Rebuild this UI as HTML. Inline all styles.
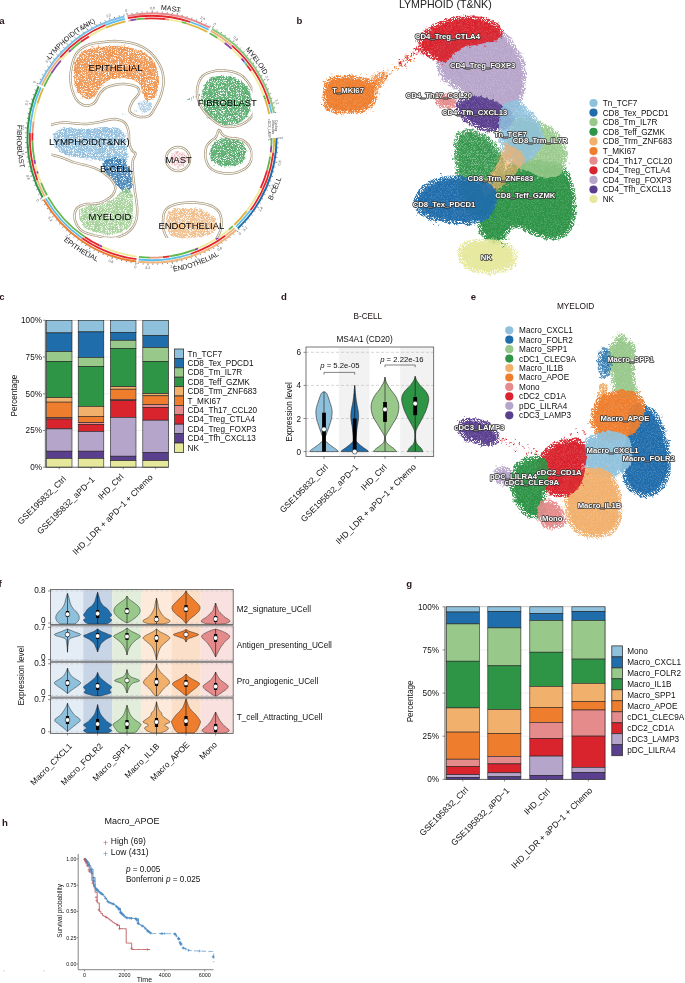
<!DOCTYPE html><html><head><meta charset="utf-8"><style>html,body{margin:0;padding:0;background:#fff;}svg{display:block;font-family:"Liberation Sans",sans-serif;will-change:transform;}</style></head><body><svg width="685" height="983" viewBox="0 0 685 983" font-family="Liberation Sans, sans-serif">
<rect width="685" height="983" fill="#fff"/>
<defs><filter id="scat" x="-3%" y="-3%" width="106%" height="106%" color-interpolation-filters="sRGB"><feTurbulence type="fractalNoise" baseFrequency="0.25" numOctaves="2" seed="2" result="t1"/><feDisplacementMap in="SourceGraphic" in2="t1" scale="4" xChannelSelector="R" yChannelSelector="G" result="disp"/><feTurbulence type="fractalNoise" baseFrequency="1.3" numOctaves="1" seed="5" result="t2"/><feColorMatrix in="t2" type="matrix" values="0 0 0 0 0 0 0 0 0 0 0 0 0 0 0 9 0 0 0 -3.4" result="mask"/><feComposite in="disp" in2="mask" operator="in" result="speck"/><feColorMatrix in="disp" type="matrix" values="0 0 0 0 0 0 0 0 0 0 0 0 0 0 0 0 0 0 1 0" result="a"/><feMorphology in="a" operator="erode" radius="2.5" result="ea"/><feComposite in="disp" in2="ea" operator="in" result="core"/><feMerge><feMergeNode in="speck"/><feMergeNode in="core"/></feMerge></filter><filter id="scat2" x="-3%" y="-3%" width="106%" height="106%" color-interpolation-filters="sRGB"><feTurbulence type="fractalNoise" baseFrequency="0.3" numOctaves="2" seed="4" result="t1"/><feDisplacementMap in="SourceGraphic" in2="t1" scale="3.5" xChannelSelector="R" yChannelSelector="G" result="disp"/><feTurbulence type="fractalNoise" baseFrequency="1.4" numOctaves="1" seed="9" result="t2"/><feColorMatrix in="t2" type="matrix" values="0 0 0 0 0 0 0 0 0 0 0 0 0 0 0 8 0 0 0 -2.75" result="mask"/><feComposite in="disp" in2="mask" operator="in"/></filter></defs>
<text x="-0.8" y="24.2" font-size="9.6" font-weight="bold" fill="#2a1818">a</text>
<path d="M127.4 15.9A124.6 124.6 0 0 1 209.7 27.6" fill="none" stroke="#E8898B" stroke-width="2.0"/>
<path d="M127.2 14.9L126.8 12.9M132.1 14L131.9 12.8M137.1 13.3L137 12.1M142.1 12.8L142 11.6M147.1 12.5L147.1 11.3M152.2 12.4L152.2 10.4M157.2 12.5L157.2 11.3M162.2 12.8L162.3 11.6M167.2 13.3L167.3 12.1M172.2 14L172.4 12.8M177.1 14.9L177.5 13M182 16L182.3 14.9M186.9 17.3L187.2 16.2M191.7 18.8L192.1 17.7M196.4 20.5L196.9 19.4M201.1 22.4L201.9 20.6M205.7 24.5L206.2 23.4M210.2 26.7L210.7 25.6" stroke="#333" stroke-width="0.6"/>
<path d="M127.8 18.2A122.2 122.2 0 0 1 190.3 22" fill="none" stroke="#E4262C" stroke-width="1.8"/>
<path d="M190.3 22A122.2 122.2 0 0 1 208.6 29.7" fill="none" stroke="#5BBDEB" stroke-width="1.8"/>
<path d="M128.4 20.8A119.6 119.6 0 0 1 130.4 20.4" fill="none" stroke="#EBB27D" stroke-width="1.8"/>
<path d="M130.4 20.4A119.6 119.6 0 0 1 136.3 19.4" fill="none" stroke="#8B45A6" stroke-width="1.8"/>
<path d="M136.3 19.4A119.6 119.6 0 0 1 144.4 18.6" fill="none" stroke="#66B74E" stroke-width="1.8"/>
<path d="M144.4 18.6A119.6 119.6 0 0 1 165.6 19.2" fill="none" stroke="#E4262C" stroke-width="1.8"/>
<path d="M165.6 19.2A119.6 119.6 0 0 1 169.1 19.6" fill="none" stroke="#EA9A7D" stroke-width="1.8"/>
<path d="M169.1 19.6A119.6 119.6 0 0 1 182 22.2" fill="none" stroke="#EEEA9A" stroke-width="1.8"/>
<path d="M182 22.2A119.6 119.6 0 0 1 186.7 23.5" fill="none" stroke="#66B74E" stroke-width="1.8"/>
<path d="M186.7 23.5A119.6 119.6 0 0 1 207.4 32" fill="none" stroke="#DDB33A" stroke-width="1.8"/>
<text transform="translate(126.3,10.6) rotate(348.6)" font-size="3.6" fill="#555" text-anchor="middle" dy="1.2">0</text>
<text transform="translate(152.2,8) rotate(360.1)" font-size="3.6" fill="#555" text-anchor="middle" dy="1.2">0.8</text>
<text transform="translate(178,10.6) rotate(371.5)" font-size="3.6" fill="#555" text-anchor="middle" dy="1.2">1.6</text>
<text transform="translate(202.8,18.3) rotate(383)" font-size="3.6" fill="#555" text-anchor="middle" dy="1.2">2.4</text>
<path d="M212 28.8A124.6 124.6 0 0 1 274.1 112.9" fill="none" stroke="#8DC67D" stroke-width="2.0"/>
<path d="M212.5 27.9L213.5 26.2M216.8 30.4L217.4 29.4M221 33L221.6 32M225 35.8L225.7 34.9M229 38.8L229.7 37.8M232.9 41.9L234.1 40.4M236.6 45.1L237.4 44.3M240.2 48.5L241 47.7M243.6 52.1L244.5 51.3M246.9 55.7L247.8 55M250.1 59.5L251.6 58.3M253.1 63.5L254.1 62.8M255.9 67.5L256.9 66.8M258.6 71.6L259.7 71M261.2 75.9L262.2 75.3M263.5 80.2L265.3 79.3M265.7 84.7L266.8 84.2M267.7 89.2L268.8 88.7M269.6 93.8L270.7 93.3M271.2 98.4L272.3 98.1M272.7 103.2L274.6 102.6M273.9 107.9L275.1 107.6M275 112.7L276.2 112.5" stroke="#333" stroke-width="0.6"/>
<path d="M210.9 30.9A122.2 122.2 0 0 1 231.9 45.6" fill="none" stroke="#EBB27D" stroke-width="1.8"/>
<path d="M231.9 45.6A122.2 122.2 0 0 1 269.4 104.2" fill="none" stroke="#E4262C" stroke-width="1.8"/>
<path d="M269.4 104.2A122.2 122.2 0 0 1 271.7 113.4" fill="none" stroke="#5BBDEB" stroke-width="1.8"/>
<path d="M209.6 33.2A119.6 119.6 0 0 1 217.5 37.9" fill="none" stroke="#66B74E" stroke-width="1.8"/>
<path d="M217.5 37.9A119.6 119.6 0 0 1 224.7 43" fill="none" stroke="#EEEA9A" stroke-width="1.8"/>
<path d="M224.7 43A119.6 119.6 0 0 1 231.7 48.8" fill="none" stroke="#8B45A6" stroke-width="1.8"/>
<path d="M231.7 48.8A119.6 119.6 0 0 1 241.5 58.7" fill="none" stroke="#EEEA9A" stroke-width="1.8"/>
<path d="M241.5 58.7A119.6 119.6 0 0 1 244.3 61.9" fill="none" stroke="#8B45A6" stroke-width="1.8"/>
<path d="M244.3 61.9A119.6 119.6 0 0 1 245.5 63.4" fill="none" stroke="#5BBDEB" stroke-width="1.8"/>
<path d="M245.5 63.4A119.6 119.6 0 0 1 247.3 65.8" fill="none" stroke="#66B74E" stroke-width="1.8"/>
<path d="M247.3 65.8A119.6 119.6 0 0 1 251.1 71.1" fill="none" stroke="#E4262C" stroke-width="1.8"/>
<path d="M251.1 71.1A119.6 119.6 0 0 1 263.8 95.6" fill="none" stroke="#EEEA9A" stroke-width="1.8"/>
<path d="M263.8 95.6A119.6 119.6 0 0 1 265.2 99.3" fill="none" stroke="#66B74E" stroke-width="1.8"/>
<path d="M265.2 99.3A119.6 119.6 0 0 1 269.2 114" fill="none" stroke="#DDB33A" stroke-width="1.8"/>
<text transform="translate(214.6,24.1) rotate(28.8)" font-size="3.6" fill="#555" text-anchor="middle" dy="1.2">0</text>
<text transform="translate(235.7,38.5) rotate(40.1)" font-size="3.6" fill="#555" text-anchor="middle" dy="1.2">0.8</text>
<text transform="translate(253.5,56.8) rotate(51.3)" font-size="3.6" fill="#555" text-anchor="middle" dy="1.2">1.6</text>
<text transform="translate(267.4,78.2) rotate(62.6)" font-size="3.6" fill="#555" text-anchor="middle" dy="1.2">2.4</text>
<text transform="translate(276.9,101.9) rotate(73.9)" font-size="3.6" fill="#555" text-anchor="middle" dy="1.2">3.2</text>
<path d="M276.6 138A124.6 124.6 0 0 1 237.8 228.4" fill="none" stroke="#1F6DAB" stroke-width="2.0"/>
<path d="M277.6 138L279.6 138M277.5 142.9L278.7 142.9M277.2 147.7L278.4 147.8M276.8 152.5L277.9 152.7M276.1 157.3L277.3 157.5M275.3 162.1L277.2 162.5M274.2 166.9L275.4 167.1M273 171.6L274.2 171.9M271.6 176.2L272.8 176.6M270.1 180.8L271.2 181.2M268.3 185.3L270.2 186.1M266.4 189.8L267.5 190.3M264.3 194.2L265.4 194.7M262.1 198.5L263.1 199.1M259.7 202.7L260.7 203.3M257.1 206.8L258.8 207.9M254.3 210.8L255.3 211.5M251.5 214.7L252.4 215.4M248.4 218.5L249.3 219.3M245.2 222.2L246.1 223M241.9 225.7L243.3 227.1M238.5 229.1L239.3 230" stroke="#333" stroke-width="0.6"/>
<path d="M274.2 138A122.2 122.2 0 0 1 273.3 152.6" fill="none" stroke="#DDB33A" stroke-width="1.8"/>
<path d="M273.3 152.6A122.2 122.2 0 0 1 250.5 210.3" fill="none" stroke="#E4262C" stroke-width="1.8"/>
<path d="M250.5 210.3A122.2 122.2 0 0 1 236.1 226.6" fill="none" stroke="#5BBDEB" stroke-width="1.8"/>
<path d="M271.6 138A119.6 119.6 0 0 1 271.3 146" fill="none" stroke="#66B74E" stroke-width="1.8"/>
<path d="M271.3 146A119.6 119.6 0 0 1 270.7 152.6" fill="none" stroke="#8B45A6" stroke-width="1.8"/>
<path d="M270.7 152.6A119.6 119.6 0 0 1 270.1 156.7" fill="none" stroke="#EEEA9A" stroke-width="1.8"/>
<path d="M270.1 156.7A119.6 119.6 0 0 1 267.1 170.6" fill="none" stroke="#66B74E" stroke-width="1.8"/>
<path d="M267.1 170.6A119.6 119.6 0 0 1 260.6 188.2" fill="none" stroke="#E4262C" stroke-width="1.8"/>
<path d="M260.6 188.2A119.6 119.6 0 0 1 246.6 211.1" fill="none" stroke="#EEEA9A" stroke-width="1.8"/>
<path d="M246.6 211.1A119.6 119.6 0 0 1 234.3 224.8" fill="none" stroke="#DDB33A" stroke-width="1.8"/>
<text transform="translate(282,138) rotate(270)" font-size="3.6" fill="#555" text-anchor="middle" dy="1.2">0</text>
<text transform="translate(279.6,163) rotate(281.1)" font-size="3.6" fill="#555" text-anchor="middle" dy="1.2">0.8</text>
<text transform="translate(272.4,187) rotate(292.1)" font-size="3.6" fill="#555" text-anchor="middle" dy="1.2">1.6</text>
<text transform="translate(260.8,209.2) rotate(303.2)" font-size="3.6" fill="#555" text-anchor="middle" dy="1.2">2.4</text>
<text transform="translate(245.1,228.8) rotate(314.3)" font-size="3.6" fill="#555" text-anchor="middle" dy="1.2">3.2</text>
<path d="M236.2 229.9A124.6 124.6 0 0 1 138.3 261.8" fill="none" stroke="#F0B57A" stroke-width="2.0"/>
<path d="M236.9 230.6L238.2 232.1M233.2 233.8L234 234.7M229.4 236.9L230.2 237.8M225.6 239.8L226.3 240.8M221.6 242.6L222.2 243.6M217.5 245.2L218.5 246.9M213.3 247.6L213.8 248.7M209 249.9L209.5 251M204.6 252.1L205.1 253.1M200.1 254L200.6 255.1M195.6 255.8L196.3 257.7M191 257.4L191.4 258.5M186.4 258.8L186.7 260M181.7 260L182 261.2M176.9 261.1L177.2 262.3M172.1 262L172.5 263.9M167.3 262.7L167.5 263.9M162.5 263.2L162.6 264.4M157.6 263.5L157.7 264.7M152.8 263.6L152.8 264.8M147.9 263.5L147.9 265.5M143.1 263.3L143 264.5M138.2 262.8L138.1 264" stroke="#333" stroke-width="0.6"/>
<path d="M234.6 228.1A122.2 122.2 0 0 1 225.2 235.8" fill="none" stroke="#EBB27D" stroke-width="1.8"/>
<path d="M225.2 235.8A122.2 122.2 0 0 1 190.5 254" fill="none" stroke="#E4262C" stroke-width="1.8"/>
<path d="M190.5 254A122.2 122.2 0 0 1 138.6 259.5" fill="none" stroke="#5BBDEB" stroke-width="1.8"/>
<path d="M232.8 226.2A119.6 119.6 0 0 1 228.9 229.6" fill="none" stroke="#66B74E" stroke-width="1.8"/>
<path d="M228.9 229.6A119.6 119.6 0 0 1 218.4 237.5" fill="none" stroke="#EEEA9A" stroke-width="1.8"/>
<path d="M218.4 237.5A119.6 119.6 0 0 1 215.6 239.3" fill="none" stroke="#8B45A6" stroke-width="1.8"/>
<path d="M215.6 239.3A119.6 119.6 0 0 1 198 248.4" fill="none" stroke="#EEEA9A" stroke-width="1.8"/>
<path d="M198 248.4A119.6 119.6 0 0 1 194.9 249.7" fill="none" stroke="#8B45A6" stroke-width="1.8"/>
<path d="M194.9 249.7A119.6 119.6 0 0 1 169.2 256.4" fill="none" stroke="#66B74E" stroke-width="1.8"/>
<path d="M169.2 256.4A119.6 119.6 0 0 1 162.7 257.1" fill="none" stroke="#E4262C" stroke-width="1.8"/>
<path d="M162.7 257.1A119.6 119.6 0 0 1 150 257.6" fill="none" stroke="#EA9A7D" stroke-width="1.8"/>
<path d="M150 257.6A119.6 119.6 0 0 1 138.9 256.9" fill="none" stroke="#66B74E" stroke-width="1.8"/>
<text transform="translate(239.8,233.8) rotate(317.5)" font-size="3.6" fill="#555" text-anchor="middle" dy="1.2">0</text>
<text transform="translate(219.7,249) rotate(328.6)" font-size="3.6" fill="#555" text-anchor="middle" dy="1.2">0.8</text>
<text transform="translate(197.1,259.9) rotate(339.7)" font-size="3.6" fill="#555" text-anchor="middle" dy="1.2">1.6</text>
<text transform="translate(172.8,266.3) rotate(350.8)" font-size="3.6" fill="#555" text-anchor="middle" dy="1.2">2.4</text>
<text transform="translate(147.8,267.9) rotate(361.9)" font-size="3.6" fill="#555" text-anchor="middle" dy="1.2">3.2</text>
<path d="M136.2 261.6A124.6 124.6 0 0 1 43.7 199.5" fill="none" stroke="#EE7E2E" stroke-width="2.0"/>
<path d="M136 262.6L135.8 264.6M131.2 261.9L131 263.1M126.5 261L126.2 262.2M121.7 259.9L121.5 261.1M117.1 258.6L116.7 259.8M112.4 257.2L111.8 259.1M107.9 255.6L107.4 256.7M103.4 253.8L102.9 254.9M98.9 251.8L98.4 252.9M94.6 249.7L94 250.8M90.3 247.4L89.3 249.1M86.1 244.9L85.5 246M82 242.3L81.4 243.3M78.1 239.5L77.4 240.5M74.2 236.6L73.5 237.5M70.5 233.5L69.2 235M66.8 230.3L66 231.2M63.3 226.9L62.5 227.8M60 223.5L59.1 224.3M56.7 219.8L55.8 220.6M53.6 216.1L52.1 217.3M50.7 212.2L49.7 213M47.9 208.3L46.9 209M45.3 204.2L44.2 204.8M42.8 200L41.7 200.6" stroke="#333" stroke-width="0.6"/>
<path d="M136.5 259.2A122.2 122.2 0 0 1 82.2 238.3" fill="none" stroke="#E4262C" stroke-width="1.8"/>
<path d="M82.2 238.3A122.2 122.2 0 0 1 45.7 198.4" fill="none" stroke="#5BBDEB" stroke-width="1.8"/>
<path d="M136.8 256.6A119.6 119.6 0 0 1 102 246.6" fill="none" stroke="#EEEA9A" stroke-width="1.8"/>
<path d="M102 246.6A119.6 119.6 0 0 1 99.3 245.4" fill="none" stroke="#8B45A6" stroke-width="1.8"/>
<path d="M99.3 245.4A119.6 119.6 0 0 1 84.8 236.9" fill="none" stroke="#E4262C" stroke-width="1.8"/>
<path d="M84.8 236.9A119.6 119.6 0 0 1 48 197.1" fill="none" stroke="#66B74E" stroke-width="1.8"/>
<text transform="translate(135.5,266.9) rotate(367.3)" font-size="3.6" fill="#555" text-anchor="middle" dy="1.2">0</text>
<text transform="translate(111,261.4) rotate(378.4)" font-size="3.6" fill="#555" text-anchor="middle" dy="1.2">0.8</text>
<text transform="translate(88.1,251.2) rotate(389.4)" font-size="3.6" fill="#555" text-anchor="middle" dy="1.2">1.6</text>
<text transform="translate(67.6,236.9) rotate(400.5)" font-size="3.6" fill="#555" text-anchor="middle" dy="1.2">2.4</text>
<text transform="translate(50.2,218.8) rotate(411.6)" font-size="3.6" fill="#555" text-anchor="middle" dy="1.2">3.2</text>
<path d="M42.6 197.6A124.6 124.6 0 0 1 38.6 86.3" fill="none" stroke="#2E9446" stroke-width="2.0"/>
<path d="M41.7 198.1L40 199.1M39.5 193.8L38.4 194.4M37.4 189.4L36.3 189.9M35.5 185L34.4 185.4M33.8 180.4L32.7 180.8M32.2 175.8L30.3 176.4M30.9 171.2L29.7 171.5M29.7 166.5L28.5 166.8M28.7 161.8L27.5 162M27.8 157L26.7 157.2M27.2 152.2L25.2 152.4M26.7 147.3L25.6 147.4M26.5 142.5L25.3 142.5M26.4 137.6L25.2 137.6M26.5 132.8L25.3 132.7M26.8 128L24.8 127.8M27.3 123.1L26.1 123M28 118.3L26.8 118.1M28.8 113.6L27.6 113.3M29.8 108.8L28.7 108.5M31.1 104.1L29.1 103.6M32.5 99.5L31.3 99.1M34 94.9L32.9 94.5M35.8 90.4L34.7 89.9M37.7 85.9L36.6 85.4" stroke="#333" stroke-width="0.6"/>
<path d="M44.7 196.5A122.2 122.2 0 0 1 37.3 180.1" fill="none" stroke="#EBB27D" stroke-width="1.8"/>
<path d="M37.3 180.1A122.2 122.2 0 0 1 29.9 133" fill="none" stroke="#E4262C" stroke-width="1.8"/>
<path d="M29.9 133A122.2 122.2 0 0 1 40.8 87.3" fill="none" stroke="#5BBDEB" stroke-width="1.8"/>
<path d="M47 195.3A119.6 119.6 0 0 1 41.1 182.8" fill="none" stroke="#66B74E" stroke-width="1.8"/>
<path d="M41.1 182.8A119.6 119.6 0 0 1 37.8 173.5" fill="none" stroke="#EEEA9A" stroke-width="1.8"/>
<path d="M37.8 173.5A119.6 119.6 0 0 1 37.1 171.2" fill="none" stroke="#8B45A6" stroke-width="1.8"/>
<path d="M37.1 171.2A119.6 119.6 0 0 1 35.2 163.7" fill="none" stroke="#EEEA9A" stroke-width="1.8"/>
<path d="M35.2 163.7A119.6 119.6 0 0 1 34.4 159.9" fill="none" stroke="#8B45A6" stroke-width="1.8"/>
<path d="M34.4 159.9A119.6 119.6 0 0 1 32.4 140.7" fill="none" stroke="#66B74E" stroke-width="1.8"/>
<path d="M32.4 140.7A119.6 119.6 0 0 1 32.5 133" fill="none" stroke="#E4262C" stroke-width="1.8"/>
<path d="M32.5 133A119.6 119.6 0 0 1 33.6 121.4" fill="none" stroke="#EA9A7D" stroke-width="1.8"/>
<path d="M33.6 121.4A119.6 119.6 0 0 1 37.5 103.5" fill="none" stroke="#EEEA9A" stroke-width="1.8"/>
<path d="M37.5 103.5A119.6 119.6 0 0 1 43.2 88.4" fill="none" stroke="#DDB33A" stroke-width="1.8"/>
<text transform="translate(37.9,200.2) rotate(421.4)" font-size="3.6" fill="#555" text-anchor="middle" dy="1.2">0</text>
<text transform="translate(28,177.2) rotate(432.5)" font-size="3.6" fill="#555" text-anchor="middle" dy="1.2">0.8</text>
<text transform="translate(22.8,152.7) rotate(443.5)" font-size="3.6" fill="#555" text-anchor="middle" dy="1.2">1.6</text>
<text transform="translate(22.4,127.6) rotate(274.6)" font-size="3.6" fill="#555" text-anchor="middle" dy="1.2">2.4</text>
<text transform="translate(26.8,102.9) rotate(285.6)" font-size="3.6" fill="#555" text-anchor="middle" dy="1.2">3.2</text>
<path d="M39.5 84.4A124.6 124.6 0 0 1 124.4 16.5" fill="none" stroke="#7EC0E6" stroke-width="2.0"/>
<path d="M38.6 83.9L36.8 83.1M40.8 79.5L39.8 79M43.2 75.2L42.2 74.6M45.8 71L44.8 70.3M48.5 66.9L47.5 66.2M51.3 62.9L49.7 61.7M54.4 59L53.4 58.2M57.5 55.2L56.6 54.4M60.9 51.6L60 50.7M64.3 48.1L63.5 47.2M67.9 44.7L66.6 43.2M71.6 41.5L70.9 40.5M75.5 38.4L74.8 37.4M79.5 35.5L78.8 34.5M83.5 32.7L82.9 31.7M87.7 30.1L86.7 28.4M92 27.7L91.4 26.6M96.4 25.4L95.8 24.3M100.8 23.3L100.3 22.2M105.4 21.4L104.9 20.3M110 19.6L109.3 17.8M114.7 18.1L114.3 16.9M119.4 16.7L119.1 15.5M124.2 15.5L123.9 14.4" stroke="#333" stroke-width="0.6"/>
<path d="M41.7 85.4A122.2 122.2 0 0 1 60.3 57.3" fill="none" stroke="#EBB27D" stroke-width="1.8"/>
<path d="M60.3 57.3A122.2 122.2 0 0 1 105.5 25" fill="none" stroke="#E4262C" stroke-width="1.8"/>
<path d="M105.5 25A122.2 122.2 0 0 1 124.9 18.8" fill="none" stroke="#5BBDEB" stroke-width="1.8"/>
<path d="M44.1 86.5A119.6 119.6 0 0 1 51.5 73.1" fill="none" stroke="#66B74E" stroke-width="1.8"/>
<path d="M51.5 73.1A119.6 119.6 0 0 1 60.9 60.5" fill="none" stroke="#8B45A6" stroke-width="1.8"/>
<path d="M60.9 60.5A119.6 119.6 0 0 1 68.9 51.9" fill="none" stroke="#EEEA9A" stroke-width="1.8"/>
<path d="M68.9 51.9A119.6 119.6 0 0 1 71 50" fill="none" stroke="#8B45A6" stroke-width="1.8"/>
<path d="M71 50A119.6 119.6 0 0 1 80.9 41.8" fill="none" stroke="#66B74E" stroke-width="1.8"/>
<path d="M80.9 41.8A119.6 119.6 0 0 1 89 36.4" fill="none" stroke="#E4262C" stroke-width="1.8"/>
<path d="M89 36.4A119.6 119.6 0 0 1 105.9 27.7" fill="none" stroke="#EEEA9A" stroke-width="1.8"/>
<path d="M105.9 27.7A119.6 119.6 0 0 1 125.5 21.4" fill="none" stroke="#DDB33A" stroke-width="1.8"/>
<text transform="translate(34.7,82) rotate(295.5)" font-size="3.6" fill="#555" text-anchor="middle" dy="1.2">0</text>
<text transform="translate(47.8,60.2) rotate(306.7)" font-size="3.6" fill="#555" text-anchor="middle" dy="1.2">0.8</text>
<text transform="translate(65,41.4) rotate(318)" font-size="3.6" fill="#555" text-anchor="middle" dy="1.2">1.6</text>
<text transform="translate(85.5,26.3) rotate(329.2)" font-size="3.6" fill="#555" text-anchor="middle" dy="1.2">2.4</text>
<text transform="translate(108.5,15.5) rotate(340.5)" font-size="3.6" fill="#555" text-anchor="middle" dy="1.2">3.2</text>
<text transform="translate(268.3,119) rotate(90)" font-size="3.4" fill="#555">cDC3_LAMP3</text>
<text transform="translate(275.3,120) rotate(90)" font-size="3.4" fill="#555">Cycling</text>
<text transform="translate(272.3,120) rotate(90)" font-size="3.4" fill="#555">Unknown</text>
<defs><path id="cw" d="M152 9.5A128.5 128.5 0 1 1 151.9 9.5"/><path id="ccw" d="M152 2.7A135.3 135.3 0 1 0 152.1 2.7"/></defs>
<text font-size="7" fill="#111"><textPath href="#cw" startOffset="2.3%" text-anchor="middle">MAST</textPath></text>
<text font-size="7" fill="#111"><textPath href="#cw" startOffset="14.9%" text-anchor="middle">MYELOID</textPath></text>
<text font-size="7" fill="#111"><textPath href="#cw" startOffset="89.1%" text-anchor="middle">LYMPHOID(T&amp;NK)</textPath></text>
<text font-size="7" fill="#111"><textPath href="#ccw" startOffset="68.8%" text-anchor="middle">B-CELL</textPath></text>
<text font-size="7" fill="#111"><textPath href="#ccw" startOffset="55.4%" text-anchor="middle">ENDOTHELIAL</textPath></text>
<text font-size="7" fill="#111"><textPath href="#ccw" startOffset="41%" text-anchor="middle">EPITHELIAL</textPath></text>
<text font-size="7" fill="#111"><textPath href="#ccw" startOffset="26%" text-anchor="middle">FIBROBLAST</textPath></text>
<g filter="url(#scat2)">
<path d="M76 60 L77.3 57.8 L78.8 55.5 L80.6 53.4 L82.7 51.5 L85 50 L87.6 48.9 L90.4 48.2 L93.5 47.7 L96.7 47.4 L100 47 L103.4 46.6 L107 46.3 L110.7 46 L114.4 45.9 L118 46 L121.5 46.3 L125.1 46.8 L128.5 47.4 L131.9 48.1 L135 49 L137.9 49.9 L140.7 50.9 L143.4 52.1 L145.8 53.4 L148 55 L150 56.8 L151.8 58.9 L153.4 61.1 L154.8 63.5 L156 66 L157 68.6 L157.8 71.5 L158.4 74.4 L158.8 77.3 L159 80 L159 82.6 L158.7 85.1 L158.3 87.6 L157.7 89.9 L157 92 L156.2 94 L155.3 95.9 L154.2 97.6 L153.1 99 L152 100 L150.8 100.6 L149.6 101 L148.3 101 L147.1 100.6 L146 100 L145 98.9 L144.2 97.3 L143.4 95.5 L142.6 93.7 L142 92 L141.6 90.5 L141.3 89 L141.1 87.6 L140.7 86.3 L140 85 L139 83.8 L137.8 82.7 L136.5 81.7 L134.9 80.8 L133 80 L130.8 79.3 L128.2 78.7 L125.5 78.3 L122.7 78 L120 78 L117.3 78.2 L114.5 78.6 L111.8 79.3 L109.2 80.1 L107 81 L105.2 82.1 L103.7 83.5 L102.4 84.9 L101.2 86.5 L100 88 L98.9 89.6 L98 91.4 L97 93.1 L96.1 94.7 L95 96 L93.7 97 L92.4 97.9 L91 98.5 L89.5 98.9 L88 99 L86.4 98.7 L84.7 98.2 L83 97.4 L81.4 96.3 L80 95 L78.7 93.4 L77.6 91.6 L76.6 89.5 L75.7 87.3 L75 85 L74.5 82.6 L74.2 80 L74 77.3 L73.9 74.6 L74 72 L74.1 69.5 L74.2 67 L74.6 64.6 L75.1 62.3Z" fill="#EC8638" fill-opacity="0.8"/>
<path d="M101 53.2h0M119.6 65.6h0M75.7 69.6h0M85.1 51.2h0M88.4 78.2h0M120.7 48.1h0M132.4 69.2h0M112.3 61.8h0M93.9 77.8h0M136.7 61.1h0M75.9 83.2h0M149.5 62.6h0M123.5 70.9h0M87.2 51.2h0M83.8 58.8h0M79.5 70.5h0M144.6 94.6h0M88 57.9h0M124.3 59.7h0M105 77.3h0M151.7 89.7h0M107 67.6h0M102.4 47.5h0M81.4 65.5h0M126.5 53h0M104.5 51.5h0M113.5 72.5h0M102.6 59.8h0M148.5 84.8h0M87.2 89.2h0M101.5 57.4h0M147.5 91.2h0M92.4 74.5h0M89.8 56.3h0M146.4 72.2h0M79.9 82.8h0M138.5 72.2h0M83.6 53.2h0M85.3 92.4h0M103.3 76.3h0M157.9 82.1h0M94.6 61.4h0M95.3 68.7h0M103.6 71h0M136.3 76.7h0M94.3 60.5h0M126.4 73.8h0M112.3 75.4h0M83.2 70.1h0M78.9 83.3h0M86 86h0M107.5 72.7h0M86.7 69.5h0M89.7 62.9h0M121.2 70h0M127.4 74.1h0M85.6 97.8h0M79.8 94.1h0M112.4 64.1h0M96 51.9h0M82.1 53.8h0M99.9 62.1h0M116.5 54.7h0M89.1 72h0M144.6 69.5h0M107.1 73.8h0M108.1 64.6h0M78.7 87.4h0M79.9 93.2h0M97.3 58.5h0M86.3 70.3h0M158.1 76.2h0M99.7 65.1h0M114.2 73.6h0M124 75.1h0M76.3 92.9h0M81.7 92.9h0M79 59.8h0M129 48.9h0M137.9 62.1h0M131.9 61.3h0M113.5 51.3h0M84.9 74.8h0M144.7 73.9h0M92.8 96.5h0M84.8 64.4h0M154 85.8h0M105.2 67.2h0M104.2 69.3h0M94.4 59.8h0M138.7 81.8h0M98.7 87.3h0M130.2 61.9h0M87.2 53.8h0M116.2 57.2h0M112.1 52.5h0M102.6 49.7h0M108.9 74.8h0M77.9 60.5h0M96.3 58.8h0M75.3 85.6h0M124.1 44.4h0M145.1 94.1h0M155.3 86.3h0M112.7 76.4h0M92.9 97.8h0M83.7 59h0M106.6 57.4h0M99 71.2h0M150.3 72h0M157 85.3h0M102.2 68.8h0M142.6 87.3h0M91.9 88.6h0M116.1 55.3h0M77.7 67.2h0M88.8 98.7h0M131 66.4h0M76.8 71.9h0M89.4 65.6h0M156.8 80.2h0M100.3 60.4h0M153.1 81.2h0M93 72h0M106.5 59h0M144.9 89.3h0M100.6 65.4h0M89.8 88.1h0M80.9 73.3h0M93.1 68.6h0M146.5 61.5h0M137.4 56h0M85.9 95.7h0M143.6 82.3h0M76 61.5h0M148.7 70.5h0M91.6 65.8h0M94.9 79.2h0M99.9 56.2h0M128.7 49.7h0M108.5 60.9h0M99.9 77.3h0M136.6 56.2h0M113 53.8h0M105.1 73.7h0M154 66.9h0M91.7 67.6h0M83.3 58.8h0M76.1 77.1h0M127.7 62.2h0M114.1 50.6h0M80.5 70.1h0M117.5 47.6h0M139 53.6h0M144.3 52.7h0M90.8 59.7h0M75.7 55h0M82.6 75.2h0M149.3 76.6h0M142.7 59.8h0M126.7 69.5h0M84.1 57.6h0M92.2 78.3h0M127.4 72h0M93.9 53.1h0M149.2 89.8h0M129.3 70.2h0M108.2 58.2h0M73.5 76.4h0M90 79.7h0M144.1 54.5h0M137.8 70.7h0M92.9 46.7h0M121.2 69.7h0M95.8 81.7h0M149.9 63.5h0M91.1 80.6h0M102.8 52.6h0M133.4 81.2h0M78.2 78.7h0M144.6 96.1h0M100.5 69h0M97.3 86h0M103 85.3h0M88.7 73.1h0M134 73.3h0M79.6 90.1h0M127.7 65.1h0M90.6 59.7h0M103.1 63.4h0M140.5 78h0M150.4 58.2h0M94.2 63.4h0M101.3 55.4h0M89.7 81.4h0M106.6 46.4h0M133.5 73.5h0M84.9 79.5h0M152.4 69.4h0M109.5 57.7h0M140.6 85.1h0M128.9 70.8h0M81.1 68.8h0M127.9 58.9h0M127.2 68.2h0M88.6 82.4h0M86.6 89.8h0M81.3 77.8h0M103.7 47.7h0M103.5 59.8h0M155.2 75h0M107 56.7h0M143.7 81.2h0M144.5 91.8h0M120.7 51.7h0M147.4 59.9h0M110 55.2h0M97.2 58.6h0M152.2 89.9h0M130.2 58.9h0M93 89.5h0M152.1 90.4h0M121.3 59.8h0M115.9 47.8h0M115.7 73.3h0M109.6 76.6h0M145.3 67.8h0M101.6 62.8h0M150.4 76.1h0M132.4 56.7h0M139.6 50.3h0M144.9 90.1h0M99 68.9h0M153.3 70.3h0M108.8 50.3h0M137 55.3h0M115.3 47.9h0M104.4 81.8h0M122.4 61.4h0M144.3 95.9h0M147.4 91.3h0M103 49.3h0M90.1 88h0M94.9 88h0M80.2 91.2h0M88.4 85.1h0M107.9 74.4h0M141.8 53.5h0M118.2 45.6h0M148.7 72.6h0M141.1 69.1h0M90.1 54.9h0M111.9 53.7h0M92 46.7h0M151.9 96.9h0M141.7 85.6h0M132 61.8h0M81.7 63.2h0M114.8 54.2h0M148.8 96h0M81 98.3h0M112.3 64.1h0M127.8 52.7h0M135.3 76.5h0M95.9 68.3h0M146.4 63.8h0M114.5 61h0M81 61.2h0M136.4 61.5h0M143.5 64.2h0M145.7 75h0M88.3 89.1h0M96.6 56.4h0M143.9 78.3h0M137 68.1h0M143.8 63.9h0M149.2 59.9h0M104.8 53.9h0M83.1 85.9h0M100.7 85.7h0M117.6 75.2h0M94.5 91.8h0M134 55.7h0M123.2 74.8h0M149 86h0M115.9 73.5h0M108.2 52.4h0M85.4 77.7h0M146.4 74.9h0M140.9 64.1h0M144.2 93.6h0M128.2 65.6h0M110.6 73.7h0M143.7 95.7h0M128.9 59.8h0M118.3 69.6h0M99.3 82h0M156.6 74.2h0M119.5 53h0M98.3 68h0M80.2 76.1h0M113 76.2h0M99.8 58.5h0M106.2 78.4h0M148.3 58.3h0M77.9 66.9h0M82.1 57.5h0M86.1 64h0M141.6 85.5h0M112.3 71h0M106.8 76.6h0M88.7 62.1h0M123.7 49.5h0M146.7 93.1h0M122.2 73.3h0M132.8 67h0M81.2 66.1h0M151.2 84.5h0M150.7 68.8h0M117.5 73.7h0M128.5 46.9h0M99.5 84.5h0M146.6 78.4h0M83.1 53.5h0M140.3 63.2h0M87.4 59.9h0M123.7 64.7h0M154.4 94h0M144.3 62h0M135.7 57.3h0M104 55.2h0M121.9 51.1h0M107.9 48.2h0M103.4 58.6h0M86.2 85.4h0M146 51.8h0M143.3 53.7h0M116.9 57.6h0M134.7 59.5h0M104.8 58.7h0M96.3 89.2h0M122.4 62.5h0M88 93.8h0M82 77h0M98.6 48.2h0M83.6 86h0M152.5 89.4h0M84.1 60.5h0M130.9 64.8h0M134 58.8h0M127.8 55h0M86.7 55.9h0M146.4 77.5h0M145.9 89.5h0M147.7 79.7h0M82.2 90.4h0M77.2 84.9h0M157.8 81.4h0M77.7 65.2h0M99.8 52.3h0M93.4 58.4h0M154.9 64.8h0M84.9 77.1h0M125.2 71.2h0M82.5 61.2h0M77.8 60.7h0M111.9 51h0M104.4 54.2h0M110.7 55.4h0M153.4 81.8h0M129.9 59h0M88.8 81.5h0M87.3 90h0M101.2 55.1h0M104.9 76.4h0M144.6 85.4h0M116 73.4h0M123.6 49.1h0M111.1 55.5h0M146.5 94.1h0M97.4 82.8h0M102.3 69.9h0M122.1 64.6h0M100.9 71.1h0M148.6 101h0M98.6 77.6h0M129.4 61.8h0M79.9 82.8h0M109.1 75.2h0M82.5 54.9h0M82.3 94.5h0M119.2 59h0M92.4 77.7h0M124.3 49.1h0M81.4 92.6h0M157 77.1h0M134.7 69.1h0M149.2 77.1h0M87.2 87.7h0M125.6 50.2h0M89.5 70.3h0M88.8 76.6h0M106 52.8h0M102.6 53.2h0M132.3 67.2h0M146.9 67.2h0M79.1 63.5h0M124.3 46.9h0M113.6 77.9h0M131.5 60.2h0M95.5 77.4h0M149.3 89.4h0M104.4 60.8h0M155.1 84h0M137.6 74h0M120.9 68h0M93.9 58h0M122.5 62h0M99 62.3h0M78.4 72.5h0M134.5 57.1h0M89 75.6h0M129.6 67.9h0M77.5 68.5h0M101.9 73.1h0M101.4 49.8h0M119.9 78.6h0M125.4 63.6h0M121.3 55h0M85.6 54.7h0M142.9 71.1h0M81.9 87h0M92.2 59h0M92.8 56.2h0M86.2 94.5h0M125.1 70.7h0M90.9 95.7h0M98.6 45.8h0M81 54.2h0M110.4 50.5h0M84.4 69.3h0M85.5 87.3h0M103.6 73.2h0M96.5 54.7h0M76.2 73.9h0M120.3 76.3h0M149.4 86.1h0M108.5 52.7h0M105.6 58.4h0M146.7 89.9h0M133.6 63.2h0M147.6 74h0M93.1 81h0M135.2 67.3h0M132.1 63.1h0M92.1 80h0M91.9 52.7h0M118.6 75h0M87.6 92.1h0M145.3 96.3h0M86 59h0M143.2 74.7h0M132.3 65.7h0M105.1 64.2h0M90.1 77.5h0M135.7 60.4h0M90.2 69h0M105.2 47h0M135.2 61.6h0M143.8 64.9h0M139 66.4h0M151.8 88.4h0M113.2 71.2h0M79.2 91.9h0M138.8 77.2h0M135.1 72.4h0M109.2 78.3h0M100 59.2h0M117.4 68.8h0M148.8 91h0M113.3 72.8h0M143 56h0M76.9 62.7h0M122.2 63.2h0M98.1 85.7h0M77.5 69.6h0M153.7 77h0M132.8 53.4h0M123.7 62.9h0M152.7 63.2h0M80.7 71.4h0M132.2 51.1h0M98 64.6h0M125.1 75.8h0M101.8 70.5h0M88.2 90.1h0M121.7 50h0M124.9 71.2h0M81 82h0M103.5 66.2h0" stroke="#EC8638" stroke-width="0.9" stroke-linecap="round" fill="none"/>
<path d="M138 104 L138.9 103 L140.4 102.2 L142.4 101.5 L144.3 101.1 L146 101 L147.5 101.2 L148.9 101.6 L150.3 102.2 L151.3 103 L152 104 L152.2 105.2 L152.1 106.8 L151.6 108.4 L150.9 109.9 L150 111 L148.7 111.7 L147 112.3 L145.2 112.5 L143.4 112.5 L142 112 L140.8 110.9 L139.5 109.2 L138.5 107.3 L138 105.4Z" fill="#9CC3E0" fill-opacity="0.6"/>
<path d="M151.5 106.5h0M138.5 106.3h0M145.2 104.8h0M140 101.3h0M144.9 111h0M146.7 110.9h0M140.7 108.2h0M147.1 109.6h0M150.4 106.2h0M152.7 105.5h0M140.7 110.2h0M142.4 101.5h0M144.7 106.7h0M149.4 108.8h0M142.5 101.9h0M146.6 105.8h0M144.4 102.9h0M148.3 109.8h0M142.3 108.1h0M150.5 105.6h0M142.3 102.6h0M147.1 103.7h0M148.6 105.9h0M138.5 109.4h0M139.6 103.4h0M143.3 106.8h0M145.6 99.5h0M138.2 107.5h0M143 113h0M142.7 109.1h0M145.5 109.3h0M148.3 107.6h0M143.2 110.4h0M149.6 103.7h0M143 113.5h0M150.2 104.5h0M144.2 111.7h0M146.1 109.2h0M147.3 103.3h0M150.7 107.7h0" stroke="#9CC3E0" stroke-width="0.9" stroke-linecap="round" fill="none"/>
<path d="M55 133 L56.3 131.6 L57.9 130.4 L59.8 129.4 L62.2 128.6 L65 128 L68.4 127.9 L72.3 128.1 L76.5 128.5 L80.8 128.9 L85 129 L89.1 128.7 L93.3 128.3 L97.5 127.7 L101.4 127.3 L105 127 L108.2 126.9 L111 126.9 L113.6 127.1 L116 127.4 L118 128 L119.7 128.8 L121.1 129.8 L122.2 131 L123.2 132.4 L124 134 L124.7 135.9 L125.1 138.1 L125.4 140.4 L125.7 142.8 L126 145 L126.5 147.1 L127 149.2 L127.6 151.3 L127.9 153.2 L128 155 L127.8 156.7 L127.4 158.2 L126.7 159.6 L125.9 160.9 L125 162 L123.9 163 L122.6 163.8 L121.2 164.4 L119.7 164.8 L118 165 L116.2 164.8 L114.2 164.2 L112.1 163.4 L110 162.6 L108 162 L106 161.5 L104.1 161.1 L102.2 160.8 L100.2 160.4 L98 160 L95.6 159.6 L93.1 159.2 L90.5 158.8 L87.8 158.4 L85 158 L82.1 157.7 L79 157.4 L75.9 157.1 L72.8 156.7 L70 156 L67.3 155.1 L64.6 154 L62.1 152.7 L59.8 151.4 L58 150 L56.6 148.5 L55.6 147 L54.9 145.4 L54.4 143.7 L54 142 L53.7 140.2 L53.6 138.3 L53.7 136.4 L54.1 134.6Z" fill="#82B6DA" fill-opacity="0.8"/>
<path d="M72.7 135.4h0M110.4 153.3h0M60.7 138h0M101.2 153.9h0M124.9 155.9h0M114.5 139.8h0M93.3 146.8h0M62.4 139.3h0M91 160.4h0M83.3 149h0M113.1 159.9h0M110.5 146h0M109.6 159.1h0M62.3 154.3h0M73.2 134.2h0M106.2 128.4h0M100.8 139.4h0M114.7 147.5h0M100.9 155.2h0M91.7 149.6h0M87.2 153.5h0M78.6 133.2h0M95.5 154.2h0M125.5 163.2h0M57 133.9h0M108 151.3h0M64.8 151.4h0M114.4 144.1h0M122.7 158.1h0M62 129.9h0M68.3 135.8h0M108.8 141.2h0M57.6 138.7h0M89.6 151.7h0M122.2 141.1h0M61.9 133.6h0M101.4 154.5h0M108.2 127.6h0M104.2 154.7h0M105.7 144.8h0M98.5 128h0M69.8 141.5h0M101.2 155.9h0M124.1 151.7h0M64.7 146.5h0M95.1 159.2h0M98.1 158.3h0M94.3 137.4h0M87.6 130.4h0M85.3 130h0M117.8 129.6h0M111.1 131.5h0M105.7 150h0M83.6 150.5h0M108.8 158.1h0M86.3 154.4h0M79.1 138.8h0M71.4 142.4h0M112.1 162h0M80.5 147.5h0M93.2 152.1h0M59 134.2h0M65.8 143.4h0M109.8 156.4h0M126.7 151.8h0M98.4 154h0M60.8 145.7h0M75.6 142.2h0M108.5 129.3h0M118.3 158.4h0M103.1 149.5h0M63.2 129.4h0M102.6 148.8h0M80.3 155.1h0M71.6 140.5h0M111.3 134.6h0M81.8 140.4h0M87.7 154.7h0M89.2 132.6h0M61.3 128.2h0M124.6 148.2h0M109.7 148.5h0M118.5 129.9h0M70.7 132.4h0M58.5 136.3h0M108.7 128.5h0M68 152.7h0M102.6 146.6h0M109.4 147.5h0M98.9 152.2h0M125.3 155.8h0M122 132.9h0M86.1 131.2h0M100.2 134.3h0M77 142.1h0M53.9 140.8h0M95.6 154.7h0M92.5 149.3h0M70.2 132.3h0M74.5 137.3h0M84.6 147.2h0M102.7 146.5h0M103 149.5h0M96.2 132.9h0M70.4 140.5h0M104.1 158.3h0M104.6 154.6h0M126.3 157.7h0M126.2 133.9h0M121.8 135h0M103.4 156.9h0M68.7 136.4h0M83.5 142.7h0M125 149.1h0M85.9 132.6h0M104.4 132h0M111.5 159.7h0M75.4 135.9h0M117.9 161.4h0M76.9 142.6h0M100.4 154h0M108.5 139.5h0M124 148.4h0M105.7 141.3h0M113.8 158.4h0M66.9 154.5h0M62.8 133.3h0M101.2 135.3h0M93.4 155.2h0M69.2 137.4h0M103.4 136.1h0M111.8 159.4h0M113.6 138.1h0M91.9 131.6h0M87.8 133.5h0M92.5 140.3h0M112.1 129.8h0M89.5 135.8h0M76.7 145h0M80.9 143.8h0M100 129.7h0M62.1 144.6h0M58.7 141.6h0M56.1 137.3h0M60.4 128.3h0M116.6 132.4h0M85.1 139.3h0M121.1 162.6h0M98.9 137.3h0M108.9 130.8h0M71.9 144.7h0M118.2 138.6h0M78.5 133.1h0M118.9 149h0M117.8 159.1h0M81.1 139.9h0M120.8 156.5h0M114.3 166.1h0M115 135.8h0M117.1 130.9h0M115.6 139.6h0M104.5 152.2h0M94.5 144.1h0M112.6 161.2h0M71.4 129.6h0M113.8 134.8h0M109.5 133.6h0M121.4 144.8h0M97.6 159.5h0M80.2 140.3h0M85.6 154.9h0M92.6 159.1h0M69.3 156h0M77.6 155.5h0M90.8 152.9h0M122.5 148.1h0M100.9 158.4h0M72.2 136.8h0M88.3 129.2h0M107.6 156.2h0M92.1 132.6h0M67.7 149.5h0M107.2 154.6h0M63.1 144.3h0M64.6 142.3h0M64.6 134.4h0M76.5 146.2h0M88.6 133.6h0M83.3 140h0M105.6 141.5h0M79.5 151.3h0M85.6 137.7h0M118 157.9h0M66.2 130.2h0M124 151.7h0M82.1 150.4h0M80.8 141.4h0M93.8 136.8h0M64.5 153.8h0M56.6 136.3h0M122.6 164.3h0M110 160.7h0M119.7 156.4h0M106.9 151.3h0M66.1 150.5h0M71.7 135h0M106.7 132.6h0M79.3 155.7h0M104.8 126.8h0M96.7 144h0M78.2 141.7h0M122.9 148.5h0M81.8 153.8h0M112.9 146.6h0M84.2 152.9h0M99.7 138.4h0M122.1 158h0M128.8 153.7h0M72.4 150.5h0M89.9 136.7h0M124.1 156.5h0M73.5 130.1h0M108.3 136h0M59.7 145.7h0M102.7 136.8h0M114.7 156.6h0M110.1 131.4h0M101.4 140.9h0M54.7 145.1h0M107.7 155.4h0M66.4 131h0M66.5 146h0M124.1 144.9h0M127.3 157.1h0M118.3 143.6h0M114.5 153.4h0M88 159.2h0M64.5 153.5h0M65.1 131.1h0M72.8 140.5h0M97.7 132.1h0M54.3 133.8h0M100.8 148.6h0M118.9 152.9h0M91.4 130.3h0M53.1 133.8h0M92 138.7h0M80.3 152.6h0M108.3 148.1h0M71.8 131.2h0M97.7 158.3h0M96.6 148.4h0M110.7 135.4h0M59.3 145h0M111.3 134.6h0M87.1 146.1h0M66.1 128.3h0M75.7 138.7h0M85.3 132.2h0M117.7 152h0M56.6 146.2h0M109.6 154.9h0M103.9 143.2h0M78 136.4h0M83.1 153.7h0M57.6 147.7h0M59.8 146.1h0M103.9 145.8h0M124.4 158.9h0M114.1 130.1h0M97.2 155.1h0M119 151.6h0M107.6 130.2h0M119.1 149.6h0M125.5 148.7h0M89.5 139.3h0M97.6 134.6h0M91.1 142.6h0M93.3 136.8h0M112.6 146.7h0M91.6 140.8h0M107 159h0M68.6 144h0M79.9 156.4h0M101.3 153.9h0M89.8 140.6h0M107.2 162.2h0M86.1 142.7h0M66.3 131.9h0M118.1 139h0M85.2 133.3h0M98.2 135.9h0M77.9 153.3h0M97.5 149h0M77.3 151.9h0M61.6 134.2h0M56.3 141h0M112.3 160h0M114 129.7h0M80.7 143.2h0M106.4 146.6h0M91.6 145.7h0M99.7 148.6h0M93.3 138.9h0M78.3 142.6h0M83.2 132.1h0M86.7 142.1h0M54.3 134.5h0M104.4 145.8h0M65.5 151.9h0M102 131h0M91.5 138.3h0M89.5 150.8h0M104.6 147.9h0M96.3 134.6h0M96 156.4h0M127.2 159.2h0M108.5 136.4h0M116.2 146.8h0M86.2 159.5h0M118.9 133.8h0M54.1 139.3h0M100.4 130.4h0M123.8 158.7h0M118.8 131.3h0M112.9 144.2h0M73.9 156h0M105.9 141.7h0M125.9 140.6h0M79.7 134h0M103 142.1h0M123.2 144.8h0M59.4 136.8h0M81.3 149.2h0M94.8 150.1h0M112.3 137.4h0M104.6 158.9h0M91.5 131.6h0M82.1 131.5h0M66.8 144.9h0M93.7 134.4h0M108.4 134.8h0M80.9 145.1h0M105.6 131.7h0M71.3 128.9h0M90 135.7h0M80.9 157.8h0M106.1 157.5h0M82.5 138.3h0M91.7 143.5h0M116.4 145h0M121.1 142.2h0M87.8 149h0M119 128.7h0M117.4 144.7h0M107.3 155.3h0M102.9 152.4h0M77.3 150h0M104 137.2h0M80.6 132.8h0M84.2 130.5h0M82.5 156.5h0M55.4 143.9h0M86.2 156.8h0M92.3 142.9h0M70.5 148.5h0M107.1 128h0M75.4 154.8h0M61.9 144.9h0M69.3 128.8h0M92.2 131.1h0M71.6 135.3h0M109.5 129.4h0M105.8 149.6h0M90.6 133.1h0M97.4 137.7h0M61 146.3h0M81 142.4h0M99.8 133.4h0M102.4 153.7h0M126.4 141.5h0M106 155.8h0M96.2 146.6h0M117 135.3h0M124.7 159.7h0M113 144.9h0M113.9 160h0M65.3 131.8h0M78.2 129.6h0M75.5 136.4h0M85.8 141h0M97.2 146.1h0M114.8 154h0M64.1 147.6h0M66.9 154.5h0M100.7 150h0M96 138.8h0M60 139.1h0M102.1 152.6h0M86.6 144.4h0M60.6 150.9h0M90.3 139.2h0M86.6 158h0M70.5 137.9h0M102.1 146.2h0M100.1 128.1h0M90.2 142h0M114 150h0M120.1 152.7h0M116 162.2h0M81.4 137.6h0M77.8 147.7h0M122.8 148.7h0M87.7 148.1h0M100.3 145.1h0M102.3 158.3h0M69.6 154.4h0M77.3 149.5h0M125.8 135.6h0M82.8 147.9h0M77.6 131.8h0M106.3 149.3h0M91.4 131.3h0M111.4 157.2h0M76.4 153.5h0M96 136.7h0M106.1 153.1h0M111.4 138h0M111.8 144.6h0M60.4 139.8h0M58.6 135.6h0M83.8 143.9h0M70.8 157.8h0M93.3 154.2h0M74.8 137h0M77.3 137h0M89.3 141h0M86.9 148.7h0M72.1 129.7h0M64.2 143.2h0M61.7 151.6h0M103.2 138.1h0M86.6 144.7h0M123.8 145.1h0M123.4 151.7h0M88.4 142.3h0M108.7 129.1h0M81.1 142.5h0M125.3 151.4h0M57.4 146.7h0" stroke="#82B6DA" stroke-width="0.9" stroke-linecap="round" fill="none"/>
<path d="M103 162 L104.2 160.6 L106.1 159.3 L108.4 158.2 L110.8 157.4 L113 157 L115 157 L117.1 157.3 L119.2 157.9 L121.2 158.8 L123 160 L124.7 161.5 L126.3 163.3 L127.7 165.4 L129 167.6 L130 170 L130.8 172.6 L131.4 175.6 L131.8 178.6 L132 181.5 L132 184 L131.8 186.3 L131.4 188.5 L130.8 190.5 L130 192 L129 193 L127.7 193.3 L126.2 193 L124.4 192.2 L122.7 191.2 L121 190 L119.4 188.6 L117.8 186.9 L116.2 185 L114.6 183 L113 181 L111.3 179 L109.5 177 L107.8 175 L106.2 173 L105 171 L104 169.1 L103.2 167.1 L102.6 165.3 L102.5 163.5Z" fill="#2F76B0" fill-opacity="0.8"/>
<path d="M114.9 165.3h0M118.5 176.4h0M122.7 182.5h0M122.3 164.3h0M115.5 164.6h0M127.5 173.3h0M127.2 178.9h0M119.3 163h0M118.3 180.6h0M129.2 186.2h0M126 167.9h0M118.9 185.2h0M126.1 164h0M118.4 179h0M111.1 169h0M124.7 178.2h0M119.3 165.5h0M107.9 160.1h0M106.9 165.3h0M110.9 176.1h0M116.5 168.4h0M128.1 169.2h0M104.9 161.3h0M105.1 164h0M131.3 168.8h0M126.2 184.9h0M123 172.2h0M120.4 187.5h0M130.2 181.6h0M128.3 184.2h0M117 174.8h0M109.7 164.9h0M111.2 160.3h0M124.7 185.3h0M106.5 169h0M124.5 184.8h0M117.8 177.6h0M122.3 178.6h0M119.6 160.5h0M115.1 177.5h0M114.9 170.1h0M120.2 169.9h0M108.9 165.5h0M116.3 170.7h0M129.1 189.2h0M122.6 174.1h0M121.1 159.4h0M108.5 168.9h0M120.7 159.8h0M121.8 168.9h0M119.2 162.2h0M130.3 175.7h0M105.3 163.9h0M125.7 171.3h0M113.4 166.1h0M107.8 162.4h0M103.3 165.7h0M118.9 168.3h0M110.1 169.1h0M123.7 190.2h0M127.7 178.5h0M122.2 169.5h0M121.9 182.3h0M112.4 162.8h0M109.1 161.9h0M117.6 162.5h0M106.7 165h0M119 184h0M123.3 186.7h0M122.4 168h0M114.1 160.5h0M119 171.3h0M125.9 176.5h0M104.9 165.5h0M111.5 171.5h0M123.9 186.7h0M111.3 161.2h0M113.1 169h0M117.7 184.8h0M123.5 171.3h0M119.1 169.7h0M127 167.5h0M119 176.7h0M122.9 180.7h0M126.3 161.5h0M106.1 176.2h0M114 174.3h0M126.4 182.2h0M123.3 173.2h0M124.2 174.7h0M119.2 172.9h0M105.1 172.1h0M122.9 177.5h0M124.9 182.6h0M116.1 166.7h0M121 162.8h0M128.7 187.5h0M111.7 167.5h0M120.2 187.9h0M119.2 169.6h0M113 178.3h0M123.6 169.2h0M133.4 186.9h0M128.4 171.5h0M119.7 161.2h0M107 171.6h0M123.6 159.7h0M106.3 171.3h0M122.8 170h0M125.7 174h0M120.8 172.1h0M111.7 164.2h0M131.5 172.6h0M107.6 169.1h0M111 174.2h0M131.2 181.8h0M121.6 163.4h0M126.3 170.8h0M124.9 183h0M128 181.9h0M112.1 169.2h0M128.4 188.1h0M111.6 168.9h0M115.2 160.5h0M123.8 175.9h0M114.3 177.8h0M111.1 160.3h0M124.8 179.7h0M127.8 179.8h0M113.9 166h0M117.6 157.8h0M120 186.3h0M111.6 171.8h0M117.3 177.5h0M121.1 181.9h0M113.3 158.2h0M106.6 169.1h0M127.6 188.2h0M113.4 159.4h0M105.5 166.4h0M118.4 162.1h0M103.5 169.2h0M118.2 168.8h0M114.8 176.7h0M126 176.6h0M119.5 172.7h0M124 184h0M127 165.8h0M116.3 176.4h0M116.7 158.2h0" stroke="#2F76B0" stroke-width="0.9" stroke-linecap="round" fill="none"/>
<path d="M80 210 L81.3 208.6 L83 207.5 L85.2 206.5 L87.5 205.7 L90 205 L92.8 204.5 L95.9 204.1 L99.1 203.9 L102.2 203.5 L105 203 L107.4 202.2 L109.5 201.4 L111.5 200.4 L113.3 199.2 L115 198 L116.6 196.5 L118.1 194.7 L119.4 192.9 L120.7 191.3 L122 190 L123.3 189.1 L124.6 188.3 L125.8 187.9 L126.9 187.7 L128 188 L129 188.7 L129.9 189.8 L130.7 191.2 L131.4 192.9 L132 195 L132.4 197.5 L132.7 200.6 L132.9 203.8 L133 207.1 L133 210 L133 212.7 L133 215.2 L132.9 217.6 L132.6 219.9 L132 222 L131.2 223.9 L130.3 225.7 L129.1 227.3 L127.7 228.7 L126 230 L123.9 231.1 L121.4 232.1 L118.7 233 L115.8 233.6 L113 234 L110.1 234.2 L107 234.2 L103.9 233.9 L100.8 233.5 L98 233 L95.3 232.3 L92.7 231.4 L90.2 230.4 L88 229.3 L86 228 L84.3 226.6 L82.9 225.1 L81.7 223.5 L80.7 221.8 L80 220 L79.5 218 L79.1 215.9 L79 213.7 L79.3 211.7Z" fill="#94C886" fill-opacity="0.75"/>
<path d="M97.3 211h0M93.5 203.6h0M105.6 225.6h0M132.6 208h0M114.1 215.6h0M128.5 197.2h0M122.7 192h0M123.9 209.6h0M86.1 210h0M92.5 231.8h0M112.2 228.8h0M85.3 211.6h0M95.1 227.5h0M92.1 223h0M106.4 234.1h0M130.3 197.3h0M132.9 203.8h0M106.9 212.9h0M84.6 225.4h0M84.9 216.4h0M92.6 229.1h0M128.6 214h0M112.1 216.6h0M109.7 228.5h0M110.7 202.1h0M124.3 209.3h0M92.1 211.5h0M121.1 210.9h0M81.6 217.5h0M116.2 202.9h0M109.1 231.6h0M93.5 209.2h0M106.5 209.8h0M114.7 211h0M125.1 216h0M129.1 213.2h0M130.2 229h0M82.5 209.1h0M81.1 213.8h0M127.4 191.4h0M114.9 218.2h0M96.1 219h0M93.2 207h0M86.5 210.2h0M105 219.1h0M109.9 211.5h0M99.4 213.5h0M114.6 216.1h0M125.1 213.1h0M92 206.5h0M127.4 220.1h0M127.7 189.7h0M108 210.8h0M115.7 203.1h0M132.8 199.9h0M121 204.2h0M131.7 218.2h0M112.2 212.3h0M98.2 209.6h0M86.5 223.8h0M122.6 233.1h0M124.5 226.1h0M122 200.6h0M97.9 205.4h0M113.4 208h0M93.3 212.2h0M85.8 211.3h0M80.1 218.4h0M101.5 223.6h0M100.4 212h0M130.4 201.1h0M117.9 200.6h0M118.5 218.5h0M115.2 203.1h0M101.9 216.3h0M98.8 204.6h0M125.3 187.4h0M127.3 216.7h0M94.3 214.8h0M89.4 218.3h0M90.7 217.6h0M117.9 210.8h0M131.1 205.6h0M125.4 204.9h0M114.8 216.5h0M89.9 206.3h0M90 220.9h0M112.7 221.4h0M116.4 205.9h0M121 215.9h0M116.2 227.8h0M100 225.6h0M100.9 215.7h0M106.4 212.9h0M120.9 213.1h0M82.8 212.9h0M87.9 223.3h0M126.4 195.5h0M118.9 208.4h0M99.8 207h0M117.8 204.1h0M93 211.5h0M129.1 208.2h0M83.9 211.9h0M129.3 216.3h0M117.6 226.3h0M93.6 209.3h0M119.9 224.1h0M98.9 209.7h0M87.1 227.7h0M120.9 194.2h0M97.2 222.8h0M125.6 194.7h0M109.7 212.3h0M121.3 214.6h0M125.8 211.3h0M117.2 206.3h0M113.5 213.2h0M104.7 209.8h0M127.7 222.6h0M107.1 210.7h0M129.4 217h0M127.9 201.3h0M127.8 189.7h0M123.2 220.2h0M119.4 219.4h0M125.7 220.7h0M110.2 219.2h0M132.8 196.4h0M92 227h0M98.7 208.5h0M110.6 220.4h0M96 222.8h0M91.2 209.7h0M120.2 225.5h0M134.1 216.7h0M95.5 218.5h0M125.9 191.5h0M121.8 219.5h0M92.8 216.3h0M108.2 215.3h0M129.9 192.5h0M92 209.6h0M83.4 225.8h0M123.4 227.9h0M124.2 190.3h0M82.9 218.2h0M127.2 217.4h0M111.2 210.6h0M93.3 211.8h0M107.2 229.3h0M106.5 215.1h0M106.5 220.3h0M122.2 219.9h0M130.2 194.1h0M98.9 229.6h0M103.9 222.2h0M121.2 194.9h0M85 218.5h0M116.6 202.5h0M120.5 229.7h0M122.5 200.4h0M122.5 213.1h0M121 196.1h0M126 221h0M79.7 209.3h0M118.5 220h0M114 220.6h0M128.7 204.1h0M130.3 218.4h0M96.6 205.7h0M120.1 230h0M84.6 211.7h0M114.7 203.3h0M100.6 230.2h0M110 223.5h0M110.6 215.8h0M117.7 222.1h0M105.3 224.2h0M82.6 224.6h0M126.9 190h0M117.8 232.6h0M101.8 218.7h0M94.6 212.2h0M83.8 219.7h0M104.8 204.6h0M133.2 221.2h0M102.4 212.3h0M106.3 223.5h0M99.2 221.4h0M131.1 208.4h0M122 218.3h0M82.2 212.1h0M87.7 214.3h0M101.3 209.4h0M127.4 214.1h0M118 208.4h0M95.3 227.2h0M96.8 207h0M107.5 214.1h0M105.2 223.9h0M117.1 213.4h0M85.2 207.7h0M123.7 225.5h0M125.6 192h0M105.5 208.7h0M100.6 210.8h0M88.5 209.8h0M92.7 225.4h0M83.3 219.6h0M120.5 209.6h0M111.4 211.9h0M95.4 219.3h0M125.3 219.3h0M111.5 234.4h0M130.7 218.9h0M120 215.7h0M119.9 208.6h0M120.2 226.6h0M94.5 221.4h0M116.6 224.6h0M118.5 202.1h0M99 212.4h0M80.9 217.4h0M100.1 228.6h0M128 189.7h0M108.2 227.8h0M95.7 231.8h0M120.6 205.6h0M97 216.2h0M116.4 230.9h0M105.1 227.7h0M99.9 218.5h0M106.2 222.4h0M99.5 214.5h0M111 208.9h0M96.7 218.4h0M92.9 214.2h0M120.3 217h0M105.1 223.8h0M126 197.6h0M124.5 208.3h0M94.2 214.8h0M85.1 207.6h0M85 216.4h0M119.5 225.5h0M96.2 226.4h0M95.2 222.1h0M126.2 206h0M132.8 223.6h0M98 225h0M104.7 214h0M104.6 210.2h0M96.6 224.6h0M99 230.7h0M99.2 203.6h0M79.4 213.2h0M128.3 214.5h0M118.5 223.5h0M126.2 229.6h0M106 211.7h0M103.6 234.7h0M129.3 195h0M111.6 214.1h0M116.1 204.5h0M128.6 212.2h0M128.3 205.3h0M118.9 227.4h0M98.4 203.1h0M99.3 210.9h0M126.1 218h0M88 213h0M119.7 204.1h0M110.6 220.1h0M113 206.6h0M131.1 194.7h0M114 203.7h0M80 214.9h0M80.2 219.3h0M120.4 217.8h0M114.9 210.8h0M97.1 207.6h0M97.7 225.3h0M93.7 214.8h0M82.7 205.7h0M94.7 210.3h0M106.8 225.8h0M130.9 221.9h0M81.9 213.6h0M83.1 220.1h0M108.1 215.3h0M117.7 226.7h0M108.5 215.1h0M119.7 222.8h0M108.3 208.7h0M86.1 206.1h0M86.8 222.6h0M120.6 210.1h0M118.6 231.1h0M102.4 211.5h0M130.5 201.5h0M116.9 207.7h0M122.4 215.7h0M130.5 204.8h0M119.3 207.4h0M112.1 228.8h0M123.3 226.4h0M87.1 217.9h0M93.4 210.3h0M94.8 230.3h0M114.2 203.4h0M125.4 223.2h0M88.7 223.5h0M123.2 209.6h0M130.8 191.5h0M88.8 217.2h0M88 209.8h0M104.7 211.6h0M120.8 196h0M95.6 212h0M85.2 219.5h0M109.1 215.7h0M98.5 222.7h0M87.8 209h0M97.4 216.7h0M116.9 209h0M83 215.8h0M118.2 206.8h0M117.5 214.1h0M91.4 220.3h0M129 201.7h0M103.6 215.3h0M128.7 196.9h0M112.9 205.8h0M99 219.5h0M121 200h0M125.7 191.1h0M111.3 206.4h0M118.3 208.1h0M123.9 206.2h0M101.9 215.9h0M93.9 229.8h0M100.5 206.8h0M97.7 211.1h0M120.1 211.2h0M129.2 190.9h0M100.8 217.2h0M120.5 205.5h0M109.9 231.4h0M116.9 231.1h0" stroke="#94C886" stroke-width="0.9" stroke-linecap="round" fill="none"/>
<path d="M202 92 L202.7 89.3 L203.6 86.7 L204.8 84.1 L206.3 81.9 L208 80 L210 78.6 L212.2 77.5 L214.6 76.8 L217.2 76.3 L220 76 L223 75.9 L226.3 76 L229.7 76.3 L233 77 L236 78 L238.8 79.4 L241.5 81.2 L244 83.3 L246.2 85.6 L248 88 L249.3 90.5 L250.2 93.3 L250.7 96.2 L251 99.1 L251 102 L250.8 104.9 L250.2 107.9 L249.4 110.8 L248.4 113.6 L247 116 L245.3 118.1 L243.2 120 L241 121.7 L238.5 123 L236 124 L233.4 124.6 L230.5 124.9 L227.6 124.8 L224.7 124.5 L222 124 L219.4 123.3 L216.8 122.3 L214.3 121.1 L212 119.7 L210 118 L208.2 116 L206.6 113.7 L205.1 111.2 L203.9 108.6 L203 106 L202.3 103.3 L201.8 100.4 L201.6 97.6 L201.7 94.7Z" fill="#45A25C" fill-opacity="0.8"/>
<path d="M205.8 107.6h0M215.7 84.1h0M237.4 121.8h0M242.5 87.7h0M223.4 76h0M224.2 120.2h0M214.3 94.2h0M209.1 109.1h0M219.2 99.9h0M230.2 106.8h0M223.4 120.5h0M203.7 93h0M220.6 107.6h0M236 80.2h0M213.9 101.9h0M220.6 92.3h0M245.5 93.5h0M228.5 88.4h0M250 103.8h0M248.9 110.4h0M232.5 81.7h0M234.1 90.2h0M244.1 110.6h0M247.6 109.3h0M224.5 116.2h0M213.2 106h0M247.1 95.7h0M243.9 98.7h0M217 99h0M233.9 107.6h0M215.6 79.7h0M242.7 115.8h0M244.7 107.3h0M243.2 102.1h0M224.8 84.1h0M207 100.7h0M231.6 101.6h0M237.8 94.1h0M237.6 82.3h0M212.7 97.3h0M238.7 110.1h0M230.6 78.6h0M249 116.9h0M226.7 89.5h0M235 107.3h0M248.3 94h0M240 121h0M208.3 100h0M241.3 87.4h0M215 117.5h0M214.5 95.7h0M221.2 77.8h0M216.7 84h0M233.9 80.1h0M242.6 96.1h0M215.7 97.7h0M228.4 108.1h0M222.2 117.6h0M230.1 110.6h0M219.2 91.3h0M227.6 99.3h0M206.7 111.7h0M226.7 124.6h0M218.1 96.9h0M239 100.1h0M205.5 103.8h0M240.7 87.6h0M231.3 114.7h0M227.5 87.1h0M238.9 83.6h0M233.3 95.3h0M219.4 105h0M234 86.7h0M211.4 112.5h0M236.4 113.9h0M225.8 81.9h0M213.7 99.3h0M245.4 93.4h0M219.5 102.5h0M246 117.2h0M212.2 77.1h0M228.7 93.6h0M232 96.1h0M209.8 116h0M223.9 85h0M219.5 103.6h0M208.6 114h0M229.4 114.8h0M236.9 117.6h0M205 88h0M222.3 117.7h0M213.7 107.3h0M245.8 96.2h0M215.6 79.8h0M214.3 87.2h0M218.5 104.8h0M230.5 90.2h0M228.7 105.2h0M232 114.5h0M248.8 105.1h0M222.9 82.7h0M241.7 120.8h0M240.6 86.5h0M227.4 114.5h0M231.7 122.4h0M228.3 92.7h0M246.3 89.2h0M210.2 110.8h0M206.3 105.3h0M243.7 90.4h0M211.3 94.7h0M248.2 96.9h0M242.2 104h0M206.3 117.4h0M205.7 83.9h0M230 90.7h0M201.7 103.4h0M232.5 102.5h0M219.4 102.6h0M208.9 86.2h0M244.1 91.4h0M251.1 103.8h0M238.4 109.7h0M237.6 92.7h0M229.1 83.2h0M219.6 96h0M228.9 95.2h0M227.5 101h0M211.3 79h0M221.9 104.2h0M223.8 106.8h0M235.7 80.7h0M239.2 93.6h0M230.9 95.2h0M211.5 106.4h0M232.1 112.6h0M217.8 106.9h0M227.8 104.8h0M225.9 108.9h0M216.1 100.1h0M229.1 90.2h0M222.4 96.9h0M230.2 79.7h0M210.3 87.3h0M235.5 95.8h0M237.1 97.6h0M234 114.1h0M214.6 111.1h0M246.6 94.6h0M246.7 111.1h0M220.8 99.4h0M227.9 88.1h0M235 77.4h0M221.9 85.7h0M235.1 89.9h0M207.7 107.1h0M217 92.6h0M247.7 96.8h0M215 93.1h0M213.5 84.5h0M236.1 97.3h0M212.8 92.3h0M212.8 86.7h0M243.8 116.3h0M231 75h0M235 97.6h0M218.2 78.8h0M222.9 114.4h0M223.8 114.8h0M230.8 79h0M219.8 88.6h0M215.7 112.9h0M231.8 114.2h0M236.5 98.5h0M215.1 90.3h0M250.7 110.1h0M237.1 108.1h0M220.2 88.9h0M222.5 94.9h0M234.7 105.4h0M230.7 124.6h0M247.6 106.8h0M208.1 84.2h0M242.1 85.5h0M242.1 105.4h0M211.2 85.3h0M220.3 95.3h0M224.1 95.1h0M224.9 107.7h0M209.2 105.7h0M241.1 95.4h0M211.2 106.7h0M235.3 91.5h0M225.5 97.1h0M224.8 89.7h0M236.9 101.7h0M229.9 110.5h0M218.1 87h0M214.7 103.7h0M238.5 102h0M205.8 110.1h0M223.7 124.9h0M237.1 94.4h0M212 90.1h0M245.9 94.1h0M235.6 82.5h0M244.1 91.5h0M218.1 121.6h0M204.7 100.4h0M233.5 115.3h0M240.5 101.9h0M249.6 88.7h0M246.6 116.5h0M230.4 108.5h0M217.5 104.5h0M210 97.5h0M240.9 118.3h0M228.9 92.7h0M231.4 88.2h0M216.4 97.7h0M222.8 104.9h0M226.6 113.3h0M235.8 81h0M214.1 82.9h0M238.5 105.9h0M203.4 94.1h0M220.8 122.2h0M248.2 111.9h0M238.6 82.1h0M215.4 116h0M236.1 95.9h0M237.7 87.1h0M219.6 87.8h0M209.7 99.8h0M238.7 105.6h0M224.4 116.6h0M244.5 108.1h0M240.1 96h0M207.3 118.1h0M235.4 82.8h0M214.5 106.6h0M222.6 83.4h0M218.4 100.4h0M226.6 78.8h0M231 81.1h0M214.7 80.7h0M235.4 116.3h0M217.6 116.9h0M237 81.7h0M225.5 108.4h0M203 97.8h0M232.6 114.2h0M214 111.3h0M240.7 91.6h0M205.9 100.1h0M234.4 107.3h0M246.9 111h0M234 120.6h0M220.4 85.3h0M239.7 81.2h0M239.2 87.4h0M210.2 96h0M229.8 101h0M223.3 118.5h0M234.5 122.2h0M233.3 103.1h0M212.7 118.2h0M210.4 92.1h0M230.6 88.7h0M235.6 87.8h0M220.1 84.8h0M218.4 78.1h0M212.6 76.9h0M238.7 107.8h0M204.6 87.7h0M214.8 101.7h0M240.9 90.4h0M242.5 114.1h0M241.2 97.9h0M213.5 112h0M238 117.4h0M211.2 114.3h0M242.4 86.5h0M218.6 105.6h0M211.2 97.4h0M234.9 95.2h0M234.3 117.1h0M235 114.9h0M228 82.8h0M205.9 94.7h0M243.5 88.4h0M210.2 105h0M211.6 85h0M242.4 119.4h0M236.8 102h0M206.1 111.4h0M211.8 101.7h0M226.4 88.1h0M242.6 81.6h0M230 92.4h0M244.1 106.6h0M246.8 92.7h0M212.9 79.4h0M241.9 98h0M246.8 96.2h0M243.4 96.5h0M216.1 87.8h0M232.9 90.1h0M240.7 111h0M226.4 117.7h0M233.2 83.3h0M236.6 119.4h0M213.1 80.7h0M250.5 104.3h0M214.3 81.5h0M230.1 111.6h0M227.1 95.2h0M236.1 107.6h0M248 102.1h0M206.6 105.5h0M216 95h0M241.6 94.9h0M233.5 111.9h0M215.7 120.3h0M222.9 95.9h0M208.8 83.3h0M220.2 98.3h0M226.7 77.2h0M234.3 123.6h0M217.5 81.2h0M224.6 81h0M216.9 96h0M223.2 78.1h0M220.4 77h0M234.8 89.8h0M211 83.9h0M210.8 86.8h0M211.9 96.1h0M212.7 88.2h0M202.7 99.3h0M216.2 95.3h0M217.4 79.7h0M226.8 110.4h0M241 97.7h0M236.4 93.5h0M244.3 87.3h0M212.5 105.5h0M222.4 124.2h0M237.1 86h0M225.4 117.2h0M219.1 86.5h0M232.2 119.7h0M248.2 104.1h0M223.3 110.2h0M227.4 116.5h0M219.4 109.5h0M212.7 98.7h0M231.1 114.7h0M230.8 106.3h0M218.3 86.5h0M237.5 102.9h0M235.2 119.3h0M213.7 79.5h0M237.7 122h0M219.8 81.9h0M226.4 83.3h0M233.1 105.7h0M209.8 96.3h0M215.2 109.8h0M220.9 110h0M235.4 85.3h0M249.7 89.7h0M225.7 93.7h0M223.9 123.8h0M205.2 97.4h0M203.5 85.1h0M241.7 83.7h0M209.1 97.1h0M225.5 102.6h0M218.7 78.1h0M231.8 84.9h0M234.4 118.6h0M226.3 85h0M201.5 96.6h0M231 123.6h0M236.7 119h0M207.8 115.4h0M206.5 93.2h0M249.2 96.7h0M220.2 88.2h0M238 115.9h0M221.6 84.2h0M230.9 95.4h0M215.5 96.1h0M246.8 89.4h0M224.2 98.3h0M226.3 99h0M217.1 92.5h0M211.6 102h0M226.2 107.5h0M244 108.8h0M239.7 99.7h0M247.7 93h0M208.9 100.2h0M248.9 100.7h0M224.4 87.2h0M230.1 104.8h0M244.5 87.2h0M230 108h0M247.2 90.8h0M235.9 82.6h0M224.2 80.4h0M233.4 102.6h0M230.2 106.5h0M217.2 76.2h0M220.6 113.9h0M227.5 110.1h0M206.7 93.3h0M212.7 92.1h0M215 98.3h0M246.5 111.4h0M215.5 77.7h0M224 118.7h0M211.2 103.4h0M209.1 98.6h0M209.9 94.3h0M216.9 101.8h0M206.2 99h0M238.6 107.2h0M227.6 105.8h0M218.1 111.7h0M212.1 107.1h0M239.6 116.1h0M236.9 98.6h0M222.1 91.2h0M237.3 114.4h0M233.5 81.1h0M233.2 88h0M218.2 108.1h0M240.8 109.2h0M231.7 110.2h0M229.3 85.9h0M247 91.7h0M216.4 80.2h0M216.7 109.4h0M235.7 87.8h0M246.7 114.2h0M209.9 102h0M235.2 82.3h0M205.6 92.5h0" stroke="#45A25C" stroke-width="0.9" stroke-linecap="round" fill="none"/>
<path d="M211 148 L211.9 146.2 L213.1 144.4 L214.5 142.7 L216.2 141.2 L218 140 L220.1 139.1 L222.4 138.5 L225 138.1 L227.5 137.9 L230 138 L232.5 138.3 L235.2 138.9 L237.8 139.7 L240.1 140.7 L242 142 L243.4 143.6 L244.6 145.6 L245.4 147.7 L245.8 149.9 L246 152 L245.8 154.1 L245.3 156.3 L244.4 158.4 L243.3 160.4 L242 162 L240.4 163.3 L238.6 164.3 L236.6 165 L234.4 165.6 L232 166 L229.3 166.2 L226.4 166.2 L223.3 166.1 L220.4 165.7 L218 165 L216 164 L214.4 162.8 L213 161.3 L211.8 159.7 L211 158 L210.4 156.2 L210.2 154.1 L210.2 152 L210.4 149.9Z" fill="#45A25C" fill-opacity="0.8"/>
<path d="M221.3 161.8h0M227.2 164.5h0M226.5 147.6h0M215.9 139.3h0M241.7 148.3h0M220.3 152.9h0M236.9 161.1h0M222.3 151.1h0M226 137.3h0M227.6 138.1h0M225.2 154.3h0M232.4 142.4h0M243.3 155.7h0M226.3 158.6h0M237.2 154.8h0M222.3 156.9h0M223.4 145.5h0M216.2 156.8h0M234.4 149h0M228.9 156.1h0M234 147.4h0M243 151.8h0M231.8 143.5h0M229.2 145.6h0M218.5 140.6h0M222.6 139.8h0M225.8 150.1h0M221.6 161.7h0M231 147.7h0M212.7 145.8h0M235.6 142.9h0M242.8 146.2h0M216.6 140.6h0M223.2 148.8h0M215.8 159.7h0M236.3 150.9h0M221.8 144.3h0M223.7 159.4h0M232.5 156.9h0M228.6 159.9h0M213.5 148.3h0M229.4 145.8h0M236.9 152.5h0M226.9 153.6h0M220.5 138.8h0M238.4 159.4h0M236.9 152.7h0M239.6 154.3h0M238.5 153.7h0M221.7 140.2h0M211.2 157h0M216.5 158.2h0M226.6 149.7h0M211.1 158.6h0M224.2 152.5h0M235.5 139.7h0M241.1 142.4h0M225.4 141.7h0M227.1 144.2h0M235.4 145.6h0M236.6 151.2h0M230.4 167.4h0M238.3 160.5h0M218.8 159.5h0M221.2 154.6h0M229.3 141.2h0M238.9 139.3h0M240 155.8h0M217.5 151.3h0M239 146.6h0M209.5 152.4h0M241.7 156.4h0M225.2 142.6h0M234.5 157h0M221.4 144.3h0M217 158.7h0M237.4 154.2h0M229.5 149.7h0M232.7 139h0M229.5 162.1h0M223.4 145h0M228.8 149.9h0M233.3 159.8h0M231.3 144.4h0M231.6 144.1h0M219.3 151.6h0M239.7 154.8h0M212.4 160.5h0M245.3 145.6h0M230.2 154.3h0M229 139.5h0M225.4 159h0M232.3 144.2h0M221.2 142.4h0M233.2 140.9h0M234.6 157.8h0M231.8 148.3h0M226.3 140.8h0M238.5 154.9h0M240 142.9h0M231.9 164.3h0M236.8 141.1h0M231 154.5h0M228 165.1h0M211 151.8h0M216 148.5h0M220.3 146h0M239.1 153.5h0M233.7 149.8h0M215.7 156.1h0M234 149.6h0M220.3 147.5h0M244.2 151.7h0M227.5 151h0M220.5 140.7h0M229.1 159.3h0M212.9 156.7h0M225.3 156.6h0M228.2 137.6h0M235.5 140.6h0M230.4 155.4h0M223.5 143.9h0M235.2 157h0M231 162.3h0M228.5 162h0M246.8 150.6h0M241.7 150.7h0M224.2 155.7h0M227.5 137.9h0M226.2 140.9h0M229.6 144.9h0M227.8 163h0M243.6 141.8h0M232 138.5h0M233.3 142.6h0M239 160.8h0M223.4 159h0M225.9 167.3h0M236.1 154.8h0M217.4 144.5h0M233.1 160.2h0M218.6 154.6h0M235.7 146.9h0M224.7 154.6h0M240.4 157.3h0M235.1 146.7h0M230.8 137.9h0M212.2 152.9h0M237.8 159.5h0M217.2 146.7h0M218.6 152.1h0M220.5 161.4h0M217.8 140.8h0M221.1 138h0M218 152.4h0M236.9 153.4h0M233.3 143.1h0M236.4 142.1h0M220.6 147.2h0M213.2 158.3h0M245.7 151.3h0M220.4 145.8h0M213.1 158.1h0M231.4 137.2h0M237.1 148.2h0M235.6 142.8h0M239.7 166.1h0M220.2 145h0M231.8 145.1h0M229 142h0M237.5 141.4h0M227 164.1h0M241 160.1h0M242.5 142.4h0M235.7 156.7h0M216.7 151.9h0M220 138.2h0M235.4 144.5h0M233.3 150.4h0M227.3 137.2h0M216.5 162.3h0M239.8 145.9h0M244 152.6h0M229 151.8h0M231 145.8h0M231.3 152.4h0M211.4 161.7h0M245.7 148.4h0M239.6 158.9h0M239.5 155.1h0M232.7 163.4h0M219.4 153.6h0M217.2 150.5h0M223.6 163.8h0M222.8 156.1h0M227.1 139.2h0M220.6 158.4h0M216.6 150.9h0M235.7 150.1h0M232 143h0M217.3 148h0M217.1 162.3h0M230.6 144h0M225.6 153.4h0M232.4 141.9h0M224.6 137.4h0M220.8 146.4h0M224.8 137.8h0M225.5 138.3h0M222.3 146.4h0M239.3 142h0M234.9 143.4h0M226.8 159.2h0M233.8 155.7h0M214.1 150.8h0M234.6 149.8h0M219.9 153.3h0M210.5 159h0M224.3 159.6h0M230.3 148.7h0M234.5 140h0M232.7 155h0M226.1 160.7h0M228.7 154.9h0M245.3 153.8h0M215.1 153.7h0M217.7 158.5h0M221.4 144h0M229.8 145.2h0M224.7 149.2h0M229.8 157.3h0M218.7 151.3h0M224.4 154.6h0M241.5 145.6h0M213.2 154.4h0M234.7 145.9h0M216.1 160.1h0M244.3 152.8h0M214 165.5h0M240.7 153.5h0M233.7 147.5h0M237.6 148.1h0M213.5 150.7h0M229 154.4h0M228.9 150.4h0M235.9 141.2h0M244.5 149.3h0M242.5 162.2h0M214.3 155.6h0M211.7 151h0" stroke="#45A25C" stroke-width="0.9" stroke-linecap="round" fill="none"/>
<path d="M167 215 L168 213.3 L169.3 211.9 L170.9 210.7 L172.8 209.8 L175 209 L177.6 208.4 L180.5 208 L183.7 207.9 L186.9 207.9 L190 208 L193.1 208.3 L196.2 208.7 L199.4 209.3 L202.3 210.1 L205 211 L207.4 212.1 L209.7 213.5 L211.8 214.9 L213.6 216.5 L215 218 L216 219.6 L216.7 221.2 L217 222.8 L217.1 224.4 L217 226 L216.7 227.5 L216.3 229 L215.5 230.5 L214.5 231.8 L213 233 L211 234 L208.5 235 L205.8 235.8 L202.9 236.4 L200 237 L197.1 237.4 L194 237.8 L191 238 L187.9 238 L185 238 L182.1 237.9 L179.3 237.7 L176.5 237.4 L174.1 236.8 L172 236 L170.4 234.9 L169.2 233.5 L168.3 231.8 L167.6 230 L167 228 L166.6 225.6 L166.3 222.8 L166.2 219.9 L166.4 217.2Z" fill="#EFB77E" fill-opacity="0.8"/>
<path d="M190.1 227.4h0M187.1 212.1h0M175.8 212.7h0M170.1 223.4h0M168.7 230.5h0M171.4 234.3h0M192.4 210h0M170 233.1h0M207.5 218.1h0M185.2 226.5h0M172.6 231.9h0M189 212.9h0M180.2 213.9h0M200 232.1h0M175.2 219h0M203.5 233.9h0M206.5 227.6h0M195.1 234.7h0M191 233.6h0M169.4 218h0M192.9 234.5h0M192.8 219.3h0M174.4 214.5h0M201.7 214.5h0M201.8 237h0M173.1 214.2h0M176.6 217.8h0M176.2 235.2h0M186.6 222h0M193.8 235.9h0M208.9 232.7h0M188.3 230.9h0M205.8 229.4h0M178.8 223h0M187.3 209.3h0M182.3 223.2h0M180.6 210.8h0M205.7 230.9h0M173.9 209.4h0M169.3 220.9h0M194.5 227.9h0M177.2 208.4h0M213.6 222.5h0M183.3 220.9h0M193.1 214.1h0M175.2 221.2h0M202 221.1h0M174.9 221.7h0M216.8 226.2h0M200 226.3h0M197.4 237.2h0M180.6 225.9h0M190.6 226.6h0M171.6 222.4h0M185.2 229.9h0M201.5 231.7h0M193.4 214.7h0M191.5 234.5h0M197.2 221.8h0M190.9 222.8h0M196.7 223h0M174.3 227.7h0M167.7 224.3h0M182.4 211.2h0M208.5 222.2h0M176.7 215.2h0M176.5 211.6h0M196.7 224.6h0M190.1 234.7h0M210.1 225h0M182.6 215.6h0M189.9 218.4h0M215.2 230.7h0M199.6 229.3h0M189.2 214.8h0M179.7 214.7h0M203.2 220.6h0M208.4 230.5h0M183.6 210.2h0M214.5 217.7h0M174.7 218.4h0M192.6 228.4h0M198.2 220.5h0M209.7 224.5h0M202.2 235.8h0M212.4 222.5h0M173.3 234.6h0M197 214.9h0M178.3 211.8h0M182.2 237h0M169.6 216.6h0M202.5 229.4h0M169.9 220.6h0M183.3 210.1h0M181.3 223.6h0M183.5 234.4h0M197 231.4h0M203.5 211.6h0M211.3 232.4h0M193.9 228.1h0M206.7 214.9h0M173.6 230.5h0M183.7 232.2h0M201.5 233.3h0M192.8 227.5h0M189.9 229.9h0M193.9 221.3h0M170.8 230.2h0M189.6 210.6h0M188.7 210.9h0M188.6 226.4h0M210.4 218.7h0M198.2 218.3h0M187.3 224h0M196.4 210.3h0M199.6 236.7h0M190.1 232.8h0M205.5 220.7h0M188.7 231.6h0M177.1 217.6h0M179.7 229.2h0M205.6 226.6h0M194.5 234h0M169.8 218.4h0M167 226h0M182 214.5h0M183.2 226h0M176 219.9h0M171 220.5h0M167.5 224.3h0M206.6 216.1h0M199 233.5h0M171.6 223h0M192.8 214.2h0M178.8 232h0M166.7 227h0M190.3 223.5h0M184.5 226.2h0M206.6 231.1h0M201.7 234.8h0M178.3 226.3h0M175.5 217h0M196.7 211.5h0M194.6 236.4h0M215.2 221.5h0M203.7 221.9h0M178.4 213h0M175.2 229.2h0M194.2 231.4h0M181.8 225.4h0M188.7 212.6h0M182.4 238.1h0M190.8 227.9h0M193.8 215.3h0M174.2 216.5h0M193 222.7h0M184.7 221h0M195.5 226.4h0M195.5 211.5h0M210.6 227.2h0M184.9 220.9h0M192.1 225.5h0M207.9 214.3h0M194.9 218.2h0M188.3 230.8h0M188.1 211.2h0M195 208.3h0M193.6 213h0M183.9 231.1h0M175.1 229.2h0M177.1 212.6h0M206.7 226.9h0M197 214.5h0M182.2 228.2h0M179.7 210.7h0M187.8 210.8h0M202.6 227.8h0M167.1 220.2h0M172.7 222.3h0M210 232.6h0M194.7 223h0M208.6 223.6h0M206.6 222.9h0M201.9 212.4h0M187.3 223.6h0M174.6 222.6h0M171.6 213h0M197.7 215.7h0M188.7 233.6h0M205.6 235.2h0M170.1 218.8h0M200.9 210.9h0M210.4 218.9h0M187.2 238.7h0M178.8 226.3h0M209.2 233.1h0M172.2 232.8h0M200.8 236h0M204.8 227h0M182.1 229.7h0M206.2 217.9h0M201.6 226.5h0M192.2 221.4h0M177.7 218.6h0M174.8 233.5h0M207.2 229.4h0M210.8 234.8h0M182 236.9h0M211.4 224.5h0M187.8 228.1h0M180 213h0M191 230.2h0M182.2 219.6h0M204 232.7h0M192.9 234.5h0M190.3 237.7h0M187 221.7h0M181.6 213.5h0M204.4 231.3h0M197.9 223.9h0M181.4 217.4h0M194.2 228.6h0M189 221.6h0M187.1 228.3h0M192.7 215.6h0M202.7 234h0M174.1 219.5h0M215.8 218.6h0M205.9 218.2h0M181.4 222.9h0M177.4 232.2h0M207.3 235.1h0M208.9 215h0M185.9 216.5h0M193.4 224.2h0M167.2 230.3h0M189.7 225.8h0M176.2 222.5h0M181.2 210.4h0M192 235.9h0M178.7 209.3h0M201.1 229.6h0M184.3 234.9h0M175.9 224.3h0M208.9 225.1h0M207.2 231.6h0M187.1 234.9h0M192.6 222.4h0M198.9 223.5h0M213.8 220.4h0M186.2 234.7h0M171.2 215.4h0M212.9 232.7h0M192.7 236.2h0M203.2 227.1h0M182.2 211.6h0M194.7 215.4h0M177.1 227.1h0M185.6 215.7h0M199.2 228.8h0M193.5 210h0M183.3 217.7h0M189.9 228h0M199.9 228h0M210.3 226.1h0M175.6 219.5h0M196.3 235.4h0M203 215.3h0M206.6 214.5h0M198.5 209.5h0M198.7 232.6h0M198.3 224.9h0M201.7 217.9h0M176.8 229.7h0M167.9 222.4h0M178.6 234h0M171 224.8h0M182.9 215.2h0M198.3 216.5h0M199.4 222.9h0M204.6 215.7h0M167.7 220.3h0M182.6 217.2h0M177.1 235.8h0M181.9 238h0M176.2 220.6h0M207.1 225.6h0M195.9 211.4h0M214.2 217.2h0M204.6 220.7h0M180.2 210.2h0M177 228.2h0M187.1 225.2h0M184.5 211.8h0M177 225.9h0M179.9 223.3h0M190.2 213.8h0M195.5 207.6h0M194.9 214.3h0M179 221.5h0" stroke="#EFB77E" stroke-width="0.9" stroke-linecap="round" fill="none"/>
<path d="M171 155 L171.9 153.9 L173.2 153.1 L174.7 152.5 L176.4 152.1 L178 152 L179.6 152.2 L181.5 152.6 L183.3 153.2 L184.8 154 L186 155 L186.8 156.2 L187.3 157.6 L187.5 159.2 L187.4 160.7 L187 162 L186.1 163.3 L184.8 164.5 L183.3 165.7 L181.6 166.5 L180 167 L178.4 167 L176.5 166.7 L174.7 166 L173.2 165.1 L172 164 L171.2 162.5 L170.7 160.5 L170.5 158.5 L170.6 156.5Z" fill="#EBA3A8" fill-opacity="0.45"/>
<path d="M183.9 164.5h0M184 164.8h0M184.9 163h0M174.8 162.9h0M186.2 160.5h0M180.3 164.7h0M177.6 152.5h0M183.1 158.8h0M177.6 155.7h0M177.1 161.2h0M178.7 165.7h0M184.2 155.9h0M171.8 164.3h0M178.5 167.3h0M172.8 157.4h0M182.2 157.8h0M179 165.7h0M173.9 158.3h0M173.7 157.5h0M171.1 157h0M173.6 155.9h0M177.7 167.3h0M171.6 160.4h0M182.7 161.8h0M185.9 158.5h0M177.8 157.5h0M175.9 151.5h0M185.4 157.2h0M183.4 163h0M178.3 158.2h0M185.9 156.5h0M172.4 163.2h0M175 159.3h0M183.7 165h0M182.6 154.3h0M176.2 157.7h0M187.8 153.2h0M177.7 154h0M175.7 158.1h0M184.9 162.5h0M174.5 164.2h0M179.9 154.7h0M183.6 166.1h0M181.3 160.3h0M173.2 158h0M183.1 152.3h0M184.5 155.5h0M184.8 163.5h0M181.7 165.8h0M182.4 161.3h0M174.7 158.1h0M173.4 159.3h0M176.2 153.5h0M183.6 161.1h0M181.6 159.7h0M176.6 158.4h0M176.4 152.2h0M179.3 156.8h0M177.3 153h0M181.9 158.5h0" stroke="#EBA3A8" stroke-width="0.9" stroke-linecap="round" fill="none"/>
<path d="M191.1 97.6h0M189 99.2h0M187.6 99.3h0M199.7 95.4h0M199.4 94.6h0M196 96.3h0M188 99.6h0M193.3 97.7h0M193.2 96.3h0M196.6 96.7h0M189.1 99.5h0M191.4 99h0M186.2 100.7h0M197.3 95.3h0M196.4 97.2h0" stroke="#3FA05A" stroke-width="1.0" stroke-linecap="round" fill="none"/>
<path d="M125.1 114.2h0M113 120h0M130.6 115.6h0M105.1 122.1h0M115 117.8h0M135.6 110.4h0M101.8 121.6h0M109 120.4h0M140.4 109.1h0M122.8 113.7h0M134.7 111.8h0M111.1 119h0M99.9 122.2h0M136.2 111.5h0M106.3 120.3h0M115.4 117.2h0M101.5 122.5h0M109.8 119.7h0M122.5 115.1h0M111.1 118.5h0M118.5 117.5h0M113.5 118.5h0M97.1 123.2h0M136.5 110.6h0M103.9 120h0M112.7 118.7h0M113.8 118.4h0M106.3 120.8h0M103.1 122.3h0M139.1 108.3h0" stroke="#9CC3E0" stroke-width="0.8" stroke-linecap="round" fill="none"/>
</g>
<clipPath id="cc"><rect x="51" y="30" width="201.5" height="208"/></clipPath>
<g clip-path="url(#cc)" fill="none"><path d="M70.7 72.9 L71.2 69.3 L72 65.3 L73 61.4 L74.3 57.6 L75.8 54.5 L77.6 52 L79.7 49.9 L82 48.1 L84.5 46.6 L87 45.3 L89.6 44.3 L92.4 43.6 L95.3 43.1 L98.3 42.7 L101.3 42.3 L104.4 41.9 L107.6 41.5 L110.9 41.2 L114.3 41.1 L117.7 41.2 L121.3 41.5 L125.1 41.9 L128.9 42.5 L132.6 43.3 L136 44.3 L139.2 45.5 L142.2 46.9 L145.1 48.5 L147.9 50.4 L150.4 52.5 L152.8 55 L155.1 57.8 L157.2 60.8 L159.1 63.8 L160.6 66.8 L161.8 69.7 L162.6 72.5 L163.1 75.4 L163.5 78.3 L163.6 81.1 L163.5 84 L163.1 86.8 L162.5 89.7 L161.8 92.4 L161 95 L160.2 97.4 L159.3 99.7 L158.3 101.8 L157.2 103.9 L156 106 L154.8 108.2 L153.5 110.4 L152.2 112.6 L150.7 114.4 L149 115.8 L147 116.6 L144.8 117 L142.4 117.1 L140.1 116.9 L138 116.5 L135.9 115.9 L133.8 115 L131.9 113.8 L130.4 112.5 L129.5 111 L129.4 109.3 L129.9 107.2 L130.8 105.1 L131.9 102.9 L133 101 L134.2 99.2 L135.7 97.6 L137.1 96 L138.3 94.5 L139 93 L139.2 91.5 L139 90.1 L138.4 88.7 L137.5 87.5 L136 86.5 L133.9 85.7 L131.1 84.9 L128 84.4 L124.7 84.1 L121.7 84 L118.7 84.2 L115.6 84.7 L112.6 85.5 L109.8 86.3 L107.4 87.2 L105.5 88.1 L104 89.1 L102.7 90.3 L101.5 91.5 L100.3 93 L99.1 94.9 L97.9 97.1 L96.8 99.3 L95.6 101.4 L94.2 103 L92.5 104.1 L90.7 104.9 L88.8 105.4 L86.8 105.6 L85 105.5 L83.2 105 L81.5 104.2 L79.8 103.1 L78.2 101.6 L76.8 100 L75.5 98.1 L74.3 95.8 L73.3 93.3 L72.4 90.7 L71.7 88 L71.1 85.2 L70.7 82.3 L70.5 79.3 L70.4 76.2Z" stroke="#AB9D80" stroke-width="2.5"/><path d="M70.7 72.9 L71.2 69.3 L72 65.3 L73 61.4 L74.3 57.6 L75.8 54.5 L77.6 52 L79.7 49.9 L82 48.1 L84.5 46.6 L87 45.3 L89.6 44.3 L92.4 43.6 L95.3 43.1 L98.3 42.7 L101.3 42.3 L104.4 41.9 L107.6 41.5 L110.9 41.2 L114.3 41.1 L117.7 41.2 L121.3 41.5 L125.1 41.9 L128.9 42.5 L132.6 43.3 L136 44.3 L139.2 45.5 L142.2 46.9 L145.1 48.5 L147.9 50.4 L150.4 52.5 L152.8 55 L155.1 57.8 L157.2 60.8 L159.1 63.8 L160.6 66.8 L161.8 69.7 L162.6 72.5 L163.1 75.4 L163.5 78.3 L163.6 81.1 L163.5 84 L163.1 86.8 L162.5 89.7 L161.8 92.4 L161 95 L160.2 97.4 L159.3 99.7 L158.3 101.8 L157.2 103.9 L156 106 L154.8 108.2 L153.5 110.4 L152.2 112.6 L150.7 114.4 L149 115.8 L147 116.6 L144.8 117 L142.4 117.1 L140.1 116.9 L138 116.5 L135.9 115.9 L133.8 115 L131.9 113.8 L130.4 112.5 L129.5 111 L129.4 109.3 L129.9 107.2 L130.8 105.1 L131.9 102.9 L133 101 L134.2 99.2 L135.7 97.6 L137.1 96 L138.3 94.5 L139 93 L139.2 91.5 L139 90.1 L138.4 88.7 L137.5 87.5 L136 86.5 L133.9 85.7 L131.1 84.9 L128 84.4 L124.7 84.1 L121.7 84 L118.7 84.2 L115.6 84.7 L112.6 85.5 L109.8 86.3 L107.4 87.2 L105.5 88.1 L104 89.1 L102.7 90.3 L101.5 91.5 L100.3 93 L99.1 94.9 L97.9 97.1 L96.8 99.3 L95.6 101.4 L94.2 103 L92.5 104.1 L90.7 104.9 L88.8 105.4 L86.8 105.6 L85 105.5 L83.2 105 L81.5 104.2 L79.8 103.1 L78.2 101.6 L76.8 100 L75.5 98.1 L74.3 95.8 L73.3 93.3 L72.4 90.7 L71.7 88 L71.1 85.2 L70.7 82.3 L70.5 79.3 L70.4 76.2Z" stroke="#fff" stroke-width="1.0"/><path d="M45 127.5 L48 125.9 L51.4 124.7 L55.1 123.7 L58.9 123.1 L62.8 122.6 L66.9 122.5 L71.3 122.9 L75.8 123.4 L80 123.8 L83.8 124 L87 123.9 L89.8 123.6 L92.4 123.2 L95 122.8 L97.8 122.3 L100.9 121.7 L104.2 120.8 L107.6 120 L110.8 119.4 L113.6 119.1 L116.1 119.2 L118.5 119.7 L120.6 120.3 L122.5 121.2 L124.1 122.3 L125.4 123.6 L126.5 125.2 L127.3 127 L127.9 128.9 L128.5 131 L128.9 133.3 L129 135.9 L129 138.6 L129.1 141.1 L129.3 143.3 L129.7 145.1 L130.2 146.6 L130.8 148 L131.4 149.2 L132 150.3 L132.7 151.2 L133.6 151.8 L134.5 152.3 L135.2 152.9 L135.5 153.8 L135.3 154.9 L134.7 156.2 L134 157.6 L133.3 159.1 L132.8 160.8 L132.6 162.6 L132.5 164.4 L132.5 166.4 L132.6 168.7 L132.8 171.3 L133 174.3 L133.4 177.7 L133.7 181.3 L134.2 185.1 L134.6 188.8 L135.1 192.6 L135.8 196.6 L136.4 200.7 L136.9 204.6 L137.2 208.1 L137.2 211.3 L137.1 214.2 L136.8 217 L136.3 219.6 L135.5 222.1 L134.4 224.5 L133.1 226.8 L131.5 228.9 L129.7 230.9 L127.6 232.6 L125.2 234.1 L122.5 235.4 L119.6 236.5 L116.6 237.4 L113.6 237.9 L110.6 238 L107.4 237.9 L104.2 237.4 L101 236.8 L97.8 236.1 L94.5 235.4 L91.1 234.5 L87.7 233.5 L84.6 232.3 L82 230.9 L79.9 229.1 L78.2 227.1 L76.8 224.9 L75.8 222.6 L75 220.4 L74.6 218.2 L74.5 216 L74.7 213.7 L75.1 211.7 L75.9 209.9 L76.9 208.4 L78.2 207.2 L79.7 206.2 L81.6 205.3 L83.8 204.6 L86.5 204.1 L89.7 203.9 L93.2 203.8 L96.5 203.5 L99.6 202.9 L102.4 201.9 L105.2 200.5 L107.7 199 L110 197.4 L111.8 195.8 L113.2 194.2 L114.2 192.4 L114.9 190.7 L115.3 188.9 L115.3 187.1 L114.9 185.3 L114.1 183.5 L113 181.8 L111.6 180 L110.1 178.3 L108.3 176.6 L106.3 174.9 L104.1 173.3 L101.8 171.7 L99.6 170.4 L97.5 169.3 L95.5 168.4 L93.5 167.6 L91.3 166.9 L89 166.1 L86.4 165.4 L83.6 164.7 L80.8 164.1 L77.9 163.4 L75 162.6 L72.2 161.7 L69.5 160.6 L66.7 159.5 L63.9 158.4 L61 157.3 L57.8 156.3 L54.5 155.5 L51.1 154.6 L47.8 153.5 L45 152 L42.3 150 L39.6 147.7 L37.3 145.2 L35.6 142.5 L35 140 L35.6 137.4 L37.2 134.7 L39.5 132 L42.2 129.5Z" stroke="#AB9D80" stroke-width="2.5"/><path d="M45 127.5 L48 125.9 L51.4 124.7 L55.1 123.7 L58.9 123.1 L62.8 122.6 L66.9 122.5 L71.3 122.9 L75.8 123.4 L80 123.8 L83.8 124 L87 123.9 L89.8 123.6 L92.4 123.2 L95 122.8 L97.8 122.3 L100.9 121.7 L104.2 120.8 L107.6 120 L110.8 119.4 L113.6 119.1 L116.1 119.2 L118.5 119.7 L120.6 120.3 L122.5 121.2 L124.1 122.3 L125.4 123.6 L126.5 125.2 L127.3 127 L127.9 128.9 L128.5 131 L128.9 133.3 L129 135.9 L129 138.6 L129.1 141.1 L129.3 143.3 L129.7 145.1 L130.2 146.6 L130.8 148 L131.4 149.2 L132 150.3 L132.7 151.2 L133.6 151.8 L134.5 152.3 L135.2 152.9 L135.5 153.8 L135.3 154.9 L134.7 156.2 L134 157.6 L133.3 159.1 L132.8 160.8 L132.6 162.6 L132.5 164.4 L132.5 166.4 L132.6 168.7 L132.8 171.3 L133 174.3 L133.4 177.7 L133.7 181.3 L134.2 185.1 L134.6 188.8 L135.1 192.6 L135.8 196.6 L136.4 200.7 L136.9 204.6 L137.2 208.1 L137.2 211.3 L137.1 214.2 L136.8 217 L136.3 219.6 L135.5 222.1 L134.4 224.5 L133.1 226.8 L131.5 228.9 L129.7 230.9 L127.6 232.6 L125.2 234.1 L122.5 235.4 L119.6 236.5 L116.6 237.4 L113.6 237.9 L110.6 238 L107.4 237.9 L104.2 237.4 L101 236.8 L97.8 236.1 L94.5 235.4 L91.1 234.5 L87.7 233.5 L84.6 232.3 L82 230.9 L79.9 229.1 L78.2 227.1 L76.8 224.9 L75.8 222.6 L75 220.4 L74.6 218.2 L74.5 216 L74.7 213.7 L75.1 211.7 L75.9 209.9 L76.9 208.4 L78.2 207.2 L79.7 206.2 L81.6 205.3 L83.8 204.6 L86.5 204.1 L89.7 203.9 L93.2 203.8 L96.5 203.5 L99.6 202.9 L102.4 201.9 L105.2 200.5 L107.7 199 L110 197.4 L111.8 195.8 L113.2 194.2 L114.2 192.4 L114.9 190.7 L115.3 188.9 L115.3 187.1 L114.9 185.3 L114.1 183.5 L113 181.8 L111.6 180 L110.1 178.3 L108.3 176.6 L106.3 174.9 L104.1 173.3 L101.8 171.7 L99.6 170.4 L97.5 169.3 L95.5 168.4 L93.5 167.6 L91.3 166.9 L89 166.1 L86.4 165.4 L83.6 164.7 L80.8 164.1 L77.9 163.4 L75 162.6 L72.2 161.7 L69.5 160.6 L66.7 159.5 L63.9 158.4 L61 157.3 L57.8 156.3 L54.5 155.5 L51.1 154.6 L47.8 153.5 L45 152 L42.3 150 L39.6 147.7 L37.3 145.2 L35.6 142.5 L35 140 L35.6 137.4 L37.2 134.7 L39.5 132 L42.2 129.5Z" stroke="#fff" stroke-width="1.0"/><path d="M198.2 84.1 L199 81.9 L199.9 79.8 L201.1 77.8 L202.6 76 L204.6 74.5 L207.1 73.2 L210.2 72.1 L213.6 71.2 L217.1 70.6 L220.7 70.4 L224.5 70.6 L228.6 71 L232.7 71.8 L236.6 73 L240 74.5 L242.9 76.5 L245.4 79 L247.6 81.8 L249.5 84.6 L251.2 87.3 L252.7 89.8 L254 92.2 L255 94.7 L255.7 97.2 L256 100 L255.9 103.1 L255.4 106.6 L254.6 110.1 L253.5 113.4 L252 116.2 L250.2 118.5 L247.9 120.6 L245.4 122.4 L242.7 123.8 L240 125 L237.2 125.9 L234.2 126.5 L231.2 126.8 L228.2 126.9 L225.5 126.6 L223 126 L220.7 125.1 L218.6 124 L216.4 122.6 L214.2 121 L211.9 119.1 L209.4 117 L207.1 114.7 L204.9 112.2 L203 109.8 L201.4 107.3 L200 104.8 L198.9 102.1 L198 99.5 L197.4 96.9 L197.1 94.3 L197 91.6 L197.2 89 L197.6 86.5Z" stroke="#AB9D80" stroke-width="2.5"/><path d="M198.2 84.1 L199 81.9 L199.9 79.8 L201.1 77.8 L202.6 76 L204.6 74.5 L207.1 73.2 L210.2 72.1 L213.6 71.2 L217.1 70.6 L220.7 70.4 L224.5 70.6 L228.6 71 L232.7 71.8 L236.6 73 L240 74.5 L242.9 76.5 L245.4 79 L247.6 81.8 L249.5 84.6 L251.2 87.3 L252.7 89.8 L254 92.2 L255 94.7 L255.7 97.2 L256 100 L255.9 103.1 L255.4 106.6 L254.6 110.1 L253.5 113.4 L252 116.2 L250.2 118.5 L247.9 120.6 L245.4 122.4 L242.7 123.8 L240 125 L237.2 125.9 L234.2 126.5 L231.2 126.8 L228.2 126.9 L225.5 126.6 L223 126 L220.7 125.1 L218.6 124 L216.4 122.6 L214.2 121 L211.9 119.1 L209.4 117 L207.1 114.7 L204.9 112.2 L203 109.8 L201.4 107.3 L200 104.8 L198.9 102.1 L198 99.5 L197.4 96.9 L197.1 94.3 L197 91.6 L197.2 89 L197.6 86.5Z" stroke="#fff" stroke-width="1.0"/><path d="M219 130 L219.7 130.3 L220.4 131.2 L221.1 132.6 L222 133.9 L223 135 L224.1 135.8 L225.4 136.4 L226.8 137 L228.3 137.5 L230 138 L232 138.3 L234.3 138.5 L236.6 138.6 L238.9 138.9 L241 139.5 L242.9 140.4 L244.7 141.6 L246.3 142.9 L247.8 144.4 L249 146 L250 147.8 L250.9 149.7 L251.5 151.8 L251.9 153.9 L252 156 L251.7 158.1 L251.2 160.2 L250.4 162.3 L249.3 164.3 L248 166 L246.4 167.5 L244.6 168.9 L242.5 170.1 L240.3 171.2 L238 172 L235.6 172.7 L233 173.2 L230.3 173.5 L227.6 173.6 L225 173.5 L222.3 173.1 L219.5 172.6 L216.7 171.8 L214.2 170.7 L212 169.5 L210.3 168 L208.8 166.2 L207.6 164.2 L206.7 162.1 L206 160 L205.5 157.7 L205.3 155.1 L205.4 152.6 L205.6 150.1 L206 148 L206.7 146.2 L207.6 144.7 L208.8 143.3 L209.9 142.1 L211 141 L212 140.1 L213.1 139.3 L214.1 138.7 L215.1 137.9 L216 137 L216.7 135.6 L217.3 133.8 L217.8 132.1 L218.4 130.7Z" stroke="#AB9D80" stroke-width="2.5"/><path d="M219 130 L219.7 130.3 L220.4 131.2 L221.1 132.6 L222 133.9 L223 135 L224.1 135.8 L225.4 136.4 L226.8 137 L228.3 137.5 L230 138 L232 138.3 L234.3 138.5 L236.6 138.6 L238.9 138.9 L241 139.5 L242.9 140.4 L244.7 141.6 L246.3 142.9 L247.8 144.4 L249 146 L250 147.8 L250.9 149.7 L251.5 151.8 L251.9 153.9 L252 156 L251.7 158.1 L251.2 160.2 L250.4 162.3 L249.3 164.3 L248 166 L246.4 167.5 L244.6 168.9 L242.5 170.1 L240.3 171.2 L238 172 L235.6 172.7 L233 173.2 L230.3 173.5 L227.6 173.6 L225 173.5 L222.3 173.1 L219.5 172.6 L216.7 171.8 L214.2 170.7 L212 169.5 L210.3 168 L208.8 166.2 L207.6 164.2 L206.7 162.1 L206 160 L205.5 157.7 L205.3 155.1 L205.4 152.6 L205.6 150.1 L206 148 L206.7 146.2 L207.6 144.7 L208.8 143.3 L209.9 142.1 L211 141 L212 140.1 L213.1 139.3 L214.1 138.7 L215.1 137.9 L216 137 L216.7 135.6 L217.3 133.8 L217.8 132.1 L218.4 130.7Z" stroke="#fff" stroke-width="1.0"/><path d="M163 225 L163 222.3 L163.1 219.3 L163.4 216.2 L164 213.4 L165 211 L166.4 209.1 L168.1 207.6 L170.1 206.4 L172.4 205.4 L175 204.5 L178 203.7 L181.3 203.2 L184.9 202.8 L188.5 202.5 L192 202.5 L195.5 202.6 L199.1 203 L202.7 203.5 L206 204.1 L209 205 L211.6 206 L213.9 207.2 L215.9 208.6 L217.6 210.2 L219 212 L220.1 214.1 L220.8 216.4 L221.3 219 L221.5 221.5 L221.5 224 L221.3 226.5 L220.7 229 L220 231.5 L219.1 233.9 L218 236 L216.8 237.9 L215.6 239.7 L214.1 241.4 L212.3 242.8 L210 244 L207 245 L203.5 245.8 L199.7 246.5 L195.8 246.9 L192 247 L188.2 246.9 L184.3 246.5 L180.5 245.8 L177 245 L174 244 L171.7 242.8 L169.8 241.3 L168.4 239.7 L167.1 237.9 L166 236 L165 234 L164.2 232 L163.6 229.8 L163.2 227.4Z" stroke="#AB9D80" stroke-width="2.5"/><path d="M163 225 L163 222.3 L163.1 219.3 L163.4 216.2 L164 213.4 L165 211 L166.4 209.1 L168.1 207.6 L170.1 206.4 L172.4 205.4 L175 204.5 L178 203.7 L181.3 203.2 L184.9 202.8 L188.5 202.5 L192 202.5 L195.5 202.6 L199.1 203 L202.7 203.5 L206 204.1 L209 205 L211.6 206 L213.9 207.2 L215.9 208.6 L217.6 210.2 L219 212 L220.1 214.1 L220.8 216.4 L221.3 219 L221.5 221.5 L221.5 224 L221.3 226.5 L220.7 229 L220 231.5 L219.1 233.9 L218 236 L216.8 237.9 L215.6 239.7 L214.1 241.4 L212.3 242.8 L210 244 L207 245 L203.5 245.8 L199.7 246.5 L195.8 246.9 L192 247 L188.2 246.9 L184.3 246.5 L180.5 245.8 L177 245 L174 244 L171.7 242.8 L169.8 241.3 L168.4 239.7 L167.1 237.9 L166 236 L165 234 L164.2 232 L163.6 229.8 L163.2 227.4Z" stroke="#fff" stroke-width="1.0"/><circle cx="178" cy="159" r="12" stroke="#AB9D80" stroke-width="2.5"/><circle cx="178" cy="159" r="12" stroke="#fff" stroke-width="1.0"/></g>
<text x="88.6" y="71.1" font-size="9.5" text-anchor="start" fill="#000" >EPITHELIAL</text>
<text x="49" y="145.4" font-size="9.5" text-anchor="start" fill="#000" >LYMPHOID(T&amp;NK)</text>
<text x="99.9" y="172.4" font-size="9.5" text-anchor="start" fill="#000" >B-CELL</text>
<text x="165.4" y="162.9" font-size="9.5" text-anchor="start" fill="#000" >MAST</text>
<text x="88.6" y="220" font-size="9.5" text-anchor="start" fill="#000" >MYELOID</text>
<text x="158.4" y="228.6" font-size="9.5" text-anchor="start" fill="#000" >ENDOTHELIAL</text>
<text x="197.8" y="105.7" font-size="9.5" text-anchor="start" fill="#000" >FIBROBLAST</text>
<text x="296.4" y="24" font-size="9.6" font-weight="bold" fill="#2a1818">b</text>
<text x="445.3" y="8.3" font-size="10.6" text-anchor="middle" fill="#222" >LYMPHOID (T&amp;NK)</text>
<g filter="url(#scat)">
<path d="M440 45 L442.2 43.4 L444.9 41.8 L448.1 40.3 L451.5 39 L455 38 L458.7 37.3 L462.6 36.9 L466.8 36.6 L470.9 36.4 L475 36 L479.2 35.4 L483.5 34.8 L487.7 34.1 L491.6 33.5 L495 33 L497.6 32.4 L499.7 31.8 L501.5 31.3 L503.2 31.3 L505 32 L507 33.7 L509 36.1 L511.1 39 L513.1 42 L515 45 L517 47.9 L519 50.9 L521 53.9 L522.7 57 L524 60 L524.9 62.9 L525.5 65.8 L525.8 68.6 L526 71.7 L526 75 L525.9 78.8 L525.7 83 L525.3 87.3 L524.7 91.4 L524 95 L523.1 98.2 L522.1 101 L520.9 103.6 L519.5 106 L518 108 L516.3 109.8 L514.4 111.3 L512.4 112.5 L510.3 113.4 L508 114 L505.6 114.3 L503.1 114.3 L500.5 113.9 L497.8 113.2 L495 112 L492.1 110.1 L489.1 107.6 L486.1 104.8 L483 102.1 L480 100 L477 98.6 L473.9 97.6 L470.8 96.8 L467.8 96 L465 95 L462.4 93.8 L460 92.5 L457.7 91.1 L455.4 89.6 L453 88 L450.5 86.2 L447.9 84.4 L445.3 82.4 L443 80.2 L441 78 L439.5 75.6 L438.2 72.9 L437.2 70.2 L436.5 67.5 L436 65 L435.8 62.6 L435.9 60.4 L436.2 58.2 L436.6 56 L437 54 L437.3 52 L437.5 50.2 L437.8 48.4 L438.6 46.6Z" fill="#B6A5CA" fill-opacity="0.92"/>
<path d="M486.5 95.8h0M468.2 40.3h0M474.6 42.4h0M446.6 61.5h0M499.6 66.7h0M499.4 39.3h0M508.7 85.2h0M480.9 51.8h0M489.8 89h0M504.9 60.4h0M464.5 71.8h0M436.9 54.1h0M500 83.3h0M499.5 79.4h0M455.1 69.3h0M487.8 53.9h0M464.6 44h0M435.8 55.5h0M508.1 78.2h0M484 94.7h0M465.7 44.4h0M442.1 70.3h0M462.2 49.3h0M477.3 71.1h0M462.9 63.9h0M439 54.3h0M460.7 92.8h0M516.8 86.6h0M480.3 92.9h0M524.9 80.2h0M520.3 71.2h0M512.2 104.9h0M444.1 73.3h0M517.1 52.1h0M510.6 111.6h0M505.6 98.8h0M515.5 96h0M502.2 34.9h0M505.8 80.5h0M481.2 40.7h0M450.1 53.1h0M472.3 43.6h0M474.6 47.7h0M493.8 70.2h0M496.6 87.7h0M509 103.9h0M515.6 51.8h0M451.7 72.3h0M515.2 67.2h0M510.1 99.9h0M461.7 87h0M498.7 68.9h0M461.4 58.4h0M476.2 59.6h0M523.3 62.3h0M523.1 75.7h0M463 68.7h0M503.5 102.5h0M442.9 57h0M439.6 74.2h0M497.8 49.1h0M470.5 47.8h0M515.3 53.2h0M489.4 56.5h0M467.8 59.9h0M471.1 47.5h0M479.7 71.9h0M471.4 96.4h0M512.1 106.6h0M482.4 46.6h0M483.2 100.6h0M465.3 68.3h0M481.1 74.6h0M495.8 110.3h0M481.8 64.8h0M517.1 85.6h0M497.9 58.9h0M455.6 74.3h0M455.7 32.2h0M492.3 93.3h0M474.1 75h0M522.9 85h0M456.4 76.7h0M510 83.1h0M445.3 56h0M517.6 73.6h0M462.6 71.8h0M485.3 58.5h0M481.4 93.4h0M523.6 71.3h0M482.2 37.2h0M501.5 60.5h0M502.5 98.7h0M472.2 62h0M506 96.7h0M469.3 65.4h0M519.7 83h0M516.2 88.2h0M502.7 59.3h0M511.5 56.3h0M510.6 70.8h0M509.4 76.4h0M498.7 103.7h0M511.9 51.1h0M505 77.8h0M450.6 40h0M519.9 59.6h0M499.5 36.3h0M486.5 71.1h0M471.9 96.1h0M443.4 54.8h0M485 68.9h0M487.4 66.9h0M451.9 63.4h0M501.9 72.7h0M485.8 63.7h0M455.3 46.2h0M499.8 69.1h0M454.6 75.1h0M434.3 59.8h0M444.8 71.1h0M509.2 60h0M455.8 47.3h0M521.9 107.5h0M502.4 107.7h0M507.4 87.6h0M464.9 52.4h0M471.4 56.4h0M496.7 53.5h0M477 54.8h0M511.1 47.4h0M523 53.3h0M461 92.3h0M505.2 38.5h0M498.4 65.8h0M466.5 72.1h0M499.1 77.7h0M515.7 49.2h0M495.5 99.4h0M498.1 93.8h0M501.9 68.4h0M513.2 109.4h0M466.3 61.2h0M472.7 61.3h0M436.2 49.3h0M494.9 97.9h0M494.7 63.1h0M463.1 56.4h0M501.3 43.6h0M510.7 100.7h0M517 68.7h0M480.3 50.2h0M505.9 105.5h0M485.9 68.1h0M515.7 52.4h0M493.6 35.5h0M470.4 55.3h0M501 96.8h0M499 111.3h0M524.3 76.5h0M451 63.2h0M486.7 59.2h0M450.1 59.5h0M440.5 81h0M456.5 47.5h0M521.8 66.6h0M503.6 87.8h0M466.7 83.8h0M479.3 76.6h0M457.3 53.2h0M468.2 89h0M440.7 54.7h0M462.4 53.7h0M510 108.7h0M455.5 78.5h0M516.7 58.7h0M467.6 74.9h0M491.2 38.7h0M499 42.7h0M482.9 69.9h0M507.2 60.5h0M500 70.9h0M501.2 63.1h0M463.8 48.2h0M445.4 41.7h0M485.5 85.7h0M509.9 94.6h0M456.4 43h0M481 64.5h0M515.8 80.6h0M466.5 96.6h0M461.6 68.6h0M487.9 55.8h0M491.8 87h0M480.8 61.9h0M482.4 65.9h0M499.7 108.1h0M510 77.4h0M482.9 100.9h0M499.2 75.5h0M460.2 43.4h0M451.5 53.9h0M500.8 51.3h0M480.6 60.9h0M471.3 85.8h0M502.8 79.1h0M450.8 67.2h0M507.4 101.5h0M488.9 90.1h0M490.1 60.5h0M476.4 38.6h0M482.4 61.7h0M496.2 95.8h0M489.1 77h0M493.5 77.5h0M474.7 93.4h0M462.6 75.5h0M520.3 83.9h0M468.9 46.1h0M480.1 42.2h0M512.9 67.1h0M489.4 75.2h0M459.5 45.4h0M459.4 60.4h0M512.4 96.4h0M447 44.2h0M492 49.4h0M493.8 86.4h0M466.2 45h0M500.7 109.5h0M495.1 65h0M500.6 57.3h0M466.5 89.3h0M470.1 41.6h0M510.8 80h0M502.8 108.6h0M449.8 62.1h0M490.8 61.3h0M508.1 37.8h0M514.9 80.3h0M522 61.7h0M446.1 50.3h0M493.8 77.9h0M464.2 80.7h0M477.3 64.6h0M505.4 51.6h0M484.6 75h0M521.5 80.6h0M502.5 100.8h0M491 55h0M502.1 64h0M509.4 112.1h0M517.3 84h0M501.6 75.9h0M519.3 85.1h0M485.9 76.1h0M462 50.5h0M470.6 77.8h0M491.3 101.3h0M521.9 64.8h0M468 38.3h0M521.6 71.1h0M484.3 67.5h0M460.6 76.4h0M481.7 72.8h0M513.5 44.5h0M496.5 88.1h0M475.2 80.9h0M467 83.8h0M471.4 88.9h0M499.6 56.9h0M523.7 73h0M486.4 67h0M481.6 79.8h0M515.7 75.3h0M511.4 49h0M462.3 61h0M465.2 60.4h0M505.8 95.7h0M482 91h0M452.1 85.3h0M470.1 93h0M489.2 67.4h0M501.3 75.6h0M483.6 82.9h0M500.1 93.2h0M475.7 81.8h0M443.1 45.7h0M484.3 55.4h0M459.3 75.5h0M484.2 91.8h0M492.1 96.5h0M458.2 72.7h0M482.5 100.4h0M492.5 100h0M462.6 88.3h0M453.9 89.2h0M484.9 100.7h0M510.4 88.5h0M477.4 69h0M510.1 91h0M446.3 64.8h0M487.3 43.3h0M478 82.8h0M472.3 48.1h0M502.3 104.2h0M444.8 82.9h0M470.7 51.6h0M477.2 64.9h0M512.7 87.3h0M467.6 85.9h0M484 80.5h0M460.2 74.4h0M480.5 78.4h0M487.8 83.8h0M444.8 60h0M519.6 93.1h0M458.9 79.4h0M514.4 49.3h0M490 108.5h0M470.5 63.6h0M509.4 59.8h0M506.8 104.3h0M507.1 111.7h0M491.8 82.6h0M520.9 76.3h0M519.8 65.7h0M487.8 43.2h0M496.5 53.2h0M450.6 78h0M450.9 75.4h0M446.2 78h0M498 35.4h0M458 43.7h0M494.3 56h0M480 39.9h0M508.3 42.4h0M461.4 50.6h0M495 40.4h0M522.1 82h0M478.3 82.5h0M463.3 88.1h0M441.6 66.2h0M482.7 47.1h0M518.9 64.9h0M497.9 105.2h0M460.1 63.7h0M460.8 63.9h0M488.2 80.5h0M510.8 74.4h0" stroke="#B6A5CA" stroke-width="1.2" stroke-linecap="round" fill="none"/>
<path d="M418 42 L418.7 39.7 L419.8 37.2 L421.3 34.6 L423.1 32.2 L425 30 L427.1 28.1 L429.4 26.4 L432 24.9 L434.9 23.4 L438 22 L441.5 20.6 L445.3 19.1 L449.4 17.8 L453.6 16.7 L458 16 L462.7 15.7 L467.7 15.7 L472.9 15.9 L477.7 16.4 L482 17 L485.7 17.9 L489.1 19 L492.1 20.3 L494.7 21.7 L497 23 L498.9 24.3 L500.5 25.7 L501.7 27.1 L502.5 28.5 L503 30 L503.1 31.6 L502.8 33.3 L502.1 35 L501.2 36.6 L500 38 L498.5 39.1 L496.7 39.9 L494.7 40.7 L492.4 41.3 L490 42 L487.3 42.7 L484.3 43.3 L481.1 43.8 L478 44.4 L475 45 L472.2 45.5 L469.5 46 L466.9 46.4 L464.4 47.1 L462 48 L459.8 49.3 L457.7 50.9 L455.7 52.7 L453.8 54.4 L452 56 L450.3 57.5 L448.8 59 L447.4 60.3 L445.8 61.4 L444 62 L441.8 62 L439.4 61.6 L436.9 60.9 L434.4 60 L432 59 L429.6 57.9 L427.1 56.6 L424.8 55.2 L422.7 53.7 L421 52 L419.7 50.2 L418.7 48.3 L418.1 46.3 L417.8 44.2Z" fill="#D9232D" fill-opacity="0.92"/>
<path d="M443.9 35.4h0M457.5 26.3h0M478.8 19.1h0M429.9 57.9h0M478.5 35.4h0M421.7 42.1h0M422.4 33.9h0M479.4 28.7h0M423.1 36.9h0M442.7 31.2h0M460.5 33.1h0M468.9 36.4h0M458 44.5h0M455.8 42.6h0M433.5 30.5h0M416.8 47.4h0M469.8 34.2h0M429.1 51.2h0M426.3 38.8h0M450.8 32.1h0M468.7 21.1h0M467.1 38.3h0M469.7 28.8h0M446 36.5h0M439.3 41.6h0M451.1 58.3h0M438.6 39.1h0M476.7 43h0M465.5 36.8h0M468 36.3h0M425.4 38h0M424 54.9h0M446.6 52.4h0M468.9 25.7h0M438.7 46.9h0M441.5 31.3h0M473.9 41.4h0M460.2 19.4h0M476.9 24.3h0M495.9 33.7h0M446.9 56h0M471.5 19.3h0M454.3 46h0M426.8 49.6h0M463.6 22.3h0M443 31.9h0M456.8 48.7h0M420.1 52.1h0M421.9 40.7h0M449.7 55.2h0M437.9 55.4h0M425.3 50.4h0M485.9 46.1h0M432.1 36.3h0M448.6 26.7h0M491.8 27.5h0M427.4 50.6h0M440.8 55.2h0M480.6 25.3h0M450 39.1h0M434.7 29.4h0M424.1 43.3h0M438.2 44.6h0M504.4 26.5h0M458.5 19.6h0M459.8 29.8h0M423.1 38.4h0M435.6 25.1h0M487 27.2h0M470.7 28h0M445 61.3h0M479.6 31.8h0M445.5 55.2h0M452.1 49h0M432.7 46.8h0M490.1 37.2h0M499.6 29.3h0M452.1 30.9h0M497.5 33.9h0M469 47.7h0M438.1 52.9h0M424.3 33.8h0M446.5 36.7h0M481.7 16.8h0M471.3 42.1h0M425.8 42.5h0M440.4 40.5h0M440.9 45.5h0M437 62.3h0M459.3 23.3h0M486.1 24.3h0M421.1 33.4h0M462.2 36.3h0M457.6 48.9h0M482.1 25.8h0M455.4 30.7h0M493.7 28h0M440.8 48h0M424.2 42h0M499.3 26.4h0M497 26.4h0M464.2 39.7h0M486.6 28.4h0M475.7 21.7h0M470.3 31.8h0M468.4 18.6h0M430.1 43.8h0M427.6 49h0M444.6 45.6h0M476.7 17.5h0M444.3 57.3h0M463.1 35.7h0M443.9 61.7h0M498.7 22.6h0M425.4 51.3h0M447.2 41.2h0M457.9 24.3h0M467.6 25.7h0M432.1 48.1h0M497.3 41.2h0M438.5 24.6h0M481.9 19.4h0M454.2 29.9h0M436.4 37.7h0M429 32.9h0M488.8 22.4h0M444.8 54.7h0M477 25.2h0M468.4 41.3h0M487.7 42.5h0M486.5 28.1h0M472.1 24.3h0M446.2 46.4h0M487.6 25.1h0M472.9 38.7h0M453.2 19.2h0M453.1 29.8h0M420.3 33.2h0M465.5 42.5h0M457.5 40.9h0M462.3 28.3h0M425.4 43.3h0M468.3 25.4h0M464.9 23.6h0M426.5 54.6h0M454.2 32.3h0M456.9 21.7h0M482.3 34.6h0M426.4 45.3h0M420.2 39h0M468.8 15.1h0M451.5 29.6h0M431.5 34h0M474.3 37.8h0M427.6 55.9h0M431.5 41.9h0M422.3 39.8h0M458.9 30.4h0M497.6 35.3h0M429.3 28.4h0M497.8 34.9h0M432.6 55.1h0M424 38.8h0M466.6 36.4h0M422.4 46.6h0M427 33.6h0M476.6 29.1h0M497.4 36.3h0M448.8 19.9h0M442.2 37.6h0M458.7 23.7h0M452.9 42.4h0M501.4 31.6h0M451.8 25h0M487.6 34.2h0M459.1 17h0M438.4 59.3h0M495.9 34.8h0M442.9 29.4h0M444.6 27.6h0M445.6 53.9h0M471.5 34.2h0M451.1 39.5h0M457.5 37.5h0M468.9 22.2h0M452 39.2h0M433.9 38h0M468 42h0M483.8 17.6h0M429.7 31.1h0M477.9 30.4h0M461.4 40.8h0M421 54h0M464.3 43.3h0M463.3 23.7h0M448.4 21h0M455.3 20.4h0M438.3 48.8h0M432.8 38.3h0M464.4 40.9h0M461.7 38.5h0M465.9 34.8h0M460.7 44.4h0M436.9 50.5h0M458.6 44.4h0M456.6 34.8h0M481.7 39.3h0M442.6 64.5h0M476.9 35.7h0M447.6 45.4h0M478.8 43.8h0M421.3 32.4h0M450 36.2h0M446.7 38.9h0M427.6 28.3h0M433.8 40.1h0M445.1 22.5h0M427.5 37.6h0M462.4 29.8h0M492.4 38.9h0M456.3 29.5h0M443 32.1h0M491.6 30h0M462.8 29.4h0M433.2 34.1h0M485.3 26.1h0M474.8 35.1h0M431.7 27.6h0M426.4 55.6h0M439.6 32.9h0M463.6 24.1h0M484.1 23.9h0M486.4 24.6h0M488.6 35.6h0M423.9 39.3h0M428.7 39.8h0M487.7 17.6h0M450.2 48.9h0M475.2 24.8h0M429.2 37h0M469.3 26.6h0M453.6 44.8h0M469.7 31.7h0M497.2 37h0M459.1 30h0M481.1 27.8h0M440 42.9h0M469.6 36.1h0M435 24.7h0M473.5 15.4h0M450.6 51.1h0M455.2 50.8h0M433.6 34.3h0M453.3 43.1h0M428.1 48.2h0M437.7 29.5h0M428.5 46.3h0M439.7 33h0M428.8 55.5h0M488.1 31.2h0M432.6 28.1h0M475.8 32.9h0M471 37.3h0M453.1 53.3h0M434.2 46.6h0M471.4 16.1h0M480.4 41.3h0M482.9 37.3h0M464.5 44.5h0M482.8 22.1h0M485.8 23.9h0M440.5 60.7h0M480.2 41.9h0M501 38.7h0M445.6 49.3h0M443.6 33.4h0M441.5 60.2h0M434.1 38.6h0M428.5 37.1h0M427.1 38.4h0M451.5 19.3h0M449.5 34.1h0M463.1 18.7h0M477.3 29.8h0M496.5 36h0M472.8 43h0M472.5 44.2h0M459.7 44.7h0M429.6 43.7h0M447.3 35.2h0M416 40.7h0M440.9 46h0M468.7 28.1h0M475.4 18.6h0M478 31h0M446.5 32.4h0M474.2 25.7h0M466.4 39.8h0M499.3 37.8h0M477.9 40.8h0" stroke="#D9232D" stroke-width="1.2" stroke-linecap="round" fill="none"/>
<path d="M400.6 61.8h0M398.5 65.9h0M421.2 51.7h0M416.5 56.1h0M406.8 56.3h0M400.2 65.7h0M422.1 42.8h0M417.5 47.8h0M400.2 64h0M401 66.1h0M407.8 57.8h0M417.9 46.2h0M425.8 48.2h0M415.7 50.1h0M425.1 39.4h0M398.9 63.2h0M401.2 60.5h0M415.3 48.6h0M399.4 62.3h0M420.8 49.6h0M402.8 60h0M406.4 58.1h0M414.6 55.1h0M413.1 53.3h0M413.6 53.7h0M407.3 56.1h0M417.2 49.5h0M400.1 62.5h0M416.9 54.2h0M413.5 50.7h0M416.7 51.1h0M410.7 56.8h0M406.9 62.5h0M420.6 54.6h0M411.3 55.4h0M418.9 50.5h0M407.3 59.3h0M406.2 57.8h0M419.8 47.7h0M406.5 53.8h0M399.4 59.7h0M392.8 64.5h0M417.9 51.3h0M406.2 58.5h0M400.6 63.9h0M426.1 48.1h0M405.6 64.2h0M410.6 53.7h0M403.1 60.7h0M414.4 52.2h0M408.7 61.2h0M417.7 52.3h0M414.3 58.4h0M412.6 52.6h0M419 49.5h0M410.6 59.2h0M420.3 48h0M415 53.4h0M418.8 50.9h0M400.4 62.9h0" stroke="#D9232D" stroke-width="1.6" stroke-linecap="round" fill="none"/>
<path d="M413.4 60.9h0M406 56.3h0M393.8 66.7h0M381.2 75.2h0M392.4 71.4h0M385.2 76h0M383.9 77.8h0M406.7 66.8h0M406.8 61h0M400.8 66h0M398.4 68.7h0M399.6 61.4h0M395.6 68.7h0M387.3 75h0M404.8 61.2h0M409.4 61.3h0M393.8 67.4h0M411.6 54.6h0M404.1 60.6h0M410.6 56.4h0M399.3 65.1h0M404.1 61.4h0M383.9 76.4h0M411.1 59.8h0M387.7 75.2h0M395.2 68.3h0M411.2 57.9h0M396.4 67h0M390.8 74.3h0M405.3 60.9h0M386.3 76.7h0M385.7 77.8h0M396.8 69.3h0M410.6 60.7h0M388.2 70.7h0" stroke="#EE7E2E" stroke-width="1.6" stroke-linecap="round" fill="none"/>
<path d="M436 95 L437.3 94.2 L439 93.6 L440.9 93.1 L443 92.9 L445 93 L447.1 93.4 L449.3 94 L451.5 94.8 L453.5 95.8 L455 97 L456.1 98.4 L456.8 100.1 L457.2 101.9 L457.3 103.6 L457 105 L456.2 106.1 L455 107.1 L453.4 108 L451.7 108.6 L450 109 L448.1 109.2 L446 109.2 L443.8 109 L441.7 108.6 L440 108 L438.6 107.1 L437.4 106 L436.3 104.7 L435.5 103.3 L435 102 L434.7 100.6 L434.6 99 L434.7 97.5 L435.2 96.1Z" fill="#E58B8B" fill-opacity="0.92"/>
<path d="M435.5 102.7h0M448 103.1h0M443.7 95.3h0M443.4 98.4h0M452.6 102.9h0M448.2 91.6h0M443.2 99h0M446.3 100.7h0M454.4 101.5h0M447.2 104h0M441.4 101.4h0M456.8 100.4h0M441.8 96.5h0M449 104.6h0M449.2 103.2h0M440.9 98.9h0M437.4 99.2h0M433.8 96.2h0M447 103.2h0M448 103.1h0M444.8 95.8h0M442.9 101.3h0M436.2 101.5h0M447.3 98.7h0M447.6 99.4h0M454.6 100.8h0M455.4 96.5h0M446.9 102.3h0M434.3 99.6h0M453.6 98h0M451.1 106h0M450.1 97.5h0M438.8 99.3h0M458.6 98.3h0M436.4 97.5h0M441.9 99.5h0M448.7 102.3h0M455 101.5h0M440.3 98.6h0M449 97.7h0" stroke="#E58B8B" stroke-width="1.2" stroke-linecap="round" fill="none"/>
<path d="M458 100 L459.7 98.7 L461.9 97.7 L464.5 96.9 L467.2 96.3 L470 96 L472.8 96 L475.8 96.2 L478.9 96.6 L482 97.2 L485 98 L488 98.9 L491.1 100 L494.2 101.3 L497.2 102.6 L500 104 L502.8 105.4 L505.5 107 L508.1 108.6 L510.3 110.2 L512 112 L513.2 113.9 L514 116 L514.5 118 L514.5 120.1 L514 122 L513 123.8 L511.5 125.6 L509.6 127.3 L507.4 128.8 L505 130 L502.4 130.9 L499.4 131.5 L496.3 131.9 L493.1 132.1 L490 132 L487 131.6 L483.9 131 L480.8 130.2 L477.8 129.2 L475 128 L472.3 126.7 L469.7 125.2 L467.3 123.5 L465 121.8 L463 120 L461.1 118.1 L459.4 116.1 L457.9 114.1 L456.7 112 L456 110 L455.7 107.9 L455.7 105.7 L456 103.6 L456.8 101.6Z" fill="#5B3F8F" fill-opacity="0.92"/>
<path d="M503 124h0M471.5 123.4h0M473.3 117.6h0M480.6 119h0M470.5 117h0M504.9 117h0M474.1 109.4h0M486.1 129.4h0M508.3 120.9h0M463.1 105.7h0M503.4 113h0M483.8 103.6h0M470.5 107.7h0M476.4 118.9h0M485.8 106.1h0M495 116.8h0M482.3 96.8h0M456.6 102h0M501.6 129.6h0M505.3 124.9h0M493.8 106.2h0M461.4 104.9h0M495.1 128.5h0M487.4 120.7h0M483.1 118h0M470.9 105.8h0M509.8 114.7h0M479.2 116h0M483.6 115.7h0M511.9 115.3h0M463.6 101.6h0M459.8 114.9h0M508.1 127.6h0M508.4 124.1h0M475 123.5h0M464.1 114.6h0M497.8 122h0M487.2 110.1h0M499.8 123.8h0M499.8 110h0M453.7 110.5h0M487.2 97.8h0M486.2 110.5h0M499.3 120.5h0M500 123.1h0M471.4 115.2h0M471.3 114.7h0M479.2 119.6h0M470 117.5h0M475.1 110.9h0M489.4 117.1h0M488 103.9h0M464.3 104.3h0M491.4 128.1h0M504.3 124.4h0M480.3 106.5h0M469.9 96.4h0M484.3 104.8h0M477.7 113.7h0M486.4 125.6h0M487.7 131.8h0M493.1 97h0M488.2 103h0M498.8 125.8h0M497.3 112.6h0M487 121.8h0M496 125.3h0M465.9 102.3h0M493.6 127.1h0M463.9 122h0M474.2 113.3h0M475.9 107.9h0M479.6 108h0M490.2 129.8h0M467.8 119.3h0M493.9 104.9h0M505.6 108.8h0M481 109.7h0M488.9 108.8h0M483.5 127.6h0M468.5 114.2h0M480.5 128.2h0M507.9 113.8h0M501.9 120.1h0M466.6 124.9h0M462.8 116.3h0M491.8 100.5h0M495 131h0M472.9 104.8h0M498 109.6h0M469.7 109.1h0M486.7 133.5h0M486.7 99.5h0M474.2 119.3h0M488.4 99.5h0M507.9 119.5h0M489.8 111.9h0M510.5 115.6h0M495.1 115.7h0M509 121.9h0M506.5 124.7h0M468.7 98.9h0M490.2 120.1h0M504.6 108.5h0M474.7 98.3h0M505.4 109h0M500 111.9h0M471.7 94.2h0M500.8 129.6h0M467 115.4h0M507 122.5h0M510.8 119.6h0M492.2 127.9h0M494.6 108.6h0M505.1 118.8h0M485 99.8h0M473.9 125.5h0M506.6 117.9h0M473.5 113.6h0M483.8 104.3h0M481.1 104.7h0M481.1 112h0M480.9 110.4h0M483 101.3h0M471.2 111.4h0M482.3 123.2h0M495.5 107.2h0M506.4 121.6h0M475.6 100.9h0M488.1 124.7h0M475 131.8h0M482.3 116.7h0M481.8 118.5h0M487.2 128.6h0M509.2 109.9h0M502.2 127.4h0M463.2 115.6h0M494.4 123.2h0M510.1 121.3h0M485 105.6h0M460.7 99.7h0M500.8 107.4h0M458.8 104.1h0M485.7 110.3h0M481 99.8h0M469.5 106.5h0M500.6 110.3h0M501.8 128h0M492.3 119.7h0M468.8 105.6h0M468.1 102.5h0M479.4 103.4h0M488 131h0M474 114.9h0M496.1 106h0M470 105.5h0M465.2 121.2h0M458.5 99.9h0M464 111.6h0M479 104.4h0M511.4 122.8h0M476 119.4h0M473 120.8h0M467.1 113.8h0M465.8 120.5h0M495.1 116.2h0M474.4 112.2h0M505.9 121.6h0M483.4 124.9h0M473.3 129h0M477.3 97.9h0M486 131.6h0M492.8 121.3h0M494.4 111.9h0M490.7 106.9h0M461.2 101.5h0M463.9 97.7h0M493.4 113h0M471 111.7h0M489.9 122.6h0M485.3 116.5h0M457.7 102h0M505.7 126.2h0M502.8 134.4h0M499 120.8h0M488 110.4h0M491.6 128h0M475.1 116.6h0M493.5 100.3h0M477.4 127.2h0M488.1 106.2h0M492.6 104.2h0M476 102.1h0M484.6 107.6h0M493.9 122.4h0M463 100h0M468.5 118h0M500.8 115.9h0M467.9 98.1h0M481.2 125.8h0" stroke="#5B3F8F" stroke-width="1.2" stroke-linecap="round" fill="none"/>
<path d="M456 135 L457.8 133.1 L460.1 131.5 L462.7 130.3 L465.4 129.5 L468 129 L470.4 128.9 L472.8 129.3 L475.2 130 L477.6 130.9 L480 132 L482.5 133.2 L485 134.7 L487.5 136.4 L489.9 138.2 L492 140 L493.9 141.8 L495.6 143.6 L497.2 145.5 L498.7 147.6 L500 150 L501.4 152.6 L502.7 155.4 L503.9 158.4 L504.7 161.6 L505 165 L504.7 168.8 L503.9 172.9 L502.7 177.1 L501.4 181.2 L500 185 L498.7 188.3 L497.2 191.4 L495.6 194.2 L493.9 197.1 L492 200 L489.8 203.2 L487.4 206.7 L484.8 210.1 L482.3 213 L480 215 L477.8 216.2 L475.8 216.8 L473.8 216.8 L471.8 216.2 L470 215 L468.2 213 L466.5 210.1 L464.8 206.7 L463.3 203.2 L462 200 L460.9 197.1 L460.1 194.2 L459.3 191.4 L458.7 188.3 L458 185 L457.3 181.2 L456.6 177.1 L456 172.9 L455.5 168.8 L455 165 L454.6 161.7 L454.3 158.6 L454.1 155.8 L454 152.9 L454 150 L454 146.9 L454.1 143.6 L454.3 140.4 L454.9 137.4Z" fill="#2E9446" fill-opacity="0.8"/>
<path d="M455 146.9h0M474.7 151.9h0M487.9 176.5h0M463.4 178.6h0M478.2 205.6h0M493 176.3h0M483.7 156.3h0M483.5 181.5h0M461.9 179.4h0M470.8 145.5h0M487.7 150.7h0M464.5 211.5h0M497.6 200.9h0M480.3 209.6h0M489.5 158.3h0M459.2 142.3h0M460.3 179.5h0M471.4 162h0M476 144.9h0M479.8 205.5h0M489.7 182.6h0M502 175h0M466.9 181.4h0M493.7 160.6h0M469.2 154.1h0M457.6 147.2h0M467.9 172.9h0M479.8 203.1h0M470 135h0M470.1 129h0M488.2 210h0M463.6 142.2h0M476 198.1h0M466.5 168h0M476.8 178h0M457.9 167.2h0M473.5 161.1h0M459.1 161.2h0M482.3 187.6h0M467.8 175.3h0M490.4 171.1h0M470.4 167.9h0M466.8 193.9h0M490.4 156.9h0M463.5 145.1h0M461.8 177.4h0M478.1 211.7h0M472.9 204.4h0M463.8 138.2h0M467.1 162.8h0M465 203.2h0M474.5 195.1h0M486.2 170.9h0M488.8 148.2h0M503.2 180.7h0M474.3 202.9h0M496.3 143.8h0M468.4 156.9h0M467 205.5h0M482.9 164.4h0M479 170.7h0M484.1 168.4h0M489.6 161.4h0M492 156.6h0M489.6 184.1h0M470.1 148.1h0M466.1 142.7h0M467.8 141.7h0M475.5 185.6h0M491 179.2h0M501 150.7h0M475.3 182.3h0M472 147.7h0M483.2 162h0M465.4 172.1h0M484.9 196h0M491.6 157.1h0M464.1 185h0M481.3 170.4h0M499.3 170.3h0M478 176.2h0M459.7 167.7h0M461 147.7h0M493.3 182.7h0M477.2 158.5h0M493.3 177.9h0M495.2 170.5h0M489.3 147.8h0M490.3 185.9h0M468.2 146.7h0M486.9 208h0M494.1 177.1h0M471.3 134.1h0M476.5 158.7h0M483.8 169.1h0M485.9 149.9h0M481 168.3h0M474.1 145.2h0M475 197.2h0M474.2 181.9h0M453 142.1h0M468.7 168.5h0M497.9 183.5h0M479.2 218.1h0M477.9 195.6h0M467.1 191h0M480.1 200.6h0M464.7 158.1h0M472.4 166.1h0M459.5 175.3h0M467 198.5h0M490.7 202.3h0M480.2 157.7h0M482.4 157.7h0M460.5 174.2h0M470.9 173.2h0M460 140.7h0M503.8 152.4h0M484.3 159.9h0M455.1 135.8h0M460.3 165.8h0M490 194.2h0M488.1 178.4h0M491.3 145.6h0M479.6 134.7h0M457.3 184.6h0M471.2 137h0M481.3 190h0M466.8 160.5h0M488.7 151.3h0M464.3 201.9h0M466.2 198.1h0M475.3 182.4h0M480 197.1h0M470.5 175.4h0M478.7 205.1h0M478.2 189.4h0M476 141.8h0M483.3 208.5h0M490.2 176.6h0M492.9 145.5h0M489.5 155.7h0M461.3 158.6h0M474.9 179.4h0M482.8 156.3h0M491.8 185.1h0M474.2 196.4h0M503.5 162.3h0M477.6 204.4h0M463.9 200.8h0M453.1 144.3h0M467.9 186.4h0M455.9 186.7h0M489.5 196.7h0M462.2 202.5h0M472.7 155.6h0M495.4 172.3h0M473.1 159.6h0M466.6 177.5h0M478.3 169.2h0M476.8 208.4h0M462.3 167h0M494.9 188.1h0M478.7 181.5h0M489 145.3h0M457 143.4h0M476.8 213.2h0M485.9 200h0M478 134.7h0M467.8 144.4h0M458.9 161.9h0M496.3 168.5h0M452 155.2h0M474.5 137.2h0M495.8 183.9h0M452.3 150.2h0M475 184.6h0M474.8 163.2h0M461.8 187.6h0M480.3 180.9h0M474.6 154.7h0M458.1 149.7h0M456.5 159h0M490.3 180.9h0M472.1 215.2h0M496.1 177.9h0M484.5 140h0M484.3 164.6h0M479.2 159.7h0M490.4 191h0M464.1 146.7h0M488.1 149.6h0M457.9 136.5h0M499.7 170.3h0M495.8 165.5h0M473.1 214.2h0M473.1 156.4h0M481.4 205.2h0M460.6 172.1h0M482.5 194.9h0M487.3 203.7h0M455.3 158h0M471.9 166h0M460 136h0M452.8 159.5h0M494.3 161.3h0M477.7 171.6h0M475 139.9h0M486.9 133.7h0M484 205.8h0M475.2 204.1h0M487.4 157.2h0M484 193.1h0M480.3 150.8h0M470.1 143.1h0M469.4 191.5h0M486.3 186.9h0M480.6 155.1h0M477.7 180.8h0M490.8 185.6h0M466.3 149.8h0M468.6 160.3h0M493.2 153.5h0M466.7 144.5h0M482 168.3h0M477.6 138.4h0M478.6 129.6h0M486.5 160.2h0M496 156.2h0M482.6 170.6h0M471.8 179.5h0M472.7 196.2h0M457.7 150.3h0M481.8 157.9h0M458.8 174.6h0M472.9 183.4h0M493.7 158.7h0M487.1 138.8h0M495.6 190.2h0M468.4 136.4h0M454.3 140.3h0M483.3 159.4h0M464.1 198.1h0M462.4 186.5h0M474.5 197.2h0M503.1 153.3h0M480.3 186.9h0M479.9 139.6h0M488 211.9h0M484 164.4h0M495.9 175.4h0M461.2 176.2h0M452.9 159.5h0M479.9 167.9h0M491.7 162.9h0M487.1 138.7h0M483.6 183.4h0M489.7 152.2h0M466.7 156.5h0M488.7 201.4h0M463.1 200.2h0M469.9 200.8h0M496.2 175.5h0M478.7 150.9h0M468.8 144.9h0M470.9 172.9h0M459.2 155h0M478.7 191.2h0M505.1 160.4h0M484.3 166.8h0M478.6 217.8h0M476.5 149.9h0M493.6 146.7h0M463.6 181.6h0M494.4 172.4h0M482.9 147.9h0M481.1 189.9h0M494.3 160.4h0M471.6 170.1h0M479.7 191.5h0M465.1 135.1h0M492.7 170h0M469.4 161.4h0M471.1 214.3h0M472.1 205.1h0M494.2 180.8h0M478.4 166.9h0M458.5 185.3h0M477.4 156.7h0M496 185.8h0M456.1 150.7h0M488.1 175.9h0M498.3 167.1h0M470.4 159.6h0M484.1 185.2h0M483.6 147.8h0M475.6 195.7h0M478 139.5h0M464.4 172.5h0M483.5 164.2h0" stroke="#2E9446" stroke-width="1.2" stroke-linecap="round" fill="none"/>
<path d="M490 190 L492.8 185.7 L495.9 181.4 L499.1 177.2 L502.2 173.3 L505 170 L507.2 167.2 L509.1 164.8 L510.9 162.8 L512.8 161.2 L515 160 L517.6 159.3 L520.5 159.2 L523.5 159.4 L526.7 159.7 L530 160 L533.5 160.3 L537.2 160.6 L540.9 161 L544.6 161.5 L548 162 L551.1 162.3 L554.1 162.6 L556.9 162.9 L559.5 163.6 L562 165 L564.4 167.2 L566.6 169.9 L568.6 173.1 L570.4 176.5 L572 180 L573.3 183.7 L574.3 187.6 L575 191.8 L575.6 195.9 L576 200 L576.2 204.1 L576.2 208.2 L576.1 212.4 L575.7 216.3 L575 220 L574.1 223.5 L572.9 226.8 L571.5 230 L569.9 232.7 L568 235 L565.8 236.8 L563.3 238.1 L560.6 239 L557.8 239.6 L555 240 L552.1 240.1 L549.1 239.9 L546.1 239.4 L543 238.8 L540 238 L536.9 237 L533.8 235.8 L530.6 234.4 L527.7 233.1 L525 232 L522.7 230.8 L520.6 229.6 L518.8 228.5 L516.9 227.9 L515 228 L513 229.2 L510.9 231.1 L508.8 233.5 L506.8 236 L505 238 L503.5 239.8 L502.3 241.6 L501.1 243.2 L499.7 244.4 L498 245 L495.7 244.8 L492.9 244.1 L490.1 242.9 L487.3 241.5 L485 240 L483.1 238.4 L481.3 236.7 L479.9 234.8 L478.7 232.6 L478 230 L477.7 227 L477.8 223.6 L478.2 219.9 L478.9 216 L480 212 L481.4 207.8 L483.2 203.4 L485.3 198.8 L487.6 194.3Z" fill="#2E9446" fill-opacity="0.92"/>
<path d="M532.2 220.6h0M519.3 173.3h0M567.9 192h0M544.9 208.5h0M529.6 171h0M556.6 192.6h0M530.6 210h0M551.2 198.5h0M482.9 231.2h0M528.9 217.3h0M548.9 208.2h0M568.9 221.7h0M517.4 157.7h0M547 183.9h0M526.2 205.4h0M557 206.4h0M517.4 211.3h0M496.7 213.3h0M516.8 227.3h0M561.7 234h0M543.3 189.3h0M485.8 201.7h0M562.7 198.3h0M503.1 193.8h0M564.1 183.1h0M484.9 241.1h0M488.3 199.5h0M543.5 224.1h0M563.8 190.9h0M539.2 204.7h0M572 224.6h0M497.2 205.8h0M548.8 171.3h0M511.9 213.5h0M544.2 180.8h0M554.9 198.1h0M539.4 209.7h0M555.5 201.8h0M556.7 210.5h0M538 190.4h0M546.3 170.2h0M530.7 202.4h0M530.2 218.3h0M499.7 239.1h0M513.7 222.8h0M485 190.1h0M543 168.9h0M563 189.9h0M520.6 221.2h0M553.6 209.2h0M491 229h0M557.9 175.5h0M575 189.5h0M507 191.8h0M495 197.2h0M550.6 200.6h0M542 175.9h0M513.5 223.5h0M495.3 200.9h0M514.1 218.8h0M532.5 165.1h0M530.1 166.5h0M487.7 228h0M507.8 230h0M536.1 186.3h0M536.8 217h0M554.2 212.6h0M509.5 230.7h0M541.1 202.5h0M531.7 173.1h0M530.5 181.4h0M546.9 232.3h0M526.8 161.9h0M541.5 170.7h0M522.1 166.7h0M570 194h0M537 232.2h0M560 205.4h0M516 176.4h0M536.2 209.5h0M517.9 200.8h0M493.6 212.5h0M557.2 167h0M520.1 222.5h0M525.2 214.8h0M522.7 187h0M491.9 188.9h0M549.8 223.2h0M525.5 188.9h0M508.3 224.9h0M534.1 166h0M516.4 184.4h0M491.2 232.7h0M540.4 171.2h0M529 204.9h0M548.6 204.6h0M562.2 214.6h0M553.4 172.7h0M566.5 214.4h0M559.8 219.4h0M572.1 201.1h0M523.6 196h0M547.7 169.2h0M495.5 210.3h0M490.6 224.6h0M508.9 210.4h0M506.8 171.3h0M526 175.7h0M573 181h0M562.5 218.5h0M515.8 229.8h0M499.2 200h0M526.3 218.3h0M501.2 233.2h0M528.8 183.3h0M564.6 180.9h0M492.2 245.5h0M477.6 225.1h0M509.2 212.6h0M508.5 215.3h0M530 227.8h0M490.8 208.9h0M483.1 228h0M548.8 223.4h0M527.3 221.2h0M555.1 173.7h0M526.6 199.1h0M527.7 165.4h0M533.8 204.1h0M542.3 220.2h0M503.2 173.3h0M500 236.8h0M550.9 210.5h0M547.2 161.8h0M529.4 158.2h0M501.4 188.6h0M522.6 223.1h0M530.9 215.7h0M521.8 162.6h0M536.5 232.6h0M555.5 199.4h0M551.5 213.7h0M570.7 206.7h0M521.9 216h0M573.4 201.9h0M493.3 235.3h0M525.1 194.1h0M528.3 198.6h0M553.4 225.3h0M528.5 218.5h0M547.9 169.3h0M552.4 219.9h0M539.7 223.9h0M546.4 186.6h0M562.2 232.4h0M572.1 225.9h0M539 159.9h0M501.3 197h0M553.9 172.2h0M490.4 212.7h0M536.7 225.2h0M548.6 166.4h0M512.9 173.6h0M542.8 204.3h0M509 171.5h0M528.3 179h0M494.5 202.7h0M502 206.8h0M559.2 172.7h0M528.1 172.6h0M549.2 167.5h0M523.1 193.7h0M529.7 208.2h0M562.7 193h0M540.3 163.4h0M524 180.8h0M518.5 178.1h0M528.2 194.7h0M537.3 184h0M515.2 171.9h0M489.7 228.4h0M560.7 221.7h0M512.9 189.7h0M544.5 216.2h0M490.4 217.5h0M506.6 207.5h0M488.6 200.7h0M553.4 205.9h0M507.1 206.9h0M513.8 199.7h0M547.6 167.9h0M540.4 194.5h0M555.7 219.7h0M567.5 219.2h0M568.9 191.9h0M540.6 160.2h0M492.3 230h0M539 209.8h0M505 206.9h0M547.7 192.4h0M527.4 197.2h0M521.4 191.5h0M525.4 176.3h0M556.9 185.1h0M565.9 196.8h0M539.7 200h0M533 189.3h0M520.5 169.2h0M553.8 238.7h0M562 189h0M540.7 234.2h0M555.3 203.5h0M500.7 216.7h0M553.2 240.3h0M507.9 204.8h0M495.4 237.5h0M547.5 193.8h0M566.3 220.7h0M509.1 195.3h0M508.8 194.4h0M528 195.8h0M507.4 210.6h0M512.6 167.4h0M493.9 239.3h0M569.2 162.9h0M507.3 233.8h0M514.5 213h0M500.2 170.1h0M562.2 170.6h0M541.6 226h0M503.1 178.2h0M565.5 226.5h0M567.6 207.7h0M507.6 228.8h0M498.9 179.6h0M530.6 198.4h0M540.1 182.6h0M503.2 187.5h0M571.6 197.8h0M572 202.9h0M509.3 207.1h0M551.2 171.9h0M578 224.4h0M548.6 164.2h0M494.1 225.8h0M547.3 224.3h0M551.2 212.2h0M518.5 188.2h0M506.7 172.5h0M530.7 209.2h0M517.7 173.5h0M543.3 213.3h0M564.1 189.8h0M512.1 179.9h0M524.1 215.5h0M529.9 227.5h0M564.7 234.1h0M487.1 216.5h0M538.9 163.6h0M554.5 192.3h0M541.9 217.2h0M531.1 178.3h0M524 196.1h0M512.9 188.2h0M502.5 233.9h0M556.9 210.3h0M482.5 218.4h0M526.7 201h0M487.9 199.6h0M503.4 209.5h0M572.6 198.9h0M527.5 182.8h0M504.6 211.9h0M554 169.9h0M519.6 200.2h0M502 240.6h0M486.4 226.4h0M547.2 208.5h0M508.4 165.3h0M502.5 220.6h0M532.5 227h0M499.2 190.3h0M561.7 192.6h0M535.6 218.9h0M548.1 179.6h0M561.8 182h0M562.2 204.2h0M513.4 204.1h0M528 210.1h0M511.7 174.8h0M546.3 232.5h0M561.6 202.9h0M508 236.2h0M559.5 202.8h0M493 222.7h0M572.6 183.4h0M573.8 200.7h0M486.4 234.2h0M561.2 168.2h0M493.6 206.8h0M483.4 208.9h0M564.8 169.2h0M537.2 183.9h0M554.8 166.2h0M520.3 167.9h0M507.4 192.2h0M500.9 237h0M568 185.6h0M552.6 229h0M492.7 213.8h0M515.4 215.5h0M553.1 218.6h0M534.2 172.4h0M528.9 231.1h0M492.5 235.2h0M481.5 231h0M527.5 205.6h0M550.7 193.3h0M531.7 226.5h0M524 212.6h0M528.3 222.3h0M530.4 174.8h0M523.9 207.6h0M549.2 237.4h0M496.5 242.3h0M557.4 179h0M489.8 236.3h0M557.6 199.8h0M483.3 219.1h0M508 217.7h0M555.8 193.4h0M561.6 187.6h0M519.8 219.7h0M492.2 232.9h0M528.3 229.5h0M532.5 167.8h0M484.3 213h0M536.3 187.2h0M489 200.2h0M545 188.5h0M560.8 190.5h0M486.5 216.2h0M508.6 165.1h0M567 205h0M531.8 191.4h0M529.9 178.3h0M561.6 187.2h0M488.5 197.5h0M498.3 229.3h0M512 222.9h0M560.8 220.8h0M509.3 197.8h0M545.6 196.1h0M562 163.5h0M560.2 210.4h0M548 222.7h0M554.3 192.4h0M545.5 221.2h0M525.5 203.9h0M514.2 162h0M549.1 204.8h0M524.5 199.1h0M488 208.5h0M556.6 233.8h0M513.1 187.7h0M489.9 191.4h0M575.1 218.6h0M515 202.3h0M545.8 173.4h0M505.6 210.3h0M508.6 204.2h0M492.5 203.7h0M507.5 214.7h0M511.9 169.1h0M560.7 223.6h0M554.4 215.7h0M496.9 231.7h0M548 182.9h0M502.3 178.7h0M528.5 180.7h0M558.3 195.3h0M565.6 222.1h0M552.1 182.6h0M484.5 226h0M554.6 168.8h0M493.5 242.9h0M559.2 212.3h0M562.6 222.5h0M478.1 220.3h0M555 194.6h0M575.2 209.9h0M502.5 179.4h0M505.5 194.1h0M555.1 169.2h0M490.4 203.9h0M483 222h0M487.4 236.2h0M528.9 204.6h0M525.3 207.4h0M480.6 227.1h0M573.9 224.5h0M489.3 224.6h0M536.3 224h0M522 175h0M520.4 179h0M555.1 170h0M538.4 235.8h0M567.2 215.5h0M513.9 175.4h0M514.1 163.9h0M540.6 232.8h0M571.6 226.7h0M492.1 220.3h0M495.3 243h0M504.2 183.6h0M497.3 186.5h0M492.1 232.5h0M522.8 203.9h0M521.6 226.4h0M510.2 166.8h0M556.7 188.4h0M572.3 209.8h0M511.8 201.6h0M506.3 228.5h0M547.1 235h0M493.8 192.4h0M530.4 218.6h0M564.2 171.1h0M563.4 196.9h0M544.5 232.2h0M554.3 203.8h0M547 228.9h0M489.2 237.2h0M500.8 179.6h0M521.1 215.7h0M496 240.8h0M537.1 235.2h0M553.3 226.7h0M536.7 175h0M536.3 225h0M547.1 192.3h0M525.1 181.7h0M542.2 212.8h0M539.2 217.8h0M544.6 196.6h0M516.4 199.6h0M549.5 228.8h0M523.9 177.3h0M521.3 174.4h0M507.6 193.1h0M566 228.2h0M505 190.5h0M556 188.7h0M533.8 179.5h0M529.9 212.3h0M499.4 216.8h0M521 212.6h0M514.6 220.3h0M567.2 214h0M548.7 205.6h0M527.2 184.5h0M484.3 213.3h0M553.1 206.9h0M512.6 203.9h0M484.6 207h0M537.3 228.2h0M535.6 198.9h0M560 220.4h0M561 175.3h0M535 212.9h0M511.4 220.1h0M530.9 190.9h0M507.6 205.9h0M498.2 203.1h0M504.9 229.7h0M562.7 203.2h0M509.4 201.6h0M508.8 204.6h0M520.9 163.6h0M494.4 214.4h0M521.8 176.9h0M556.2 183.2h0M510.3 176.7h0M484.2 235.3h0M560.9 170.2h0M496.9 175.6h0M527.4 160.4h0M539.6 175h0M532.7 227.7h0M537 204.2h0M575.1 189.1h0M543.6 234h0M515.6 175.4h0M506.5 185.8h0M549.8 199h0M497.9 229.5h0M493.7 216.2h0M518.8 225.2h0M483.9 210.3h0M520.6 195.2h0" stroke="#2E9446" stroke-width="1.2" stroke-linecap="round" fill="none"/>
<path d="M515 120 L517.3 118.8 L520.1 118 L523.3 117.7 L526.6 117.7 L530 118 L533.5 118.8 L537.3 120 L541.1 121.6 L544.7 123.3 L548 125 L550.9 126.8 L553.5 128.6 L555.8 130.6 L558 132.8 L560 135 L561.8 137.3 L563.5 139.8 L565 142.4 L566.2 145.1 L567 148 L567.4 151.2 L567.5 154.8 L567.3 158.4 L566.8 161.9 L566 165 L564.9 167.7 L563.5 170.3 L561.9 172.5 L560 174.5 L558 176 L555.8 177.1 L553.3 177.8 L550.6 178.2 L547.8 178.3 L545 178 L542.1 177.3 L539.1 176.2 L536.1 174.9 L533 173.4 L530 172 L526.9 170.8 L523.6 169.7 L520.4 168.4 L517.5 166.9 L515 165 L512.9 162.6 L511.2 159.7 L509.8 156.6 L508.7 153.3 L508 150 L507.8 146.5 L508 142.7 L508.6 138.9 L509.3 135.3 L510 132 L510.6 129.1 L511.3 126.3 L512.1 123.8 L513.3 121.7Z" fill="#98C98B" fill-opacity="0.85"/>
<path d="M552.8 140.6h0M558.1 163.9h0M513.5 148.8h0M540.7 166.9h0M540 149.6h0M551.3 165.4h0M517.7 168.5h0M539 147.8h0M526.4 126.3h0M517.8 167.8h0M549.5 173.7h0M517.1 124.8h0M554.7 136.9h0M515.6 152.7h0M525.6 122.1h0M507.1 156.6h0M558.8 166.5h0M553.1 169.2h0M535.8 154h0M519.7 117h0M561.4 155.8h0M509 129h0M544.4 136h0M564.6 158.5h0M554 151.9h0M517.1 121.9h0M509.4 144.2h0M530.5 130.8h0M521.3 154.4h0M511.9 135.3h0M511.5 156h0M538.2 152.6h0M550 152.1h0M519.2 123.9h0M540.4 159.9h0M512.4 160.7h0M517.4 137.4h0M524 159.8h0M538.5 128.9h0M530.5 165.9h0M544.2 149.9h0M530.6 162.2h0M564.4 156.4h0M532 125.3h0M509.4 153.6h0M527.9 154.3h0M512.4 121.1h0M540.3 130.7h0M552.1 175.6h0M516.3 152.7h0M529.5 120.5h0M534.2 161.7h0M540.9 130.8h0M531.9 129.4h0M534.8 145.3h0M530.6 166.7h0M521 145.5h0M531.1 149h0M523.7 138.8h0M556 139.1h0M521.5 123.9h0M535.1 122.4h0M554.7 167.8h0M557.8 168h0M526.4 151.4h0M538.6 130h0M530.4 162.9h0M525.5 132h0M527.4 136.8h0M520.4 141.8h0M524.6 155.2h0M520.8 156.4h0M555.8 167.2h0M520.1 145.7h0M524.8 154.7h0M542.3 123.4h0M518.1 136.1h0M533.6 169.1h0M534.4 164.1h0M558.3 167.4h0M556 162.7h0M546.9 142.8h0M548.1 146.4h0M529 116.8h0M542.2 175.5h0M562.2 143.1h0M555.5 174h0M561.7 133.6h0M568.6 156.2h0M522.2 165.5h0M518.3 124.1h0M525.6 123.3h0M552.2 142.3h0M509.5 145h0M541 152.4h0M512.5 148.5h0M524 149.7h0M542.8 128.1h0M541.9 155.6h0M536 129.8h0M538.3 141.8h0M521.5 127.7h0M513.9 147h0M558.5 131.2h0M514 137h0M539.2 161.9h0M511.2 148.2h0M517.1 164.8h0M522.3 155.7h0M527.3 124.1h0M525.6 137.2h0M542.8 168.2h0M535.5 156.4h0M533.4 133.1h0M562.8 162.8h0M569.3 163.2h0M537.6 151.2h0M557.3 155.8h0M509.3 150h0M534.7 129h0M547.3 129.6h0M527.2 158.3h0M539.1 177.1h0M560.7 145.5h0M524.2 127.1h0M542.5 127.4h0M551.4 132.6h0M521.4 153.3h0M512.1 156.1h0M526.2 168.1h0M531.5 167.7h0M547.3 130.6h0M511.7 125.5h0M510.7 127h0M533.6 155.7h0M525.2 129.5h0M509 134.1h0M514.2 133.8h0M543.9 167.5h0M536.3 157.6h0M526 166.5h0M542 127.1h0M515.3 140.9h0M513.1 116.9h0M527.3 162.9h0M522.5 122.7h0M564.7 154.7h0M545.2 154.7h0M511.8 148.1h0M540.1 150.3h0M551.1 172.6h0M547.5 132.6h0M527.9 166.4h0M542.1 153.7h0M524 156.9h0M539.4 141.8h0M538.7 157.1h0M522 136.1h0M510.9 140.2h0M520.2 158.2h0M533.8 157.5h0M546.6 142.1h0M551.4 128.3h0M537.8 144.6h0M529 124.8h0M525.2 139.4h0M544.9 178.1h0M530.3 121.9h0M516.3 145.4h0M554 155h0M563.5 166.2h0M524.9 142h0M550.4 152.2h0M521.2 141.5h0M519.5 129h0M511.5 160.4h0M551.9 129.4h0M523.2 146.6h0M543.6 144.3h0M548.1 156.5h0M549.9 143.9h0M551.8 139.3h0M551.8 177.4h0M521 158.8h0M540.1 129.7h0M542 128.4h0M537.5 177.4h0M520.1 128h0M525.8 166.2h0M536.8 168.2h0M551 169.5h0M554.8 145.9h0M557.6 165.1h0M532.1 144.3h0M518.4 137.5h0M519 126.1h0M552.4 173.9h0M548.4 167.2h0M532.7 123.8h0M558.2 160.5h0M513 151.2h0M530 134.4h0M539.9 159h0M541.6 165.8h0M518.4 145.5h0M543.9 163h0M508.1 137.3h0M528.1 123.9h0M512.8 152.2h0M541.2 159.5h0M560.9 155.9h0M550.3 129h0M529.4 144.5h0M551.7 128.4h0M544.1 129.7h0M559.9 144.6h0M558.8 144.8h0M512.5 147.9h0M513.6 124.1h0M536.5 136.2h0M557.7 139.1h0M547.5 159.5h0M522.6 162.5h0M533.4 157.8h0M561.9 173.8h0M534.5 150.5h0M518.1 140.6h0M552.2 137.2h0M558.5 138.3h0M543.4 169.7h0M539.1 131.5h0M555.2 148.2h0M557.1 173.4h0M520 157.2h0M517.9 156.1h0M559.7 144.1h0M550.5 142.9h0M509.6 150.3h0M522.9 117.5h0M522 121.2h0M536.7 122h0M545 140.9h0M511.5 132.3h0M528.7 128.5h0M526.6 142h0M523.4 129.3h0M540.1 137.7h0M511.2 146.8h0M549.8 153.8h0M554.5 136.9h0" stroke="#98C98B" stroke-width="1.2" stroke-linecap="round" fill="none"/>
<path d="M505 104 L507.1 102.6 L509.8 101.3 L512.6 100.4 L515.5 99.9 L518 100 L520.2 100.8 L522.2 102.1 L524.1 103.9 L526 106 L528 108 L530.1 110.1 L532.2 112.4 L534.4 114.8 L536.3 117.3 L538 120 L539.4 122.8 L540.7 125.8 L541.8 128.9 L542.6 132 L543 135 L543 138.1 L542.7 141.2 L542.1 144.4 L541.2 147.3 L540 150 L538.5 152.4 L536.6 154.6 L534.5 156.6 L532.2 158.4 L530 160 L527.7 161.5 L525.4 162.8 L523 164 L520.5 164.7 L518 165 L515.3 164.8 L512.5 164.2 L509.7 163.2 L507.1 161.8 L505 160 L503.4 157.6 L502.2 154.7 L501.3 151.5 L500.6 148.2 L500 145 L499.5 142 L499.2 139 L499.1 136 L499 133 L499 130 L499 126.9 L499.1 123.8 L499.2 120.7 L499.5 117.7 L500 115 L500.6 112.4 L501.3 110 L502.2 107.7 L503.4 105.7Z" fill="#8FC1DC" fill-opacity="0.85"/>
<path d="M528.6 117.7h0M537.8 138h0M509.5 135.3h0M528.8 156.4h0M517.1 136.4h0M508.9 123.6h0M528.9 113.1h0M510.6 156h0M524.2 142.8h0M516.9 131.6h0M514.8 116.8h0M513 135.8h0M510.4 133.4h0M521.3 113.8h0M509.9 153.3h0M527.2 115.3h0M517.5 125h0M518.3 146.3h0M508.7 132h0M529.5 120.8h0M504.7 143.3h0M539.4 142.9h0M534 149.8h0M510.7 153.1h0M507.9 153.4h0M517.3 128.4h0M506.9 161.6h0M510.1 140h0M517.7 166.4h0M536.2 127.6h0M520.9 102h0M530.1 122.1h0M525.4 125.1h0M531.5 120.6h0M511.1 126.4h0M538.1 126.4h0M498.2 117.5h0M535.8 126h0M506.5 105.2h0M500.6 160.5h0M510.9 109h0M522.4 125h0M521.9 100.2h0M512.5 136.4h0M531.8 112.6h0M530.7 139.9h0M524.7 108.7h0M516.3 124.2h0M531.9 154.9h0M519.2 115.4h0M511.1 144.5h0M527.3 147.1h0M505.4 162.2h0M504.3 110.9h0M509.2 130.1h0M513 115.9h0M530.4 123.5h0M536.1 124.6h0M535.6 123.4h0M511.7 106h0M506.8 144h0M526 118.3h0M536.6 131.9h0M533.5 121.3h0M510.7 133.3h0M506.9 115.7h0M506.9 139.9h0M524.3 139.3h0M502.4 132.2h0M526.4 140.3h0M520.9 145h0M508.6 109.5h0M522.1 117.5h0M523.3 153.7h0M530.1 125.4h0M518.5 146.4h0M514.9 112.9h0M519.1 118.1h0M516.5 129.2h0M528.8 148h0M527 120.9h0M532.7 154.3h0M516.9 132.3h0M513.4 151.1h0M530.1 112.9h0M519 110.9h0M524.5 149.3h0M533.8 137.2h0M519.5 129.3h0M509.7 145.9h0M533.8 133.5h0M507.4 145.9h0M514.7 140.7h0M511.9 105.5h0M532.7 135.5h0M538.5 151.2h0M504.5 142.6h0M523.6 143.5h0M516.2 108.9h0M534.1 128.4h0M526 147.7h0M517 139h0M527.3 137.4h0M520.1 137.6h0M536.4 133.4h0M500.2 151.8h0M496.9 136.1h0M539.2 144.1h0M523.2 115.5h0M507.7 107.3h0M499.7 141.9h0M526.8 116.4h0M502.3 125.5h0M498.2 135h0M538.6 142.3h0M527.9 118.1h0M514.9 123h0M525.9 113.7h0M528.7 130.5h0M514.7 115.2h0M527.1 139.2h0M522.9 139.7h0M527.3 121.3h0M530.7 142.1h0M506.3 147.8h0M500.5 146.6h0M524.7 111h0M525.7 116.9h0M499.6 118h0M510.9 146.4h0M520.8 155.4h0M518 138.7h0M519.7 111.5h0M504.3 143.3h0M518 116.3h0M504.5 141h0M504.9 119.2h0M517.6 156.6h0M512.5 152.6h0M515.5 161.5h0M540.9 135.7h0M512.2 116h0M509.7 156h0M525.5 116.5h0M513.6 123.1h0M516.6 147.4h0M512.6 99.7h0M513 108.2h0M536.9 147.8h0M539.9 130.9h0M523.2 156.5h0M508.2 109.2h0M511.5 157.5h0M533.6 144.5h0M511.4 119.9h0M500.8 147.1h0M503.8 120.2h0M542.7 137.9h0M533.4 113h0M517.6 102.2h0M531 119.4h0M509.9 147.1h0M520.7 134.9h0M517.4 147.8h0M510 144.7h0M519.1 144.1h0M524.9 148.4h0M505.9 129h0M511.3 117.3h0M515.1 154.6h0M529.9 123.4h0M524.5 131.8h0M506.3 104.8h0M508.6 143.7h0M534.7 149.5h0M507.6 128.4h0M537.2 130.2h0M529.1 128.5h0M507.9 160.1h0M518 138h0M534.2 128.7h0M522.2 134.5h0M508 127.2h0M506 136.8h0M534.1 133.3h0M541 148.8h0M514.6 137.5h0M500 111.9h0M528.8 152.7h0M521 143h0M523.1 140.4h0M537.7 143.9h0M528 138.9h0M542.2 133.7h0M524.1 140.7h0M530.6 145.1h0M520 138.8h0M535.9 124.9h0M519.6 101.7h0M525.8 112.8h0M528 117.3h0M509.6 117.1h0M507.9 146.8h0M512.5 119.5h0M514.3 131.4h0M544.8 136h0M503.5 132.8h0M524 149.7h0M501.7 125.1h0M531.5 110.9h0M523.8 114.4h0M518.8 132.1h0M507 107h0M523.5 152.1h0M506.4 136h0M523.7 103.1h0M523.7 152.2h0M498.9 136.4h0M523.2 133.8h0M536.8 148.6h0M537.2 147.4h0M523.9 141.7h0M515.2 105.4h0M506.2 114.3h0M529.6 131.7h0M532.7 140h0M502 137.5h0M528.6 155.6h0M512.7 108h0M537.2 147.2h0M505.7 137.9h0M508.7 149.7h0M520.6 154.8h0M516.1 107.6h0M507.5 111.1h0M517.2 159.4h0M520.9 161.5h0M513.6 146.4h0M524.1 135.3h0M520.7 115.5h0M518.9 106.1h0M523.4 138.5h0M519.3 154.8h0M533 157.8h0M501.6 123.7h0M507.9 102.4h0M520.2 117.4h0M514 145.8h0M502 133.6h0M536.2 133h0" stroke="#8FC1DC" stroke-width="1.2" stroke-linecap="round" fill="none"/>
<path d="M505 145 L506.9 144.5 L509.1 144.8 L511.5 145.7 L513.9 146.8 L516 148 L518 149.2 L520 150.6 L521.8 152.3 L523.2 154.1 L524 156 L524.1 158.2 L523.6 160.6 L522.6 163.2 L521.4 165.7 L520 168 L518.4 170.1 L516.4 172.1 L514.3 174.1 L512.1 176 L510 178 L508 180.1 L506 182.2 L504 184.3 L502 186.3 L500 188 L498 189.6 L495.9 191.1 L493.9 192.4 L491.9 193.4 L490 194 L488.1 194.2 L486.2 194.2 L484.4 193.8 L482.9 193 L482 192 L481.6 190.5 L481.7 188.7 L482.1 186.5 L482.9 184.3 L484 182 L485.6 179.7 L487.6 177.3 L489.9 174.9 L492.1 172.4 L494 170 L495.5 167.6 L496.7 165.2 L497.9 162.9 L498.9 160.5 L500 158 L501 155.2 L501.8 152.1 L502.6 149.1 L503.6 146.6Z" fill="#F1B06C" fill-opacity="0.65"/>
<path d="M496.6 169.4h0M497.6 184.7h0M520.3 162.4h0M491.8 184.8h0M500.7 181.3h0M508.1 166.1h0M508.9 158.4h0M508.3 177.1h0M517.4 156.1h0M500.6 169.8h0M484.9 182.3h0M519.8 156.8h0M510.1 153.1h0M492.7 186.8h0M496.2 176.1h0M493.8 188.6h0M510.6 166.1h0M505.1 143.4h0M501.1 169.3h0M484.5 182.2h0M512.6 150.8h0M494.3 175h0M510.6 148.8h0M500.6 164.2h0M513.2 169.5h0M489.2 191.5h0M503.4 173.7h0M515.8 153.9h0M497.3 167.1h0M505 162.4h0M518.7 163.3h0M499.7 147.3h0M496.2 169.6h0M519.4 153.4h0M486.9 179.2h0M501 164.5h0M521.2 169.1h0M509.2 150.6h0M511.3 166.2h0M511.5 152.5h0M496.5 181h0M487 192.7h0M503.6 164.8h0M509.9 167.5h0M503.7 172.6h0M508.4 148.5h0M515.3 148.8h0M503.3 163.7h0M507.7 148h0M497.9 159h0M506 178.2h0M518.5 158.2h0M506.3 166.8h0M500.6 166h0M505.1 171.5h0M493.2 175.2h0M510.3 167.7h0M501.5 174.3h0M492 194.3h0M501.1 157h0M487.8 185.1h0M503.8 170.7h0M484.2 188.8h0M504.3 154.1h0M505.8 144.2h0M513.1 158h0M517.6 171.1h0M489.6 186.8h0M503.2 157h0M523.8 153.2h0M507.1 169h0M493.5 168.2h0M493.7 177.7h0M490.9 177.1h0M487.9 181.6h0M499.2 162.8h0M493.6 175.4h0M510 173.1h0M506 175h0M499.7 156.2h0M500.9 180.7h0M487 184.7h0M512.6 162.4h0M499.9 174.9h0M497.4 169h0M490.8 192.9h0M514.5 160.4h0M513.9 151.6h0M524.6 163h0M495.1 191.2h0M495.4 186.6h0M489.3 186.4h0M503.9 177.9h0M483.3 189.9h0M501.2 190.7h0M521.2 170.5h0M502.4 156.5h0M496.7 187.5h0M513.3 168h0M511.5 164.7h0M511.4 169.9h0M517.2 168.3h0M498.6 187.7h0M483.8 191.9h0M506.1 157.1h0M506.4 179.4h0M481.4 191.8h0M517.4 161.1h0M491.9 179.8h0M514.5 150.3h0M512.4 154.2h0M486.2 185.6h0M499 165.8h0M507.2 159.4h0M510.3 156.1h0M513.9 157.2h0M514.5 169.8h0M492.1 175.3h0M506.5 164.2h0M517.7 152.4h0M506.8 154.8h0M498.3 182.1h0M505.5 175h0M515.6 149.3h0M500.2 181.6h0M515 161.5h0M503.1 157.2h0M499.5 180.6h0M495.1 173.6h0M507.3 143.7h0M520.2 151.5h0M508 185.5h0M511.7 168h0M496.6 176.8h0M519.9 150.8h0M505.3 165.2h0M509.7 155.7h0M489.1 189.9h0M504.4 154.4h0M498.4 190.9h0M510.5 154.4h0M494.8 177.3h0M486 181h0M512.8 152.4h0M487.8 181h0M487.5 186.8h0M505.9 168.2h0M504.2 146.3h0M511 142.3h0M521.3 157.4h0" stroke="#F1B06C" stroke-width="1.2" stroke-linecap="round" fill="none"/>
<path d="M414 200 L414.6 197.7 L415.5 195.2 L416.8 192.6 L418.3 190.2 L420 188 L422 186.1 L424.3 184.3 L426.8 182.7 L429.4 181.3 L432 180 L434.5 178.9 L436.9 177.9 L439.5 177.1 L442.1 176.5 L445 176 L448.2 175.7 L451.6 175.5 L455.1 175.5 L458.6 175.7 L462 176 L465.3 176.5 L468.6 177.3 L471.8 178.1 L474.9 179.1 L478 180 L481.1 180.9 L484.2 181.7 L487.1 182.6 L489.8 183.7 L492 185 L493.7 186.6 L495 188.4 L496 190.4 L496.7 192.6 L497 195 L497 197.8 L496.7 200.9 L496 204.1 L495.1 207.2 L494 210 L492.7 212.4 L491.1 214.6 L489.3 216.6 L487.3 218.4 L485 220 L482.4 221.4 L479.4 222.6 L476.3 223.7 L473.1 224.5 L470 225 L467 225.2 L464 225.1 L461 224.8 L458 224.4 L455 224 L452 223.7 L449 223.4 L446 223 L443 222.5 L440 222 L436.9 221.4 L433.7 220.7 L430.6 220 L427.6 219.1 L425 218 L422.7 216.7 L420.6 215.2 L418.8 213.5 L417.3 211.8 L416 210 L415 208.2 L414.3 206.2 L413.9 204.2 L413.8 202.2Z" fill="#1F6DAB" fill-opacity="0.92"/>
<path d="M453.2 181.2h0M476.7 189h0M432.1 212.9h0M490.5 187h0M424.8 207.4h0M441 211.6h0M458.5 213.7h0M488 205h0M474.3 199.7h0M444 202.3h0M438.9 225.2h0M426.9 194.2h0M464.3 202.6h0M489.2 206.8h0M460.3 190.2h0M443.7 186.7h0M460.1 199.8h0M479.6 210h0M492.2 190.6h0M495.1 197.9h0M493.8 209.4h0M477.8 194.9h0M439.4 179.9h0M492 201.4h0M446.2 192.4h0M424.8 185.3h0M448.2 183.5h0M438.9 200.2h0M485.9 208h0M484.9 220.8h0M458.3 214h0M450.8 177.7h0M460.4 191.8h0M487.2 200.9h0M463.4 214.8h0M426.8 205.6h0M485 181h0M432.9 206.2h0M491.8 215h0M432.9 203.9h0M486.8 190.9h0M444.9 180.6h0M464.4 214.6h0M488.3 196.4h0M485.9 183.7h0M459.1 209.5h0M470.9 199.2h0M464.4 201.8h0M478.6 189.8h0M470 195.6h0M451 212.2h0M455.8 182.5h0M427.5 183h0M459 183.3h0M441.6 174.3h0M474.1 191.8h0M474.6 202.4h0M437.3 209.7h0M450.9 211.3h0M446.8 213.9h0M445.5 208.2h0M468.5 196.1h0M477.9 211.2h0M461.1 186.1h0M461.3 196.5h0M441.2 215.5h0M440.7 204h0M481.1 200.5h0M469.4 206.7h0M491.2 203.2h0M453.3 191.2h0M423.2 216.3h0M439 218.3h0M427.4 196.2h0M493.5 199h0M453.7 178h0M494.7 217.4h0M459.9 188.9h0M425.4 214.6h0M417.6 193.6h0M455.3 216.2h0M427.2 198.9h0M462.2 185.4h0M436.1 218.3h0M435.4 200.8h0M490 206.9h0M430.2 201.3h0M420.9 187.8h0M482.1 192.1h0M447.9 192.7h0M478.4 198.2h0M423.4 214.6h0M448.3 183.4h0M456.1 174.2h0M443.4 191.7h0M450.3 199.3h0M456.1 199.7h0M479 205.7h0M445.7 176.7h0M476.2 220.1h0M471.2 205.2h0M463.7 222.6h0M465 224.1h0M473.1 222h0M456.3 218.9h0M469.8 210.7h0M460.5 199.7h0M422.3 202.1h0M478.3 190.8h0M433.2 186.1h0M439.6 178.7h0M450.8 189.5h0M443.8 189.6h0M448.6 183.7h0M451.6 185.9h0M473.3 212.4h0M451.8 220.8h0M481 181.3h0M456.3 219.8h0M462 192.3h0M451.4 201.8h0M450.3 195.5h0M488.1 185.5h0M485.9 188.5h0M461.7 189.5h0M473 192.4h0M469.9 181.6h0M475.7 185.8h0M426.8 206.4h0M421.2 200.6h0M440.8 185.5h0M454.2 202.9h0M469.9 198.7h0M431.7 189.7h0M454.4 188h0M488.4 208.1h0M481.6 213.5h0M464.7 190h0M461.8 191.9h0M422.7 200.8h0M467.4 197.4h0M445.7 218.1h0M495.9 189.8h0M465.8 183.6h0M462.6 204.9h0M443.1 178.4h0M444.7 184.1h0M467.7 191.2h0M485.7 192.8h0M444.3 180.9h0M458.5 190h0M472.1 212.7h0M469.3 200.2h0M473.5 215.7h0M471 195.6h0M449.6 211.1h0M463.3 203.8h0M451.8 187.8h0M437.4 188.1h0M437.5 202.6h0M424.9 205h0M477.7 200.9h0M485.3 200.9h0M478.5 206.2h0M479.6 216.5h0M492.8 196h0M423 212.7h0M433.3 213.1h0M417.8 209h0M468.1 201.9h0M453.8 175.7h0M476 182.9h0M459.1 186.1h0M457 207.2h0M428.5 206.5h0M481.2 196.5h0M482 198.6h0M433 187.2h0M437.7 184.8h0M493.3 197.2h0M434 182.4h0M456.3 179.6h0M480 192.1h0M451.8 218.5h0M463.3 210.2h0M488.4 189.5h0M489 189.3h0M488.8 198.6h0M458 191.6h0M461.5 198h0M440.7 185.4h0M451.7 204h0M439 182.1h0M491.2 185.3h0M479.3 212.6h0M442.2 215.1h0M424.2 216.6h0M420.5 202.1h0M465.7 193.8h0M431.4 210.1h0M421.3 204.2h0M436.4 182.1h0M419.2 195.3h0M479.9 217.6h0M460.4 204.8h0M489.7 197h0M478.1 197.2h0M479.9 207.2h0M479.1 215h0M476.9 198.3h0M446.3 213.2h0M467.5 197.1h0M417.3 204.7h0M450.3 177.8h0M469.3 180.4h0M448 210.8h0M471.3 198.6h0M478.1 197.7h0M461.1 195.6h0M434.4 211.5h0M442.9 208.8h0M472.7 195.2h0M433.7 188.5h0M430.9 216.2h0M442.1 200.4h0M432.5 191.2h0M464.7 207.3h0M486.9 208.5h0M466 203.9h0M465.9 195.5h0M433.7 186.3h0M454.2 177.2h0M460.3 220.9h0M489.6 206.4h0M454.7 195.6h0M442.6 201.4h0M477.5 205h0M465.1 182.5h0M447.3 211.9h0M462.5 198.9h0M460.5 183.3h0M426.2 191h0M445.1 211.3h0M416.2 205.6h0M419.2 194.4h0M445.8 190.2h0M464.4 182.4h0M436.6 187.3h0M432 199.4h0M441.4 177.3h0M418.7 191.6h0M436.2 213.8h0M421.5 206.4h0M486.3 210.3h0M457.1 191h0M482.4 193.5h0M451.6 193.7h0M452.2 214.4h0M441 186.6h0M418 197.2h0M461.1 209.5h0M454.3 185.3h0M463.5 188.4h0M460.8 220.6h0M461.5 214.9h0M461.4 190.5h0M439.4 210h0M452.6 183.4h0M446.5 207.3h0M435.1 197.4h0M453.8 189.7h0M424.4 207.3h0M493.6 193.1h0M448.6 180.8h0M456 213.1h0M442.8 183.7h0M472.4 192.6h0M482.1 200.4h0M465.9 191.1h0M468.6 194.6h0M441.8 188.1h0M431 204.6h0M459.9 175h0M492.5 186.9h0M417.8 210.5h0M446.6 219.6h0M425.2 206.6h0M466.1 213.1h0M481.8 196.9h0M493.8 198.6h0M465.4 213.5h0M446.5 185.8h0M453.6 211.4h0M454.6 179.5h0M417.6 214.9h0M485.7 210.7h0M461.7 187.8h0M483.6 218.1h0M441.4 217.2h0M481.8 220.2h0M477.5 194.6h0M458 203.8h0M453.3 212.2h0M479.8 195.2h0M433.4 224.5h0M476.7 189h0M446.4 189.9h0M487.4 186.3h0M474.5 198.5h0M435.3 202.4h0M495.2 197.1h0M481.9 201.7h0M455.5 192h0M475.2 221.8h0M470.7 183.4h0M457 179h0M466.4 200.6h0M449.6 205.9h0M481 201.3h0M475.4 189.6h0M422.4 203.6h0M481.3 214.7h0M433.7 196h0M447.6 208.7h0M450.3 189.9h0M477.1 178.7h0M435.2 199.5h0M474.7 202h0M487.3 210.4h0M491.8 197.3h0M447.1 191.4h0M497.4 196.6h0M429.3 195.9h0M466.3 184h0M485.8 214.5h0M478.5 218h0M479.9 194.1h0M442.3 180.6h0M431.8 203.1h0M463.5 222.5h0M492 182.4h0M434.4 200.2h0M475.9 201.1h0M459.3 201.7h0M438 208.7h0M480.6 182.6h0M448 188.1h0M422.6 198.4h0M426.9 205.9h0M465.1 191.4h0M470.5 222.9h0M479.7 220.2h0M463.2 214.8h0M433.8 196.3h0M447.4 220.8h0M459.2 215.3h0M455.5 208h0M440.7 205.3h0M484.1 181.9h0M454.2 193.4h0M459 205.6h0M465.6 221.3h0M478.5 185.8h0M452.3 198h0M487 212.1h0M439.5 191.3h0M472.3 202h0M428.3 186.4h0M450.6 185.1h0M468.8 205.8h0M448.7 197.6h0M480.1 196h0M484.5 201h0M456 197.4h0M434.6 196.2h0M459.5 188.4h0M482.9 197.8h0M487.9 185.1h0M472.5 200.8h0M430.7 206.9h0M462.7 214.2h0M440.8 216.8h0M490.2 205h0M457.2 201.7h0M473.2 199.9h0M442.4 207h0M454.1 190.4h0M415.3 206.8h0M468.7 178.4h0M447.7 177.4h0M458.1 225.7h0M463.2 191.7h0M436.5 220.9h0M480.2 193.3h0M434.5 195.5h0M467.6 209.4h0M440.1 202.9h0M461.9 187.6h0M427.1 197.9h0M478.5 215.4h0" stroke="#1F6DAB" stroke-width="1.2" stroke-linecap="round" fill="none"/>
<path d="M458 250 L458.7 248 L459.9 246.2 L461.3 244.6 L463.1 243.2 L465 242 L467.2 241 L469.6 240.2 L472.2 239.7 L475 239.3 L478 239 L481.2 238.9 L484.6 239 L488.2 239.2 L491.7 239.5 L495 240 L498.3 240.5 L501.5 241.1 L504.7 241.8 L507.5 242.8 L510 244 L512.1 245.6 L513.8 247.5 L515.2 249.6 L516.3 251.8 L517 254 L517.3 256.2 L517.2 258.5 L516.8 260.8 L516.1 263 L515 265 L513.6 266.7 L511.9 268.3 L509.9 269.8 L507.6 271 L505 272 L502.1 272.8 L498.8 273.4 L495.2 273.8 L491.6 274 L488 274 L484.3 273.8 L480.5 273.4 L476.7 272.8 L473.1 272 L470 271 L467.4 269.8 L465 268.4 L463 266.8 L461.4 265 L460 263 L458.9 260.6 L458.2 257.9 L457.8 255.1 L457.7 252.4Z" fill="#E6E89C" fill-opacity="0.92"/>
<path d="M456.3 250.6h0M506.6 250.5h0M498.6 266h0M501.9 262.3h0M480.6 260.4h0M500 266.8h0M486.1 240.8h0M470.3 242.7h0M515.1 257.8h0M489 244.9h0M474.8 241.3h0M467.2 259.7h0M497.7 273.3h0M503.1 254.6h0M469.6 266.3h0M484.9 256.8h0M480.7 269.7h0M501.3 259.4h0M499.2 244.5h0M499 247.1h0M476 249.5h0M496 243.5h0M481.8 253.1h0M504.7 243.8h0M459.1 249.7h0M496.7 243h0M482.2 257.1h0M492.3 240.2h0M494.6 262.6h0M511.6 266.7h0M476.3 244.3h0M470.1 262.2h0M487.7 252.5h0M499.6 249.9h0M476.2 237.5h0M463.4 245.4h0M484.3 263.1h0M518.2 251.8h0M478.2 267.2h0M497.3 260.9h0M471.6 252.9h0M483.7 258h0M500.5 272.6h0M508.3 251.8h0M514.6 253.8h0M501.2 265.5h0M505.3 254.9h0M479.9 260.6h0M486 261.7h0M505.6 253.1h0M503.2 250h0M494.1 271.8h0M501.9 241.4h0M483.1 259.8h0M491.6 259.8h0M492.8 246.4h0M484.7 257h0M466.1 263.3h0M494.1 240.7h0M489.8 273.1h0M507.7 239.2h0M466.2 254.7h0M494.1 238.6h0M510.4 267.1h0M480.3 251.6h0M491.7 238.5h0M496.1 260.6h0M472.8 256.7h0M480.8 243.9h0M497.2 270.5h0M476.8 266.6h0M490.8 264.7h0M485.8 260.5h0M469.8 266.5h0M484.8 255h0M469.3 257.2h0M512.1 250.2h0M465.3 263.3h0M501.7 264h0M470.5 268.4h0M474.8 246.7h0M499.3 269.7h0M481.9 243.8h0M513.4 260.2h0M515.7 265.7h0M474.7 253.9h0M498.5 251.8h0M502 244h0M489.6 271.1h0M501.3 251.3h0M465.3 261.6h0M488.9 246.5h0M514.6 265.1h0M504.4 244.9h0M517.4 252.5h0M480.4 258.4h0M501.8 242.1h0M485.8 238.6h0M500.9 271.6h0M468.9 261.7h0M495.5 272.8h0M502.9 261.3h0M470.7 267.1h0M499.5 268.8h0M464.8 250.9h0M511.7 252.3h0M499.4 260.4h0M480.4 268.4h0M477.7 260.4h0M481.5 255.3h0M508.1 248.2h0M472.3 244.6h0M494.8 243.5h0M494.3 251.4h0M461.6 264.1h0M480.8 240.4h0M484.9 247.8h0M475.9 269.8h0M479.9 253.4h0M491.1 257.3h0M513.9 254.5h0M482.1 266.2h0M487.5 260h0M487.4 257.3h0M484.7 269.2h0M467.5 256h0M493.2 258.5h0M468.8 257.5h0M500.6 247.2h0M507.6 256.4h0M495.2 263.1h0M499.6 268.2h0M495 265.2h0M489.1 268.7h0M490.1 274.7h0M498.9 267.5h0M496.1 239.3h0M502.7 261.6h0M473.3 250.7h0M488.5 249.1h0M511.6 268.1h0M476 256h0M482.2 270.2h0M489.8 239.4h0M489.2 243.9h0M488 245.2h0M494.3 251.5h0M493.9 252.8h0M484.3 262.1h0M465.3 257.5h0M469.1 257h0M491.6 254.4h0M507.3 265.6h0M482.7 249.1h0M495.6 253h0M465 247.9h0M503.5 266.2h0M486.8 274.3h0M494.9 272.9h0M503.8 245.4h0M484.9 266h0M466.2 247.4h0M495 264.2h0M470.7 266.2h0M472 255h0M474.9 269.7h0M480.5 260.8h0M499.8 246.5h0M489.7 276.5h0M476.5 271.2h0M463.3 253.3h0M482.6 244.6h0M492.4 247.1h0M467.3 267.6h0M473.2 258.6h0M477.2 273.2h0M467.9 259.9h0M476.7 251.7h0M491.8 248.6h0M475.7 254.5h0M483 261.8h0M473 240.1h0M498.9 254.4h0M463 250.5h0M460.8 258.3h0M503.2 250.9h0M501 248.3h0M496.6 253.4h0M507.7 251.9h0M472.1 260h0M508.1 248.9h0M518 257.9h0M484 256.2h0M504.3 272.5h0M505.4 272h0M497.5 253.7h0M511.9 268h0M498.6 266.3h0M485.5 266h0M491.5 258.8h0M488.3 270.1h0M497.6 269h0M492.6 254.3h0M475.8 240.8h0M502 259.5h0M482.8 247.9h0M461.4 244h0M468.6 253.3h0M502 268.5h0M490.8 242.1h0M506.2 267.2h0M506.6 261.4h0M501.3 268h0M463.7 240.2h0M480.2 262.8h0M490.9 258.2h0M471.7 261.8h0M495.8 266.6h0M506.7 257.5h0M499.4 246.9h0M465.1 263h0M485 272.1h0M512 265.8h0M501.4 245.7h0M490.2 245.9h0M473.5 253.7h0M503.8 244.9h0M469 252.5h0M488.9 244.6h0M467 267.8h0M494.4 273.5h0M512 259.2h0M479.7 240.9h0M472.3 261.1h0M501.1 268.3h0M471.6 243.3h0M493.7 255.9h0M482.8 240.1h0M480.7 266.7h0M491.4 259.1h0M491.5 264.2h0M488 264.4h0M510.8 255.7h0M509.8 242.8h0M491 260.2h0M481.7 239.9h0M484.8 265.1h0M511.4 255h0M483.7 254.6h0M471.3 249.7h0" stroke="#E6E89C" stroke-width="1.2" stroke-linecap="round" fill="none"/>
<path d="M323 90 L323.3 87.7 L323.7 85.5 L324.2 83.4 L325 81.6 L326 80 L327.3 78.8 L328.9 77.8 L330.7 77.1 L332.7 76.5 L335 76 L337.7 75.6 L340.7 75.2 L343.9 75 L347.1 75 L350 75 L352.6 75.2 L355.1 75.5 L357.5 76 L359.8 76.5 L362 77 L364.2 77.5 L366.4 77.9 L368.5 78.4 L370.4 79.1 L372 80 L373.2 81.2 L374.2 82.6 L375 84.3 L375.6 86.1 L376 88 L376.3 90.2 L376.5 92.7 L376.5 95.3 L376.3 97.8 L376 100 L375.6 101.9 L375.1 103.6 L374.4 105.2 L373.4 106.7 L372 108 L370.2 109.3 L367.9 110.4 L365.4 111.4 L362.7 112.3 L360 113 L357.2 113.5 L354.2 113.8 L351.1 114 L348 114.1 L345 114 L341.9 113.9 L338.6 113.8 L335.4 113.4 L332.5 112.9 L330 112 L328 110.7 L326.3 109.1 L324.9 107.2 L323.8 105.2 L323 103 L322.5 100.6 L322.4 97.9 L322.4 95.2 L322.7 92.5Z" fill="#EE7E2E" fill-opacity="0.92"/>
<path d="M336.3 86.4h0M324.5 90.8h0M350.6 74.7h0M357.8 96.6h0M343.2 80.7h0M321.5 97.1h0M344 99.3h0M354.8 91.2h0M332.1 98h0M350.5 113.1h0M335.8 89.3h0M367.8 93.7h0M344.5 78.3h0M375.7 92.6h0M352.2 83.5h0M364.7 82.1h0M331.9 92h0M357 107.9h0M353 101.9h0M358.3 82.1h0M325.3 97.3h0M362.7 93.9h0M342.7 77.7h0M328.9 89.6h0M343.6 94.5h0M341.3 76.3h0M342.8 89.1h0M340.4 85.8h0M330.3 104.8h0M328.8 101.8h0M358 87.9h0M324.9 89.5h0M372.1 100.7h0M353.2 88.8h0M375.6 101.6h0M352.3 99h0M371.2 110h0M356.7 106.2h0M338.6 90.6h0M353.7 106.1h0M338.3 78.8h0M341.1 88h0M324.5 105.6h0M342.2 80h0M346.4 91.7h0M368.8 109.3h0M360 81.6h0M355.7 111.7h0M336.8 75.7h0M343.3 84.9h0M370.6 91.3h0M352.9 109.2h0M357.5 81.9h0M361.6 102.1h0M367.7 83.4h0M341.2 115h0M367.8 94.5h0M324.9 99.6h0M325.8 106.5h0M340.9 100.7h0M345.1 76.8h0M333.7 100.9h0M356 97.1h0M351.8 104.4h0M343 88.2h0M346.8 87.4h0M356 79.5h0M341.9 114.6h0M366.5 83.7h0M344.8 94.7h0M343.4 85.9h0M365.4 99.1h0M330.7 108.9h0M375.8 80h0M336.6 84.9h0M329 96.6h0M349.8 108.2h0M349.9 81.7h0M349.8 76.8h0M326.9 77.9h0M372.6 110.8h0M329.5 94h0M321.5 105.4h0M353.7 97.5h0M373.8 106h0M357.6 107h0M333.8 82.1h0M328.2 85.9h0M358.7 109.9h0M340.9 107.3h0M352.4 97.3h0M329.5 102.1h0M327.4 98.5h0M372.5 91.3h0M342.9 92.8h0M327.8 110.2h0M361.5 99.3h0M343.7 109.8h0M351.4 109.6h0M356.1 95.6h0M356 77.4h0M323.2 82.9h0M344 114.6h0M359.2 81.6h0M367 74.6h0M332.5 98.1h0M361.5 84.3h0M358.7 101.9h0M367.3 113h0M336.6 94.4h0M338.1 108.5h0M335.1 88.4h0M369.6 103.2h0M356.5 95.1h0M358.5 104.3h0M347.8 87.3h0M360.4 90.4h0M344.6 82.2h0M358.6 79.2h0M378.9 101.5h0M356.3 78.9h0M364.9 110.6h0M347.6 95.1h0M352 81.7h0M370.8 91.5h0M348.8 92.8h0M325.8 99.3h0M364.5 101.6h0M354.3 82.3h0M329 95.2h0M363.1 97.4h0M371.5 87.5h0M367.6 80.1h0M342.4 91.5h0M340.1 109.6h0M351.8 111.5h0M339.6 89.5h0M342.8 85h0M349.5 110.1h0M365.6 90.9h0M326.3 83.8h0M325.7 84.6h0M375.1 81.8h0M342.8 75.8h0M335.3 111.1h0M330.4 77.5h0M329.6 100.5h0M327.2 99.7h0M322.9 92.5h0M346.5 107.2h0M374 93.9h0M372.9 83.7h0M332.4 98.5h0M370.4 93.5h0M346.6 76h0M352.6 79.7h0M354.6 113.5h0M355.8 104.2h0M328 107h0M375.7 83.2h0M368.2 103.1h0M342.3 109h0M346 81.5h0M352.2 109.4h0M332.1 74h0M370.8 95.9h0M362.2 81.7h0M347 96.6h0M332.7 81.6h0M368.2 81.7h0M329.2 94.5h0M350.1 102.6h0M345.2 87.8h0M360.5 74h0M348.9 80.2h0M355.7 106.5h0M343.4 82.6h0M376.6 96.6h0M329.1 83.8h0M354.4 78.9h0M329.5 87.7h0M337.8 102.7h0M336.8 105.9h0M352.4 104.9h0M347.7 110.3h0M328.1 86.4h0M326.1 86.1h0M370.1 86.9h0M346.6 111.6h0M345.6 86.1h0M352.1 109.7h0M339 86.4h0M361.2 105.3h0M338.5 109.9h0M370.8 87h0M334 81.3h0M370.4 96.6h0M357.2 111h0M375.1 91.8h0M339 92h0M365.4 100.3h0M329.4 99.9h0M337.1 99.3h0M323.9 101h0M364.3 91.7h0M338.8 96.3h0M372.6 91.9h0M360.5 108.4h0M348.5 83.4h0M365.7 93.8h0M341.2 79.6h0M323.1 105.5h0M364.8 102.6h0M353.5 93.3h0M365.8 101.4h0M339.7 103.6h0M361.6 88.3h0M358.2 89.6h0M351.3 94.5h0M336.6 107h0M343.7 95.1h0M350.4 103h0M342.7 89.4h0M369.8 91.8h0M368 86.6h0M367.8 104.4h0M369.7 84.3h0M352.5 74h0M334.7 106.1h0M328.3 106.3h0M357.4 107.3h0M373.8 97.2h0M337.4 91h0M343.7 86.3h0M320.9 102h0M355.7 108.5h0M358.9 110.3h0M356.2 110.4h0M337.9 106.4h0M337.9 98.5h0M351 95.9h0M324.1 81.5h0M355.8 77.5h0M361.7 82.5h0M374 81.4h0M325.9 92h0M350.1 103.1h0M360.7 96.6h0M364.1 102.8h0M366.8 79.7h0M329.8 81.2h0M341.4 110.3h0M351.5 88.7h0M328.7 84.9h0M361.7 87.3h0M342.7 93.9h0M370.7 101.1h0M370.6 98h0M364.6 104.4h0M325.4 100.2h0M354.1 94.8h0M335.8 88.5h0M366.4 88.2h0M335.8 100.8h0M325.8 97.1h0M323.9 82.4h0M344.9 77.8h0M366.3 108.1h0M348.1 80.6h0M323.6 105.5h0M359.8 112.5h0M330 100.8h0M372 103.6h0M348.6 91.5h0M341 110.7h0M350.1 108.3h0M343.3 76.6h0M336.3 83.8h0M365.6 107.2h0M361 78.3h0M350.6 84.2h0M365.9 102.1h0M345 111.6h0M364.4 92.6h0M333.1 87h0M362.4 100.9h0M360.1 107.9h0M347.9 83.5h0M336.8 108h0M343.6 76h0M364.3 88.8h0M342.7 93.5h0M338.5 102.6h0M346.7 94.5h0M329.6 87h0M334.2 111.2h0M344.1 107.8h0M351.6 101.4h0M359 90.6h0M347.2 108.5h0" stroke="#EE7E2E" stroke-width="1.2" stroke-linecap="round" fill="none"/>
<path d="M370 80 L371.2 77.8 L373.1 75.9 L375.5 74.3 L378 73 L380 72 L381.7 71.4 L383.4 71 L384.9 71 L386.2 71.4 L387 72 L387.4 73.1 L387.4 74.6 L387.1 76.4 L386.6 78.3 L386 80 L385.1 81.6 L384 83.2 L382.6 84.9 L381.3 86.5 L380 88 L378.8 89.8 L377.5 91.9 L376.3 93.8 L375.1 95 L374 95 L372.8 93.3 L371.6 90.2 L370.5 86.6 L369.9 82.9Z" fill="#EE7E2E" fill-opacity="0.7"/>
<path d="M374.7 73.1h0M376.7 79.3h0M372.5 87.4h0M382.8 69.3h0M377.4 83h0M384.8 85.6h0M376.8 86.6h0M375.8 84.5h0M382 77.4h0M384.3 90.4h0M387.6 74.6h0M383.5 71.8h0M375.3 74.7h0M384.4 76.4h0M387.1 75.1h0M381.9 74.8h0M378.9 92.8h0M382.6 73.1h0M371.6 86.7h0M378.3 87.7h0M387.1 72.8h0M384 74.1h0M378.1 84h0M384.5 81.1h0M375.6 81.3h0M377.7 93.7h0M373.4 81.7h0M376.3 75.1h0M379.6 82.7h0M367.7 84.3h0M383.8 82.9h0M379.7 81.4h0M371.9 80.3h0M382.3 85.6h0M384.6 71.5h0M382.7 71.9h0M385.8 79.9h0M374.7 91.3h0M375.1 80.4h0M384.6 78.4h0M387.8 80.1h0M378.6 75.1h0M379.5 83.2h0M372.1 75.1h0M377.5 71.6h0M377.9 84.1h0M379.5 73.1h0M381.2 76.4h0M375.6 76.6h0M384.2 75.9h0M378.5 83.8h0M373.2 87h0M380.5 74.3h0M382.6 79.4h0M389.1 73.7h0M373.3 74.2h0M386 80.9h0M380.5 77.7h0M374.8 87.1h0M375.3 81.1h0" stroke="#EE7E2E" stroke-width="1.2" stroke-linecap="round" fill="none"/>
<path d="M505.8 244.2h0M499.1 238.2h0M504.5 235.4h0M494.2 237.9h0M505.4 246.4h0M499.6 238.5h0M502.1 228.6h0M498.5 236.2h0M501.9 224.1h0M499.3 231.7h0M502 237.2h0M493 241h0M499.6 228.4h0M493.6 226h0M498.3 231.8h0M502.8 243.5h0M504.1 243.2h0M496 226.4h0M506.4 236.9h0M496.1 229.3h0M498 226.6h0M491.3 226.7h0M502.5 238.3h0M495.1 231.8h0M501.8 231.2h0M501.1 238.1h0M496.2 229h0M509.1 238.9h0M497.2 231.8h0M501.1 242.1h0M489.3 224.5h0M507.1 243.6h0M500.9 239h0M506.4 238.7h0M500.7 238.2h0M502.8 246h0M503.4 246.5h0M495.9 229.1h0M504.1 236.2h0M503.7 245.8h0" stroke="#2E9446" stroke-width="1.2" stroke-linecap="round" fill="none"/>
</g>
<text x="415" y="39.4" font-size="7.7" font-weight="bold" fill="#fff" stroke="#333" stroke-width="1.5" stroke-linejoin="round" paint-order="stroke">CD4_Treg_CTLA4</text>
<text x="450" y="67.7" font-size="7.7" font-weight="bold" fill="#fff" stroke="#333" stroke-width="1.5" stroke-linejoin="round" paint-order="stroke">CD4_Treg_FOXP3</text>
<text x="332.3" y="93.4" font-size="7.7" font-weight="bold" fill="#fff" stroke="#333" stroke-width="1.5" stroke-linejoin="round" paint-order="stroke">T_MKI67</text>
<text x="405.7" y="97.8" font-size="7.7" font-weight="bold" fill="#fff" stroke="#333" stroke-width="1.5" stroke-linejoin="round" paint-order="stroke">CD4_Th17_CCL20</text>
<text x="441.9" y="114.7" font-size="7.7" font-weight="bold" fill="#fff" stroke="#333" stroke-width="1.5" stroke-linejoin="round" paint-order="stroke">CD4_Tfh_CXCL13</text>
<text x="493.9" y="136.9" font-size="7.7" font-weight="bold" fill="#fff" stroke="#333" stroke-width="1.5" stroke-linejoin="round" paint-order="stroke">Tn_TCF7</text>
<text x="512.8" y="142.8" font-size="7.7" font-weight="bold" fill="#fff" stroke="#333" stroke-width="1.5" stroke-linejoin="round" paint-order="stroke">CD8_Trm_IL7R</text>
<text x="467.6" y="181.3" font-size="7.7" font-weight="bold" fill="#fff" stroke="#333" stroke-width="1.5" stroke-linejoin="round" paint-order="stroke">CD8_Trm_ZNF683</text>
<text x="495.3" y="198.2" font-size="7.7" font-weight="bold" fill="#fff" stroke="#333" stroke-width="1.5" stroke-linejoin="round" paint-order="stroke">CD8_Teff_GZMK</text>
<text x="412.7" y="206.7" font-size="7.7" font-weight="bold" fill="#fff" stroke="#333" stroke-width="1.5" stroke-linejoin="round" paint-order="stroke">CD8_Tex_PDCD1</text>
<text x="480.7" y="259.6" font-size="7.7" font-weight="bold" fill="#fff" stroke="#333" stroke-width="1.5" stroke-linejoin="round" paint-order="stroke">NK</text>
<circle cx="593.5" cy="103" r="4.1" fill="#8FC1DC"/>
<text x="602.7" y="105.9" font-size="8.2" text-anchor="start" fill="#111" >Tn_TCF7</text>
<circle cx="593.5" cy="112.6" r="4.1" fill="#1F6DAB"/>
<text x="602.7" y="115.5" font-size="8.2" text-anchor="start" fill="#111" >CD8_Tex_PDCD1</text>
<circle cx="593.5" cy="122.2" r="4.1" fill="#98C98B"/>
<text x="602.7" y="125.1" font-size="8.2" text-anchor="start" fill="#111" >CD8_Tm_IL7R</text>
<circle cx="593.5" cy="131.8" r="4.1" fill="#2E9446"/>
<text x="602.7" y="134.7" font-size="8.2" text-anchor="start" fill="#111" >CD8_Teff_GZMK</text>
<circle cx="593.5" cy="141.4" r="4.1" fill="#F1B06C"/>
<text x="602.7" y="144.3" font-size="8.2" text-anchor="start" fill="#111" >CD8_Trm_ZNF683</text>
<circle cx="593.5" cy="151.1" r="4.1" fill="#EE7E2E"/>
<text x="602.7" y="154" font-size="8.2" text-anchor="start" fill="#111" >T_MKI67</text>
<circle cx="593.5" cy="160.7" r="4.1" fill="#E58B8B"/>
<text x="602.7" y="163.6" font-size="8.2" text-anchor="start" fill="#111" >CD4_Th17_CCL20</text>
<circle cx="593.5" cy="170.3" r="4.1" fill="#D9232D"/>
<text x="602.7" y="173.2" font-size="8.2" text-anchor="start" fill="#111" >CD4_Treg_CTLA4</text>
<circle cx="593.5" cy="179.9" r="4.1" fill="#B6A5CA"/>
<text x="602.7" y="182.8" font-size="8.2" text-anchor="start" fill="#111" >CD4_Treg_FOXP3</text>
<circle cx="593.5" cy="189.5" r="4.1" fill="#5B3F8F"/>
<text x="602.7" y="192.4" font-size="8.2" text-anchor="start" fill="#111" >CD4_Tfh_CXCL13</text>
<circle cx="593.5" cy="199.1" r="4.1" fill="#E6E89C"/>
<text x="602.7" y="202" font-size="8.2" text-anchor="start" fill="#111" >NK</text>
<text x="-0.8" y="300" font-size="9.6" font-weight="bold" fill="#2a1818">c</text>
<rect x="45.3" y="320.3" width="123.3" height="146.9" fill="#fff" stroke="#aaa" stroke-width="0.6" />
<line x1="45.3" y1="430.5" x2="168.6" y2="430.5" stroke="#ddd" stroke-width="0.5" />
<line x1="45.3" y1="393.8" x2="168.6" y2="393.8" stroke="#ddd" stroke-width="0.5" />
<line x1="45.3" y1="357" x2="168.6" y2="357" stroke="#ddd" stroke-width="0.5" />
<rect x="46.4" y="320.3" width="25.6" height="12.6" fill="#8FC1DC" stroke="#222" stroke-width="0.6" />
<rect x="46.4" y="332.9" width="25.6" height="18.7" fill="#1F6DAB" stroke="#222" stroke-width="0.6" />
<rect x="46.4" y="351.6" width="25.6" height="9.8" fill="#98C98B" stroke="#222" stroke-width="0.6" />
<rect x="46.4" y="361.4" width="25.6" height="36.1" fill="#2E9446" stroke="#222" stroke-width="0.6" />
<rect x="46.4" y="397.6" width="25.6" height="4.6" fill="#F1B06C" stroke="#222" stroke-width="0.6" />
<rect x="46.4" y="402.1" width="25.6" height="15.6" fill="#EE7E2E" stroke="#222" stroke-width="0.6" />
<rect x="46.4" y="417.7" width="25.6" height="1.3" fill="#E58B8B" stroke="#222" stroke-width="0.6" />
<rect x="46.4" y="419" width="25.6" height="9.8" fill="#D9232D" stroke="#222" stroke-width="0.6" />
<rect x="46.4" y="428.9" width="25.6" height="22.3" fill="#B6A5CA" stroke="#222" stroke-width="0.6" />
<rect x="46.4" y="451.2" width="25.6" height="7.2" fill="#5B3F8F" stroke="#222" stroke-width="0.6" />
<rect x="46.4" y="458.4" width="25.6" height="8.8" fill="#E6E89C" stroke="#222" stroke-width="0.6" />
<rect x="78.2" y="320.3" width="25.6" height="11.6" fill="#8FC1DC" stroke="#222" stroke-width="0.6" />
<rect x="78.2" y="331.9" width="25.6" height="25.6" fill="#1F6DAB" stroke="#222" stroke-width="0.6" />
<rect x="78.2" y="357.5" width="25.6" height="9" fill="#98C98B" stroke="#222" stroke-width="0.6" />
<rect x="78.2" y="366.4" width="25.6" height="40" fill="#2E9446" stroke="#222" stroke-width="0.6" />
<rect x="78.2" y="406.4" width="25.6" height="10" fill="#F1B06C" stroke="#222" stroke-width="0.6" />
<rect x="78.2" y="416.4" width="25.6" height="6.3" fill="#EE7E2E" stroke="#222" stroke-width="0.6" />
<rect x="78.2" y="422.7" width="25.6" height="1.6" fill="#E58B8B" stroke="#222" stroke-width="0.6" />
<rect x="78.2" y="424.3" width="25.6" height="7.2" fill="#D9232D" stroke="#222" stroke-width="0.6" />
<rect x="78.2" y="431.5" width="25.6" height="19.7" fill="#B6A5CA" stroke="#222" stroke-width="0.6" />
<rect x="78.2" y="451.2" width="25.6" height="7.2" fill="#5B3F8F" stroke="#222" stroke-width="0.6" />
<rect x="78.2" y="458.4" width="25.6" height="8.8" fill="#E6E89C" stroke="#222" stroke-width="0.6" />
<rect x="110.4" y="320.3" width="25.6" height="12" fill="#8FC1DC" stroke="#222" stroke-width="0.6" />
<rect x="110.4" y="332.3" width="25.6" height="7.9" fill="#1F6DAB" stroke="#222" stroke-width="0.6" />
<rect x="110.4" y="340.3" width="25.6" height="8.1" fill="#98C98B" stroke="#222" stroke-width="0.6" />
<rect x="110.4" y="348.4" width="25.6" height="38.3" fill="#2E9446" stroke="#222" stroke-width="0.6" />
<rect x="110.4" y="386.7" width="25.6" height="2.5" fill="#F1B06C" stroke="#222" stroke-width="0.6" />
<rect x="110.4" y="389.2" width="25.6" height="10.1" fill="#EE7E2E" stroke="#222" stroke-width="0.6" />
<rect x="110.4" y="399.3" width="25.6" height="1.3" fill="#E58B8B" stroke="#222" stroke-width="0.6" />
<rect x="110.4" y="400.7" width="25.6" height="16.6" fill="#D9232D" stroke="#222" stroke-width="0.6" />
<rect x="110.4" y="417.3" width="25.6" height="38.9" fill="#B6A5CA" stroke="#222" stroke-width="0.6" />
<rect x="110.4" y="456.2" width="25.6" height="4.4" fill="#5B3F8F" stroke="#222" stroke-width="0.6" />
<rect x="110.4" y="460.6" width="25.6" height="6.6" fill="#E6E89C" stroke="#222" stroke-width="0.6" />
<rect x="142.8" y="320.3" width="25.6" height="15.3" fill="#8FC1DC" stroke="#222" stroke-width="0.6" />
<rect x="142.8" y="335.6" width="25.6" height="12" fill="#1F6DAB" stroke="#222" stroke-width="0.6" />
<rect x="142.8" y="347.6" width="25.6" height="13.8" fill="#98C98B" stroke="#222" stroke-width="0.6" />
<rect x="142.8" y="361.4" width="25.6" height="32.2" fill="#2E9446" stroke="#222" stroke-width="0.6" />
<rect x="142.8" y="393.6" width="25.6" height="2.2" fill="#F1B06C" stroke="#222" stroke-width="0.6" />
<rect x="142.8" y="395.8" width="25.6" height="8.8" fill="#EE7E2E" stroke="#222" stroke-width="0.6" />
<rect x="142.8" y="404.6" width="25.6" height="2.8" fill="#E58B8B" stroke="#222" stroke-width="0.6" />
<rect x="142.8" y="407.4" width="25.6" height="12.8" fill="#D9232D" stroke="#222" stroke-width="0.6" />
<rect x="142.8" y="420.2" width="25.6" height="32.2" fill="#B6A5CA" stroke="#222" stroke-width="0.6" />
<rect x="142.8" y="452.4" width="25.6" height="8.2" fill="#5B3F8F" stroke="#222" stroke-width="0.6" />
<rect x="142.8" y="460.6" width="25.6" height="6.6" fill="#E6E89C" stroke="#222" stroke-width="0.6" />
<line x1="45.3" y1="320.3" x2="45.3" y2="467.2" stroke="#444" stroke-width="0.7" />
<line x1="45.3" y1="467.2" x2="168.6" y2="467.2" stroke="#444" stroke-width="0.7" />
<text x="42" y="323.2" font-size="8.2" text-anchor="end" fill="#111" >100%</text>
<line x1="43" y1="320.3" x2="45.3" y2="320.3" stroke="#444" stroke-width="0.6" />
<text x="42" y="359.9" font-size="8.2" text-anchor="end" fill="#111" >75%</text>
<line x1="43" y1="357" x2="45.3" y2="357" stroke="#444" stroke-width="0.6" />
<text x="42" y="396.6" font-size="8.2" text-anchor="end" fill="#111" >50%</text>
<line x1="43" y1="393.8" x2="45.3" y2="393.8" stroke="#444" stroke-width="0.6" />
<text x="42" y="433.4" font-size="8.2" text-anchor="end" fill="#111" >25%</text>
<line x1="43" y1="430.5" x2="45.3" y2="430.5" stroke="#444" stroke-width="0.6" />
<text x="42" y="470.1" font-size="8.2" text-anchor="end" fill="#111" >0%</text>
<line x1="43" y1="467.2" x2="45.3" y2="467.2" stroke="#444" stroke-width="0.6" />
<line x1="59.2" y1="467.2" x2="59.2" y2="469.2" stroke="#444" stroke-width="0.6" />
<line x1="91" y1="467.2" x2="91" y2="469.2" stroke="#444" stroke-width="0.6" />
<line x1="123.3" y1="467.2" x2="123.3" y2="469.2" stroke="#444" stroke-width="0.6" />
<line x1="155.6" y1="467.2" x2="155.6" y2="469.2" stroke="#444" stroke-width="0.6" />
<text transform="translate(16.5,395.6) rotate(-90)" font-size="8.2" text-anchor="middle" fill="#111">Percentage</text>
<text transform="translate(66.5,479.6) rotate(-45)" font-size="8.5" text-anchor="end" fill="#111">GSE195832_Ctrl</text>
<text transform="translate(95.1,480.2) rotate(-45)" font-size="8.5" text-anchor="end" fill="#111">GSE195832_aPD−1</text>
<text transform="translate(124.2,477.3) rotate(-45)" font-size="8.5" text-anchor="end" fill="#111">IHD_Ctrl</text>
<text transform="translate(153.4,478) rotate(-45)" font-size="8.5" text-anchor="end" fill="#111">IHD_LDR + aPD−1 + Chemo</text>
<rect x="174.5" y="349" width="9.1" height="9.4" fill="#8FC1DC" stroke="#333" stroke-width="0.8" />
<text x="187.5" y="356.6" font-size="8.2" text-anchor="start" fill="#111" >Tn_TCF7</text>
<rect x="174.5" y="358.4" width="9.1" height="9.4" fill="#1F6DAB" stroke="#333" stroke-width="0.8" />
<text x="187.5" y="366" font-size="8.2" text-anchor="start" fill="#111" >CD8_Tex_PDCD1</text>
<rect x="174.5" y="367.8" width="9.1" height="9.4" fill="#98C98B" stroke="#333" stroke-width="0.8" />
<text x="187.5" y="375.4" font-size="8.2" text-anchor="start" fill="#111" >CD8_Tm_IL7R</text>
<rect x="174.5" y="377.2" width="9.1" height="9.4" fill="#2E9446" stroke="#333" stroke-width="0.8" />
<text x="187.5" y="384.8" font-size="8.2" text-anchor="start" fill="#111" >CD8_Teff_GZMK</text>
<rect x="174.5" y="386.6" width="9.1" height="9.4" fill="#F1B06C" stroke="#333" stroke-width="0.8" />
<text x="187.5" y="394.2" font-size="8.2" text-anchor="start" fill="#111" >CD8_Trm_ZNF683</text>
<rect x="174.5" y="396" width="9.1" height="9.4" fill="#EE7E2E" stroke="#333" stroke-width="0.8" />
<text x="187.5" y="403.6" font-size="8.2" text-anchor="start" fill="#111" >T_MKI67</text>
<rect x="174.5" y="405.4" width="9.1" height="9.4" fill="#E58B8B" stroke="#333" stroke-width="0.8" />
<text x="187.5" y="413" font-size="8.2" text-anchor="start" fill="#111" >CD4_Th17_CCL20</text>
<rect x="174.5" y="414.8" width="9.1" height="9.4" fill="#D9232D" stroke="#333" stroke-width="0.8" />
<text x="187.5" y="422.4" font-size="8.2" text-anchor="start" fill="#111" >CD4_Treg_CTLA4</text>
<rect x="174.5" y="424.2" width="9.1" height="9.4" fill="#B6A5CA" stroke="#333" stroke-width="0.8" />
<text x="187.5" y="431.8" font-size="8.2" text-anchor="start" fill="#111" >CD4_Treg_FOXP3</text>
<rect x="174.5" y="433.6" width="9.1" height="9.4" fill="#5B3F8F" stroke="#333" stroke-width="0.8" />
<text x="187.5" y="441.2" font-size="8.2" text-anchor="start" fill="#111" >CD4_Tfh_CXCL13</text>
<rect x="174.5" y="443" width="9.1" height="9.4" fill="#E6E89C" stroke="#333" stroke-width="0.8" />
<text x="187.5" y="450.6" font-size="8.2" text-anchor="start" fill="#111" >NK</text>
<text x="281" y="299.6" font-size="9.6" font-weight="bold" fill="#2a1818">d</text>
<text x="367.8" y="319" font-size="8.2" text-anchor="middle" fill="#1a0f0f" >B-CELL</text>
<text x="364.6" y="341.7" font-size="8.3" text-anchor="middle" fill="#111" >MS4A1 (CD20)</text>
<rect x="306" y="347" width="127.7" height="109.4" fill="#fff" stroke="none" stroke-width="0.6" />
<rect x="338.8" y="347" width="30.7" height="109.4" fill="#F2F2F2" stroke="none" stroke-width="0.6" />
<rect x="400.2" y="347" width="33.5" height="109.4" fill="#F2F2F2" stroke="none" stroke-width="0.6" />
<line x1="306" y1="451.6" x2="433.7" y2="451.6" stroke="#bbb" stroke-width="0.6" stroke-dasharray="3,2"/>
<line x1="306" y1="418.5" x2="433.7" y2="418.5" stroke="#bbb" stroke-width="0.6" stroke-dasharray="3,2"/>
<line x1="306" y1="385.4" x2="433.7" y2="385.4" stroke="#bbb" stroke-width="0.6" stroke-dasharray="3,2"/>
<line x1="306" y1="352.3" x2="433.7" y2="352.3" stroke="#bbb" stroke-width="0.6" stroke-dasharray="3,2"/>
<rect x="306" y="347" width="127.7" height="109.4" fill="none" stroke="#555" stroke-width="0.8" />
<text x="301" y="454.6" font-size="8.2" text-anchor="end" fill="#111" >0</text>
<line x1="303.5" y1="451.6" x2="306" y2="451.6" stroke="#444" stroke-width="0.6" />
<text x="301" y="421.5" font-size="8.2" text-anchor="end" fill="#111" >2</text>
<line x1="303.5" y1="418.5" x2="306" y2="418.5" stroke="#444" stroke-width="0.6" />
<text x="301" y="388.4" font-size="8.2" text-anchor="end" fill="#111" >4</text>
<line x1="303.5" y1="385.4" x2="306" y2="385.4" stroke="#444" stroke-width="0.6" />
<text x="301" y="355.3" font-size="8.2" text-anchor="end" fill="#111" >6</text>
<line x1="303.5" y1="352.3" x2="306" y2="352.3" stroke="#444" stroke-width="0.6" />
<text transform="translate(292,412) rotate(-90)" font-size="8.2" text-anchor="middle" fill="#111">Expression level</text>
<line x1="324" y1="456.4" x2="324" y2="458.9" stroke="#444" stroke-width="0.6" />
<line x1="354.7" y1="456.4" x2="354.7" y2="458.9" stroke="#444" stroke-width="0.6" />
<line x1="385" y1="456.4" x2="385" y2="458.9" stroke="#444" stroke-width="0.6" />
<line x1="415.2" y1="456.4" x2="415.2" y2="458.9" stroke="#444" stroke-width="0.6" />
<path d="M324 391.7 L324.2 391.7 L324.4 391.8 L324.7 391.9 L325 392 L325.3 392.1 L325.6 392.4 L325.9 392.6 L326.1 392.8 L326.3 393 L326.6 393.3 L326.9 393.8 L327.2 394.5 L327.6 395.4 L328 396.6 L328.5 397.8 L328.9 399.2 L329.4 400.6 L329.8 402 L330.2 403.3 L330.7 404.6 L331.1 406 L331.5 407.4 L331.8 408.8 L332 410.2 L332.1 411.6 L332.1 413 L332 414.4 L331.9 415.7 L331.7 417.1 L331.5 418.5 L331.2 419.9 L330.8 421.3 L330.4 422.6 L329.9 424 L329.5 425.4 L329 426.8 L328.5 428.2 L328 429.7 L327.4 431.2 L326.9 432.6 L326.4 433.9 L326 435.1 L325.6 436 L325.2 436.7 L324.8 437.4 L324.5 438 L324.3 438.5 L324.4 439.2 L324.7 439.9 L325.1 440.6 L325.8 441.3 L326.5 441.9 L327.2 442.6 L328 443.3 L328.8 444 L329.7 444.7 L330.7 445.4 L331.7 446.1 L332.6 446.8 L333.5 447.5 L334.4 448.1 L335.2 448.7 L336.1 449.3 L336.9 449.9 L337.5 450.4 L338 450.8 L338.3 451.1 L338.3 451.3 L338.3 451.4 L338.2 451.5 L338.1 451.5 L338 451.6 L310 451.6 L309.9 451.5 L309.8 451.5 L309.7 451.4 L309.7 451.3 L309.7 451.1 L310 450.8 L310.5 450.4 L311.1 449.9 L311.9 449.3 L312.8 448.7 L313.6 448.1 L314.5 447.5 L315.4 446.8 L316.3 446.1 L317.3 445.4 L318.3 444.7 L319.2 444 L320 443.3 L320.8 442.6 L321.5 441.9 L322.2 441.3 L322.9 440.6 L323.3 439.9 L323.6 439.2 L323.7 438.5 L323.5 438 L323.2 437.4 L322.8 436.7 L322.4 436 L322 435.1 L321.6 433.9 L321.1 432.6 L320.6 431.2 L320 429.7 L319.5 428.2 L319 426.8 L318.5 425.4 L318.1 424 L317.6 422.6 L317.2 421.3 L316.8 419.9 L316.5 418.5 L316.3 417.1 L316.1 415.7 L316 414.4 L315.9 413 L315.9 411.6 L316 410.2 L316.2 408.8 L316.5 407.4 L316.9 406 L317.3 404.6 L317.8 403.3 L318.2 402 L318.6 400.6 L319.1 399.2 L319.5 397.8 L320 396.6 L320.4 395.4 L320.8 394.5 L321.1 393.8 L321.4 393.3 L321.7 393 L321.9 392.8 L322.1 392.6 L322.4 392.4 L322.7 392.1 L323 392 L323.3 391.9 L323.6 391.8 L323.8 391.7 L324 391.7Z" fill="#8FC1DC" stroke="#222" stroke-width="0.6" stroke-linejoin="round"/>
<line x1="324" y1="391.7" x2="324" y2="451.6" stroke="#111" stroke-width="0.6" />
<rect x="322.1" y="412.7" width="3.8" height="38.9" fill="#000" stroke="none" stroke-width="0.6" />
<circle cx="324" cy="429.3" r="2.4" fill="#fff" stroke="#000" stroke-width="0.5"/>
<path d="M354.7 385.4 L354.8 386.3 L354.9 387.5 L355 389 L355.2 390.6 L355.3 392.2 L355.5 393.7 L355.6 395 L355.8 396.4 L355.9 397.7 L356.1 399.1 L356.3 400.5 L356.5 402 L356.8 403.5 L357.1 405.3 L357.4 407 L357.8 408.8 L358.1 410.4 L358.3 411.9 L358.4 413.2 L358.5 414.3 L358.6 415.3 L358.6 416.3 L358.6 417.3 L358.5 418.5 L358.4 419.8 L358.2 421.1 L357.9 422.5 L357.7 424 L357.4 425.4 L357.2 426.8 L357 428.2 L356.8 429.7 L356.7 431.1 L356.5 432.5 L356.3 433.9 L356.2 435.1 L356 436.1 L355.8 437 L355.6 437.8 L355.5 438.6 L355.4 439.3 L355.5 440 L355.7 440.7 L356.1 441.2 L356.5 441.7 L357 442.2 L357.6 442.7 L358.2 443.3 L358.9 444 L359.7 444.7 L360.6 445.4 L361.5 446.1 L362.4 446.8 L363.2 447.5 L364.1 448.1 L365 448.7 L365.9 449.3 L366.8 449.9 L367.5 450.4 L368 450.8 L368.3 451.1 L368.4 451.3 L368.3 451.4 L368.2 451.5 L368.1 451.5 L368 451.6 L341.4 451.6 L341.3 451.5 L341.2 451.5 L341.1 451.4 L341 451.3 L341.1 451.1 L341.4 450.8 L341.9 450.4 L342.6 449.9 L343.5 449.3 L344.4 448.7 L345.3 448.1 L346.2 447.5 L347 446.8 L347.9 446.1 L348.8 445.4 L349.7 444.7 L350.5 444 L351.2 443.3 L351.8 442.7 L352.4 442.2 L352.9 441.7 L353.3 441.2 L353.7 440.7 L353.9 440 L354 439.3 L353.9 438.6 L353.8 437.8 L353.6 437 L353.4 436.1 L353.2 435.1 L353.1 433.9 L352.9 432.5 L352.7 431.1 L352.6 429.7 L352.4 428.2 L352.2 426.8 L352 425.4 L351.7 424 L351.5 422.5 L351.2 421.1 L351 419.8 L350.9 418.5 L350.8 417.3 L350.8 416.3 L350.8 415.3 L350.9 414.3 L351 413.2 L351.1 411.9 L351.3 410.4 L351.6 408.8 L351.9 407 L352.3 405.3 L352.6 403.5 L352.9 402 L353.1 400.5 L353.3 399.1 L353.5 397.7 L353.6 396.4 L353.8 395 L353.9 393.7 L354.1 392.2 L354.2 390.6 L354.4 389 L354.5 387.5 L354.6 386.3 L354.7 385.4Z" fill="#1F6DAB" stroke="#222" stroke-width="0.6" stroke-linejoin="round"/>
<line x1="354.7" y1="385.4" x2="354.7" y2="451.6" stroke="#111" stroke-width="0.6" />
<rect x="352.8" y="418.5" width="3.8" height="33.1" fill="#000" stroke="none" stroke-width="0.6" />
<circle cx="354.7" cy="451.6" r="2.4" fill="#fff" stroke="#000" stroke-width="0.5"/>
<path d="M385 377.1 L385.1 377.6 L385.2 378.4 L385.4 379.2 L385.6 380.1 L385.8 381.1 L386.2 382.1 L386.7 383.1 L387.2 384.1 L387.8 385.2 L388.5 386.3 L389.2 387.5 L390 388.7 L390.9 390 L392 391.3 L393.1 392.7 L394.2 394.2 L395.2 395.6 L396 397 L396.7 398.3 L397.3 399.7 L397.9 401 L398.3 402.4 L398.6 403.8 L398.8 405.3 L398.9 406.8 L398.8 408.4 L398.7 410.1 L398.4 411.8 L398 413.5 L397.5 415.2 L396.8 416.9 L396 418.6 L395 420.3 L394 421.9 L392.9 423.6 L392 425.1 L391.1 426.7 L390.2 428.2 L389.2 429.7 L388.4 431.1 L387.6 432.3 L387 433.4 L386.5 434.2 L386.2 434.8 L386 435.3 L385.8 435.7 L385.7 436.1 L385.6 436.7 L385.5 437.5 L385.5 438.3 L385.5 439.2 L385.6 440.1 L385.8 440.9 L386 441.7 L386.3 442.3 L386.7 442.9 L387.2 443.4 L387.7 443.9 L388.3 444.4 L389 445 L389.8 445.6 L390.8 446.4 L391.8 447.1 L392.8 447.8 L393.8 448.5 L394.5 449.1 L395.1 449.7 L395.5 450.2 L395.9 450.6 L396.2 451 L396.4 451.3 L396.6 451.6 L373.4 451.6 L373.6 451.3 L373.8 451 L374.1 450.6 L374.5 450.2 L374.9 449.7 L375.5 449.1 L376.2 448.5 L377.2 447.8 L378.2 447.1 L379.2 446.4 L380.2 445.6 L381 445 L381.7 444.4 L382.3 443.9 L382.8 443.4 L383.3 442.9 L383.7 442.3 L384 441.7 L384.2 440.9 L384.4 440.1 L384.5 439.2 L384.5 438.3 L384.5 437.5 L384.4 436.7 L384.3 436.1 L384.2 435.7 L384 435.3 L383.8 434.8 L383.5 434.2 L383 433.4 L382.4 432.3 L381.6 431.1 L380.8 429.7 L379.8 428.2 L378.9 426.7 L378 425.1 L377.1 423.6 L376 421.9 L375 420.3 L374 418.6 L373.2 416.9 L372.5 415.2 L372 413.5 L371.6 411.8 L371.3 410.1 L371.2 408.4 L371.1 406.8 L371.2 405.3 L371.4 403.8 L371.7 402.4 L372.1 401 L372.7 399.7 L373.3 398.3 L374 397 L374.8 395.6 L375.8 394.2 L376.9 392.7 L378 391.3 L379.1 390 L380 388.7 L380.8 387.5 L381.5 386.3 L382.2 385.2 L382.8 384.1 L383.3 383.1 L383.8 382.1 L384.2 381.1 L384.4 380.1 L384.6 379.2 L384.8 378.4 L384.9 377.6 L385 377.1Z" fill="#98C98B" stroke="#222" stroke-width="0.6" stroke-linejoin="round"/>
<line x1="385" y1="377.1" x2="385" y2="451.6" stroke="#111" stroke-width="0.6" />
<rect x="383.1" y="402" width="3.8" height="19.9" fill="#000" stroke="none" stroke-width="0.6" />
<circle cx="385" cy="409.4" r="2.4" fill="#fff" stroke="#000" stroke-width="0.5"/>
<path d="M415.2 376.3 L415.3 376.7 L415.5 377.3 L415.7 378.1 L416 378.8 L416.3 379.6 L416.7 380.4 L417.1 381.2 L417.6 382 L418.2 382.8 L418.8 383.6 L419.4 384.5 L420.2 385.4 L421.1 386.4 L422.1 387.5 L423.3 388.6 L424.4 389.8 L425.4 390.9 L426.2 392 L426.9 393.1 L427.5 394.1 L427.9 395.1 L428.3 396.2 L428.6 397.3 L428.7 398.6 L428.7 400.1 L428.5 401.7 L428.1 403.4 L427.7 405.1 L427.2 406.9 L426.7 408.6 L426.1 410.2 L425.4 411.9 L424.6 413.6 L423.8 415.3 L423 416.9 L422.2 418.5 L421.4 420 L420.6 421.5 L419.8 422.9 L419 424.3 L418.3 425.6 L417.7 426.8 L417.2 427.8 L416.8 428.6 L416.5 429.3 L416.2 430 L416 430.8 L415.8 431.7 L415.7 433 L415.6 434.4 L415.6 435.9 L415.6 437.4 L415.7 438.8 L415.8 440 L415.9 440.9 L416.1 441.7 L416.2 442.3 L416.5 442.9 L416.8 443.5 L417.2 444.2 L417.7 444.9 L418.4 445.6 L419.2 446.3 L419.9 447 L420.6 447.6 L421.2 448.3 L421.6 448.9 L422 449.6 L422.3 450.2 L422.6 450.8 L422.8 451.2 L423 451.6 L407.4 451.6 L407.6 451.2 L407.8 450.8 L408.1 450.2 L408.4 449.6 L408.8 448.9 L409.2 448.3 L409.8 447.6 L410.5 447 L411.2 446.3 L412 445.6 L412.7 444.9 L413.2 444.2 L413.6 443.5 L413.9 442.9 L414.1 442.3 L414.3 441.7 L414.5 440.9 L414.6 440 L414.7 438.8 L414.8 437.4 L414.8 435.9 L414.8 434.4 L414.7 433 L414.6 431.7 L414.4 430.8 L414.2 430 L413.9 429.3 L413.6 428.6 L413.2 427.8 L412.7 426.8 L412.1 425.6 L411.4 424.3 L410.6 422.9 L409.8 421.5 L409 420 L408.2 418.5 L407.4 416.9 L406.6 415.3 L405.8 413.6 L405 411.9 L404.3 410.2 L403.7 408.6 L403.2 406.9 L402.7 405.1 L402.3 403.4 L401.9 401.7 L401.7 400.1 L401.7 398.6 L401.8 397.3 L402.1 396.2 L402.4 395.1 L402.9 394.1 L403.5 393.1 L404.2 392 L405 390.9 L406 389.8 L407.1 388.6 L408.3 387.5 L409.3 386.4 L410.2 385.4 L411 384.5 L411.6 383.6 L412.2 382.8 L412.8 382 L413.3 381.2 L413.7 380.4 L414.1 379.6 L414.4 378.8 L414.7 378.1 L414.9 377.3 L415.1 376.7 L415.2 376.3Z" fill="#2E9446" stroke="#222" stroke-width="0.6" stroke-linejoin="round"/>
<line x1="415.2" y1="376.3" x2="415.2" y2="451.6" stroke="#111" stroke-width="0.6" />
<rect x="413.3" y="397" width="3.8" height="18.2" fill="#000" stroke="none" stroke-width="0.6" />
<circle cx="415.2" cy="403.6" r="2.4" fill="#fff" stroke="#000" stroke-width="0.5"/>
<path d="M324 374.6V372.4H354.7V374.6" fill="none" stroke="#333" stroke-width="0.6"/>
<path d="M385 367.2V365H415.2V367.2" fill="none" stroke="#333" stroke-width="0.6"/>
<text x="339.9" y="367.5" font-size="7.7" text-anchor="middle" fill="#111"><tspan font-style="italic">p</tspan> = 5.2e-05</text>
<text x="401.9" y="361.6" font-size="7.7" text-anchor="middle" fill="#111"><tspan font-style="italic">p</tspan> = 2.22e-16</text>
<text transform="translate(328.6,467.9) rotate(-45)" font-size="8.5" text-anchor="end" fill="#111">GSE195832_Ctrl</text>
<text transform="translate(358.9,467.9) rotate(-45)" font-size="8.5" text-anchor="end" fill="#111">GSE195832_aPD−1</text>
<text transform="translate(387.4,467.9) rotate(-45)" font-size="8.5" text-anchor="end" fill="#111">IHD_Ctrl</text>
<text transform="translate(416.5,467.4) rotate(-45)" font-size="8.5" text-anchor="end" fill="#111">IHD_LDR + aPD−1 + Chemo</text>
<text x="470.8" y="299.8" font-size="9.6" font-weight="bold" fill="#2a1818">e</text>
<text x="575.6" y="308.6" font-size="8.3" text-anchor="middle" fill="#1a0f0f" >MYELOID</text>
<g filter="url(#scat)">
<path d="M621 333 L622.2 333.4 L623.4 334.6 L624.6 336.1 L625.8 337.7 L627 339 L628.4 339.8 L630 340.5 L631.5 341.1 L632.9 341.9 L634 343 L634.8 344.4 L635.3 346.1 L635.7 347.9 L635.9 349.9 L636 352 L636 354.1 L635.7 356.2 L635.4 358.6 L635.1 361.1 L635 364 L635 367.5 L635.1 371.5 L635.3 375.7 L635.6 379.7 L636 383 L636.9 385.7 L638.2 387.9 L639.4 389.8 L640.2 391.5 L640 393 L638.6 394.4 L636.4 395.7 L633.6 396.8 L630.7 397.6 L628 398 L625.5 398 L622.8 397.8 L620.2 397.2 L617.9 396.2 L616 395 L614.7 393.3 L613.8 391.2 L613.1 388.9 L612.6 386.4 L612 384 L611.3 381.7 L610.7 379.3 L610.1 376.9 L609.5 374.5 L609 372 L608.5 369.4 L607.9 366.8 L607.5 364.1 L607.1 361.5 L607 359 L607.1 356.6 L607.4 354.3 L607.8 352.1 L608.3 350 L609 348 L609.8 346.2 L610.7 344.5 L611.7 343 L612.8 341.5 L614 340 L615.3 338.3 L616.7 336.5 L618.2 334.8 L619.6 333.6Z" fill="#98C98B" fill-opacity="0.92"/>
<path d="M622.5 373h0M628.4 362.7h0M608.6 374.5h0M624.7 341.5h0M634.9 381h0M627.5 397.8h0M613.2 355.1h0M617.8 334.8h0M628.8 369.6h0M639.1 388.1h0M623.3 341.5h0M611 358.9h0M627.7 392h0M617.6 342.7h0M626.7 352.4h0M625.5 338.9h0M638 394.8h0M629.6 356.7h0M629.3 353.2h0M634.6 350h0M615.8 361.3h0M613.3 376.9h0M623.9 354.9h0M622.2 366h0M630.4 390.6h0M627.8 373.8h0M616.6 339.4h0M622.1 390.4h0M610.9 357.6h0M630.6 350.3h0M620.2 390.6h0M619.9 389.9h0M618.9 368.7h0M635.2 395.5h0M634.2 394.5h0M624.7 333.3h0M635.7 397.7h0M628.4 343.4h0M611.6 353.1h0M629.2 348.2h0M621.3 396.3h0M630.2 362.4h0M623.8 355.6h0M614.8 378.6h0M617.1 332.7h0M611.8 366.1h0M608.9 352.3h0M633.5 350.6h0M617.6 340.2h0M634 386.9h0M642.2 396.2h0M630.3 352.5h0M614.1 386.6h0M606.6 369.3h0M618.6 364.6h0M620 373.4h0M620.4 361.9h0M616.7 342.7h0M628.9 359.6h0M622 378.7h0M627 397.4h0M624.7 385.5h0M626.7 359.5h0M618.7 357.5h0M634.4 385.7h0M631.3 361h0M616.7 339.2h0M633.1 357.4h0M617.3 372.1h0M617.5 366.6h0M624.5 335h0M613.7 379.2h0M627.7 357h0M634.6 357.1h0M622.6 343.7h0M625.6 387.8h0M634.4 360.8h0M620.3 400h0M628.5 345.2h0M638.6 344.1h0M620.9 333.4h0M634.8 383.6h0M611.8 371.8h0M629 394.7h0M627.6 390.6h0M632.7 355.9h0M633.8 359.4h0M618.1 386.9h0M620.8 373.1h0M629.4 351.7h0M631.1 368.3h0M624.3 382.3h0M614.4 352.5h0M612 367.2h0M630 365.5h0M630.7 346.3h0M632.3 372.3h0M623.2 385.5h0M630.6 390.1h0M628.8 379.1h0M612.7 353.8h0M624.3 345.5h0M614.9 343.9h0M628.5 384.7h0M634.6 396.8h0M618.1 383.2h0M617.3 357.1h0M618.5 362.1h0M611.9 343.6h0M629.8 369.5h0M628.3 365.8h0M628.2 374.5h0M616.8 368h0M630.4 394.4h0M633.7 382.8h0M622.1 346.7h0M637.2 393.1h0M631.8 382.4h0M612.7 337.2h0M618.1 383.2h0M622.9 354h0M628.9 394.5h0M623.9 391.3h0M621.2 353h0M621.4 369.1h0M616 367.7h0M626.8 354.5h0M635.1 377.2h0M626.9 362.3h0M614.6 374.5h0M611.3 382.2h0M607.3 355.2h0M615.5 369.1h0M622.2 376.6h0M637.1 397.7h0M610 384.7h0M615.4 383.6h0M619.9 389.9h0M630.1 347.7h0M632.2 353.2h0M635 379.3h0M633.7 379.9h0M619.1 349.6h0M623.8 344.7h0M631.2 349.8h0M623.8 367.3h0M610.7 379.7h0M614.4 386.3h0M620.7 355.1h0M633.4 392.2h0M628.6 344.8h0M615.7 336.6h0M628.7 365h0M615.8 357.7h0M626.2 356.3h0M622.7 360.3h0M622.3 354.3h0M634.1 385.5h0M618.5 358.1h0M615.5 350.8h0M629.3 358.6h0M621.6 372.7h0M626.6 341.1h0M630.7 340.3h0M624.1 394.1h0M621.8 335.2h0M625.9 359.7h0M636.8 373.7h0M631.3 397.9h0M608.4 364.9h0M624.7 369.4h0M633.8 383.6h0M627 378.3h0M620.2 377.4h0M624.9 369.2h0M631.5 378.3h0M612 383.9h0M622.4 384.3h0M632 388.5h0M630.5 339.4h0M612.8 349.7h0M623.5 396.3h0M624.1 384.5h0M621.6 365.1h0M616.3 369.4h0M617.3 371.4h0M613.8 362h0M620.7 352.3h0M624.5 386.8h0M628.3 353.1h0M631.4 394.1h0M634.5 356.6h0M636.4 375.3h0M624.9 377.5h0M621.6 342.3h0M624.3 335.5h0M619.2 374.6h0M611.3 358.8h0M630.5 344.3h0M628 350.3h0M617 374.3h0M625.3 340.2h0M627.6 360.7h0M630.5 365.7h0M630.8 387.1h0M631.3 343.9h0M633.4 389.1h0M609.7 361.2h0M628.9 376.6h0M630.6 350.4h0M613.2 376.8h0M622.4 363.3h0M625.8 337.6h0M624.9 379.2h0M622.1 364.2h0M621.8 356h0M627.7 370.9h0M612 348.1h0M627.1 358.5h0M618.8 334.3h0" stroke="#98C98B" stroke-width="1.2" stroke-linecap="round" fill="none"/>
<path d="M598 354 L598.8 351.8 L600 350 L601.3 348.6 L602.7 347.6 L604 347 L605.3 346.8 L606.7 347 L608 347.6 L609.2 348.9 L610 351 L610.5 354.4 L610.7 358.9 L610.7 363.9 L610.5 368.5 L610 372 L609.2 374.4 L608 376.2 L606.7 377.3 L605.3 377.9 L604 378 L602.7 377.4 L601.3 376.2 L600 374.4 L598.8 372.3 L598 370 L597.5 367.2 L597.3 363.7 L597.3 360.1 L597.5 356.8Z" fill="#1F6DAB" fill-opacity="0.7"/>
<path d="M600.8 359.7h0M600.1 362.2h0M611.6 361.8h0M601.9 366.9h0M607.5 366.6h0M612 365.4h0M610.4 368.7h0M604.7 350.5h0M600.9 377.4h0M603 376.5h0M602.9 357.1h0M605.3 358.8h0M598.5 353.8h0M611.5 358.8h0M600.2 365.4h0M608.4 367.1h0M599.6 371.1h0M602.5 361.8h0M603.9 360.7h0M599.6 369.4h0M600.6 373.8h0M600.8 379.1h0M605.8 364.7h0M606.6 351.1h0M602 374.4h0M605.8 372h0M608.9 365.8h0M607.6 358.3h0M597.8 360.4h0M598.3 363.1h0M609 344.5h0M596.1 350.6h0M602.7 378h0M604.1 359.1h0M611.2 363.9h0M604.5 352.7h0M605.5 351.3h0M608.8 360.4h0M598.8 354.1h0M604.9 351.7h0" stroke="#1F6DAB" stroke-width="1.2" stroke-linecap="round" fill="none"/>
<path d="M600 385 L601 384 L602.3 383.3 L603.7 383.1 L605 383.3 L606 384 L606.8 385.5 L607.4 387.7 L607.9 390.3 L608.1 392.9 L608 395 L607.4 396.9 L606.5 398.7 L605.3 400.3 L604.1 401.5 L603 402 L601.9 401.7 L600.7 400.8 L599.5 399.4 L598.6 397.7 L598 396 L597.9 394 L598.1 391.5 L598.6 388.9 L599.2 386.6Z" fill="#F1B06C" fill-opacity="0.92"/>
<path d="M607.9 396.2h0M599.6 390.7h0M602.9 386.1h0M606.3 395.1h0M610.1 396.7h0M607.8 387.1h0M602.6 386.6h0M598.9 391.4h0M598.9 401.8h0M606.5 390.3h0M608.9 399.3h0M608.4 392.8h0M601.4 400.3h0M602.1 389.3h0M600.5 395.9h0M600.3 384.4h0M601.3 392.3h0M605.5 382.3h0M604.6 392.9h0M603.2 383.4h0" stroke="#F1B06C" stroke-width="1.2" stroke-linecap="round" fill="none"/>
<path d="M628 410 L629.5 408 L631.6 406.4 L634.3 405.1 L637.2 404.3 L640 404 L642.9 404.2 L646 404.9 L649.2 406 L652.3 407.7 L655 410 L657.4 413 L659.6 416.8 L661.6 421 L663.4 425.5 L665 430 L666.4 434.8 L667.6 439.9 L668.6 445.1 L669.4 450.2 L670 455 L670.4 459.4 L670.7 463.6 L670.8 467.6 L670.6 471.4 L670 475 L669 478.4 L667.7 481.7 L666 484.8 L664.1 487.6 L662 490 L659.6 492.1 L656.8 493.8 L653.8 495.2 L650.8 496.3 L648 497 L645.3 497.3 L642.6 497.2 L639.9 496.8 L637.4 496.1 L635 495 L632.7 493.7 L630.4 492.1 L628.4 490.1 L626.5 487.8 L625 485 L623.9 481.6 L623 477.7 L622.4 473.5 L622.1 469.2 L622 465 L622.2 461 L622.7 457 L623.4 453 L624.2 449 L625 445 L626 440.9 L627.2 436.8 L628.4 432.6 L629.4 428.7 L630 425 L629.8 421.5 L629 418.2 L628.1 415.1 L627.6 412.3Z" fill="#1F6DAB" fill-opacity="0.92"/>
<path d="M642.5 409.7h0M661.1 471.6h0M623.3 466.1h0M641 493.1h0M626 412.2h0M638.2 481.1h0M633.9 485.5h0M634.3 424.7h0M627.5 473h0M660.2 447.6h0M644.9 453.8h0M637.6 414.4h0M626.2 478.5h0M638.9 418.5h0M653.6 446.3h0M637.6 407.7h0M656.6 473.4h0M652.2 485.5h0M642.5 452.4h0M657.8 494.3h0M627.8 447.7h0M665.1 451.8h0M649.7 409.1h0M648.9 420.5h0M655.1 486h0M669.5 474.8h0M620 449.5h0M648.4 461h0M641.9 450.9h0M653.8 461.7h0M651.9 455.2h0M648.2 495.6h0M640.1 416.5h0M645.3 443.6h0M636.8 447.1h0M640.1 442.2h0M643.3 435.2h0M641.6 449.2h0M657.8 467.5h0M655.8 487.2h0M646.2 448.9h0M660.2 419.6h0M627 469.9h0M632.8 444.7h0M631.8 442.8h0M641.8 455.6h0M649.4 407.8h0M641.8 431.3h0M661 442.9h0M650.7 457h0M650.9 439.6h0M658.1 438.7h0M642.6 481.1h0M643.1 460.8h0M641.2 441.4h0M643.3 465.6h0M629.8 449.3h0M630.3 425.9h0M663 483.5h0M631.5 488.3h0M665.8 451.2h0M639.8 423.7h0M634.5 453.3h0M630.6 420.5h0M650.5 418.7h0M624.3 456.8h0M643.4 467.6h0M641.5 405.8h0M634.3 489.5h0M655 436h0M627 439.1h0M641.8 455.1h0M646.5 497.5h0M627.7 470.1h0M632 481.4h0M651.6 441.1h0M662.9 417h0M666.8 462.8h0M637.8 461.3h0M636.6 473.8h0M633.4 463.3h0M663.7 488h0M641.5 493.5h0M659.2 466.8h0M654.6 420.2h0M623.4 464.7h0M628.4 456.5h0M635.1 452.5h0M646.7 475h0M632.9 438.7h0M634.6 481h0M668.4 451.8h0M642.7 424.4h0M636.7 439.1h0M651.4 464.3h0M658.8 456.7h0M634.2 460h0M637 477.4h0M628.3 420h0M670.8 473h0M633.7 473.3h0M664.9 466.2h0M653.6 489.1h0M623.5 459.2h0M641 465.8h0M636.6 448.8h0M658.4 443.5h0M628.6 416.1h0M663.7 437h0M626.1 480.2h0M647.8 441.7h0M629.8 430.5h0M642.3 460.2h0M633.8 451.8h0M652.8 486.1h0M662.6 444h0M655.4 456.7h0M631.9 463.7h0M650 440.5h0M638.3 483.7h0M620.5 468.9h0M659 487.8h0M645.9 438h0M632.5 453.3h0M623.3 470.3h0M653.2 415.6h0M655.6 447.7h0M640.8 425.6h0M628 473.2h0M646.1 478.7h0M644.1 496.6h0M635.9 411.5h0M629.9 482.5h0M633.4 442.6h0M649.9 485.3h0M642.2 460.4h0M638.1 448.8h0M662.8 445.3h0M661.2 429h0M636 476.9h0M628.5 471.9h0M641.9 462.4h0M630.4 440.9h0M637 467.4h0M667.7 449.8h0M650.5 455.6h0M659.9 442.3h0M654.9 479.1h0M665.4 440.6h0M638.7 487.1h0M640.2 446.8h0M639.5 474.1h0M642.8 462.2h0M637.1 442.4h0M633.4 447.6h0M628.4 481.2h0M639.7 440h0M623.1 475.9h0M630.8 465.6h0M632.9 479.4h0M634.6 436.7h0M629.5 436.4h0M642.6 481h0M663.3 468.3h0M663.6 443.7h0M649.1 489.1h0M631 408.8h0M651 446.1h0M653.1 440.5h0M645.3 428.8h0M637.4 408.9h0M660.3 415.2h0M650.5 433h0M629.8 475.2h0M632.9 434h0M653.4 454.6h0M634.4 420.4h0M662.7 438.3h0M661.2 484.1h0M643.4 481.3h0M629.1 434.2h0M656.8 475.4h0M651.5 492.2h0M639.4 426.9h0M653.1 410.6h0M644.7 471.5h0M639.6 435.7h0M664.2 423.3h0M658.3 419.4h0M659.2 481.1h0M622.9 471.7h0M631.9 450.9h0M633.7 464.2h0M662.7 428.3h0M632.5 432.5h0M642.1 412.7h0M652.4 488h0M646.8 492.2h0M657.2 467.7h0M669.8 450.1h0M627.8 451.3h0M657.1 489h0M627.3 406.3h0M644.6 469.5h0M650.8 429h0M643.3 436h0M662.8 427.8h0M669.3 441.5h0M640.6 431h0M641.2 413h0M660.8 472h0M638.5 409.4h0M633.3 492.3h0M656.8 464.5h0M625.1 477.1h0M643.4 444.5h0M636.9 450.7h0M657.1 447.4h0M637.1 430.4h0M655.3 408.8h0M653.7 481.3h0M651.4 477.6h0M649.5 429.4h0M648.1 424.3h0M657.4 446.3h0M652.4 429.2h0M621.2 470.1h0M666.2 431.1h0M625.4 467.1h0M636.7 420.2h0M636.1 415.5h0M638 493.9h0M664.8 449.1h0M659.8 438.2h0M632.4 454.3h0M655 457.8h0M639.6 406.2h0M640.1 453.2h0M632.1 417.2h0M661.9 440.4h0M639.2 454.1h0M639.1 483.1h0M646.7 492.5h0M663.8 438.1h0M665.9 470.1h0M668.5 440.6h0M656.8 471.4h0M658.3 425.1h0M656.1 455.7h0M660.4 485.1h0M647.6 413.2h0M669.9 451.5h0M666.6 473h0M629.9 464.2h0M649.1 471.1h0M654.4 485.4h0M653 439.2h0M630.7 447.7h0M643.4 493.3h0M652.8 449.6h0M636.7 474.4h0M661.2 487.3h0M651.5 488.1h0M660.5 433h0M619.7 468.2h0M662 432.6h0M660.9 472.1h0M655.2 455.3h0M635.2 442.8h0M633.5 476.7h0M656.6 427.8h0M651.3 417.5h0M659.3 489.1h0M654.8 450.2h0M643.6 432.9h0M635.9 420.1h0M632 439.4h0M658.2 421.8h0M633.7 464.2h0M657.9 468.9h0M663.8 486.7h0M657.5 470.7h0M625.8 454.5h0M663 455.3h0M628.2 461h0M627.9 430.7h0M625.1 440.2h0M650.4 477h0M660.2 437.5h0M644.4 403.5h0M652.7 469.3h0M644.6 450.5h0M645.5 477.9h0M667 455.4h0M630.2 450.7h0M662.6 445h0M647.9 451.5h0M629.5 482.1h0M656.7 488h0M666.6 464.2h0M662.5 462.1h0M632.5 439.8h0M654.2 439.5h0M643 492.8h0M640.9 436h0M655.8 445.1h0M662.4 424.7h0M632.4 430.3h0M629.3 450.9h0M642.9 442.6h0M635.2 426h0M635.9 478.6h0M656.4 493.1h0M631.3 412.1h0M637.2 431.4h0M630.2 480.8h0M642.5 452.5h0M641.7 449h0M634.3 487.9h0M649 409.3h0M655.7 465.7h0M626.6 474.9h0M650.5 427.9h0M634.9 479.8h0M633.5 448.2h0M643.1 491.1h0M652.4 496.8h0M670.4 455.7h0M633 472.2h0M667.8 443.1h0M662.5 465.2h0M628.1 429.3h0M668 461.3h0M656.9 422.7h0M647.7 440.1h0M651.2 470.9h0M661.3 484.6h0M654.5 461.1h0M635.3 481.2h0M629.3 474.9h0M635.6 413h0M633.3 448h0M655.8 485.1h0M638.7 481h0M660.8 485.4h0M626.8 416.2h0M643.8 490.3h0M653.9 453.5h0M649.2 424.5h0M633.7 429.8h0" stroke="#1F6DAB" stroke-width="1.2" stroke-linecap="round" fill="none"/>
<path d="M592 410 L592.8 407.6 L593.8 405.1 L595 402.5 L596.4 400 L598 398 L600 396.4 L602.2 395 L604.7 393.8 L607.3 392.8 L610 392 L612.8 391.2 L615.8 390.6 L618.9 390.2 L622 390 L625 390 L628.2 390.3 L631.5 390.8 L634.7 391.6 L637.6 392.7 L640 394 L641.8 395.7 L643.1 397.7 L644.1 400 L644.7 402.4 L645 405 L645 407.8 L644.6 410.9 L643.9 414 L643 417.1 L642 420 L641 422.7 L639.9 425.2 L638.6 427.6 L637 429.9 L635 432 L632.5 434 L629.6 435.8 L626.4 437.5 L623.1 438.9 L620 440 L616.9 440.8 L613.8 441.4 L610.7 441.7 L607.7 441.6 L605 441 L602.4 439.9 L600 438.3 L597.7 436.3 L595.7 434.2 L594 432 L592.7 429.8 L591.6 427.3 L590.8 424.8 L590.3 422.3 L590 420 L590 417.9 L590.2 416 L590.6 414 L591.2 412.1Z" fill="#EE7E2E" fill-opacity="0.92"/>
<path d="M603.6 402.6h0M609.7 399.5h0M625.6 426.3h0M629.3 398.7h0M594.9 405.4h0M643.5 416.7h0M614.7 412.4h0M615.7 435.5h0M597.8 410.5h0M600.7 431.3h0M641.9 414.8h0M602.6 418.6h0M640.7 391.7h0M599.1 416.1h0M629.3 409.4h0M642.5 406.8h0M623.7 407.9h0M616.7 404.6h0M624.9 410.9h0M599.1 402.5h0M612 402.7h0M599.9 416.7h0M623.9 421.3h0M595 412.9h0M644.4 408.5h0M643.1 399.6h0M619.4 398.8h0M608 427.3h0M637.5 413.4h0M630.5 413.3h0M595.8 426.5h0M622 421.1h0M604.1 430h0M591.9 418.8h0M600.2 436.3h0M631.8 414.7h0M604.6 399.3h0M600.4 400.3h0M613.2 438.5h0M598.2 412.2h0M613.3 420.5h0M606.5 428.6h0M611.7 395.3h0M633.5 423.5h0M614.4 408.9h0M623.7 400.5h0M604.4 432.6h0M609.4 403.3h0M633.1 397.2h0M631.5 431h0M627.3 406.3h0M640.1 414h0M602.6 409.5h0M605.5 393.7h0M631.4 416.8h0M627.6 406.1h0M607.3 403.9h0M621.8 400.6h0M599.2 414.8h0M612.5 416.2h0M611.9 400.7h0M632.6 401.4h0M615.7 404.5h0M599.1 398.1h0M609.5 407.2h0M588 423.4h0M618.4 423.7h0M597.4 434.4h0M616.5 420.4h0M598.8 426.5h0M592.7 425.7h0M606.3 410.5h0M608.9 421.9h0M601.6 405.2h0M639.5 413.7h0M640.1 407.5h0M639.2 398.1h0M634.4 417.6h0M633.5 422.3h0M611.8 396h0M636.6 433.1h0M606.8 432.5h0M619.7 441.4h0M625.8 433.7h0M593.9 406.6h0M644.6 410.2h0M613.4 415.2h0M606.1 432.8h0M635 393.5h0M604.9 434.9h0M639.2 409.9h0M597.8 417.6h0M604.6 430h0M609.8 423h0M635.8 423.1h0M618.6 392.9h0M621.7 413.1h0M612.5 394.4h0M599.2 422h0M602.7 413.8h0M620 399.3h0M605.7 425.2h0M618.9 413.5h0M606.4 389.2h0M633.1 419.4h0M626.7 431.5h0M604 419.8h0M593.7 409.5h0M599.3 405.7h0M634.2 430h0M630.8 429h0M605.4 399.1h0M624 432.7h0M604.9 405.3h0M620.5 409.9h0M628.5 436.1h0M604.1 398.2h0M637.5 414.4h0M632.2 434.4h0M630.6 418.3h0M610.8 411h0M635.7 411.3h0M616.6 430.9h0M623.9 437.3h0M599.9 409.5h0M606.1 416.8h0M632 396h0M614.6 413.9h0M604.7 432.1h0M589.1 419.7h0M615.8 410.4h0M610.1 392.4h0M629 417.5h0M623.1 393.2h0M600.6 423.3h0M621.1 409.8h0M611.4 409.9h0M623.3 403.6h0M603.3 392h0M620.5 437.9h0M623.7 426.2h0M634.2 400.6h0M596.6 413.7h0M591.6 409h0M600.5 433.6h0M612.3 393.4h0M630.8 405.2h0M622.5 394.1h0M642.1 403.7h0M630.9 392.6h0M596.5 412.2h0M628.6 419.2h0M606.1 416.4h0M631.8 419.1h0M605.5 415.3h0M604.3 436.7h0M625.4 412.4h0M619.3 427.4h0M624.6 407.5h0M617.1 435.9h0M629.5 394.9h0M603.9 426.9h0M609 400.2h0M620.4 428.5h0M616.6 436.3h0M601.8 418.7h0M597.8 437.6h0M619.2 428.8h0M611.7 405.5h0M615.4 432.9h0M611 443h0M623.5 429.5h0M636.3 407.9h0M627.6 429.4h0M595.1 412.8h0M640 406h0M608 436.2h0M612 412.7h0M605.3 436.5h0M597.3 397.3h0M628.2 437h0M639.7 408.7h0M598.1 396.6h0M605 393.2h0M603.5 405.1h0M591 427.6h0M631.1 427.7h0M634.6 409.7h0M628.7 391.7h0M624.8 407.1h0M624.8 399.3h0M609.3 400h0M611.1 437.9h0M617.7 414.3h0M625 414.6h0M624.9 427.2h0M597.2 416.8h0M629.5 424.9h0M612.1 404.4h0M628.5 400h0M620.5 421h0M611.5 405.5h0M632.4 409.9h0M629.1 431.5h0M605.9 407.2h0M622.8 404h0M636.2 408.6h0M601.2 396.4h0M642.5 400.9h0M619.3 407.4h0M621 423.8h0M614.2 389.9h0M627 436.5h0M590.9 422.1h0M600.9 431.7h0M637.3 393.4h0M636.4 424.7h0M627.2 414.1h0M594.4 419.9h0M630.8 429.8h0M615.4 416.1h0M607.3 396.3h0M621.4 398.6h0M617.1 393.2h0M620.3 422.8h0M613.1 399.6h0M624.9 431.8h0M597 405.7h0M605.4 396h0M618.4 429.8h0M595.9 423.1h0M618.4 393.9h0M632.3 411.2h0M631.6 411.1h0M638.7 401.5h0M639.1 428.8h0M638.1 419.4h0M626.4 404.7h0M615.3 443h0M603 394h0M606.8 419.5h0M608.3 434.2h0M611.1 422.5h0M617.4 427.6h0M602.2 436.8h0M639.2 421.5h0M615.5 424.7h0M595.3 430.2h0M632 397.7h0M614.9 414.5h0" stroke="#EE7E2E" stroke-width="1.2" stroke-linecap="round" fill="none"/>
<path d="M582 445 L583 442.9 L584.4 440.9 L586 439.1 L587.8 437.5 L590 436 L592.6 434.6 L595.5 433.4 L598.7 432.3 L601.9 431.5 L605 431 L608.1 430.9 L611.2 431.1 L614.4 431.5 L617.3 432.2 L620 433 L622.4 434 L624.7 435.1 L626.8 436.4 L628.6 438 L630 440 L631 442.5 L631.7 445.5 L632 448.8 L632.1 452 L632 455 L631.7 457.8 L631.3 460.5 L630.5 463.2 L629.5 465.7 L628 468 L626 470.2 L623.5 472.4 L620.8 474.3 L617.9 475.9 L615 477 L612.1 477.5 L609 477.6 L605.9 477.2 L602.8 476.7 L600 476 L597.3 475.2 L594.7 474.2 L592.3 473.1 L590 471.7 L588 470 L586.2 468 L584.5 465.7 L583 463.2 L581.8 460.6 L581 458 L580.6 455.4 L580.5 452.7 L580.7 450 L581.2 447.4Z" fill="#8FC1DC" fill-opacity="0.92"/>
<path d="M608 469.8h0M608.9 478.7h0M593 439.8h0M593.3 437.8h0M596 442.5h0M616 469.4h0M591.1 447.2h0M610.8 448.4h0M615.2 438.1h0M611.2 436.3h0M626.1 463.4h0M608.1 443.7h0M617.9 462.9h0M600.9 457.8h0M623.3 451.1h0M590.7 435.3h0M600.1 434.2h0M615.3 456.4h0M626.9 458.1h0M614.7 447.5h0M631.6 447.9h0M602.4 469.3h0M605.8 474.4h0M609.3 461.5h0M616.4 463.5h0M592.5 462.1h0M611.2 450.8h0M613.7 452.7h0M583.9 466.4h0M602.7 468.1h0M622.3 437.4h0M595.6 448.6h0M589.4 440.6h0M611.9 458.4h0M605.7 449.8h0M624.5 468.9h0M612 446.6h0M597.4 438h0M589.5 445.3h0M623.8 455.3h0M597 449h0M620.5 444.6h0M617.2 462.8h0M592.3 459.7h0M612.7 452h0M631.8 444.7h0M625.1 463.1h0M607.3 471.3h0M616.4 469.9h0M592.1 438.6h0M618.4 438.7h0M598.8 464.8h0M616.3 440.7h0M591.7 463.1h0M612.3 440.6h0M589.6 452.5h0M605 438.6h0M586.2 441.1h0M610.8 440.5h0M604.2 441.3h0M617.5 463.6h0M613.4 466.7h0M623.2 437.3h0M595.3 460.7h0M610.3 447.5h0M631.3 445.4h0M617.3 441.1h0M619 469.6h0M606.2 437.2h0M632.3 456.1h0M626.7 464.2h0M583.7 442.9h0M608.6 463.3h0M620.2 437.8h0M606.8 431.8h0M598.8 450h0M620.8 439.2h0M601.7 439.5h0M611.2 449.7h0M615.9 473.3h0M617.1 471.1h0M633.8 451h0M617 441.8h0M597 437.6h0M594.4 440.9h0M591.5 449.6h0M597.8 441.8h0M609.6 462.1h0M595.5 452h0M586.1 468.3h0M613.1 467.3h0M601.7 463h0M601.8 443.8h0M587 457.3h0M609.7 468.8h0M610.8 453.6h0M604.4 453.1h0M623.6 446.6h0M585.5 459h0M586.8 466.5h0M601.6 458.3h0M587.3 455.6h0M610.3 466.8h0M626.3 446h0M602.2 441.5h0M594 447.5h0M598.8 472.2h0M619.5 439h0M587.9 439.3h0M613.9 456.3h0M607.6 450h0M607.4 451h0M595.6 468h0M598.1 458.1h0M627.4 464.1h0M612.6 439.7h0M586 464.5h0M612.2 453.3h0M588.8 452.7h0M593.9 446.4h0M622.6 442.5h0M625.7 459.2h0M624.2 473.7h0M592.3 458.3h0M612.8 448.6h0M613 441.9h0M619.6 458.5h0M589.8 465.5h0M605.2 475.4h0M590.2 449.8h0M590 445.4h0M608.6 450.8h0M616.3 436.2h0M607.8 436.8h0M627.6 451.3h0M618.5 460h0M583 453.4h0M585.7 447.1h0M617.7 440.7h0M607.7 452.6h0M619.3 442.3h0M603.5 444h0M587.5 461.3h0M624.9 445.8h0M624.7 462.2h0M609.8 450.1h0M608.2 439.9h0M612 464.6h0M584.9 464h0M600.8 448.7h0M578.5 450.4h0M609.3 454.1h0M616.4 476.5h0M591.5 448.7h0M623.1 452.5h0M610.1 442.4h0M606.3 449.1h0M600.6 445.6h0M621 436.6h0M624.1 459.1h0M582.7 444.2h0M601.5 439.2h0M605.2 449.2h0M619.4 450.9h0M606.1 436.7h0M606.8 465.2h0M620 442.2h0M611.8 442h0M603.2 450.5h0M585.7 454.6h0M592.1 452.3h0M626.1 456.8h0M605.3 445.6h0M601.1 458.9h0M583.3 445.1h0M585.1 463.4h0M588.2 444.2h0M611.3 452.7h0M608.6 470.1h0M614.2 469.5h0M623.3 438h0M607.2 475.5h0M586.3 462h0M590.8 444.2h0M603.5 441.6h0M623.6 451.8h0M605.5 451.9h0M608.7 432.4h0M608.2 472h0M586.9 457.2h0M584 465.1h0M585.3 460h0M606.2 460.6h0M607 466.3h0M593.8 445.7h0M596.9 445h0M596.5 473h0M592.5 471.5h0M633.5 441.7h0M610.7 445.9h0" stroke="#8FC1DC" stroke-width="1.2" stroke-linecap="round" fill="none"/>
<path d="M565 480 L566.3 477.2 L568.1 474.9 L570.2 472.9 L572.5 471.3 L575 470 L577.7 469 L580.6 468.4 L583.8 468.1 L586.9 468 L590 468 L593.1 468 L596.2 468.2 L599.4 468.6 L602.3 469.2 L605 470 L607.4 471.1 L609.6 472.3 L611.5 473.9 L613.3 475.7 L615 478 L616.5 480.8 L617.9 484 L619.2 487.6 L620.2 491.3 L621 495 L621.6 498.9 L622 503 L622.3 507.2 L622.3 511.3 L622 515 L621.5 518.4 L620.8 521.7 L619.8 524.8 L618.5 527.6 L617 530 L615.1 532 L612.8 533.7 L610.4 535 L607.7 536.1 L605 537 L602.2 537.7 L599.2 538.2 L596.1 538.4 L593 538.3 L590 538 L586.9 537.3 L583.7 536.4 L580.5 535.2 L577.6 533.7 L575 532 L572.9 530.1 L571.1 528 L569.5 525.7 L568.2 523 L567 520 L566 516.5 L565.2 512.6 L564.7 508.4 L564.3 504.1 L564 500 L563.8 495.8 L563.7 491.5 L563.8 487.3 L564.2 483.4Z" fill="#F1B06C" fill-opacity="0.92"/>
<path d="M605 470.2h0M614.1 507.6h0M600 501.5h0M602.3 540h0M602.2 492.9h0M589.5 499.9h0M573.4 510.4h0M578.7 533.2h0M572.8 498.4h0M615.4 482.6h0M622.2 500h0M605.4 508.3h0M610.1 488.8h0M604.6 488.6h0M611.3 477.9h0M574.8 498.7h0M606.7 490.3h0M595 516.2h0M575.8 480.4h0M585.8 487.2h0M577.2 509.7h0M619.3 501.4h0M611.6 514.9h0M621 519.6h0M577.1 471.1h0M609.7 508.4h0M615.6 495.2h0M614.1 530.1h0M601.9 532.2h0M561.2 500.3h0M587.5 476.8h0M594.7 478.5h0M567.2 517.8h0M605 524.1h0M604.4 489.1h0M583.3 485.1h0M608.3 517.4h0M571.7 501.9h0M612 505.1h0M600.9 491.4h0M590 534.5h0M608 512.3h0M596.3 472.8h0M600.1 508.2h0M615.2 494.6h0M578.6 508.8h0M586.4 501.6h0M611.7 519.4h0M596.9 484.8h0M595.1 474.7h0M599.5 528.2h0M604.2 507h0M606.5 495.5h0M563.3 495.4h0M604 495.4h0M581.3 482.5h0M610.6 525.8h0M610.1 504.6h0M574.9 510.7h0M612.5 497.2h0M577.6 514.6h0M600 484.7h0M609.3 499.5h0M574.1 498.3h0M595.7 479.1h0M587.7 512.7h0M585.8 468.8h0M611.3 519.7h0M566.9 517h0M600.8 536.3h0M600.2 505.2h0M592.6 476.3h0M598.6 500.6h0M587.6 538.9h0M569.1 503.7h0M593.9 527.6h0M595.4 494.6h0M615.8 485.9h0M603.5 469.2h0M592.9 493.4h0M593.8 515.2h0M616.5 485.4h0M570.7 518.8h0M587.3 474.3h0M572.1 477.3h0M580.4 522.6h0M582.3 491.1h0M611.2 492.2h0M600.4 527.3h0M574.1 473.6h0M574.5 487h0M609.4 506h0M616.2 488.3h0M586.3 527h0M616.1 515.9h0M585.4 485.1h0M608.2 520.4h0M593.4 529.5h0M604.2 514.4h0M601.3 472.3h0M578.3 488.9h0M582.8 497.5h0M571.3 516.3h0M581.4 481.3h0M601.6 472h0M578.4 481.8h0M587.5 508.6h0M577.3 490.4h0M583.2 471.6h0M574.7 520.8h0M590.4 512.1h0M596.2 530.3h0M592.3 486h0M573.5 516.3h0M598.9 512.8h0M596.5 480.4h0M611.2 534.9h0M596 522.7h0M575.8 496.2h0M613.1 499.1h0M581.6 473.7h0M573.4 502.3h0M581.2 499.1h0M589.7 518.8h0M617.5 522h0M587.8 532.8h0M574.6 500.2h0M587 523.8h0M581.3 513.2h0M618.3 487.6h0M577 471.6h0M595.5 523.2h0M611.3 519.5h0M605.9 521.6h0M594.6 487.1h0M586.8 537.7h0M577.6 485.2h0M608.7 519.4h0M610.7 511.3h0M569.9 477.2h0M581 504.6h0M609.1 509.1h0M592.4 473.1h0M589.1 505.8h0M603.9 483.7h0M582.6 524.3h0M581.6 478.6h0M607.7 519.1h0M609.4 507.2h0M579.8 505.5h0M578 514.3h0M620.1 498.9h0M606.3 532.2h0M606.3 499.3h0M574.8 489.6h0M614.3 515h0M619.1 511.7h0M607.9 484h0M571.5 501.9h0M615.2 518.3h0M572.2 509.8h0M576.3 503.4h0M608 474.1h0M577.9 503.4h0M590.4 486h0M595 524.2h0M575.4 499.7h0M588.6 489h0M587.4 508.4h0M603.5 520h0M586.8 481.1h0M567.8 496.5h0M589.8 515h0M579.1 494.5h0M587.6 532.2h0M580.6 510.3h0M562.7 506.9h0M596.9 509.8h0M590.3 483.5h0M580.8 522.4h0M614.4 531.7h0M605 520.8h0M596.2 518.3h0M618.1 523.1h0M616.4 485.9h0M604.6 489h0M580.6 525.1h0M598.9 520.4h0M599.6 516h0M585.1 518.8h0M573.4 496.4h0M577.4 497.2h0M615.7 486.7h0M573.8 497.4h0M578.1 496.1h0M619.7 527.3h0M577.6 525.4h0M569.6 498.2h0M596.8 473.9h0M605.9 532h0M581.7 481.5h0M615.2 481.2h0M589.2 491.7h0M609.8 486h0M599.4 527.7h0M590.1 510.6h0M587.8 465.9h0M591.2 473.4h0M579.5 475.9h0M593.8 486.1h0M580.3 535.1h0M611.6 529.9h0M584.9 538.6h0M593.1 490.4h0M572.2 503h0M586.7 489.7h0M601.7 526.1h0M574.3 490h0M594.5 498h0M577.1 499h0M597.3 481.8h0M596.1 512.8h0M603 501.8h0M573.5 522.1h0M572.8 505.3h0M571.3 509.7h0M604.1 490.2h0M573.7 496.8h0M564.7 492.6h0M582.3 501.5h0M579.6 501.3h0M578.8 488.8h0M607.5 484.2h0M567.3 492.9h0M602.1 523h0M584 477.8h0M567.5 498.2h0M610.4 490.3h0M613 511.1h0M619 476.7h0M579.4 470.6h0M617 482.9h0M600.3 469h0M596.6 528.3h0M563.8 486h0M603.8 490.7h0M596.9 490h0M575.3 526.1h0M604.1 481.3h0M599.9 514.7h0M590.3 504.7h0M592 523.7h0M566.9 506.3h0M606.8 512.1h0M566.7 499.6h0M620.3 489.5h0M591.9 502.8h0M590.5 492.8h0M591.4 482.3h0M604.6 489.2h0M596.6 522.2h0M568.6 518.8h0M574.5 477.8h0M575.6 516.9h0M588.1 511.2h0M600.6 495.2h0M588.8 476.7h0M585.7 506.3h0M602.4 530h0M577.3 482.7h0M615.5 521.5h0M592.1 514.8h0M588.3 530.9h0M615.5 519.8h0M602.7 487h0M565 496.1h0M583 526.7h0M567 507.4h0M582.7 492.2h0M569.3 513.3h0M594.8 481h0M592.4 479h0M571 495.8h0M579.6 500.1h0M600.6 468.3h0M596.1 475.4h0M568.9 518.8h0M599.5 527.7h0M574 475h0M570.9 492.3h0M598.6 537.4h0M575 531.1h0M607.3 466.3h0M577.5 494.7h0M606.4 484.4h0M610.3 494.6h0M615.1 503.5h0M610.2 514.2h0M578.5 522.1h0M617.3 500.9h0M569.2 502.3h0M601.4 480.9h0M579.3 492.3h0M598 515.6h0M608.8 517.8h0M580.1 531.2h0M570.9 518.8h0M605.9 519.5h0M589.4 502.8h0M623.7 510.4h0M564.7 514h0M577.3 512.9h0M593.5 475.2h0M594.6 487.3h0M603.5 483.3h0M599.4 471.2h0M589.7 498.5h0M589 468.1h0M586.4 516.9h0M582.7 510.2h0M617.5 501h0M574.3 506.3h0M584.3 499.3h0M613.1 491.8h0M567.8 495.7h0M607.5 498.4h0M569.3 521.7h0M609.6 489.2h0M609.6 520.3h0M577.9 485h0M585.9 513.6h0M617.2 489.6h0M598.7 499.8h0M578.9 508.4h0M590.9 532.1h0M611.3 481.9h0M582.9 512.8h0M600.1 527.1h0M586.3 519.9h0M591.3 487h0M573.7 529.4h0M611.8 522.8h0M592.3 501.7h0M594.4 532.6h0M617.9 500.6h0M589 494.2h0M607.4 477.6h0M566 504.2h0M608.8 496.7h0M610.8 487.5h0" stroke="#F1B06C" stroke-width="1.2" stroke-linecap="round" fill="none"/>
<path d="M540 455 L541.5 452.3 L543.3 450 L545.3 448.2 L547.6 446.5 L550 445 L552.7 443.6 L555.6 442.5 L558.8 441.5 L561.9 440.7 L565 440 L568.1 439.2 L571.4 438.3 L574.6 437.6 L577.6 437.5 L580 438 L581.9 439.4 L583.4 441.4 L584.5 444 L585.4 446.9 L586 450 L586.3 453.6 L586.3 457.7 L586 462 L585.6 466.2 L585 470 L584.3 473.4 L583.5 476.6 L582.6 479.6 L581.4 482.4 L580 485 L578.4 487.4 L576.6 489.7 L574.6 491.8 L572.4 493.6 L570 495 L567.3 496.1 L564.2 496.8 L561 497.2 L557.9 497.3 L555 497 L552.3 496.3 L549.7 495.2 L547.2 493.8 L545 492.1 L543 490 L541.3 487.6 L539.7 484.8 L538.5 481.7 L537.5 478.4 L537 475 L536.9 471.2 L537.2 466.9 L537.9 462.5 L538.8 458.4Z" fill="#D9232D" fill-opacity="0.92"/>
<path d="M557.3 469.6h0M573.8 472.2h0M571.4 483.7h0M547.1 480.8h0M575.8 466.7h0M547.1 456.9h0M577.9 463.7h0M539 472.5h0M542.9 450.4h0M554.3 474.3h0M573.2 486.6h0M571.1 468h0M550.9 451.8h0M564.2 478.6h0M580.2 445.4h0M557.3 471.2h0M553.7 453h0M555.4 489.9h0M550.9 470.3h0M576.9 480.3h0M571.8 489.8h0M558.9 458.3h0M573.2 485.8h0M548.6 491.4h0M563.3 464.6h0M567.5 460.1h0M554.4 489.8h0M539.1 463.2h0M557.8 473.2h0M544.5 481.5h0M560.3 449.7h0M573.4 454h0M570.8 442.7h0M555.6 490.7h0M553.6 473.5h0M584.6 462.9h0M582.1 482.4h0M553.2 480.7h0M578.4 463.7h0M545.4 483.7h0M562.9 485h0M563.4 449.4h0M552.8 472.8h0M573.7 477.7h0M573.1 487.1h0M538.5 468.1h0M537.3 469.6h0M576.1 465.6h0M579.2 451.9h0M563 447.8h0M587.1 473.9h0M548.5 466.9h0M570.5 483.6h0M578.9 461.1h0M576.6 449h0M574.1 477.7h0M564.9 460.7h0M572.8 448.9h0M569.8 442.5h0M547.3 471.8h0M583.1 465h0M552.7 487.7h0M565.5 496.8h0M551.7 493.4h0M545.6 490.6h0M573 484.3h0M556.3 485.2h0M566.5 465.4h0M564.4 483.7h0M570.1 481.8h0M569.3 442.1h0M568.4 467.9h0M577.3 489.4h0M569.7 486.8h0M555.4 473.6h0M560.9 492.4h0M541 463.8h0M550 452h0M537.7 475.4h0M563.3 484.8h0M577 455.1h0M569.5 489.4h0M564.6 498.5h0M543.4 470.9h0M548.9 498.2h0M551.5 485.7h0M570.3 444.1h0M574.2 486.9h0M546.9 490.4h0M540.8 472.4h0M555.6 482.6h0M567.8 463h0M574.1 457.9h0M574.5 446.3h0M578.7 461.9h0M579.2 481.6h0M554.6 493.5h0M553.9 484.8h0M548 457h0M573.8 471.9h0M569.8 479.3h0M559.2 470.4h0M564.1 480.1h0M573.3 443.8h0M570.7 482.1h0M561.1 447.5h0M560 463.7h0M549 477.1h0M565.8 475h0M537.7 467.1h0M563 473.2h0M547.2 479.4h0M565.9 489.9h0M567.2 439.6h0M564.9 497.2h0M555.3 477h0M572.5 456.3h0M547.8 493.8h0M567 466.5h0M563.4 448.9h0M570.2 468.5h0M560.5 476.7h0M575.5 455.3h0M547.6 483.1h0M583.6 442.6h0M568 445.4h0M566 479.3h0M578.8 451.5h0M571.5 459.6h0M562.4 469.6h0M553 462.4h0M558.2 463.4h0M579 446h0M550.9 467.3h0M552.4 453.5h0M574.8 453.8h0M539.2 471h0M576.2 451.7h0M550.7 473.1h0M565 481.1h0M552.2 494.6h0M566.5 459.7h0M569.7 451.9h0M549.6 458.9h0M556.8 478.1h0M577.8 476.6h0M555.3 477h0M550.4 457.3h0M539.7 471.4h0M560 441.3h0M574.3 470.8h0M557.8 496h0M572.6 443.7h0M584.7 455.7h0M561.2 489.5h0M574.7 474h0M557.9 451.5h0M579.4 480.2h0M551.1 475.7h0M543.5 462.8h0M576 440.7h0M564.5 450.7h0M570.1 475.3h0M557.3 444.4h0M579 440.9h0M576.3 461.5h0M580.8 459h0M538.9 465.4h0M562.3 476.2h0M587.8 451.4h0M576.4 441.9h0M575.6 452.5h0M567.4 467.8h0M561.7 457.8h0M559.6 489h0M581.7 444.1h0M539.5 458.1h0M547 481h0M550.2 446.6h0M553.1 464.8h0M556.3 474.7h0M554 458.1h0M558.2 471h0M559.4 454.8h0M550.9 443.8h0M554.8 485.6h0M576.8 458h0M546 465.1h0M554.8 448.6h0M568.9 449.2h0M555.4 461.8h0M569.2 442.7h0M567.7 458.9h0M563 469.5h0M557.2 468.8h0M567.9 478.9h0M557.5 452.9h0M583.2 485.5h0M570.1 447h0M552.9 467.2h0M544.2 481.3h0M555.3 462.1h0M577 475.6h0M566.8 457.8h0M576.6 474.4h0M565.5 463.4h0M537.8 467.5h0M548 465.7h0M565.6 466.3h0M560.5 473.3h0M584.8 442.8h0M546.1 476.4h0M568.1 438.7h0M561.1 491.6h0M536.2 463.6h0M578.2 472h0M541.8 475.3h0M566.5 473.3h0M562.5 450.5h0M561.3 481.7h0M549.7 494.6h0M556.1 493.9h0M563 471.6h0M565.2 458.2h0M573.9 464h0M582.9 450.7h0M563.9 460.4h0M575.4 449.4h0M563.5 481.1h0M541.7 470.3h0M582.3 459.7h0M543.2 480.8h0M537.3 456.2h0M569.3 487h0M545 470.5h0M564.1 493.8h0M571.4 473.9h0M552.7 463.6h0M577.7 459.6h0M539.7 457.3h0M561.9 440.1h0M560.2 475.5h0M577 470.3h0M564.2 483.5h0M563.2 446.9h0M574.6 451.9h0M576.4 445.1h0M553.1 466.7h0M552.9 473.9h0M561.8 446.3h0" stroke="#D9232D" stroke-width="1.2" stroke-linecap="round" fill="none"/>
<path d="M512 470 L513 467.9 L514.4 465.7 L516 463.6 L517.8 461.6 L520 460 L522.6 458.7 L525.7 457.6 L529 456.7 L532.1 456.2 L535 456 L537.6 456.1 L540.1 456.5 L542.4 457.2 L544.4 458.4 L546 460 L547.1 462.2 L547.7 465 L548 468.1 L548.1 471.5 L548 475 L547.7 478.8 L547 482.9 L546.2 487.1 L545.5 491.2 L545 495 L544.9 498.4 L545 501.7 L545.2 504.7 L545.3 507.5 L545 510 L544.4 512.2 L543.7 514.1 L542.7 515.8 L541.5 517.1 L540 518 L538 518.5 L535.6 518.6 L533 518.4 L530.4 517.9 L528 517 L525.8 515.8 L523.7 514.2 L521.6 512.3 L519.7 510.2 L518 508 L516.5 505.7 L515.1 503.2 L513.8 500.5 L512.8 497.8 L512 495 L511.4 492 L511.1 488.9 L511 485.7 L511 482.7 L511 480 L511 477.7 L510.9 475.6 L511 473.8 L511.3 471.9Z" fill="#2E9446" fill-opacity="0.92"/>
<path d="M526.3 514.1h0M544 465.6h0M515.6 496.4h0M533.1 499.3h0M525.3 480.4h0M535.2 512.6h0M546.5 493.9h0M515.9 470.4h0M523 486.4h0M522.7 463.2h0M517.8 494.1h0M522.4 466.1h0M543.7 499.1h0M528.8 460.6h0M531.1 474.1h0M524 460.3h0M530.2 509.5h0M529.2 507.8h0M519.1 493.3h0M536.3 487.9h0M536.9 472.7h0M514.9 489.1h0M530.3 497.5h0M542 487.2h0M514 487h0M532.8 466.2h0M529.4 488.8h0M522 469h0M536.5 454.7h0M530.8 492.6h0M514.4 476.3h0M548.5 469.6h0M528.6 474.5h0M544.2 458.1h0M528 516.6h0M525.8 465.1h0M532.1 482.6h0M522.5 479.4h0M514.1 466.8h0M545.1 485.5h0M524.7 512.9h0M534.9 472.3h0M530.5 489.1h0M536.5 498.6h0M540.6 497.8h0M523.2 482.8h0M540.1 490.8h0M544.9 472.3h0M517.2 501.6h0M534.8 479.2h0M516.8 498h0M538.1 500.2h0M529 490.9h0M532.7 480.5h0M514.1 483h0M538.2 455h0M531.1 470h0M525.4 472.2h0M531.1 469.1h0M540 471.5h0M526.1 507.1h0M525.7 465.2h0M514.5 487.5h0M517.2 493.3h0M529.5 512.4h0M546.3 477.7h0M537.5 476.9h0M522.8 501.7h0M532.6 457.5h0M514.5 474.1h0M533.7 498.8h0M532.4 471h0M544.2 460.2h0M528.2 512.8h0M519.3 503.6h0M541.6 474.9h0M521.4 508.4h0M536.7 512h0M519.3 499.2h0M544 478.9h0M531.9 470.9h0M543.6 479.5h0M515.1 466.8h0M525.9 484.1h0M537.9 493.1h0M538.9 494.8h0M527 468.9h0M540.8 501.8h0M534.1 468.9h0M519.4 485.6h0M527.2 493h0M536.7 489.3h0M526.8 507.8h0M534.9 515.9h0M533.2 463.6h0M527.3 496h0M515.2 496.7h0M522.5 505.2h0M510.8 486.6h0M528.2 454h0M517.4 466.4h0M513.4 481h0M510.8 476.3h0M543.5 476h0M515.4 497.9h0M510.8 483.7h0M530.8 480.1h0M534 475h0M522.3 492.4h0M530.6 504.9h0M529.4 498.6h0M532.4 511.6h0M527.8 480.1h0M546.7 496.6h0M531.8 516.1h0M520.8 505.6h0M523.2 500.1h0M530 493.8h0M512.7 499.9h0M519.5 497.7h0M528.8 499.9h0M542.5 459.7h0M546.1 486.1h0M522.1 478.8h0M516.4 473.1h0M528.7 471.1h0M525.9 482.6h0M537.6 459.8h0M526.4 506.8h0M521.3 491.7h0M522.6 511.9h0M521.3 509.6h0M533 507.7h0M523.4 497.2h0M539.5 465h0M530.9 494.1h0M526.1 488.8h0M536.4 502.3h0M516.9 500.8h0M534 497.8h0M543.5 501.3h0M542.4 501.6h0M509.2 479.8h0M527.5 495.3h0M513.1 471.4h0M522.5 497.7h0M533.4 467.5h0M534.7 493.3h0M537 467.3h0M545 514.5h0M533.2 480.2h0M539.5 518.6h0M545.8 467.8h0M535.1 460.6h0M533.3 510.9h0M518.4 476.2h0M543.2 491.9h0M533.4 467.4h0M546 478.8h0M527.9 467.2h0M511.7 474.3h0M526.7 509.7h0M522 471.3h0M548.6 501.2h0M521.4 466.4h0M524.1 489.5h0M515.9 494h0M517.3 489.8h0M522.8 484.8h0M523.3 471.7h0M530.1 502.5h0M534.8 453.9h0M529.1 473.3h0M541.9 493.2h0M539.4 483.9h0M528 487.5h0M517.7 492.8h0M540.7 490.7h0M513.5 502.2h0M527.9 484.4h0M533.7 493.4h0M531.5 456.8h0M528.2 512h0M521.3 489.3h0M510.1 474.5h0M536.7 501.2h0M546.2 476.3h0M523.9 469h0M524.5 497.7h0M532.3 496h0M540 476.4h0M525 490h0M528.6 461.9h0M512.1 483.6h0M522.4 486.7h0M546.1 506.5h0M539.1 487.9h0M544.7 513.8h0M516.1 500.3h0M535.1 454.8h0" stroke="#2E9446" stroke-width="1.2" stroke-linecap="round" fill="none"/>
<path d="M494 472 L494.5 470.4 L495.5 469.1 L496.8 468.2 L498.4 467.5 L500 467 L501.9 466.7 L504.1 466.5 L506.4 466.7 L508.4 467.1 L510 468 L511 469.5 L511.7 471.4 L512 473.7 L512.1 476 L512 478 L511.7 479.9 L511.1 481.8 L510.3 483.5 L509.3 485 L508 486 L506.3 486.6 L504.1 486.8 L501.9 486.7 L499.7 486.1 L498 485 L496.7 483 L495.5 480.3 L494.6 477.2 L494.1 474.3Z" fill="#B6A5CA" fill-opacity="0.92"/>
<path d="M502.1 469.4h0M495.6 477.4h0M496 478.3h0M504.3 471h0M503.6 484h0M496.8 470.3h0M505.3 467.6h0M502.6 482.6h0M513.8 479.3h0M502.9 487.8h0M498.7 471.2h0M500.4 483h0M496 465.9h0M496.4 472.4h0M507.6 483.5h0M499.3 474.9h0M505.1 470.6h0M507 473.8h0M502.7 468.9h0M494.9 473.4h0M500.4 483.9h0M508.9 471.7h0M509.9 476.8h0M503.9 464.8h0M504.2 469.5h0M506.8 481.6h0M493.2 471.6h0M511.2 477.3h0M501.8 471.6h0M497.2 477.4h0" stroke="#B6A5CA" stroke-width="1.2" stroke-linecap="round" fill="none"/>
<path d="M537 510 L537.7 507.4 L539 504.9 L540.9 502.8 L543 501.1 L545 500 L547.1 499.5 L549.3 499.6 L551.7 500 L553.9 500.9 L556 502 L557.9 503.4 L559.8 505.3 L561.4 507.4 L562.9 509.7 L564 512 L564.8 514.6 L565.4 517.4 L565.7 520.3 L565.6 522.9 L565 525 L563.7 526.5 L561.9 527.5 L559.7 528.3 L557.3 528.7 L555 529 L552.6 529.2 L550.1 529.4 L547.5 529.2 L545 528.5 L543 527 L541.2 524.4 L539.5 520.9 L538.1 517 L537.2 513.2Z" fill="#E58B8B" fill-opacity="0.92"/>
<path d="M544.5 527.4h0M547 504.2h0M539.8 507.2h0M555.9 524.3h0M557.3 508.4h0M539.7 511.9h0M554.5 522.3h0M552.9 518.1h0M557.5 514.4h0M542.3 505.5h0M543.4 529.2h0M550.5 528.2h0M540.4 512.1h0M546.3 522.1h0M551.1 498.6h0M547.5 509.4h0M553.2 526h0M556.6 522.2h0M535.9 508.7h0M560.1 514.8h0M546.3 520.9h0M566.7 520.2h0M545.4 515.7h0M539.9 513.6h0M538.2 514.5h0M541.8 503.1h0M558.2 512.3h0M541.3 514.6h0M556.6 509h0M545.8 511.8h0M550.8 520.4h0M565.5 527.9h0M551.3 520h0M542.8 523.4h0M554.4 515.4h0M550.4 513.2h0M559.3 510h0M563.4 521.5h0M564.4 523.9h0M558 518.9h0M553.6 521.3h0M564.5 520.7h0M541.1 520h0M554.3 520.9h0M552.5 531.5h0M550.9 510.8h0M555.9 502.3h0M558.2 524.5h0M541.9 521.2h0M555.7 509.2h0M557.7 507.2h0M557.2 519.6h0M557.5 514.3h0M558.6 526.1h0M553.8 510.9h0M549 514.3h0M554.6 514.5h0M538.3 519.7h0M549.6 513.3h0M557.7 524.3h0" stroke="#E58B8B" stroke-width="1.2" stroke-linecap="round" fill="none"/>
<path d="M458 425 L458.7 423.2 L459.8 421.5 L461.2 420 L462.9 418.8 L465 418 L467.5 417.6 L470.6 417.6 L473.8 417.9 L477.1 418.4 L480 419 L482.7 419.8 L485.3 420.8 L487.7 422.1 L490 423.5 L492 425 L493.9 426.8 L495.6 428.8 L497.1 430.9 L498.3 433 L499 435 L499.3 437 L499.3 439 L499 441 L498.2 442.7 L497 444 L495.3 444.9 L493.1 445.6 L490.5 446 L487.8 446.1 L485 446 L482.1 445.6 L479 444.9 L475.8 444 L472.7 443 L470 442 L467.6 441 L465.3 440 L463.2 438.9 L461.4 437.6 L460 436 L458.9 434.1 L458.2 431.8 L457.8 429.4 L457.7 427Z" fill="#5B3F8F" fill-opacity="0.92"/>
<path d="M494 444.2h0M466 423.6h0M479.1 432h0M470.9 438h0M482.2 442.2h0M470.7 428.2h0M490.9 444h0M492.1 438.7h0M495.9 440.9h0M470.5 417.6h0M478.2 445.5h0M478.5 428.1h0M488.3 440.5h0M488.5 427.5h0M482.4 432.2h0M468.1 423.7h0M482 420.9h0M475.7 425.5h0M467.5 440.1h0M477.2 432.5h0M473.9 437.7h0M475.9 435.1h0M491.3 427.4h0M482.3 443.6h0M482.3 422.5h0M487.8 444.2h0M479 418.6h0M490.4 426.2h0M481.1 447.2h0M466.2 432.8h0M472.1 432.9h0M483.9 443.1h0M482.9 445.7h0M472.1 423.6h0M481.2 439.2h0M474 442.8h0M463.7 429.9h0M490 429.7h0M464.6 418.7h0M491.8 437.4h0M462.2 427.8h0M482.8 421.9h0M463.2 431.7h0M473.9 439h0M485.8 435.2h0M459.7 430.5h0M460 430.7h0M483.5 426h0M488.9 441.3h0M498.3 428.2h0M481.6 441.4h0M474.7 422.6h0M473.1 440.2h0M488.2 442.5h0M477.8 430.2h0M480 428.5h0M459.8 431.5h0M473.5 432.9h0M473.8 426.8h0M494 438.5h0M489.5 434.4h0M485.1 429h0M478.8 436.1h0M484.1 431.8h0M464.6 424.1h0M470.4 420.9h0M482.1 428.8h0M470.5 432.5h0M481 428h0M471.9 418.6h0M488.6 422.3h0M483.9 433h0M491.1 432.6h0M486.9 423.1h0M479.4 436.6h0M489.1 435.1h0M493.9 437.9h0M465.5 424.3h0M474.3 427.5h0M467 442.5h0M462.4 435.2h0M488.5 424.2h0M472.1 439h0M465.9 415.5h0M459.6 427.7h0M481.7 435h0M491.3 440.6h0M482.5 440.5h0M482.7 432.4h0M486.3 432.4h0M469.7 425.7h0M481.1 434.7h0M479 420.8h0M469.3 432.8h0M489.6 430.2h0M456.9 429h0M485.5 428.1h0M461.5 424.2h0M457.4 421.1h0M492.3 436.6h0M471.6 436.7h0M492.5 431.6h0M471.5 431.2h0M458 429.9h0M489.3 433.8h0M478.1 440.3h0M501.8 443.5h0M470.5 420.6h0M469.3 423.4h0M483.9 442.8h0M464.2 434.5h0M479.4 435.9h0M490.4 428.8h0M465.5 436.5h0M483.7 435.6h0M477.8 427.3h0M475.9 439.5h0M465.4 442.4h0M488.5 421.1h0M497.4 427.8h0" stroke="#5B3F8F" stroke-width="1.2" stroke-linecap="round" fill="none"/>
<path d="M502.1 443.2h0M505.7 438.3h0M530.9 451.4h0M536.4 451.3h0M521.5 445.6h0M513.6 445.4h0M537.5 451.5h0M527.9 448h0M527.3 453.2h0M516.4 447.7h0M503.6 438.9h0M535.6 453.2h0M502.2 443.2h0M515.7 451.2h0M514.1 443h0M501.7 440.9h0M506 444.3h0M528.4 452.5h0M510.4 443h0M519.1 444.5h0M504.2 439.9h0M527.2 454.9h0M531.5 452h0M502 443.1h0M536.2 454.5h0M523.8 448.4h0M509.5 447.1h0M498.5 439.6h0M523.3 446.2h0M527.7 445.3h0M533.9 448.7h0M502.8 438.7h0M531.5 452.1h0M535.8 451.2h0M508.7 442.1h0M519.7 442.7h0M515.4 439.1h0M506.3 439.4h0M506.4 439.8h0M522.1 445.8h0" stroke="#D9232D" stroke-width="1.6" stroke-linecap="round" fill="none"/>
<path d="M578.2 435.3h0M557.8 450.5h0M560.6 447.9h0M570.3 441.2h0M570.1 440.2h0M572.1 434.5h0M568.3 441.7h0M582.9 430.8h0M565 443.9h0M570.9 440.8h0M571.8 437h0M562.1 439.9h0M586.1 434.2h0M570.1 434.2h0M553.4 445.7h0M576.6 429.4h0M586.4 432.8h0M584 431.7h0M557 451h0M554.9 454h0M553 445.3h0M570.5 439.3h0M562.9 444.9h0M565.1 438.2h0M578.3 432.6h0M555.3 449.2h0M565.2 440h0M561.9 448.3h0M557.3 445.4h0M575.6 438.3h0" stroke="#D9232D" stroke-width="1.6" stroke-linecap="round" fill="none"/>
</g>
<text x="607.2" y="361.5" font-size="7.7" font-weight="bold" fill="#fff" stroke="#333" stroke-width="1.5" stroke-linejoin="round" paint-order="stroke">Macro_SPP1</text>
<text x="600.6" y="420.6" font-size="7.7" font-weight="bold" fill="#fff" stroke="#333" stroke-width="1.5" stroke-linejoin="round" paint-order="stroke">Macro_APOE</text>
<text x="586.5" y="453.1" font-size="7.7" font-weight="bold" fill="#fff" stroke="#333" stroke-width="1.5" stroke-linejoin="round" paint-order="stroke">Macro_CXCL1</text>
<text x="622.6" y="460.7" font-size="7.7" font-weight="bold" fill="#fff" stroke="#333" stroke-width="1.5" stroke-linejoin="round" paint-order="stroke">Macro_FOLR2</text>
<text x="454.3" y="430.4" font-size="7.7" font-weight="bold" fill="#fff" stroke="#333" stroke-width="1.5" stroke-linejoin="round" paint-order="stroke">cDC3_LAMP3</text>
<text x="536.6" y="475.1" font-size="7.7" font-weight="bold" fill="#fff" stroke="#333" stroke-width="1.5" stroke-linejoin="round" paint-order="stroke">cDC2_CD1A</text>
<text x="490" y="478.7" font-size="7.7" font-weight="bold" fill="#fff" stroke="#333" stroke-width="1.5" stroke-linejoin="round" paint-order="stroke">pDC_LILRA4</text>
<text x="504.4" y="484.8" font-size="7.7" font-weight="bold" fill="#fff" stroke="#333" stroke-width="1.5" stroke-linejoin="round" paint-order="stroke">cDC1_CLEC9A</text>
<text x="542" y="520.9" font-size="7.7" font-weight="bold" fill="#fff" stroke="#333" stroke-width="1.5" stroke-linejoin="round" paint-order="stroke">Mono</text>
<text x="577.7" y="508" font-size="7.7" font-weight="bold" fill="#fff" stroke="#333" stroke-width="1.5" stroke-linejoin="round" paint-order="stroke">Macro_IL1B</text>
<circle cx="509.3" cy="330.3" r="4.1" fill="#8FC1DC"/>
<text x="519.1" y="333.2" font-size="8.2" text-anchor="start" fill="#111" >Macro_CXCL1</text>
<circle cx="509.3" cy="339.7" r="4.1" fill="#1F6DAB"/>
<text x="519.1" y="342.6" font-size="8.2" text-anchor="start" fill="#111" >Macro_FOLR2</text>
<circle cx="509.3" cy="349.2" r="4.1" fill="#98C98B"/>
<text x="519.1" y="352.1" font-size="8.2" text-anchor="start" fill="#111" >Macro_SPP1</text>
<circle cx="509.3" cy="358.6" r="4.1" fill="#2E9446"/>
<text x="519.1" y="361.5" font-size="8.2" text-anchor="start" fill="#111" >cDC1_CLEC9A</text>
<circle cx="509.3" cy="368.1" r="4.1" fill="#F1B06C"/>
<text x="519.1" y="371" font-size="8.2" text-anchor="start" fill="#111" >Macro_IL1B</text>
<circle cx="509.3" cy="377.5" r="4.1" fill="#EE7E2E"/>
<text x="519.1" y="380.4" font-size="8.2" text-anchor="start" fill="#111" >Macro_APOE</text>
<circle cx="509.3" cy="386.9" r="4.1" fill="#E58B8B"/>
<text x="519.1" y="389.8" font-size="8.2" text-anchor="start" fill="#111" >Mono</text>
<circle cx="509.3" cy="396.4" r="4.1" fill="#D9232D"/>
<text x="519.1" y="399.3" font-size="8.2" text-anchor="start" fill="#111" >cDC2_CD1A</text>
<circle cx="509.3" cy="405.8" r="4.1" fill="#B6A5CA"/>
<text x="519.1" y="408.7" font-size="8.2" text-anchor="start" fill="#111" >pDC_LILRA4</text>
<circle cx="509.3" cy="415.3" r="4.1" fill="#5B3F8F"/>
<text x="519.1" y="418.2" font-size="8.2" text-anchor="start" fill="#111" >cDC3_LAMP3</text>
<text x="-1.5" y="586.8" font-size="9.6" font-weight="bold" fill="#2a1818">f</text>
<rect x="50.4" y="589.4" width="32.8" height="35.2" fill="#E4ECF5" stroke="none" stroke-width="0.6" />
<rect x="83.2" y="589.4" width="29.2" height="35.2" fill="#C8D5E7" stroke="none" stroke-width="0.6" />
<rect x="112.4" y="589.4" width="29.2" height="35.2" fill="#E2EDDC" stroke="none" stroke-width="0.6" />
<rect x="141.6" y="589.4" width="29.9" height="35.2" fill="#FDEADA" stroke="none" stroke-width="0.6" />
<rect x="171.5" y="589.4" width="29.2" height="35.2" fill="#FBDFC9" stroke="none" stroke-width="0.6" />
<rect x="200.7" y="589.4" width="32.5" height="35.2" fill="#F8E1DF" stroke="none" stroke-width="0.6" />
<line x1="50.4" y1="591" x2="233.2" y2="591" stroke="#bbb" stroke-width="0.5" stroke-dasharray="3,2"/>
<line x1="50.4" y1="623" x2="233.2" y2="623" stroke="#bbb" stroke-width="0.5" stroke-dasharray="3,2"/>
<path d="M67.5 593.2 L67.7 593.7 L67.9 594.4 L68.2 595.2 L68.4 596.1 L68.7 597.1 L69 598 L69.2 598.9 L69.4 599.9 L69.7 601 L69.9 602 L70.2 603 L70.5 604 L70.9 604.9 L71.4 605.8 L71.8 606.6 L72.4 607.4 L72.9 608.2 L73.5 609 L74.1 609.7 L74.8 610.4 L75.6 611.1 L76.3 611.7 L77 612.3 L77.5 613 L77.9 613.7 L78.3 614.4 L78.6 615 L78.9 615.7 L79.1 616.4 L79.2 617 L79.2 617.6 L79.2 618.2 L79.1 618.8 L79 619.4 L78.8 620 L78.5 620.5 L78.1 621.1 L77.6 621.6 L77.1 622.2 L76.5 622.7 L76 623.2 L75.5 623.5 L75.1 623.7 L74.7 623.9 L74.3 623.9 L74 624 L73.7 624 L73.5 624 L61.5 624 L61.3 624 L61 624 L60.7 623.9 L60.3 623.9 L59.9 623.7 L59.5 623.5 L59 623.2 L58.5 622.7 L57.9 622.2 L57.4 621.6 L56.9 621.1 L56.5 620.5 L56.2 620 L56 619.4 L55.9 618.8 L55.8 618.2 L55.8 617.6 L55.8 617 L55.9 616.4 L56.1 615.7 L56.4 615 L56.7 614.4 L57.1 613.7 L57.5 613 L58 612.3 L58.7 611.7 L59.4 611.1 L60.2 610.4 L60.9 609.7 L61.5 609 L62.1 608.2 L62.6 607.4 L63.2 606.6 L63.6 605.8 L64.1 604.9 L64.5 604 L64.8 603 L65.1 602 L65.3 601 L65.6 599.9 L65.8 598.9 L66 598 L66.3 597.1 L66.6 596.1 L66.8 595.2 L67.1 594.4 L67.3 593.7 L67.5 593.2Z" fill="#8FC1DC" stroke="#222" stroke-width="0.5" stroke-linejoin="round"/>
<line x1="67.5" y1="593.2" x2="67.5" y2="624" stroke="#111" stroke-width="0.6" />
<rect x="65.9" y="611" width="3.2" height="6" fill="#000" stroke="none" stroke-width="0.6" />
<circle cx="67.5" cy="614.2" r="2.3" fill="#fff" stroke="#000" stroke-width="0.5"/>
<path d="M97.6 592.3 L97.8 592.8 L98 593.5 L98.3 594.3 L98.5 595.2 L98.8 596.1 L99.1 597 L99.3 597.8 L99.5 598.7 L99.8 599.5 L100 600.4 L100.3 601.2 L100.6 602 L101 602.7 L101.5 603.4 L101.9 604.1 L102.5 604.8 L103 605.4 L103.6 606 L104.2 606.6 L104.9 607.1 L105.7 607.6 L106.4 608 L107 608.5 L107.6 609 L108 609.5 L108.4 610 L108.7 610.5 L109 611 L109.3 611.5 L109.6 612 L110 612.5 L110.4 613 L110.8 613.5 L111.2 614 L111.5 614.5 L111.6 615 L111.5 615.5 L111.1 616 L110.6 616.6 L110.1 617.1 L109.7 617.6 L109.6 618 L109.7 618.4 L110.1 618.7 L110.6 619 L111.1 619.3 L111.5 619.6 L111.6 620 L111.5 620.4 L111.3 620.8 L110.9 621.3 L110.5 621.7 L110 622.1 L109.6 622.5 L109.1 622.8 L108.6 623.1 L108 623.4 L107.4 623.6 L106.9 623.8 L106.6 624 L88.6 624 L88.3 623.8 L87.8 623.6 L87.2 623.4 L86.6 623.1 L86.1 622.8 L85.6 622.5 L85.2 622.1 L84.7 621.7 L84.3 621.3 L83.9 620.8 L83.7 620.4 L83.6 620 L83.7 619.6 L84.1 619.3 L84.6 619 L85.1 618.7 L85.5 618.4 L85.6 618 L85.5 617.6 L85.1 617.1 L84.6 616.6 L84.1 616 L83.7 615.5 L83.6 615 L83.7 614.5 L84 614 L84.3 613.5 L84.8 613 L85.2 612.5 L85.6 612 L85.9 611.5 L86.2 611 L86.5 610.5 L86.8 610 L87.2 609.5 L87.6 609 L88.2 608.5 L88.8 608 L89.5 607.6 L90.3 607.1 L91 606.6 L91.6 606 L92.2 605.4 L92.7 604.8 L93.3 604.1 L93.7 603.4 L94.2 602.7 L94.6 602 L94.9 601.2 L95.2 600.4 L95.4 599.5 L95.7 598.7 L95.9 597.8 L96.1 597 L96.4 596.1 L96.7 595.2 L96.9 594.3 L97.2 593.5 L97.4 592.8 L97.6 592.3Z" fill="#1F6DAB" stroke="#222" stroke-width="0.5" stroke-linejoin="round"/>
<line x1="97.6" y1="592.3" x2="97.6" y2="624" stroke="#111" stroke-width="0.6" />
<rect x="96" y="610" width="3.2" height="8" fill="#000" stroke="none" stroke-width="0.6" />
<circle cx="97.6" cy="613.6" r="2.3" fill="#fff" stroke="#000" stroke-width="0.5"/>
<path d="M127 596 L127.2 596.3 L127.4 596.8 L127.8 597.3 L128.1 597.9 L128.5 598.5 L129 599 L129.5 599.5 L130.1 600 L130.8 600.4 L131.5 600.9 L132.3 601.4 L133 602 L133.8 602.6 L134.7 603.3 L135.6 603.9 L136.5 604.6 L137.3 605.3 L138 606 L138.6 606.7 L139 607.3 L139.4 608 L139.7 608.7 L140 609.3 L140.1 610 L140.1 610.7 L140.1 611.3 L139.9 612 L139.7 612.7 L139.4 613.3 L139 614 L138.5 614.7 L137.9 615.4 L137.2 616 L136.5 616.7 L135.8 617.4 L135 618 L134.2 618.6 L133.3 619.3 L132.4 619.9 L131.6 620.5 L130.7 621 L130 621.5 L129.3 621.9 L128.7 622.2 L128.2 622.5 L127.7 622.7 L127.3 622.9 L127 623 L127 623 L126.7 622.9 L126.3 622.7 L125.8 622.5 L125.3 622.2 L124.7 621.9 L124 621.5 L123.3 621 L122.4 620.5 L121.6 619.9 L120.7 619.3 L119.8 618.6 L119 618 L118.2 617.4 L117.5 616.7 L116.8 616 L116.1 615.4 L115.5 614.7 L115 614 L114.6 613.3 L114.3 612.7 L114.1 612 L113.9 611.3 L113.9 610.7 L113.9 610 L114 609.3 L114.3 608.7 L114.6 608 L115 607.3 L115.4 606.7 L116 606 L116.7 605.3 L117.5 604.6 L118.4 603.9 L119.3 603.3 L120.2 602.6 L121 602 L121.7 601.4 L122.5 600.9 L123.2 600.4 L123.9 600 L124.5 599.5 L125 599 L125.5 598.5 L125.9 597.9 L126.2 597.3 L126.6 596.8 L126.8 596.3 L127 596Z" fill="#98C98B" stroke="#222" stroke-width="0.5" stroke-linejoin="round"/>
<line x1="127" y1="596" x2="127" y2="623" stroke="#111" stroke-width="0.6" />
<rect x="125.4" y="608" width="3.2" height="6" fill="#000" stroke="none" stroke-width="0.6" />
<circle cx="127" cy="611.3" r="2.3" fill="#fff" stroke="#000" stroke-width="0.5"/>
<path d="M156.5 598 L156.6 598.5 L156.8 599.3 L157.1 600.2 L157.3 601.1 L157.5 602.1 L157.7 603 L157.8 603.8 L158 604.7 L158.1 605.6 L158.2 606.4 L158.3 607.2 L158.5 608 L158.8 608.7 L159.1 609.4 L159.4 610.1 L159.8 610.8 L160.2 611.4 L160.5 612 L160.8 612.6 L161.1 613.1 L161.4 613.6 L161.8 614 L162.1 614.5 L162.5 615 L162.9 615.5 L163.4 616 L163.8 616.5 L164.4 617 L164.9 617.5 L165.5 618 L166.2 618.5 L167.1 618.9 L168 619.3 L168.8 619.7 L169.5 620.1 L169.9 620.5 L170.1 620.9 L170 621.2 L169.8 621.6 L169.5 621.9 L169.1 622.2 L168.5 622.5 L167.7 622.8 L166.6 623.1 L165.4 623.4 L164.2 623.6 L163.2 623.8 L162.5 624 L150.5 624 L149.8 623.8 L148.8 623.6 L147.6 623.4 L146.4 623.1 L145.3 622.8 L144.5 622.5 L143.9 622.2 L143.5 621.9 L143.2 621.6 L143 621.2 L142.9 620.9 L143.1 620.5 L143.5 620.1 L144.2 619.7 L145 619.3 L145.9 618.9 L146.8 618.5 L147.5 618 L148.1 617.5 L148.6 617 L149.2 616.5 L149.6 616 L150.1 615.5 L150.5 615 L150.9 614.5 L151.2 614 L151.6 613.6 L151.9 613.1 L152.2 612.6 L152.5 612 L152.8 611.4 L153.2 610.8 L153.6 610.1 L153.9 609.4 L154.2 608.7 L154.5 608 L154.7 607.2 L154.8 606.4 L154.9 605.6 L155 604.7 L155.2 603.8 L155.3 603 L155.5 602.1 L155.7 601.1 L155.9 600.2 L156.2 599.3 L156.4 598.5 L156.5 598Z" fill="#F1B06C" stroke="#222" stroke-width="0.5" stroke-linejoin="round"/>
<line x1="156.5" y1="598" x2="156.5" y2="624" stroke="#111" stroke-width="0.6" />
<rect x="154.9" y="616" width="3.2" height="6" fill="#000" stroke="none" stroke-width="0.6" />
<circle cx="156.5" cy="619.5" r="2.3" fill="#fff" stroke="#000" stroke-width="0.5"/>
<path d="M186 590.8 L186.2 591.1 L186.4 591.6 L186.8 592.1 L187.1 592.8 L187.5 593.4 L188 594 L188.5 594.6 L189.1 595.2 L189.8 595.9 L190.5 596.6 L191.3 597.3 L192 598 L192.8 598.8 L193.7 599.6 L194.6 600.5 L195.4 601.4 L196.3 602.2 L197 603 L197.7 603.7 L198.3 604.4 L198.9 605.1 L199.4 605.7 L199.8 606.3 L200 607 L200.1 607.7 L200.1 608.3 L199.9 609 L199.7 609.7 L199.4 610.3 L199 611 L198.5 611.7 L197.9 612.3 L197.2 613 L196.5 613.7 L195.8 614.3 L195 615 L194.2 615.7 L193.3 616.4 L192.4 617 L191.6 617.7 L190.7 618.4 L190 619 L189.4 619.6 L188.8 620.3 L188.2 620.9 L187.8 621.5 L187.4 622.1 L187 622.5 L186.7 622.8 L186.5 623.1 L186.3 623.2 L186.2 623.3 L186.1 623.4 L186 623.5 L186 623.5 L185.9 623.4 L185.8 623.3 L185.7 623.2 L185.5 623.1 L185.3 622.8 L185 622.5 L184.6 622.1 L184.2 621.5 L183.8 620.9 L183.2 620.3 L182.6 619.6 L182 619 L181.3 618.4 L180.4 617.7 L179.6 617 L178.7 616.4 L177.8 615.7 L177 615 L176.2 614.3 L175.5 613.7 L174.8 613 L174.1 612.3 L173.5 611.7 L173 611 L172.6 610.3 L172.3 609.7 L172.1 609 L171.9 608.3 L171.9 607.7 L172 607 L172.2 606.3 L172.6 605.7 L173.1 605.1 L173.7 604.4 L174.3 603.7 L175 603 L175.7 602.2 L176.6 601.4 L177.4 600.5 L178.3 599.6 L179.2 598.8 L180 598 L180.7 597.3 L181.5 596.6 L182.2 595.9 L182.9 595.2 L183.5 594.6 L184 594 L184.5 593.4 L184.9 592.8 L185.2 592.1 L185.6 591.6 L185.8 591.1 L186 590.8Z" fill="#EE7E2E" stroke="#222" stroke-width="0.5" stroke-linejoin="round"/>
<line x1="186" y1="590.8" x2="186" y2="623.5" stroke="#111" stroke-width="0.6" />
<rect x="184.4" y="605" width="3.2" height="7" fill="#000" stroke="none" stroke-width="0.6" />
<circle cx="186" cy="609" r="2.3" fill="#fff" stroke="#000" stroke-width="0.5"/>
<path d="M215.6 603 L215.8 603.4 L216 604 L216.3 604.8 L216.5 605.5 L216.8 606.3 L217.1 607 L217.3 607.7 L217.5 608.4 L217.8 609.1 L218 609.7 L218.3 610.4 L218.6 611 L219 611.6 L219.5 612.1 L220 612.6 L220.5 613 L221.1 613.5 L221.6 614 L222.1 614.5 L222.6 615 L223 615.5 L223.5 616 L224 616.5 L224.6 617 L225.2 617.5 L226 617.9 L226.7 618.3 L227.4 618.7 L228.1 619.1 L228.6 619.5 L229 619.9 L229.4 620.2 L229.8 620.5 L230 620.9 L230 621.2 L229.9 621.5 L229.5 621.8 L228.9 622.2 L228.2 622.6 L227.4 622.9 L226.5 623.2 L225.6 623.5 L224.6 623.7 L223.5 623.9 L222.3 624 L221.2 624.1 L220.3 624.1 L219.6 624.2 L211.6 624.2 L210.9 624.1 L210 624.1 L208.9 624 L207.7 623.9 L206.6 623.7 L205.6 623.5 L204.7 623.2 L203.8 622.9 L203 622.6 L202.3 622.2 L201.7 621.8 L201.3 621.5 L201.2 621.2 L201.2 620.9 L201.4 620.5 L201.8 620.2 L202.2 619.9 L202.6 619.5 L203.1 619.1 L203.8 618.7 L204.5 618.3 L205.2 617.9 L206 617.5 L206.6 617 L207.2 616.5 L207.7 616 L208.2 615.5 L208.6 615 L209.1 614.5 L209.6 614 L210.1 613.5 L210.7 613 L211.2 612.6 L211.7 612.1 L212.2 611.6 L212.6 611 L212.9 610.4 L213.2 609.7 L213.4 609.1 L213.7 608.4 L213.9 607.7 L214.1 607 L214.4 606.3 L214.7 605.5 L214.9 604.8 L215.2 604 L215.4 603.4 L215.6 603Z" fill="#E58B8B" stroke="#222" stroke-width="0.5" stroke-linejoin="round"/>
<line x1="215.6" y1="603" x2="215.6" y2="624.2" stroke="#111" stroke-width="0.6" />
<rect x="214" y="616" width="3.2" height="6" fill="#000" stroke="none" stroke-width="0.6" />
<circle cx="215.6" cy="619" r="2.3" fill="#fff" stroke="#000" stroke-width="0.5"/>
<rect x="50.4" y="589.4" width="182.8" height="35.2" fill="none" stroke="#555" stroke-width="0.8" />
<text x="45.6" y="593" font-size="8.2" text-anchor="end" fill="#111" >0.8</text>
<text x="45.6" y="623.1" font-size="8.2" text-anchor="end" fill="#111" >0</text>
<line x1="48" y1="591" x2="50.4" y2="591" stroke="#444" stroke-width="0.6" />
<line x1="48" y1="623" x2="50.4" y2="623" stroke="#444" stroke-width="0.6" />
<text x="236.8" y="612.2" font-size="8.2" text-anchor="start" fill="#111" >M2_signature_UCell</text>
<rect x="50.4" y="625.8" width="32.8" height="35.4" fill="#E4ECF5" stroke="none" stroke-width="0.6" />
<rect x="83.2" y="625.8" width="29.2" height="35.4" fill="#C8D5E7" stroke="none" stroke-width="0.6" />
<rect x="112.4" y="625.8" width="29.2" height="35.4" fill="#E2EDDC" stroke="none" stroke-width="0.6" />
<rect x="141.6" y="625.8" width="29.9" height="35.4" fill="#FDEADA" stroke="none" stroke-width="0.6" />
<rect x="171.5" y="625.8" width="29.2" height="35.4" fill="#FBDFC9" stroke="none" stroke-width="0.6" />
<rect x="200.7" y="625.8" width="32.5" height="35.4" fill="#F8E1DF" stroke="none" stroke-width="0.6" />
<line x1="50.4" y1="627.4" x2="233.2" y2="627.4" stroke="#bbb" stroke-width="0.5" stroke-dasharray="3,2"/>
<line x1="50.4" y1="659.6" x2="233.2" y2="659.6" stroke="#bbb" stroke-width="0.5" stroke-dasharray="3,2"/>
<path d="M67.5 629 L68.1 629.3 L69 629.6 L70.1 630.1 L71.2 630.5 L72.4 631 L73.5 631.5 L74.8 632 L76.3 632.5 L77.8 633.1 L79.2 633.6 L80.2 634.1 L80.6 634.6 L80.3 635 L79.5 635.5 L78.3 635.9 L76.9 636.3 L75.6 636.6 L74.5 637 L73.6 637.3 L72.6 637.5 L71.7 637.8 L70.9 638.1 L70.1 638.4 L69.5 639 L69 639.8 L68.7 640.7 L68.5 641.7 L68.4 642.8 L68.2 643.9 L68.1 645 L67.9 646.2 L67.8 647.6 L67.7 649 L67.6 650.3 L67.6 651.4 L67.5 652.2 L67.5 652.2 L67.4 651.4 L67.4 650.3 L67.3 649 L67.2 647.6 L67.1 646.2 L66.9 645 L66.8 643.9 L66.6 642.8 L66.5 641.7 L66.3 640.7 L66 639.8 L65.5 639 L64.9 638.4 L64.1 638.1 L63.3 637.8 L62.4 637.5 L61.4 637.3 L60.5 637 L59.4 636.6 L58.1 636.3 L56.7 635.9 L55.5 635.5 L54.7 635 L54.4 634.6 L54.8 634.1 L55.8 633.6 L57.2 633.1 L58.7 632.5 L60.2 632 L61.5 631.5 L62.6 631 L63.8 630.5 L64.9 630.1 L66 629.6 L66.9 629.3 L67.5 629Z" fill="#8FC1DC" stroke="#222" stroke-width="0.5" stroke-linejoin="round"/>
<line x1="67.5" y1="629" x2="67.5" y2="652.2" stroke="#111" stroke-width="0.6" />
<rect x="65.9" y="632" width="3.2" height="5" fill="#000" stroke="none" stroke-width="0.6" />
<circle cx="67.5" cy="634.6" r="2.3" fill="#fff" stroke="#000" stroke-width="0.5"/>
<path d="M97.6 628.8 L97.9 629 L98.2 629.3 L98.7 629.7 L99.2 630.1 L99.8 630.6 L100.6 631 L101.6 631.5 L102.7 632 L104 632.5 L105.3 633 L106.6 633.5 L107.6 634 L108.5 634.4 L109.5 634.7 L110.3 635 L111 635.3 L111.5 635.6 L111.6 636 L111.3 636.4 L110.6 636.9 L109.7 637.4 L108.6 637.9 L107.5 638.4 L106.6 639 L105.7 639.6 L104.8 640.2 L103.9 640.9 L103.1 641.6 L102.3 642.3 L101.6 643 L101 643.8 L100.5 644.6 L100.1 645.5 L99.8 646.4 L99.4 647.2 L99.1 648 L98.8 648.8 L98.5 649.6 L98.2 650.3 L98 651 L97.8 651.6 L97.6 652 L97.6 652 L97.4 651.6 L97.2 651 L97 650.3 L96.7 649.6 L96.4 648.8 L96.1 648 L95.8 647.2 L95.4 646.4 L95.1 645.5 L94.7 644.6 L94.2 643.8 L93.6 643 L92.9 642.3 L92.1 641.6 L91.3 640.9 L90.4 640.2 L89.5 639.6 L88.6 639 L87.7 638.4 L86.6 637.9 L85.5 637.4 L84.6 636.9 L83.9 636.4 L83.6 636 L83.7 635.6 L84.2 635.3 L84.8 635 L85.7 634.7 L86.7 634.4 L87.6 634 L88.6 633.5 L89.9 633 L91.2 632.5 L92.5 632 L93.6 631.5 L94.6 631 L95.4 630.6 L96 630.1 L96.5 629.7 L97 629.3 L97.3 629 L97.6 628.8Z" fill="#1F6DAB" stroke="#222" stroke-width="0.5" stroke-linejoin="round"/>
<line x1="97.6" y1="628.8" x2="97.6" y2="652" stroke="#111" stroke-width="0.6" />
<rect x="96" y="633" width="3.2" height="6" fill="#000" stroke="none" stroke-width="0.6" />
<circle cx="97.6" cy="636" r="2.3" fill="#fff" stroke="#000" stroke-width="0.5"/>
<path d="M127 628 L127.4 628.3 L128 628.8 L128.6 629.3 L129.4 629.9 L130.2 630.5 L131 631 L131.9 631.5 L132.9 632 L134 632.5 L135.1 633 L136.1 633.5 L137 634 L137.8 634.4 L138.6 634.8 L139.3 635.2 L139.9 635.6 L140.3 636 L140.4 636.5 L140.1 637 L139.5 637.5 L138.7 638.1 L137.8 638.7 L136.9 639.3 L136 640 L135.2 640.7 L134.3 641.5 L133.4 642.3 L132.5 643.2 L131.7 644.1 L131 645 L130.4 646 L129.8 647 L129.2 648.1 L128.8 649.1 L128.4 650.1 L128 651 L127.7 651.8 L127.5 652.6 L127.3 653.4 L127.2 654 L127.1 654.6 L127 655 L127 655 L126.9 654.6 L126.8 654 L126.7 653.4 L126.5 652.6 L126.3 651.8 L126 651 L125.6 650.1 L125.2 649.1 L124.8 648.1 L124.2 647 L123.6 646 L123 645 L122.3 644.1 L121.5 643.2 L120.6 642.3 L119.7 641.5 L118.8 640.7 L118 640 L117.1 639.3 L116.2 638.7 L115.3 638.1 L114.5 637.5 L113.9 637 L113.6 636.5 L113.7 636 L114.1 635.6 L114.7 635.2 L115.4 634.8 L116.2 634.4 L117 634 L117.9 633.5 L118.9 633 L120 632.5 L121.1 632 L122.1 631.5 L123 631 L123.8 630.5 L124.6 629.9 L125.4 629.3 L126 628.8 L126.6 628.3 L127 628Z" fill="#98C98B" stroke="#222" stroke-width="0.5" stroke-linejoin="round"/>
<line x1="127" y1="628" x2="127" y2="655" stroke="#111" stroke-width="0.6" />
<rect x="125.4" y="633" width="3.2" height="7" fill="#000" stroke="none" stroke-width="0.6" />
<circle cx="127" cy="636.5" r="2.3" fill="#fff" stroke="#000" stroke-width="0.5"/>
<path d="M156.5 629 L156.9 629.3 L157.5 629.8 L158.1 630.3 L158.9 630.9 L159.7 631.5 L160.5 632 L161.4 632.5 L162.4 633 L163.5 633.5 L164.6 634 L165.6 634.5 L166.5 635 L167.3 635.5 L168.1 636 L168.8 636.5 L169.4 637 L169.8 637.5 L169.9 638 L169.7 638.5 L169.3 639.1 L168.7 639.7 L168 640.2 L167.2 640.9 L166.5 641.5 L165.7 642.2 L164.9 642.9 L164 643.6 L163.1 644.4 L162.2 645.2 L161.5 646 L160.9 646.9 L160.3 647.8 L159.8 648.8 L159.4 649.8 L158.9 650.9 L158.5 652 L158.1 653.3 L157.7 654.8 L157.3 656.4 L157 657.9 L156.7 659.1 L156.5 660 L156.5 660 L156.3 659.1 L156 657.9 L155.7 656.4 L155.3 654.8 L154.9 653.3 L154.5 652 L154.1 650.9 L153.6 649.8 L153.2 648.8 L152.7 647.8 L152.1 646.9 L151.5 646 L150.8 645.2 L149.9 644.4 L149 643.6 L148.1 642.9 L147.3 642.2 L146.5 641.5 L145.8 640.9 L145 640.2 L144.3 639.7 L143.7 639.1 L143.3 638.5 L143.1 638 L143.2 637.5 L143.6 637 L144.2 636.5 L144.9 636 L145.7 635.5 L146.5 635 L147.4 634.5 L148.4 634 L149.5 633.5 L150.6 633 L151.6 632.5 L152.5 632 L153.3 631.5 L154.1 630.9 L154.9 630.3 L155.5 629.8 L156.1 629.3 L156.5 629Z" fill="#F1B06C" stroke="#222" stroke-width="0.5" stroke-linejoin="round"/>
<line x1="156.5" y1="629" x2="156.5" y2="660" stroke="#111" stroke-width="0.6" />
<rect x="154.9" y="635" width="3.2" height="7" fill="#000" stroke="none" stroke-width="0.6" />
<circle cx="156.5" cy="638" r="2.3" fill="#fff" stroke="#000" stroke-width="0.5"/>
<path d="M186 629.5 L186.4 629.7 L186.9 630 L187.5 630.3 L188.2 630.7 L189 631.1 L190 631.5 L191.3 631.9 L193 632.4 L194.8 633 L196.5 633.5 L197.8 634 L198.5 634.5 L198.4 635 L197.7 635.4 L196.6 635.8 L195.3 636.2 L194 636.6 L193 637 L192.1 637.4 L191.2 637.7 L190.3 638 L189.4 638.3 L188.7 638.6 L188 639 L187.5 639.5 L187 640 L186.7 640.6 L186.4 641.2 L186.2 641.7 L186 642 L186 642 L185.8 641.7 L185.6 641.2 L185.3 640.6 L185 640 L184.5 639.5 L184 639 L183.3 638.6 L182.6 638.3 L181.7 638 L180.8 637.7 L179.9 637.4 L179 637 L178 636.6 L176.7 636.2 L175.4 635.8 L174.3 635.4 L173.6 635 L173.5 634.5 L174.2 634 L175.5 633.5 L177.2 633 L179 632.4 L180.7 631.9 L182 631.5 L183 631.1 L183.8 630.7 L184.5 630.3 L185.1 630 L185.6 629.7 L186 629.5Z" fill="#EE7E2E" stroke="#222" stroke-width="0.5" stroke-linejoin="round"/>
<line x1="186" y1="629.5" x2="186" y2="642" stroke="#111" stroke-width="0.6" />
<rect x="184.4" y="632.5" width="3.2" height="4" fill="#000" stroke="none" stroke-width="0.6" />
<circle cx="186" cy="634.5" r="2.3" fill="#fff" stroke="#000" stroke-width="0.5"/>
<path d="M215.6 629 L216.3 629.2 L217.2 629.5 L218.2 629.8 L219.4 630.2 L220.5 630.6 L221.6 631 L222.6 631.4 L223.7 631.9 L224.8 632.4 L225.9 633 L226.8 633.5 L227.6 634 L228.2 634.5 L228.8 635 L229.2 635.4 L229.5 635.9 L229.7 636.4 L229.6 637 L229.3 637.6 L228.7 638.2 L228 638.9 L227.2 639.6 L226.3 640.3 L225.6 641 L224.9 641.8 L224.2 642.6 L223.5 643.4 L222.9 644.3 L222.2 645.2 L221.6 646 L221 646.8 L220.5 647.6 L220 648.4 L219.6 649.3 L219.1 650.1 L218.6 651 L218.1 652 L217.5 653.1 L216.9 654.3 L216.4 655.4 L215.9 656.3 L215.6 657 L215.6 657 L215.3 656.3 L214.8 655.4 L214.3 654.3 L213.7 653.1 L213.1 652 L212.6 651 L212.1 650.1 L211.6 649.3 L211.2 648.4 L210.7 647.6 L210.2 646.8 L209.6 646 L209 645.2 L208.3 644.3 L207.7 643.4 L207 642.6 L206.3 641.8 L205.6 641 L204.9 640.3 L204 639.6 L203.2 638.9 L202.5 638.2 L201.9 637.6 L201.6 637 L201.5 636.4 L201.7 635.9 L202 635.4 L202.4 635 L203 634.5 L203.6 634 L204.4 633.5 L205.3 633 L206.3 632.4 L207.5 631.9 L208.6 631.4 L209.6 631 L210.7 630.6 L211.8 630.2 L213 629.8 L214 629.5 L214.9 629.2 L215.6 629Z" fill="#E58B8B" stroke="#222" stroke-width="0.5" stroke-linejoin="round"/>
<line x1="215.6" y1="629" x2="215.6" y2="657" stroke="#111" stroke-width="0.6" />
<rect x="214" y="634" width="3.2" height="8" fill="#000" stroke="none" stroke-width="0.6" />
<circle cx="215.6" cy="638" r="2.3" fill="#fff" stroke="#000" stroke-width="0.5"/>
<rect x="50.4" y="625.8" width="182.8" height="35.4" fill="none" stroke="#555" stroke-width="0.8" />
<text x="45.6" y="630.4" font-size="8.2" text-anchor="end" fill="#111" >0.7</text>
<text x="45.6" y="659.7" font-size="8.2" text-anchor="end" fill="#111" >0</text>
<line x1="48" y1="627.4" x2="50.4" y2="627.4" stroke="#444" stroke-width="0.6" />
<line x1="48" y1="659.6" x2="50.4" y2="659.6" stroke="#444" stroke-width="0.6" />
<text x="236.8" y="648" font-size="8.2" text-anchor="start" fill="#111" >Antigen_presenting_UCell</text>
<rect x="50.4" y="662.2" width="32.8" height="34.9" fill="#E4ECF5" stroke="none" stroke-width="0.6" />
<rect x="83.2" y="662.2" width="29.2" height="34.9" fill="#C8D5E7" stroke="none" stroke-width="0.6" />
<rect x="112.4" y="662.2" width="29.2" height="34.9" fill="#E2EDDC" stroke="none" stroke-width="0.6" />
<rect x="141.6" y="662.2" width="29.9" height="34.9" fill="#FDEADA" stroke="none" stroke-width="0.6" />
<rect x="171.5" y="662.2" width="29.2" height="34.9" fill="#FBDFC9" stroke="none" stroke-width="0.6" />
<rect x="200.7" y="662.2" width="32.5" height="34.9" fill="#F8E1DF" stroke="none" stroke-width="0.6" />
<line x1="50.4" y1="663.8" x2="233.2" y2="663.8" stroke="#bbb" stroke-width="0.5" stroke-dasharray="3,2"/>
<line x1="50.4" y1="695.5" x2="233.2" y2="695.5" stroke="#bbb" stroke-width="0.5" stroke-dasharray="3,2"/>
<path d="M67.5 668.1 L67.7 668.5 L67.9 669.1 L68.1 669.8 L68.4 670.5 L68.7 671.3 L69 672 L69.3 672.7 L69.7 673.4 L70.1 674.1 L70.5 674.7 L71 675.4 L71.5 676 L72.1 676.5 L72.7 677 L73.3 677.5 L74 678 L74.8 678.5 L75.5 679 L76.4 679.6 L77.4 680.2 L78.5 680.8 L79.5 681.5 L80.2 682.1 L80.6 682.7 L80.6 683.3 L80.2 683.8 L79.7 684.4 L79 684.9 L78.2 685.4 L77.5 686 L76.8 686.6 L76 687.1 L75.1 687.7 L74.2 688.3 L73.4 688.9 L72.5 689.5 L71.6 690.2 L70.6 690.9 L69.7 691.7 L68.8 692.4 L68 693.1 L67.5 693.5 L67.5 693.5 L67 693.1 L66.2 692.4 L65.3 691.7 L64.4 690.9 L63.4 690.2 L62.5 689.5 L61.6 688.9 L60.8 688.3 L59.9 687.7 L59 687.1 L58.2 686.6 L57.5 686 L56.8 685.4 L56 684.9 L55.3 684.4 L54.8 683.8 L54.4 683.3 L54.4 682.7 L54.8 682.1 L55.5 681.5 L56.5 680.8 L57.6 680.2 L58.6 679.6 L59.5 679 L60.2 678.5 L61 678 L61.7 677.5 L62.3 677 L62.9 676.5 L63.5 676 L64 675.4 L64.5 674.7 L64.9 674.1 L65.3 673.4 L65.7 672.7 L66 672 L66.3 671.3 L66.6 670.5 L66.9 669.8 L67.1 669.1 L67.3 668.5 L67.5 668.1Z" fill="#8FC1DC" stroke="#222" stroke-width="0.5" stroke-linejoin="round"/>
<line x1="67.5" y1="668.1" x2="67.5" y2="693.5" stroke="#111" stroke-width="0.6" />
<rect x="65.9" y="680" width="3.2" height="6" fill="#000" stroke="none" stroke-width="0.6" />
<circle cx="67.5" cy="683" r="2.3" fill="#fff" stroke="#000" stroke-width="0.5"/>
<path d="M97.6 672.5 L97.8 672.9 L98 673.4 L98.2 674.1 L98.5 674.7 L98.8 675.4 L99.1 676 L99.4 676.5 L99.8 677 L100.1 677.5 L100.5 677.9 L101 678.4 L101.6 679 L102.3 679.6 L103.1 680.3 L103.9 680.9 L104.8 681.6 L105.7 682.3 L106.6 683 L107.5 683.7 L108.5 684.4 L109.5 685.1 L110.5 685.7 L111.2 686.4 L111.6 687 L111.6 687.6 L111.3 688.1 L110.8 688.6 L110.3 689 L109.8 689.5 L109.6 690 L109.7 690.5 L110.1 691 L110.6 691.5 L111 692 L111 692.5 L110.6 693 L109.5 693.5 L107.7 694.1 L105.7 694.6 L103.6 695.2 L101.8 695.6 L100.6 695.9 L94.6 695.9 L93.4 695.6 L91.6 695.2 L89.5 694.6 L87.5 694.1 L85.7 693.5 L84.6 693 L84.2 692.5 L84.2 692 L84.6 691.5 L85.1 691 L85.5 690.5 L85.6 690 L85.4 689.5 L84.9 689 L84.3 688.6 L83.9 688.1 L83.6 687.6 L83.6 687 L84 686.4 L84.7 685.7 L85.7 685.1 L86.7 684.4 L87.7 683.7 L88.6 683 L89.5 682.3 L90.4 681.6 L91.3 680.9 L92.1 680.3 L92.9 679.6 L93.6 679 L94.2 678.4 L94.7 677.9 L95.1 677.5 L95.4 677 L95.8 676.5 L96.1 676 L96.4 675.4 L96.7 674.7 L97 674.1 L97.2 673.4 L97.4 672.9 L97.6 672.5Z" fill="#1F6DAB" stroke="#222" stroke-width="0.5" stroke-linejoin="round"/>
<line x1="97.6" y1="672.5" x2="97.6" y2="695.9" stroke="#111" stroke-width="0.6" />
<rect x="96" y="683" width="3.2" height="7" fill="#000" stroke="none" stroke-width="0.6" />
<circle cx="97.6" cy="686" r="2.3" fill="#fff" stroke="#000" stroke-width="0.5"/>
<path d="M127 669.6 L127.1 670 L127.2 670.5 L127.3 671.1 L127.5 671.7 L127.7 672.4 L128 673 L128.3 673.6 L128.6 674.3 L129 675 L129.5 675.7 L130.2 676.4 L131 677 L132.3 677.6 L134 678.2 L135.8 678.8 L137.6 679.4 L138.9 680 L139.5 680.5 L139.2 681 L138.3 681.4 L137 681.8 L135.5 682.2 L134.1 682.6 L133 683 L132.3 683.5 L131.7 684 L131.2 684.5 L130.8 685 L130.4 685.5 L130 686 L129.7 686.5 L129.4 687 L129.2 687.4 L128.9 687.9 L128.7 688.4 L128.5 689 L128.2 689.7 L127.9 690.4 L127.7 691.2 L127.4 691.9 L127.2 692.6 L127 693 L127 693 L126.8 692.6 L126.6 691.9 L126.3 691.2 L126.1 690.4 L125.8 689.7 L125.5 689 L125.3 688.4 L125.1 687.9 L124.8 687.4 L124.6 687 L124.3 686.5 L124 686 L123.6 685.5 L123.2 685 L122.8 684.5 L122.3 684 L121.7 683.5 L121 683 L119.9 682.6 L118.5 682.2 L117 681.8 L115.7 681.4 L114.8 681 L114.5 680.5 L115.1 680 L116.4 679.4 L118.2 678.8 L120 678.2 L121.7 677.6 L123 677 L123.8 676.4 L124.5 675.7 L125 675 L125.4 674.3 L125.7 673.6 L126 673 L126.3 672.4 L126.5 671.7 L126.7 671.1 L126.8 670.5 L126.9 670 L127 669.6Z" fill="#98C98B" stroke="#222" stroke-width="0.5" stroke-linejoin="round"/>
<line x1="127" y1="669.6" x2="127" y2="693" stroke="#111" stroke-width="0.6" />
<rect x="125.4" y="678.5" width="3.2" height="4" fill="#000" stroke="none" stroke-width="0.6" />
<circle cx="127" cy="680.5" r="2.3" fill="#fff" stroke="#000" stroke-width="0.5"/>
<path d="M156.5 663.8 L156.7 664.3 L156.9 664.9 L157.1 665.6 L157.4 666.5 L157.7 667.3 L158 668 L158.3 668.7 L158.7 669.3 L159.1 670 L159.5 670.7 L160 671.3 L160.5 672 L161.1 672.7 L161.7 673.3 L162.4 674 L163.1 674.7 L163.8 675.3 L164.5 676 L165.2 676.7 L165.9 677.4 L166.7 678.1 L167.4 678.7 L168 679.4 L168.5 680 L168.9 680.6 L169.2 681.1 L169.4 681.6 L169.6 682 L169.6 682.5 L169.5 683 L169.2 683.5 L168.8 684 L168.3 684.4 L167.7 684.9 L167.1 685.4 L166.5 686 L165.9 686.6 L165.2 687.3 L164.5 687.9 L163.8 688.6 L163.1 689.3 L162.5 690 L161.9 690.7 L161.4 691.4 L160.9 692.1 L160.4 692.8 L159.9 693.5 L159.5 694 L159.1 694.5 L158.7 694.9 L158.3 695.2 L158 695.5 L157.7 695.7 L157.5 695.9 L155.5 695.9 L155.3 695.7 L155 695.5 L154.7 695.2 L154.3 694.9 L153.9 694.5 L153.5 694 L153.1 693.5 L152.6 692.8 L152.1 692.1 L151.6 691.4 L151.1 690.7 L150.5 690 L149.9 689.3 L149.2 688.6 L148.5 687.9 L147.8 687.3 L147.1 686.6 L146.5 686 L145.9 685.4 L145.3 684.9 L144.7 684.4 L144.2 684 L143.8 683.5 L143.5 683 L143.4 682.5 L143.4 682 L143.6 681.6 L143.8 681.1 L144.1 680.6 L144.5 680 L145 679.4 L145.6 678.7 L146.3 678.1 L147.1 677.4 L147.8 676.7 L148.5 676 L149.2 675.3 L149.9 674.7 L150.6 674 L151.3 673.3 L151.9 672.7 L152.5 672 L153 671.3 L153.5 670.7 L153.9 670 L154.3 669.3 L154.7 668.7 L155 668 L155.3 667.3 L155.6 666.5 L155.9 665.6 L156.1 664.9 L156.3 664.3 L156.5 663.8Z" fill="#F1B06C" stroke="#222" stroke-width="0.5" stroke-linejoin="round"/>
<line x1="156.5" y1="663.8" x2="156.5" y2="695.9" stroke="#111" stroke-width="0.6" />
<rect x="154.9" y="678" width="3.2" height="8" fill="#000" stroke="none" stroke-width="0.6" />
<circle cx="156.5" cy="682" r="2.3" fill="#fff" stroke="#000" stroke-width="0.5"/>
<path d="M186 674 L186.3 674.3 L186.7 674.8 L187.2 675.3 L187.7 675.9 L188.3 676.5 L189 677 L189.7 677.5 L190.5 678 L191.3 678.5 L192.2 679 L193.1 679.5 L194 680 L195 680.6 L196.1 681.1 L197.2 681.7 L198.2 682.3 L199 682.9 L199.5 683.5 L199.6 684.1 L199.4 684.6 L198.9 685.2 L198.3 685.8 L197.7 686.4 L197 687 L196.3 687.6 L195.5 688.3 L194.7 688.9 L193.8 689.6 L192.9 690.3 L192 691 L191.1 691.7 L190.1 692.6 L189.2 693.4 L188.3 694.2 L187.5 694.8 L187 695.3 L185 695.3 L184.5 694.8 L183.7 694.2 L182.8 693.4 L181.9 692.6 L180.9 691.7 L180 691 L179.1 690.3 L178.2 689.6 L177.3 688.9 L176.5 688.3 L175.7 687.6 L175 687 L174.3 686.4 L173.7 685.8 L173.1 685.2 L172.6 684.6 L172.4 684.1 L172.5 683.5 L173 682.9 L173.8 682.3 L174.8 681.7 L175.9 681.1 L177 680.6 L178 680 L178.9 679.5 L179.8 679 L180.7 678.5 L181.5 678 L182.3 677.5 L183 677 L183.7 676.5 L184.3 675.9 L184.8 675.3 L185.3 674.8 L185.7 674.3 L186 674Z" fill="#EE7E2E" stroke="#222" stroke-width="0.5" stroke-linejoin="round"/>
<line x1="186" y1="674" x2="186" y2="695.3" stroke="#111" stroke-width="0.6" />
<rect x="184.4" y="680" width="3.2" height="7" fill="#000" stroke="none" stroke-width="0.6" />
<circle cx="186" cy="683.5" r="2.3" fill="#fff" stroke="#000" stroke-width="0.5"/>
<path d="M215.6 672 L215.8 672.4 L216.1 673 L216.4 673.8 L216.8 674.5 L217.2 675.3 L217.6 676 L218 676.7 L218.5 677.4 L219 678.1 L219.5 678.7 L220 679.4 L220.6 680 L221.2 680.6 L221.9 681.1 L222.6 681.6 L223.3 682 L224 682.5 L224.6 683 L225.3 683.5 L226 684 L226.7 684.5 L227.3 685 L227.8 685.5 L228.1 686 L228.2 686.5 L228.1 687 L227.8 687.5 L227.5 688 L227.1 688.5 L226.6 689 L226.1 689.5 L225.5 690 L224.9 690.4 L224.2 690.9 L223.4 691.4 L222.6 692 L221.6 692.7 L220.5 693.4 L219.3 694.2 L218.2 694.9 L217.3 695.6 L216.6 696 L214.6 696 L213.9 695.6 L213 694.9 L211.8 694.2 L210.7 693.4 L209.6 692.7 L208.6 692 L207.8 691.4 L207 690.9 L206.3 690.4 L205.7 690 L205.1 689.5 L204.6 689 L204.1 688.5 L203.7 688 L203.4 687.5 L203.1 687 L203 686.5 L203.1 686 L203.4 685.5 L203.9 685 L204.5 684.5 L205.2 684 L205.9 683.5 L206.6 683 L207.2 682.5 L207.9 682 L208.6 681.6 L209.3 681.1 L210 680.6 L210.6 680 L211.2 679.4 L211.7 678.7 L212.2 678.1 L212.7 677.4 L213.2 676.7 L213.6 676 L214 675.3 L214.4 674.5 L214.8 673.8 L215.1 673 L215.4 672.4 L215.6 672Z" fill="#E58B8B" stroke="#222" stroke-width="0.5" stroke-linejoin="round"/>
<line x1="215.6" y1="672" x2="215.6" y2="696" stroke="#111" stroke-width="0.6" />
<rect x="214" y="683" width="3.2" height="7" fill="#000" stroke="none" stroke-width="0.6" />
<circle cx="215.6" cy="686.5" r="2.3" fill="#fff" stroke="#000" stroke-width="0.5"/>
<rect x="50.4" y="662.2" width="182.8" height="34.9" fill="none" stroke="#555" stroke-width="0.8" />
<text x="45.6" y="666.2" font-size="8.2" text-anchor="end" fill="#111" >0.3</text>
<text x="45.6" y="694.6" font-size="8.2" text-anchor="end" fill="#111" >0</text>
<line x1="48" y1="663.8" x2="50.4" y2="663.8" stroke="#444" stroke-width="0.6" />
<line x1="48" y1="695.5" x2="50.4" y2="695.5" stroke="#444" stroke-width="0.6" />
<text x="236.8" y="684.2" font-size="8.2" text-anchor="start" fill="#111" >Pro_angiogenic_UCell</text>
<rect x="50.4" y="698.1" width="32.8" height="35.3" fill="#E4ECF5" stroke="none" stroke-width="0.6" />
<rect x="83.2" y="698.1" width="29.2" height="35.3" fill="#C8D5E7" stroke="none" stroke-width="0.6" />
<rect x="112.4" y="698.1" width="29.2" height="35.3" fill="#E2EDDC" stroke="none" stroke-width="0.6" />
<rect x="141.6" y="698.1" width="29.9" height="35.3" fill="#FDEADA" stroke="none" stroke-width="0.6" />
<rect x="171.5" y="698.1" width="29.2" height="35.3" fill="#FBDFC9" stroke="none" stroke-width="0.6" />
<rect x="200.7" y="698.1" width="32.5" height="35.3" fill="#F8E1DF" stroke="none" stroke-width="0.6" />
<line x1="50.4" y1="699.7" x2="233.2" y2="699.7" stroke="#bbb" stroke-width="0.5" stroke-dasharray="3,2"/>
<line x1="50.4" y1="731.8" x2="233.2" y2="731.8" stroke="#bbb" stroke-width="0.5" stroke-dasharray="3,2"/>
<path d="M67.5 703.2 L67.7 703.6 L67.9 704.2 L68.1 704.9 L68.4 705.6 L68.7 706.3 L69 707 L69.4 707.7 L69.7 708.3 L70.2 709 L70.6 709.7 L71 710.3 L71.5 711 L71.9 711.7 L72.4 712.3 L72.8 712.9 L73.3 713.6 L73.8 714.3 L74.5 715 L75.4 715.8 L76.6 716.6 L77.8 717.5 L79 718.4 L79.9 719.2 L80.3 720 L80.2 720.7 L79.8 721.4 L79.1 722.1 L78.2 722.7 L77.3 723.3 L76.5 724 L75.7 724.7 L74.9 725.4 L74 726 L73.1 726.7 L72.3 727.4 L71.5 728 L70.7 728.7 L69.9 729.3 L69.2 730 L68.5 730.6 L67.9 731.1 L67.5 731.5 L67.5 731.5 L67.1 731.1 L66.5 730.6 L65.8 730 L65.1 729.3 L64.3 728.7 L63.5 728 L62.7 727.4 L61.9 726.7 L61 726 L60.1 725.4 L59.3 724.7 L58.5 724 L57.7 723.3 L56.8 722.7 L55.9 722.1 L55.2 721.4 L54.8 720.7 L54.7 720 L55.1 719.2 L56 718.4 L57.2 717.5 L58.4 716.6 L59.6 715.8 L60.5 715 L61.2 714.3 L61.7 713.6 L62.2 712.9 L62.6 712.3 L63.1 711.7 L63.5 711 L64 710.3 L64.4 709.7 L64.8 709 L65.3 708.3 L65.6 707.7 L66 707 L66.3 706.3 L66.6 705.6 L66.9 704.9 L67.1 704.2 L67.3 703.6 L67.5 703.2Z" fill="#8FC1DC" stroke="#222" stroke-width="0.5" stroke-linejoin="round"/>
<line x1="67.5" y1="703.2" x2="67.5" y2="731.5" stroke="#111" stroke-width="0.6" />
<rect x="65.9" y="716" width="3.2" height="8" fill="#000" stroke="none" stroke-width="0.6" />
<circle cx="67.5" cy="720" r="2.3" fill="#fff" stroke="#000" stroke-width="0.5"/>
<path d="M97.6 704.6 L97.7 705.1 L97.9 705.7 L98.1 706.5 L98.3 707.3 L98.6 708.2 L98.8 709 L99.1 709.8 L99.3 710.7 L99.6 711.5 L99.9 712.4 L100.2 713.2 L100.6 714 L101 714.7 L101.5 715.4 L102 716.1 L102.5 716.7 L103 717.3 L103.6 718 L104.2 718.7 L104.9 719.4 L105.5 720.1 L106.2 720.7 L106.9 721.4 L107.6 722 L108.3 722.6 L109.2 723.1 L110 723.6 L110.8 724 L111.3 724.5 L111.6 725 L111.4 725.5 L110.9 726 L110.2 726.5 L109.4 727 L108.8 727.5 L108.6 728 L108.8 728.4 L109.4 728.9 L110.2 729.3 L110.9 729.7 L111.4 730.1 L111.6 730.5 L111.3 730.9 L110.6 731.4 L109.8 731.9 L108.9 732.4 L108.1 732.7 L107.6 733 L87.6 733 L87.1 732.7 L86.3 732.4 L85.4 731.9 L84.6 731.4 L83.9 730.9 L83.6 730.5 L83.8 730.1 L84.3 729.7 L85 729.3 L85.8 728.9 L86.4 728.4 L86.6 728 L86.4 727.5 L85.8 727 L85 726.5 L84.3 726 L83.8 725.5 L83.6 725 L83.9 724.5 L84.4 724 L85.2 723.6 L86 723.1 L86.9 722.6 L87.6 722 L88.3 721.4 L89 720.7 L89.7 720.1 L90.3 719.4 L91 718.7 L91.6 718 L92.2 717.3 L92.7 716.7 L93.2 716.1 L93.7 715.4 L94.2 714.7 L94.6 714 L95 713.2 L95.3 712.4 L95.6 711.5 L95.9 710.7 L96.1 709.8 L96.4 709 L96.6 708.2 L96.9 707.3 L97.1 706.5 L97.3 705.7 L97.5 705.1 L97.6 704.6Z" fill="#1F6DAB" stroke="#222" stroke-width="0.5" stroke-linejoin="round"/>
<line x1="97.6" y1="704.6" x2="97.6" y2="733" stroke="#111" stroke-width="0.6" />
<rect x="96" y="719" width="3.2" height="11" fill="#000" stroke="none" stroke-width="0.6" />
<circle cx="97.6" cy="724" r="2.3" fill="#fff" stroke="#000" stroke-width="0.5"/>
<path d="M127 705.2 L127.2 705.7 L127.4 706.4 L127.6 707.3 L127.9 708.2 L128.2 709.1 L128.5 710 L128.8 710.8 L129.1 711.7 L129.4 712.5 L129.7 713.4 L130.1 714.2 L130.5 715 L131 715.7 L131.5 716.4 L132.1 717.1 L132.7 717.8 L133.4 718.4 L134 719 L134.6 719.6 L135.3 720.1 L136 720.6 L136.7 721.1 L137.4 721.5 L138 722 L138.6 722.4 L139.3 722.8 L139.9 723.2 L140.4 723.6 L140.8 724 L141 724.5 L141 725 L140.7 725.6 L140.3 726.2 L139.9 726.8 L139.4 727.4 L139 728 L138.7 728.5 L138.4 729.1 L138.1 729.6 L137.7 730.1 L137.4 730.6 L137 731 L136.5 731.4 L136 731.8 L135.4 732.2 L134.8 732.5 L134.3 732.8 L134 733 L120 733 L119.7 732.8 L119.2 732.5 L118.6 732.2 L118 731.8 L117.5 731.4 L117 731 L116.6 730.6 L116.3 730.1 L115.9 729.6 L115.6 729.1 L115.3 728.5 L115 728 L114.6 727.4 L114.1 726.8 L113.7 726.2 L113.3 725.6 L113 725 L113 724.5 L113.2 724 L113.6 723.6 L114.1 723.2 L114.7 722.8 L115.4 722.4 L116 722 L116.6 721.5 L117.3 721.1 L118 720.6 L118.7 720.1 L119.4 719.6 L120 719 L120.6 718.4 L121.3 717.8 L121.9 717.1 L122.5 716.4 L123 715.7 L123.5 715 L123.9 714.2 L124.3 713.4 L124.6 712.5 L124.9 711.7 L125.2 710.8 L125.5 710 L125.8 709.1 L126.1 708.2 L126.4 707.3 L126.6 706.4 L126.8 705.7 L127 705.2Z" fill="#98C98B" stroke="#222" stroke-width="0.5" stroke-linejoin="round"/>
<line x1="127" y1="705.2" x2="127" y2="733" stroke="#111" stroke-width="0.6" />
<rect x="125.4" y="720" width="3.2" height="9" fill="#000" stroke="none" stroke-width="0.6" />
<circle cx="127" cy="724" r="2.3" fill="#fff" stroke="#000" stroke-width="0.5"/>
<path d="M156.5 701.7 L156.6 702.2 L156.8 702.8 L157 703.6 L157.2 704.4 L157.5 705.3 L157.7 706 L157.9 706.7 L158.1 707.4 L158.3 708.1 L158.5 708.8 L158.7 709.4 L159 710 L159.4 710.6 L159.8 711.1 L160.3 711.6 L160.7 712 L161.2 712.5 L161.5 713 L161.7 713.5 L161.8 714 L161.9 714.5 L162 715 L162.2 715.5 L162.5 716 L163 716.5 L163.6 717 L164.3 717.5 L165.1 718 L165.8 718.5 L166.5 719 L167.2 719.5 L168 720 L168.8 720.5 L169.5 721 L169.9 721.5 L170 722 L169.5 722.5 L168.5 723 L167.2 723.5 L166 724 L165 724.5 L164.5 725 L164.7 725.5 L165.4 726 L166.3 726.5 L167.3 727 L168.1 727.5 L168.5 728 L168.4 728.5 L168.1 729 L167.6 729.6 L166.9 730.1 L166.2 730.6 L165.5 731 L164.7 731.4 L163.8 731.8 L162.8 732.2 L161.9 732.5 L161.1 732.8 L160.5 733 L152.5 733 L151.9 732.8 L151.1 732.5 L150.2 732.2 L149.2 731.8 L148.3 731.4 L147.5 731 L146.8 730.6 L146.1 730.1 L145.4 729.6 L144.9 729 L144.6 728.5 L144.5 728 L144.9 727.5 L145.7 727 L146.7 726.5 L147.6 726 L148.3 725.5 L148.5 725 L148 724.5 L147 724 L145.8 723.5 L144.5 723 L143.5 722.5 L143 722 L143.1 721.5 L143.5 721 L144.2 720.5 L145 720 L145.8 719.5 L146.5 719 L147.2 718.5 L147.9 718 L148.7 717.5 L149.4 717 L150 716.5 L150.5 716 L150.8 715.5 L151 715 L151.1 714.5 L151.2 714 L151.3 713.5 L151.5 713 L151.8 712.5 L152.3 712 L152.7 711.6 L153.2 711.1 L153.6 710.6 L154 710 L154.3 709.4 L154.5 708.8 L154.7 708.1 L154.9 707.4 L155.1 706.7 L155.3 706 L155.5 705.3 L155.8 704.4 L156 703.6 L156.2 702.8 L156.4 702.2 L156.5 701.7Z" fill="#F1B06C" stroke="#222" stroke-width="0.5" stroke-linejoin="round"/>
<line x1="156.5" y1="701.7" x2="156.5" y2="733" stroke="#111" stroke-width="0.6" />
<rect x="154.9" y="718" width="3.2" height="9" fill="#000" stroke="none" stroke-width="0.6" />
<circle cx="156.5" cy="722" r="2.3" fill="#fff" stroke="#000" stroke-width="0.5"/>
<path d="M186 698.8 L186.2 699.3 L186.4 699.9 L186.7 700.6 L186.9 701.5 L187.2 702.3 L187.5 703 L187.7 703.7 L187.9 704.3 L188.2 705 L188.4 705.7 L188.7 706.3 L189 707 L189.4 707.7 L189.9 708.3 L190.3 709 L190.9 709.7 L191.4 710.3 L192 711 L192.6 711.7 L193.3 712.3 L194 713 L194.7 713.7 L195.4 714.3 L196 715 L196.6 715.7 L197.1 716.4 L197.7 717.1 L198.1 717.7 L198.6 718.4 L199 719 L199.4 719.5 L199.7 720 L200 720.5 L200.3 721 L200.4 721.5 L200.5 722 L200.4 722.6 L200.2 723.3 L200 723.9 L199.6 724.6 L199.3 725.3 L199 726 L198.7 726.7 L198.4 727.4 L198.1 728.1 L197.8 728.7 L197.4 729.4 L197 730 L196.5 730.6 L196 731.2 L195.4 731.8 L194.8 732.3 L194.3 732.7 L194 733 L178 733 L177.7 732.7 L177.2 732.3 L176.6 731.8 L176 731.2 L175.5 730.6 L175 730 L174.6 729.4 L174.2 728.7 L173.9 728.1 L173.6 727.4 L173.3 726.7 L173 726 L172.7 725.3 L172.4 724.6 L172 723.9 L171.8 723.3 L171.6 722.6 L171.5 722 L171.6 721.5 L171.7 721 L172 720.5 L172.3 720 L172.6 719.5 L173 719 L173.4 718.4 L173.9 717.7 L174.3 717.1 L174.9 716.4 L175.4 715.7 L176 715 L176.6 714.3 L177.3 713.7 L178 713 L178.7 712.3 L179.4 711.7 L180 711 L180.6 710.3 L181.1 709.7 L181.7 709 L182.1 708.3 L182.6 707.7 L183 707 L183.3 706.3 L183.6 705.7 L183.8 705 L184.1 704.3 L184.3 703.7 L184.5 703 L184.8 702.3 L185.1 701.5 L185.3 700.6 L185.6 699.9 L185.8 699.3 L186 698.8Z" fill="#EE7E2E" stroke="#222" stroke-width="0.5" stroke-linejoin="round"/>
<line x1="186" y1="698.8" x2="186" y2="733" stroke="#111" stroke-width="0.6" />
<rect x="184.4" y="716" width="3.2" height="10" fill="#000" stroke="none" stroke-width="0.6" />
<circle cx="186" cy="721" r="2.3" fill="#fff" stroke="#000" stroke-width="0.5"/>
<path d="M215.6 712 L215.8 712.4 L216.1 713 L216.5 713.8 L216.9 714.5 L217.2 715.3 L217.6 716 L217.9 716.7 L218.2 717.3 L218.5 718 L218.9 718.7 L219.2 719.3 L219.6 720 L220 720.7 L220.5 721.4 L221 722.1 L221.6 722.7 L222.1 723.4 L222.6 724 L223.1 724.6 L223.6 725.1 L224.1 725.6 L224.6 726 L225.1 726.5 L225.6 727 L226.2 727.5 L226.9 728 L227.6 728.6 L228.3 729.1 L228.8 729.6 L229.1 730 L229.2 730.4 L229.1 730.8 L228.8 731.1 L228.5 731.4 L228.1 731.7 L227.6 732 L227 732.3 L226.3 732.5 L225.5 732.7 L224.7 732.9 L224.1 733.1 L223.6 733.2 L207.6 733.2 L207.1 733.1 L206.5 732.9 L205.7 732.7 L204.9 732.5 L204.2 732.3 L203.6 732 L203.1 731.7 L202.7 731.4 L202.4 731.1 L202.1 730.8 L202 730.4 L202.1 730 L202.4 729.6 L202.9 729.1 L203.6 728.6 L204.3 728 L205 727.5 L205.6 727 L206.1 726.5 L206.6 726 L207.1 725.6 L207.6 725.1 L208.1 724.6 L208.6 724 L209.1 723.4 L209.6 722.7 L210.2 722.1 L210.7 721.4 L211.2 720.7 L211.6 720 L212 719.3 L212.3 718.7 L212.7 718 L213 717.3 L213.3 716.7 L213.6 716 L214 715.3 L214.3 714.5 L214.7 713.8 L215.1 713 L215.4 712.4 L215.6 712Z" fill="#E58B8B" stroke="#222" stroke-width="0.5" stroke-linejoin="round"/>
<line x1="215.6" y1="712" x2="215.6" y2="733.2" stroke="#111" stroke-width="0.6" />
<rect x="214" y="724" width="3.2" height="8" fill="#000" stroke="none" stroke-width="0.6" />
<circle cx="215.6" cy="728" r="2.3" fill="#fff" stroke="#000" stroke-width="0.5"/>
<rect x="50.4" y="698.1" width="182.8" height="35.3" fill="none" stroke="#555" stroke-width="0.8" />
<text x="45.6" y="702" font-size="8.2" text-anchor="end" fill="#111" >0.7</text>
<text x="45.6" y="733.7" font-size="8.2" text-anchor="end" fill="#111" >0</text>
<line x1="48" y1="699.7" x2="50.4" y2="699.7" stroke="#444" stroke-width="0.6" />
<line x1="48" y1="731.8" x2="50.4" y2="731.8" stroke="#444" stroke-width="0.6" />
<text x="236.8" y="720.1" font-size="8.2" text-anchor="start" fill="#111" >T_cell_Attracting_UCell</text>
<text transform="translate(24,675.8) rotate(-90)" font-size="8.2" text-anchor="middle" fill="#111">Expression level</text>
<line x1="67.5" y1="733.4" x2="67.5" y2="735.5" stroke="#444" stroke-width="0.6" />
<line x1="97.6" y1="733.4" x2="97.6" y2="735.5" stroke="#444" stroke-width="0.6" />
<line x1="127" y1="733.4" x2="127" y2="735.5" stroke="#444" stroke-width="0.6" />
<line x1="156.5" y1="733.4" x2="156.5" y2="735.5" stroke="#444" stroke-width="0.6" />
<line x1="186" y1="733.4" x2="186" y2="735.5" stroke="#444" stroke-width="0.6" />
<line x1="215.6" y1="733.4" x2="215.6" y2="735.5" stroke="#444" stroke-width="0.6" />
<text transform="translate(72.6,746.8) rotate(-45)" font-size="8.4" text-anchor="end" fill="#111">Macro_CXCL1</text>
<text transform="translate(103.2,746.8) rotate(-45)" font-size="8.4" text-anchor="end" fill="#111">Macro_FOLR2</text>
<text transform="translate(130.8,746.8) rotate(-45)" font-size="8.4" text-anchor="end" fill="#111">Macro_SPP1</text>
<text transform="translate(160,746.8) rotate(-45)" font-size="8.4" text-anchor="end" fill="#111">Macro_IL1B</text>
<text transform="translate(190,745.3) rotate(-45)" font-size="8.4" text-anchor="end" fill="#111">Macro_APOE</text>
<text transform="translate(217.6,745.3) rotate(-45)" font-size="8.4" text-anchor="end" fill="#111">Mono</text>
<text x="406.2" y="586.5" font-size="9.6" font-weight="bold" fill="#2a1818">g</text>
<rect x="445" y="606.8" width="160.5" height="172.6" fill="#fff" stroke="#aaa" stroke-width="0.6" />
<line x1="445" y1="736.2" x2="605.5" y2="736.2" stroke="#ddd" stroke-width="0.5" />
<line x1="445" y1="693.1" x2="605.5" y2="693.1" stroke="#ddd" stroke-width="0.5" />
<line x1="445" y1="649.9" x2="605.5" y2="649.9" stroke="#ddd" stroke-width="0.5" />
<rect x="446.3" y="606.8" width="33.1" height="5.2" fill="#8FC1DC" stroke="#222" stroke-width="0.6" />
<rect x="446.3" y="612" width="33.1" height="11.9" fill="#1F6DAB" stroke="#222" stroke-width="0.6" />
<rect x="446.3" y="623.9" width="33.1" height="37.3" fill="#98C98B" stroke="#222" stroke-width="0.6" />
<rect x="446.3" y="661.2" width="33.1" height="46.8" fill="#2E9446" stroke="#222" stroke-width="0.6" />
<rect x="446.3" y="707.9" width="33.1" height="24.2" fill="#F1B06C" stroke="#222" stroke-width="0.6" />
<rect x="446.3" y="732.1" width="33.1" height="27.1" fill="#EE7E2E" stroke="#222" stroke-width="0.6" />
<rect x="446.3" y="759.2" width="33.1" height="7.1" fill="#E58B8B" stroke="#222" stroke-width="0.6" />
<rect x="446.3" y="766.3" width="33.1" height="8.5" fill="#D9232D" stroke="#222" stroke-width="0.6" />
<rect x="446.3" y="774.7" width="33.1" height="2.6" fill="#B6A5CA" stroke="#222" stroke-width="0.6" />
<rect x="446.3" y="777.3" width="33.1" height="2.1" fill="#5B3F8F" stroke="#222" stroke-width="0.6" />
<rect x="487.8" y="606.8" width="33.1" height="4.5" fill="#8FC1DC" stroke="#222" stroke-width="0.6" />
<rect x="487.8" y="611.3" width="33.1" height="16.6" fill="#1F6DAB" stroke="#222" stroke-width="0.6" />
<rect x="487.8" y="627.9" width="33.1" height="38" fill="#98C98B" stroke="#222" stroke-width="0.6" />
<rect x="487.8" y="665.8" width="33.1" height="43.7" fill="#2E9446" stroke="#222" stroke-width="0.6" />
<rect x="487.8" y="709.5" width="33.1" height="24" fill="#F1B06C" stroke="#222" stroke-width="0.6" />
<rect x="487.8" y="733.5" width="33.1" height="22.8" fill="#EE7E2E" stroke="#222" stroke-width="0.6" />
<rect x="487.8" y="756.3" width="33.1" height="7.6" fill="#E58B8B" stroke="#222" stroke-width="0.6" />
<rect x="487.8" y="763.9" width="33.1" height="9" fill="#D9232D" stroke="#222" stroke-width="0.6" />
<rect x="487.8" y="772.8" width="33.1" height="4" fill="#B6A5CA" stroke="#222" stroke-width="0.6" />
<rect x="487.8" y="776.8" width="33.1" height="2.6" fill="#5B3F8F" stroke="#222" stroke-width="0.6" />
<rect x="529.8" y="606.8" width="33.1" height="6.6" fill="#8FC1DC" stroke="#222" stroke-width="0.6" />
<rect x="529.8" y="613.4" width="33.1" height="7.1" fill="#1F6DAB" stroke="#222" stroke-width="0.6" />
<rect x="529.8" y="620.4" width="33.1" height="31.8" fill="#98C98B" stroke="#222" stroke-width="0.6" />
<rect x="529.8" y="652.2" width="33.1" height="34.2" fill="#2E9446" stroke="#222" stroke-width="0.6" />
<rect x="529.8" y="686.4" width="33.1" height="21.1" fill="#F1B06C" stroke="#222" stroke-width="0.6" />
<rect x="529.8" y="707.4" width="33.1" height="15" fill="#EE7E2E" stroke="#222" stroke-width="0.6" />
<rect x="529.8" y="722.4" width="33.1" height="16.1" fill="#E58B8B" stroke="#222" stroke-width="0.6" />
<rect x="529.8" y="738.5" width="33.1" height="17.6" fill="#D9232D" stroke="#222" stroke-width="0.6" />
<rect x="529.8" y="756.1" width="33.1" height="19.2" fill="#B6A5CA" stroke="#222" stroke-width="0.6" />
<rect x="529.8" y="775.3" width="33.1" height="4.1" fill="#5B3F8F" stroke="#222" stroke-width="0.6" />
<rect x="571.9" y="606.8" width="33.1" height="4.5" fill="#8FC1DC" stroke="#222" stroke-width="0.6" />
<rect x="571.9" y="611.3" width="33.1" height="9.1" fill="#1F6DAB" stroke="#222" stroke-width="0.6" />
<rect x="571.9" y="620.4" width="33.1" height="38.7" fill="#98C98B" stroke="#222" stroke-width="0.6" />
<rect x="571.9" y="659.1" width="33.1" height="24.2" fill="#2E9446" stroke="#222" stroke-width="0.6" />
<rect x="571.9" y="683.3" width="33.1" height="18.1" fill="#F1B06C" stroke="#222" stroke-width="0.6" />
<rect x="571.9" y="701.4" width="33.1" height="8.6" fill="#EE7E2E" stroke="#222" stroke-width="0.6" />
<rect x="571.9" y="710" width="33.1" height="26.1" fill="#E58B8B" stroke="#222" stroke-width="0.6" />
<rect x="571.9" y="736.1" width="33.1" height="31.2" fill="#D9232D" stroke="#222" stroke-width="0.6" />
<rect x="571.9" y="767.3" width="33.1" height="5" fill="#B6A5CA" stroke="#222" stroke-width="0.6" />
<rect x="571.9" y="772.3" width="33.1" height="7.1" fill="#5B3F8F" stroke="#222" stroke-width="0.6" />
<line x1="445" y1="606.8" x2="445" y2="779.4" stroke="#444" stroke-width="0.7" />
<line x1="445" y1="779.4" x2="605.5" y2="779.4" stroke="#444" stroke-width="0.7" />
<text x="439" y="609.7" font-size="8.2" text-anchor="end" fill="#111" >100%</text>
<line x1="442.5" y1="606.8" x2="445" y2="606.8" stroke="#444" stroke-width="0.6" />
<text x="439" y="652.8" font-size="8.2" text-anchor="end" fill="#111" >75%</text>
<line x1="442.5" y1="649.9" x2="445" y2="649.9" stroke="#444" stroke-width="0.6" />
<text x="439" y="696" font-size="8.2" text-anchor="end" fill="#111" >50%</text>
<line x1="442.5" y1="693.1" x2="445" y2="693.1" stroke="#444" stroke-width="0.6" />
<text x="439" y="739.1" font-size="8.2" text-anchor="end" fill="#111" >25%</text>
<line x1="442.5" y1="736.2" x2="445" y2="736.2" stroke="#444" stroke-width="0.6" />
<text x="439" y="782.3" font-size="8.2" text-anchor="end" fill="#111" >0%</text>
<line x1="442.5" y1="779.4" x2="445" y2="779.4" stroke="#444" stroke-width="0.6" />
<line x1="462.8" y1="779.4" x2="462.8" y2="781.4" stroke="#444" stroke-width="0.6" />
<line x1="504.5" y1="779.4" x2="504.5" y2="781.4" stroke="#444" stroke-width="0.6" />
<line x1="546.5" y1="779.4" x2="546.5" y2="781.4" stroke="#444" stroke-width="0.6" />
<line x1="588.3" y1="779.4" x2="588.3" y2="781.4" stroke="#444" stroke-width="0.6" />
<text transform="translate(412.5,701.4) rotate(-90)" font-size="8.2" text-anchor="middle" fill="#111">Percentage</text>
<text transform="translate(468.9,790.5) rotate(-45)" font-size="8.6" text-anchor="end" fill="#111">GSE195832_Ctrl</text>
<text transform="translate(509.8,791.1) rotate(-45)" font-size="8.6" text-anchor="end" fill="#111">GSE195832_aPD−1</text>
<text transform="translate(550.7,792) rotate(-45)" font-size="8.6" text-anchor="end" fill="#111">IHD_Ctrl</text>
<text transform="translate(593,791) rotate(-45)" font-size="8.6" text-anchor="end" fill="#111">IHD_LDR + aPD−1 + Chemo</text>
<rect x="611.8" y="645.9" width="10.8" height="11" fill="#8FC1DC" stroke="#333" stroke-width="0.8" />
<text x="627.3" y="654.1" font-size="8.2" text-anchor="start" fill="#111" >Mono</text>
<rect x="611.8" y="656.9" width="10.8" height="11" fill="#1F6DAB" stroke="#333" stroke-width="0.8" />
<text x="627.3" y="665.1" font-size="8.2" text-anchor="start" fill="#111" >Macro_CXCL1</text>
<rect x="611.8" y="667.9" width="10.8" height="11" fill="#98C98B" stroke="#333" stroke-width="0.8" />
<text x="627.3" y="676.1" font-size="8.2" text-anchor="start" fill="#111" >Macro_FOLR2</text>
<rect x="611.8" y="678.8" width="10.8" height="11" fill="#2E9446" stroke="#333" stroke-width="0.8" />
<text x="627.3" y="687" font-size="8.2" text-anchor="start" fill="#111" >Macro_IL1B</text>
<rect x="611.8" y="689.8" width="10.8" height="11" fill="#F1B06C" stroke="#333" stroke-width="0.8" />
<text x="627.3" y="698" font-size="8.2" text-anchor="start" fill="#111" >Macro_SPP1</text>
<rect x="611.8" y="700.8" width="10.8" height="11" fill="#EE7E2E" stroke="#333" stroke-width="0.8" />
<text x="627.3" y="709" font-size="8.2" text-anchor="start" fill="#111" >Macro_APOE</text>
<rect x="611.8" y="711.8" width="10.8" height="11" fill="#E58B8B" stroke="#333" stroke-width="0.8" />
<text x="627.3" y="720" font-size="8.2" text-anchor="start" fill="#111" >cDC1_CLEC9A</text>
<rect x="611.8" y="722.8" width="10.8" height="11" fill="#D9232D" stroke="#333" stroke-width="0.8" />
<text x="627.3" y="731" font-size="8.2" text-anchor="start" fill="#111" >cDC2_CD1A</text>
<rect x="611.8" y="733.7" width="10.8" height="11" fill="#B6A5CA" stroke="#333" stroke-width="0.8" />
<text x="627.3" y="741.9" font-size="8.2" text-anchor="start" fill="#111" >cDC3_LAMP3</text>
<rect x="611.8" y="744.7" width="10.8" height="11" fill="#5B3F8F" stroke="#333" stroke-width="0.8" />
<text x="627.3" y="752.9" font-size="8.2" text-anchor="start" fill="#111" >pDC_LILRA4</text>
<text x="2" y="826" font-size="9.6" font-weight="bold" fill="#2a1818">h</text>
<text x="132" y="823.7" font-size="9.0" text-anchor="middle" fill="#111" >Macro_APOE</text>
<text x="103" y="845.8" font-size="8.5" fill="#C0595F">+</text>
<text x="110.8" y="843.8" font-size="8.5" text-anchor="start" fill="#111" >High (69)</text>
<text x="103" y="856.9" font-size="8.5" fill="#4B8CC5">+</text>
<text x="110.8" y="854.9" font-size="8.5" text-anchor="start" fill="#111" >Low (431)</text>
<text x="125.9" y="872.3" font-size="8.2" fill="#111"><tspan font-style="italic">p</tspan> = 0.005</text>
<text x="125.9" y="882.4" font-size="8.2" fill="#111">Bonferroni <tspan font-style="italic">p</tspan> = 0.025</text>
<line x1="78.2" y1="853.9" x2="78.2" y2="969.7" stroke="#333" stroke-width="0.6" />
<line x1="78.2" y1="969.7" x2="213.5" y2="969.7" stroke="#333" stroke-width="0.6" />
<text x="76.4" y="860.8" font-size="5.2" text-anchor="end" fill="#111" >1.00</text>
<line x1="76.5" y1="858.9" x2="78.2" y2="858.9" stroke="#333" stroke-width="0.5" />
<text x="76.4" y="887.1" font-size="5.2" text-anchor="end" fill="#111" >0.75</text>
<line x1="76.5" y1="885.2" x2="78.2" y2="885.2" stroke="#333" stroke-width="0.5" />
<text x="76.4" y="913.4" font-size="5.2" text-anchor="end" fill="#111" >0.50</text>
<line x1="76.5" y1="911.5" x2="78.2" y2="911.5" stroke="#333" stroke-width="0.5" />
<text x="76.4" y="939.6" font-size="5.2" text-anchor="end" fill="#111" >0.25</text>
<line x1="76.5" y1="937.7" x2="78.2" y2="937.7" stroke="#333" stroke-width="0.5" />
<text x="76.4" y="965.9" font-size="5.2" text-anchor="end" fill="#111" >0.00</text>
<line x1="76.5" y1="964" x2="78.2" y2="964" stroke="#333" stroke-width="0.5" />
<line x1="84.6" y1="969.7" x2="84.6" y2="971.5" stroke="#333" stroke-width="0.5" />
<text x="84.6" y="977" font-size="5.4" text-anchor="middle" fill="#111" >0</text>
<line x1="124.6" y1="969.7" x2="124.6" y2="971.5" stroke="#333" stroke-width="0.5" />
<text x="124.6" y="977" font-size="5.4" text-anchor="middle" fill="#111" >2000</text>
<line x1="164.7" y1="969.7" x2="164.7" y2="971.5" stroke="#333" stroke-width="0.5" />
<text x="164.7" y="977" font-size="5.4" text-anchor="middle" fill="#111" >4000</text>
<line x1="204.7" y1="969.7" x2="204.7" y2="971.5" stroke="#333" stroke-width="0.5" />
<text x="204.7" y="977" font-size="5.4" text-anchor="middle" fill="#111" >6000</text>
<text x="144.4" y="981.5" font-size="7" text-anchor="middle" fill="#111" >Time</text>
<text transform="translate(62.4,911) rotate(-90)" font-size="6.4" text-anchor="middle" fill="#111">Survival probability</text>
<path d="M84.5 858.9H86.1V860.8H87.7V862.7H89.3V865.9H90.9V869H93V877.5H95.1V888.1H96.7V889.7H98.3V891.3H99.7V892.4H101.1V893.4H102.5V894.5H103.8V896.4H105.2V898.2H106.5V900H107.8V901.9H109.1V902.4H110.4V903H111.8V903.5H113.1V904H114.4V905H115.8V906.1H117.1V907.2H118.4V908.2H120.5V912.4H121.8V913.7H123.2V915H124.5V916.4H125.8V917.7H127.1V917.8H128.4V918H129.8V918.1H131.1V918.2H132.4V918.4H133.8V918.5H135.1V918.7H136.4V918.8H138.5V924.1H139.9V924.8H141.3V925.5H142.7V926.2H144.1V927.6H145.6V929H147V930.4H148.4V931.5H149.8V932.5H151.2V933.6" fill="none" stroke="#4B8CC5" stroke-width="0.9"/>
<path d="M151.2 933.6H152.4V933.6H153.7V933.6H154.9V933.6H156.1V933.6H157.3V933.6H158.6V933.6H159.8V933.6H161V933.6H162.2V933.6H163.5V933.6H164.7V933.6H165.9V933.6H167.1V933.6H168.4V933.6H169.6V933.6H170.8V933.6H172V933.6H173.3V933.6H174.5V933.6H175.9V935.4H177.3V937.1H178.7V938.9H180.3V943.1H181.9V947.4H183.1V947.9H184.4V948.5H185.6V949H186.8V949.5H188.1V950.1H189.3V950.6H190.5V950.7H191.8V950.7H193V950.8H194.2V950.8H195.4V950.9H196.7V950.9H197.9V951H199.1V951H200.3V951.1H201.6V951.1H202.8V951.2H204V951.2H205.2V951.3H206.5V951.3H207.7V951.4H208.9V951.4H210.1V951.5H211.4V951.5H212.6V951.6H213.7V962.2" fill="none" stroke="#4B8CC5" stroke-width="0.8" stroke-dasharray="5,2.5" stroke-opacity="0.85"/>
<path d="M84.5 858.9H86.1V862.9H87.7V866.9H89.8V872.2H91.9V880.7H93.5V886.5H95.1V892.3H97.2V902.9H99.3V911.4H100.9V913.5H102.5V915.6H103.9V916.3H105.4V917H106.8V917.7H108.1V918.8H109.4V919.9H110.8V920.9H112.1V922H113.4V922.8H114.7V923.5H116V924.3H117.3V925.1H119.5V928.7H120.8V928.7H122V928.7H123.3V928.7H124.5V928.7H125.8V928.7H126.2V943.1H127.4V943.1H128.7V943.1H129.9V943.1H131.1V943.1H131.7V949.5H132.9V949.5H134.2V949.5H135.4V949.5H136.6V949.5H137.8V949.5H139.1V949.5H140.3V949.5H141.5V949.5H142.7V949.5H144V949.5H145.2V949.5H146.4V949.5H147.6V949.5H148.9V949.5H150.1V949.5" fill="none" stroke="#C0595F" stroke-width="0.9"/>
<path d="M90.7 873.6h2.6M92 872.3v2.6M95.7 890h2.6M97 888.7v2.6M119.5 912.7h2.6M120.8 911.4v2.6M85.9 862.1h2.6M87.2 860.8v2.6M90.1 871h2.6M91.4 869.7v2.6M211.8 956.6h2.6M213.1 955.3v2.6M161 933.6h2.6M162.3 932.3v2.6M120 913.2h2.6M121.3 911.9v2.6M123.8 917h2.6M125.1 915.7v2.6M110.4 903.5h2.6M111.7 902.2v2.6M125.2 917.8h2.6M126.5 916.5v2.6M143.9 928.7h2.6M145.2 927.4v2.6M91.8 877.8h2.6M93.1 876.5v2.6M175.2 936.1h2.6M176.5 934.8v2.6M136.9 923.5h2.6M138.2 922.2v2.6M137 923.7h2.6M138.3 922.4v2.6M96.4 890.7h2.6M97.7 889.4v2.6M106.2 901.4h2.6M107.5 900.1v2.6M173.6 934.1h2.6M174.9 932.8v2.6M83.9 859.7h2.6M85.2 858.4v2.6M198.2 951h2.6M199.5 949.7v2.6M120.8 914h2.6M122.1 912.7v2.6M108.5 902.7h2.6M109.8 901.4v2.6M95.7 890h2.6M97 888.7v2.6M119 912h2.6M120.3 910.7v2.6M134.3 918.7h2.6M135.6 917.4v2.6M177.4 938.9h2.6M178.7 937.6v2.6M126.2 917.9h2.6M127.5 916.6v2.6M177.3 938.7h2.6M178.6 937.4v2.6M179.2 943.7h2.6M180.5 942.4v2.6M135.5 919.9h2.6M136.8 918.6v2.6M163.3 933.6h2.6M164.6 932.3v2.6M89.7 869.5h2.6M91 868.2v2.6M177.4 938.8h2.6M178.7 937.5v2.6M85.8 861.9h2.6M87.1 860.6v2.6M97.6 891.8h2.6M98.9 890.5v2.6M93.3 885.6h2.6M94.6 884.3v2.6M173.4 933.8h2.6M174.7 932.5v2.6M119.4 912.6h2.6M120.7 911.3v2.6M135.8 920.6h2.6M137.1 919.3v2.6M177.3 938.8h2.6M178.6 937.5v2.6M111.8 904h2.6M113.1 902.7v2.6M91.9 878.3h2.6M93.2 877v2.6M117.2 908.3h2.6M118.5 907v2.6M87.7 865.3h2.6M89 864v2.6M117.4 908.9h2.6M118.7 907.6v2.6M86 862.2h2.6M87.3 860.9v2.6M93.7 887.7h2.6M95 886.4v2.6M178.6 942.1h2.6M179.9 940.8v2.6M104 898.3h2.6M105.3 897v2.6M122.4 915.6h2.6M123.7 914.3v2.6M115.1 906.6h2.6M116.4 905.3v2.6M184.4 949h2.6M185.7 947.7v2.6M100 893.6h2.6M101.3 892.3v2.6M90.2 871.6h2.6M91.5 870.3v2.6M211.9 957.1h2.6M213.2 955.8v2.6M111.9 904h2.6M113.2 902.7v2.6M99.4 893.2h2.6M100.7 891.9v2.6M85.2 861.2h2.6M86.5 859.9v2.6M119.5 912.7h2.6M120.8 911.4v2.6M121.7 914.9h2.6M123 913.6v2.6M128.2 918.1h2.6M129.5 916.8v2.6M136.6 922.7h2.6M137.9 921.4v2.6M83.4 859.1h2.6M84.7 857.8v2.6M134.7 918.8h2.6M136 917.5v2.6M90.6 872.9h2.6M91.9 871.6v2.6M117.8 909.5h2.6M119.1 908.2v2.6M94.8 889.1h2.6M96.1 887.8v2.6M95.7 890h2.6M97 888.7v2.6M92.5 881.5h2.6M93.8 880.2v2.6M141.5 926.3h2.6M142.8 925v2.6M115.7 907.1h2.6M117 905.8v2.6M92.2 879.9h2.6M93.5 878.6v2.6M146.7 931.2h2.6M148 929.9v2.6M87.8 865.4h2.6M89.1 864.1v2.6M135.3 919.3h2.6M136.6 918v2.6M92.4 881h2.6M93.7 879.7v2.6M160.1 933.6h2.6M161.4 932.3v2.6M173.9 934.5h2.6M175.2 933.2v2.6M93.1 884.4h2.6M94.4 883.1v2.6M178.8 942.7h2.6M180.1 941.4v2.6M89.9 870h2.6M91.2 868.7v2.6M107.5 902.3h2.6M108.8 901v2.6M149.2 933.1h2.6M150.5 931.8v2.6M87.3 864.5h2.6M88.6 863.2v2.6M148.4 932.5h2.6M149.7 931.2v2.6M147.2 931.5h2.6M148.5 930.2v2.6M84.1 860h2.6M85.4 858.7v2.6M146.8 931.3h2.6M148.1 930v2.6M95.1 889.4h2.6M96.4 888.1v2.6M98.7 892.6h2.6M100 891.3v2.6M181.8 947.9h2.6M183.1 946.6v2.6M86.2 862.5h2.6M87.5 861.2v2.6M177.3 938.8h2.6M178.6 937.5v2.6M101 894.3h2.6M102.3 893v2.6M182.2 948.1h2.6M183.5 946.8v2.6M140.7 925.9h2.6M142 924.6v2.6M130 918.3h2.6M131.3 917v2.6M92.4 881.1h2.6M93.7 879.8v2.6M89.7 869.6h2.6M91 868.3v2.6M117.7 909.4h2.6M119 908.1v2.6M145.9 930.5h2.6M147.2 929.2v2.6M179.6 944.8h2.6M180.9 943.5v2.6M187.2 950.3h2.6M188.5 949v2.6M179.2 943.8h2.6M180.5 942.5v2.6M85.6 861.7h2.6M86.9 860.4v2.6M87.4 864.6h2.6M88.7 863.3v2.6M130.1 918.3h2.6M131.4 917v2.6M100.9 894.3h2.6M102.2 893v2.6M121 914.2h2.6M122.3 912.9v2.6" stroke="#4B8CC5" stroke-width="0.6" fill="none"/>
<path d="M88.2 871.5h2.6M89.5 870.2v2.6M95.4 900.6h2.6M96.7 899.3v2.6M91.2 883h2.6M92.5 881.7v2.6M97.6 909.8h2.6M98.9 908.5v2.6M85.7 865.2h2.6M87 863.9v2.6M130.3 948.3h2.6M131.6 947v2.6M118.2 928.7h2.6M119.5 927.4v2.6M104.9 917.4h2.6M106.2 916.1v2.6M84.1 861.1h2.6M85.4 859.8v2.6M87.5 869.7h2.6M88.8 868.4v2.6M94.8 897.3h2.6M96.1 896v2.6M116 925.1h2.6M117.3 923.8v2.6M83.6 859.9h2.6M84.9 858.6v2.6M83.4 859.4h2.6M84.7 858.1v2.6M146.1 949.5h2.6M147.4 948.2v2.6M84.8 862.9h2.6M86.1 861.6v2.6" stroke="#C0595F" stroke-width="0.6" fill="none"/>
<line x1="4" y1="970" x2="4" y2="971.5" stroke="#999" stroke-width="0.5" />
<line x1="44" y1="970" x2="44" y2="971.5" stroke="#999" stroke-width="0.5" />
</svg></body></html>
